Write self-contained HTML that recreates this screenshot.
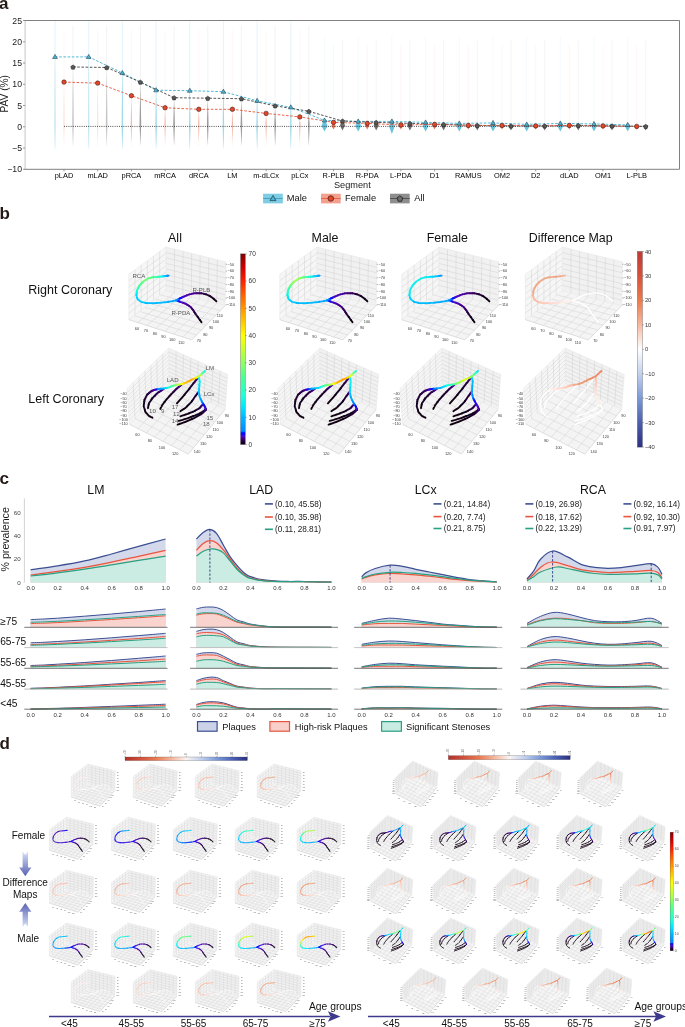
<!DOCTYPE html>
<html><head><meta charset="utf-8"><style>
html,body{margin:0;padding:0;background:#fff;}
svg{display:block;font-family:"Liberation Sans",sans-serif;-webkit-font-smoothing:antialiased;}
body{will-change:transform;}
</style></head><body>
<svg width="685" height="1027" viewBox="0 0 685 1027" fill="#222" font-family="Liberation Sans, sans-serif">
<defs><linearGradient id="gjet" x1="0" y1="0" x2="0" y2="1"><stop offset="0.0000" stop-color="#800000"/><stop offset="0.0714" stop-color="#d00000"/><stop offset="0.1429" stop-color="#ff2000"/><stop offset="0.2143" stop-color="#ff6000"/><stop offset="0.2857" stop-color="#ff9600"/><stop offset="0.3571" stop-color="#ffc800"/><stop offset="0.4286" stop-color="#ffff00"/><stop offset="0.5000" stop-color="#c8ff30"/><stop offset="0.5714" stop-color="#90ff60"/><stop offset="0.6429" stop-color="#50ff90"/><stop offset="0.7429" stop-color="#20ffd8"/><stop offset="0.8000" stop-color="#00e8ff"/><stop offset="0.8571" stop-color="#00b8ff"/><stop offset="0.9300" stop-color="#0088ff"/><stop offset="0.9386" stop-color="#0010ff"/><stop offset="0.9471" stop-color="#1400ff"/><stop offset="0.9543" stop-color="#3c10d8"/><stop offset="0.9629" stop-color="#5000a8"/><stop offset="0.9829" stop-color="#24003a"/><stop offset="1.0000" stop-color="#0a000c"/></linearGradient><linearGradient id="grdbu" x1="0" y1="0" x2="0" y2="1"><stop offset="0.0000" stop-color="#c03a36"/><stop offset="0.1250" stop-color="#d9503a"/><stop offset="0.2500" stop-color="#ee7a4a"/><stop offset="0.3750" stop-color="#f7b8a0"/><stop offset="0.5000" stop-color="#ffffff"/><stop offset="0.6250" stop-color="#c3d1ee"/><stop offset="0.7500" stop-color="#7b9ad8"/><stop offset="0.8750" stop-color="#4a5fb0"/><stop offset="1.0000" stop-color="#2e2f84"/></linearGradient><linearGradient id="grdbuh" x1="0" y1="0" x2="1" y2="0"><stop offset="0.0000" stop-color="#b2302a"/><stop offset="0.1250" stop-color="#d0503a"/><stop offset="0.2500" stop-color="#e8784f"/><stop offset="0.3750" stop-color="#f5b49a"/><stop offset="0.5000" stop-color="#fbf4f2"/><stop offset="0.6250" stop-color="#c0cfee"/><stop offset="0.7500" stop-color="#7d9bd8"/><stop offset="0.8750" stop-color="#4b62b8"/><stop offset="1.0000" stop-color="#2b2f80"/></linearGradient><linearGradient id="garrd" x1="0" y1="0" x2="0" y2="1"><stop offset="0" stop-color="#d7e1f6"/><stop offset="1" stop-color="#5a61b4"/></linearGradient><linearGradient id="garru" x1="0" y1="1" x2="0" y2="0"><stop offset="0" stop-color="#d7e1f6"/><stop offset="1" stop-color="#5a61b4"/></linearGradient><g id="rcbox" font-family="Liberation Sans, sans-serif"><path d="M128.8,274.2L165.9,247.0L165.9,290.8L128.8,319.7Z" fill="#f6f6f6"/><path d="M165.9,247.0L226.0,261.9L225.1,305.7L165.9,290.8Z" fill="#f1f1f1"/><path d="M128.8,319.7L165.9,290.8L225.1,305.7L191.8,339.9Z" fill="#f4f4f4"/><path d="M135.0,269.7L135.0,314.9M141.2,265.1L141.2,310.1M147.4,260.6L147.4,305.2M153.5,256.1L153.5,300.4M159.7,251.5L159.7,295.6M128.8,280.7L165.9,253.3M128.8,287.2L165.9,259.5M128.8,293.7L165.9,265.8M128.8,300.2L165.9,272.0M128.8,306.7L165.9,278.3M128.8,313.2L165.9,284.5M174.5,249.1L174.4,292.9M183.1,251.3L182.8,295.1M191.7,253.4L191.3,297.2M200.2,255.5L199.7,299.3M208.8,257.6L208.2,301.4M217.4,259.8L216.6,303.6M165.9,252.5L225.9,267.4M165.9,257.9L225.8,272.8M165.9,263.4L225.7,278.3M165.9,268.9L225.6,283.8M165.9,274.4L225.4,289.3M165.9,279.9L225.3,294.8M165.9,285.3L225.2,300.2M134.1,315.6L196.6,335.0M139.4,311.4L201.3,330.1M144.7,307.3L206.1,325.2M150.0,303.2L210.8,320.4M155.3,299.1L215.6,315.5M160.6,294.9L220.3,310.6M137.8,322.6L174.4,292.9M146.8,325.5L182.8,295.1M155.8,328.4L191.3,297.2M164.8,331.2L199.7,299.3M173.8,334.1L208.2,301.4M182.8,337.0L216.6,303.6" stroke="#cecece" stroke-width="0.45" fill="none"/><path d="M128.8,319.7L128.8,274.2L165.9,247.0L226.0,261.9L225.1,305.7M165.9,247.0L165.9,290.8L128.8,319.7M165.9,290.8L225.1,305.7" stroke="#e2e2e2" stroke-width="0.45" fill="none"/><path d="M128.8,319.7L191.8,339.9L225.1,305.7" stroke="#c8c8c8" stroke-width="0.54" fill="none"/><path d="M225.6,264.3h1.4M225.6,271.1h1.4M225.6,277.8h1.4M225.6,284.6h1.4M225.6,291.3h1.4M225.6,298.1h1.4M225.6,304.8h1.4" stroke="#555" stroke-width="0.4"/><text x="230.9" y="265.6" font-size="3.9" text-anchor="middle" fill="#3a3a3a">−50</text><text x="230.9" y="272.4" font-size="3.9" text-anchor="middle" fill="#3a3a3a">−60</text><text x="230.9" y="279.1" font-size="3.9" text-anchor="middle" fill="#3a3a3a">−70</text><text x="230.9" y="285.9" font-size="3.9" text-anchor="middle" fill="#3a3a3a">−80</text><text x="230.9" y="292.6" font-size="3.9" text-anchor="middle" fill="#3a3a3a">−90</text><text x="230.9" y="299.4" font-size="3.9" text-anchor="middle" fill="#3a3a3a">−100</text><text x="230.9" y="306.1" font-size="3.9" text-anchor="middle" fill="#3a3a3a">−110</text><text x="137.0" y="329.7" font-size="3.9" text-anchor="middle" fill="#3a3a3a">60</text><text x="146.0" y="332.3" font-size="3.9" text-anchor="middle" fill="#3a3a3a">70</text><text x="155.0" y="334.9" font-size="3.9" text-anchor="middle" fill="#3a3a3a">80</text><text x="163.4" y="337.6" font-size="3.9" text-anchor="middle" fill="#3a3a3a">90</text><text x="172.2" y="341.1" font-size="3.9" text-anchor="middle" fill="#3a3a3a">100</text><text x="181.3" y="343.7" font-size="3.9" text-anchor="middle" fill="#3a3a3a">110</text><text x="198.8" y="341.9" font-size="3.9" text-anchor="middle" fill="#3a3a3a">70</text><text x="205.3" y="335.8" font-size="3.9" text-anchor="middle" fill="#3a3a3a">80</text><text x="211.1" y="328.8" font-size="3.9" text-anchor="middle" fill="#3a3a3a">90</text><text x="216.0" y="322.7" font-size="3.9" text-anchor="middle" fill="#3a3a3a">100</text><text x="219.9" y="316.5" font-size="3.9" text-anchor="middle" fill="#3a3a3a">110</text></g><g id="lcbox" font-family="Liberation Sans, sans-serif"><path d="M127.0,388.4L168.7,348.1L168.7,383.5L129.5,424.3Z" fill="#f6f6f6"/><path d="M168.7,348.1L227.7,374.4L225.1,409.4L168.7,383.5Z" fill="#f1f1f1"/><path d="M129.5,424.3L168.7,383.5L225.1,409.4L188.3,454.1Z" fill="#f4f4f4"/><path d="M133.0,382.6L135.1,418.5M138.9,376.9L140.7,412.6M144.9,371.1L146.3,406.8M150.8,365.4L151.9,401.0M156.8,359.6L157.5,395.2M162.7,353.9L163.1,389.3M127.3,392.4L168.7,352.0M127.6,396.4L168.7,356.0M127.8,400.4L168.7,359.9M128.1,404.4L168.7,363.8M128.4,408.3L168.7,367.8M128.7,412.3L168.7,371.7M128.9,416.3L168.7,375.6M129.2,420.3L168.7,379.6M176.1,351.4L175.8,386.7M183.4,354.7L182.8,390.0M190.8,358.0L189.8,393.2M198.2,361.2L196.9,396.4M205.6,364.5L203.9,399.7M212.9,367.8L211.0,402.9M220.3,371.1L218.1,406.2M168.7,352.0L227.4,378.3M168.7,356.0L227.1,382.2M168.7,359.9L226.8,386.1M168.7,363.8L226.5,390.0M168.7,367.8L226.3,393.8M168.7,371.7L226.0,397.7M168.7,375.6L225.7,401.6M168.7,379.6L225.4,405.5M135.1,418.5L193.6,447.7M140.7,412.6L198.8,441.3M146.3,406.8L204.1,434.9M151.9,401.0L209.3,428.6M157.5,395.2L214.6,422.2M163.1,389.3L219.8,415.8M137.9,428.6L176.8,387.2M146.3,432.8L184.8,390.9M154.7,437.1L192.9,394.6M163.1,441.3L200.9,398.3M171.5,445.6L209.0,402.0M179.9,449.8L217.0,405.7" stroke="#cecece" stroke-width="0.45" fill="none"/><path d="M129.5,424.3L127.0,388.4L168.7,348.1L227.7,374.4L225.1,409.4M168.7,348.1L168.7,383.5L129.5,424.3M168.7,383.5L225.1,409.4" stroke="#e2e2e2" stroke-width="0.45" fill="none"/><path d="M129.5,424.3L188.3,454.1L225.1,409.4" stroke="#c8c8c8" stroke-width="0.54" fill="none"/><text x="123.5" y="395.2" font-size="3.9" text-anchor="middle" fill="#3a3a3a">−40</text><text x="123.5" y="399.5" font-size="3.9" text-anchor="middle" fill="#3a3a3a">−50</text><text x="123.5" y="403.8" font-size="3.9" text-anchor="middle" fill="#3a3a3a">−60</text><text x="123.5" y="408.1" font-size="3.9" text-anchor="middle" fill="#3a3a3a">−70</text><text x="123.5" y="412.4" font-size="3.9" text-anchor="middle" fill="#3a3a3a">−80</text><text x="123.5" y="416.7" font-size="3.9" text-anchor="middle" fill="#3a3a3a">−90</text><text x="123.5" y="421.0" font-size="3.9" text-anchor="middle" fill="#3a3a3a">−100</text><text x="123.5" y="425.3" font-size="3.9" text-anchor="middle" fill="#3a3a3a">−110</text><text x="137.5" y="436.1" font-size="3.9" text-anchor="middle" fill="#3a3a3a">60</text><text x="149.8" y="442.2" font-size="3.9" text-anchor="middle" fill="#3a3a3a">80</text><text x="162.0" y="448.7" font-size="3.9" text-anchor="middle" fill="#3a3a3a">100</text><text x="175.2" y="454.8" font-size="3.9" text-anchor="middle" fill="#3a3a3a">120</text><text x="226.9" y="416.8" font-size="3.9" text-anchor="middle" fill="#3a3a3a">90</text><text x="219.9" y="424.2" font-size="3.9" text-anchor="middle" fill="#3a3a3a">100</text><text x="215.5" y="430.8" font-size="3.9" text-anchor="middle" fill="#3a3a3a">110</text><text x="209.3" y="437.8" font-size="3.9" text-anchor="middle" fill="#3a3a3a">120</text><text x="203.2" y="444.8" font-size="3.9" text-anchor="middle" fill="#3a3a3a">130</text><text x="197.1" y="452.7" font-size="3.9" text-anchor="middle" fill="#3a3a3a">140</text></g><g id="rcbox_s" font-family="Liberation Sans, sans-serif"><path d="M128.8,274.2L165.9,247.0L165.9,290.8L128.8,319.7Z" fill="#f6f6f6"/><path d="M165.9,247.0L226.0,261.9L225.1,305.7L165.9,290.8Z" fill="#f1f1f1"/><path d="M128.8,319.7L165.9,290.8L225.1,305.7L191.8,339.9Z" fill="#f4f4f4"/><path d="M135.0,269.7L135.0,314.9M141.2,265.1L141.2,310.1M147.4,260.6L147.4,305.2M153.5,256.1L153.5,300.4M159.7,251.5L159.7,295.6M128.8,280.7L165.9,253.3M128.8,287.2L165.9,259.5M128.8,293.7L165.9,265.8M128.8,300.2L165.9,272.0M128.8,306.7L165.9,278.3M128.8,313.2L165.9,284.5M174.5,249.1L174.4,292.9M183.1,251.3L182.8,295.1M191.7,253.4L191.3,297.2M200.2,255.5L199.7,299.3M208.8,257.6L208.2,301.4M217.4,259.8L216.6,303.6M165.9,252.5L225.9,267.4M165.9,257.9L225.8,272.8M165.9,263.4L225.7,278.3M165.9,268.9L225.6,283.8M165.9,274.4L225.4,289.3M165.9,279.9L225.3,294.8M165.9,285.3L225.2,300.2M134.1,315.6L196.6,335.0M139.4,311.4L201.3,330.1M144.7,307.3L206.1,325.2M150.0,303.2L210.8,320.4M155.3,299.1L215.6,315.5M160.6,294.9L220.3,310.6M137.8,322.6L174.4,292.9M146.8,325.5L182.8,295.1M155.8,328.4L191.3,297.2M164.8,331.2L199.7,299.3M173.8,334.1L208.2,301.4M182.8,337.0L216.6,303.6" stroke="#d4d4d4" stroke-width="1.0" fill="none"/><path d="M128.8,319.7L128.8,274.2L165.9,247.0L226.0,261.9L225.1,305.7M165.9,247.0L165.9,290.8L128.8,319.7M165.9,290.8L225.1,305.7" stroke="#e2e2e2" stroke-width="1.0" fill="none"/><path d="M128.8,319.7L191.8,339.9L225.1,305.7" stroke="#c8c8c8" stroke-width="1.2" fill="none"/><text x="230.9" y="265.6" font-size="3.6" text-anchor="middle" fill="#555">−50</text><text x="230.9" y="272.4" font-size="3.6" text-anchor="middle" fill="#555">−60</text><text x="230.9" y="279.1" font-size="3.6" text-anchor="middle" fill="#555">−70</text><text x="230.9" y="285.9" font-size="3.6" text-anchor="middle" fill="#555">−80</text><text x="230.9" y="292.6" font-size="3.6" text-anchor="middle" fill="#555">−90</text><text x="230.9" y="299.4" font-size="3.6" text-anchor="middle" fill="#555">−100</text><text x="230.9" y="306.1" font-size="3.6" text-anchor="middle" fill="#555">−110</text><text x="137.0" y="329.7" font-size="3.6" text-anchor="middle" fill="#555">60</text><text x="146.0" y="332.3" font-size="3.6" text-anchor="middle" fill="#555">70</text><text x="155.0" y="334.9" font-size="3.6" text-anchor="middle" fill="#555">80</text><text x="163.4" y="337.6" font-size="3.6" text-anchor="middle" fill="#555">90</text><text x="172.2" y="341.1" font-size="3.6" text-anchor="middle" fill="#555">100</text><text x="181.3" y="343.7" font-size="3.6" text-anchor="middle" fill="#555">110</text><text x="198.8" y="341.9" font-size="3.6" text-anchor="middle" fill="#555">70</text><text x="205.3" y="335.8" font-size="3.6" text-anchor="middle" fill="#555">80</text><text x="211.1" y="328.8" font-size="3.6" text-anchor="middle" fill="#555">90</text><text x="216.0" y="322.7" font-size="3.6" text-anchor="middle" fill="#555">100</text><text x="219.9" y="316.5" font-size="3.6" text-anchor="middle" fill="#555">110</text></g><g id="lcbox_s" font-family="Liberation Sans, sans-serif"><path d="M127.0,388.4L168.7,348.1L168.7,383.5L129.5,424.3Z" fill="#f6f6f6"/><path d="M168.7,348.1L227.7,374.4L225.1,409.4L168.7,383.5Z" fill="#f1f1f1"/><path d="M129.5,424.3L168.7,383.5L225.1,409.4L188.3,454.1Z" fill="#f4f4f4"/><path d="M130.8,384.7L133.1,420.6M134.6,381.1L136.6,416.9M138.4,377.4L140.2,413.2M142.2,373.7L143.8,409.5M146.0,370.1L147.3,405.8M149.7,366.4L150.9,402.0M153.5,362.8L154.4,398.3M157.3,359.1L158.0,394.6M161.1,355.4L161.6,390.9M164.9,351.8L165.1,387.2M127.3,392.4L168.7,352.0M127.6,396.4L168.7,356.0M127.8,400.4L168.7,359.9M128.1,404.4L168.7,363.8M128.4,408.3L168.7,367.8M128.7,412.3L168.7,371.7M128.9,416.3L168.7,375.6M129.2,420.3L168.7,379.6M177.1,351.9L176.8,387.2M185.6,355.6L184.8,390.9M194.0,359.4L192.9,394.6M202.4,363.1L200.9,398.3M210.8,366.9L209.0,402.0M219.3,370.6L217.0,405.7M168.7,352.0L227.4,378.3M168.7,356.0L227.1,382.2M168.7,359.9L226.8,386.1M168.7,363.8L226.5,390.0M168.7,367.8L226.3,393.8M168.7,371.7L226.0,397.7M168.7,375.6L225.7,401.6M168.7,379.6L225.4,405.5M135.1,418.5L193.6,447.7M140.7,412.6L198.8,441.3M146.3,406.8L204.1,434.9M151.9,401.0L209.3,428.6M157.5,395.2L214.6,422.2M163.1,389.3L219.8,415.8M137.9,428.6L176.8,387.2M146.3,432.8L184.8,390.9M154.7,437.1L192.9,394.6M163.1,441.3L200.9,398.3M171.5,445.6L209.0,402.0M179.9,449.8L217.0,405.7" stroke="#d6d6d6" stroke-width="1.0" fill="none"/><path d="M129.5,424.3L127.0,388.4L168.7,348.1L227.7,374.4L225.1,409.4M168.7,348.1L168.7,383.5L129.5,424.3M168.7,383.5L225.1,409.4" stroke="#e2e2e2" stroke-width="1.0" fill="none"/><path d="M129.5,424.3L188.3,454.1L225.1,409.4" stroke="#c8c8c8" stroke-width="1.2" fill="none"/><text x="123.5" y="395.2" font-size="3.6" text-anchor="middle" fill="#555">−40</text><text x="123.5" y="399.5" font-size="3.6" text-anchor="middle" fill="#555">−50</text><text x="123.5" y="403.8" font-size="3.6" text-anchor="middle" fill="#555">−60</text><text x="123.5" y="408.1" font-size="3.6" text-anchor="middle" fill="#555">−70</text><text x="123.5" y="412.4" font-size="3.6" text-anchor="middle" fill="#555">−80</text><text x="123.5" y="416.7" font-size="3.6" text-anchor="middle" fill="#555">−90</text><text x="123.5" y="421.0" font-size="3.6" text-anchor="middle" fill="#555">−100</text><text x="123.5" y="425.3" font-size="3.6" text-anchor="middle" fill="#555">−110</text><text x="137.5" y="436.1" font-size="3.6" text-anchor="middle" fill="#555">60</text><text x="149.8" y="442.2" font-size="3.6" text-anchor="middle" fill="#555">80</text><text x="162.0" y="448.7" font-size="3.6" text-anchor="middle" fill="#555">100</text><text x="175.2" y="454.8" font-size="3.6" text-anchor="middle" fill="#555">120</text><text x="226.9" y="416.8" font-size="3.6" text-anchor="middle" fill="#555">90</text><text x="219.9" y="424.2" font-size="3.6" text-anchor="middle" fill="#555">100</text><text x="215.5" y="430.8" font-size="3.6" text-anchor="middle" fill="#555">110</text><text x="209.3" y="437.8" font-size="3.6" text-anchor="middle" fill="#555">120</text><text x="203.2" y="444.8" font-size="3.6" text-anchor="middle" fill="#555">130</text><text x="197.1" y="452.7" font-size="3.6" text-anchor="middle" fill="#555">140</text></g></defs>
<rect width="685" height="1027" fill="#fff"/>
<text x="-1.0" y="8.7" font-size="17" font-weight="bold" fill="#231815">a</text>
<line x1="55.0" y1="20.5" x2="55.0" y2="148.5" stroke="#4db8d6" stroke-opacity="0.15" stroke-width="1"/><line x1="64.0" y1="30.5" x2="64.0" y2="146" stroke="#e8603f" stroke-opacity="0.06" stroke-width="1"/><line x1="73.0" y1="25.5" x2="73.0" y2="145.5" stroke="#555555" stroke-opacity="0.07" stroke-width="1"/><line x1="88.7" y1="20.5" x2="88.7" y2="148.5" stroke="#4db8d6" stroke-opacity="0.15" stroke-width="1"/><line x1="97.7" y1="30.5" x2="97.7" y2="146" stroke="#e8603f" stroke-opacity="0.06" stroke-width="1"/><line x1="106.7" y1="25.5" x2="106.7" y2="145.5" stroke="#555555" stroke-opacity="0.07" stroke-width="1"/><line x1="122.4" y1="20.5" x2="122.4" y2="148.5" stroke="#4db8d6" stroke-opacity="0.15" stroke-width="1"/><line x1="131.4" y1="30.5" x2="131.4" y2="146" stroke="#e8603f" stroke-opacity="0.06" stroke-width="1"/><line x1="140.4" y1="25.5" x2="140.4" y2="145.5" stroke="#555555" stroke-opacity="0.07" stroke-width="1"/><line x1="156.1" y1="20.5" x2="156.1" y2="148.5" stroke="#4db8d6" stroke-opacity="0.15" stroke-width="1"/><line x1="165.1" y1="30.5" x2="165.1" y2="146" stroke="#e8603f" stroke-opacity="0.06" stroke-width="1"/><line x1="174.1" y1="25.5" x2="174.1" y2="145.5" stroke="#555555" stroke-opacity="0.07" stroke-width="1"/><line x1="189.8" y1="20.5" x2="189.8" y2="148.5" stroke="#4db8d6" stroke-opacity="0.15" stroke-width="1"/><line x1="198.8" y1="30.5" x2="198.8" y2="146" stroke="#e8603f" stroke-opacity="0.06" stroke-width="1"/><line x1="207.8" y1="25.5" x2="207.8" y2="145.5" stroke="#555555" stroke-opacity="0.07" stroke-width="1"/><line x1="223.4" y1="20.5" x2="223.4" y2="148.5" stroke="#4db8d6" stroke-opacity="0.15" stroke-width="1"/><line x1="232.4" y1="30.5" x2="232.4" y2="146" stroke="#e8603f" stroke-opacity="0.06" stroke-width="1"/><line x1="241.4" y1="25.5" x2="241.4" y2="145.5" stroke="#555555" stroke-opacity="0.07" stroke-width="1"/><line x1="257.1" y1="20.5" x2="257.1" y2="148.5" stroke="#4db8d6" stroke-opacity="0.15" stroke-width="1"/><line x1="266.1" y1="30.5" x2="266.1" y2="146" stroke="#e8603f" stroke-opacity="0.06" stroke-width="1"/><line x1="275.1" y1="25.5" x2="275.1" y2="145.5" stroke="#555555" stroke-opacity="0.07" stroke-width="1"/><line x1="290.8" y1="20.5" x2="290.8" y2="148.5" stroke="#4db8d6" stroke-opacity="0.15" stroke-width="1"/><line x1="299.8" y1="30.5" x2="299.8" y2="146" stroke="#e8603f" stroke-opacity="0.06" stroke-width="1"/><line x1="308.8" y1="25.5" x2="308.8" y2="145.5" stroke="#555555" stroke-opacity="0.07" stroke-width="1"/><line x1="324.5" y1="35.5" x2="324.5" y2="125" stroke="#4db8d6" stroke-opacity="0.08" stroke-width="0.8"/><line x1="333.5" y1="45.5" x2="333.5" y2="125" stroke="#e8603f" stroke-opacity="0.08" stroke-width="0.8"/><line x1="342.5" y1="40.5" x2="342.5" y2="125" stroke="#555555" stroke-opacity="0.08" stroke-width="0.8"/><line x1="358.2" y1="35.5" x2="358.2" y2="125" stroke="#4db8d6" stroke-opacity="0.08" stroke-width="0.8"/><line x1="367.2" y1="45.5" x2="367.2" y2="125" stroke="#e8603f" stroke-opacity="0.08" stroke-width="0.8"/><line x1="376.2" y1="40.5" x2="376.2" y2="125" stroke="#555555" stroke-opacity="0.08" stroke-width="0.8"/><line x1="391.9" y1="35.5" x2="391.9" y2="125" stroke="#4db8d6" stroke-opacity="0.08" stroke-width="0.8"/><line x1="400.9" y1="45.5" x2="400.9" y2="125" stroke="#e8603f" stroke-opacity="0.08" stroke-width="0.8"/><line x1="409.9" y1="40.5" x2="409.9" y2="125" stroke="#555555" stroke-opacity="0.08" stroke-width="0.8"/><line x1="425.6" y1="35.5" x2="425.6" y2="125" stroke="#4db8d6" stroke-opacity="0.08" stroke-width="0.8"/><line x1="434.6" y1="45.5" x2="434.6" y2="125" stroke="#e8603f" stroke-opacity="0.08" stroke-width="0.8"/><line x1="443.6" y1="40.5" x2="443.6" y2="125" stroke="#555555" stroke-opacity="0.08" stroke-width="0.8"/><line x1="459.3" y1="35.5" x2="459.3" y2="125" stroke="#4db8d6" stroke-opacity="0.08" stroke-width="0.8"/><line x1="468.3" y1="45.5" x2="468.3" y2="125" stroke="#e8603f" stroke-opacity="0.08" stroke-width="0.8"/><line x1="477.3" y1="40.5" x2="477.3" y2="125" stroke="#555555" stroke-opacity="0.08" stroke-width="0.8"/><line x1="493.0" y1="35.5" x2="493.0" y2="125" stroke="#4db8d6" stroke-opacity="0.08" stroke-width="0.8"/><line x1="502.0" y1="45.5" x2="502.0" y2="125" stroke="#e8603f" stroke-opacity="0.08" stroke-width="0.8"/><line x1="511.0" y1="40.5" x2="511.0" y2="125" stroke="#555555" stroke-opacity="0.08" stroke-width="0.8"/><line x1="526.7" y1="35.5" x2="526.7" y2="125" stroke="#4db8d6" stroke-opacity="0.08" stroke-width="0.8"/><line x1="535.7" y1="45.5" x2="535.7" y2="125" stroke="#e8603f" stroke-opacity="0.08" stroke-width="0.8"/><line x1="544.7" y1="40.5" x2="544.7" y2="125" stroke="#555555" stroke-opacity="0.08" stroke-width="0.8"/><line x1="560.3" y1="35.5" x2="560.3" y2="125" stroke="#4db8d6" stroke-opacity="0.08" stroke-width="0.8"/><line x1="569.3" y1="45.5" x2="569.3" y2="125" stroke="#e8603f" stroke-opacity="0.08" stroke-width="0.8"/><line x1="578.3" y1="40.5" x2="578.3" y2="125" stroke="#555555" stroke-opacity="0.08" stroke-width="0.8"/><line x1="594.0" y1="35.5" x2="594.0" y2="125" stroke="#4db8d6" stroke-opacity="0.08" stroke-width="0.8"/><line x1="603.0" y1="45.5" x2="603.0" y2="125" stroke="#e8603f" stroke-opacity="0.08" stroke-width="0.8"/><line x1="612.0" y1="40.5" x2="612.0" y2="125" stroke="#555555" stroke-opacity="0.08" stroke-width="0.8"/><line x1="627.7" y1="35.5" x2="627.7" y2="125" stroke="#4db8d6" stroke-opacity="0.08" stroke-width="0.8"/><line x1="636.7" y1="45.5" x2="636.7" y2="125" stroke="#e8603f" stroke-opacity="0.08" stroke-width="0.8"/><line x1="645.7" y1="40.5" x2="645.7" y2="125" stroke="#555555" stroke-opacity="0.08" stroke-width="0.8"/>
<path d="M55.0,48.9 Q55.5,88.0 55.8,127.0 Q55.4,137.5 55.0,148.0 Q54.6,137.5 54.2,127.0 Q54.5,88.0 55.0,48.9Z" fill="#4db8d6" fill-opacity="0.22"/><path d="M64.0,84.1 Q64.4,104.0 64.7,124.0 Q64.3,133.0 64.0,142.0 Q63.6,133.0 63.3,124.0 Q63.6,104.0 64.0,84.1Z" fill="#e8603f" fill-opacity="0.15"/><path d="M73.0,69.0 Q73.5,96.5 73.8,124.0 Q73.4,134.5 73.0,145.0 Q72.6,134.5 72.2,124.0 Q72.5,96.5 73.0,69.0Z" fill="#555555" fill-opacity="0.3"/><path d="M88.7,48.9 Q89.2,88.0 89.5,127.0 Q89.1,137.5 88.7,148.0 Q88.3,137.5 87.9,127.0 Q88.2,88.0 88.7,48.9Z" fill="#4db8d6" fill-opacity="0.22"/><path d="M97.7,85.1 Q98.1,104.5 98.4,124.0 Q98.0,133.0 97.7,142.0 Q97.3,133.0 97.0,124.0 Q97.3,104.5 97.7,85.1Z" fill="#e8603f" fill-opacity="0.15"/><path d="M106.7,69.5 Q107.2,96.8 107.5,124.0 Q107.1,134.5 106.7,145.0 Q106.3,134.5 105.8,124.0 Q106.2,96.8 106.7,69.5Z" fill="#555555" fill-opacity="0.3"/><path d="M122.4,65.0 Q122.9,96.0 123.2,127.0 Q122.8,137.5 122.4,148.0 Q122.0,137.5 121.6,127.0 Q121.9,96.0 122.4,65.0Z" fill="#4db8d6" fill-opacity="0.45"/><path d="M131.4,97.7 Q131.8,110.8 132.1,124.0 Q131.7,133.0 131.4,142.0 Q131.0,133.0 130.7,124.0 Q131.0,110.8 131.4,97.7Z" fill="#e8603f" fill-opacity="0.4"/><path d="M140.4,84.1 Q140.9,104.0 141.2,124.0 Q140.8,134.5 140.4,145.0 Q140.0,134.5 139.5,124.0 Q139.9,104.0 140.4,84.1Z" fill="#555555" fill-opacity="0.55"/><path d="M156.1,82.2 Q156.5,104.6 156.9,127.0 Q156.5,137.5 156.1,148.0 Q155.7,137.5 155.3,127.0 Q155.6,104.6 156.1,82.2Z" fill="#4db8d6" fill-opacity="0.45"/><path d="M165.1,109.8 Q165.5,116.9 165.8,124.0 Q165.4,133.0 165.1,142.0 Q164.7,133.0 164.4,124.0 Q164.7,116.9 165.1,109.8Z" fill="#e8603f" fill-opacity="0.4"/><path d="M174.1,99.7 Q174.6,111.8 174.9,124.0 Q174.5,134.5 174.1,145.0 Q173.6,134.5 173.2,124.0 Q173.6,111.8 174.1,99.7Z" fill="#555555" fill-opacity="0.55"/><path d="M189.8,82.7 Q190.2,104.8 190.6,127.0 Q190.2,137.5 189.8,148.0 Q189.4,137.5 189.0,127.0 Q189.3,104.8 189.8,82.7Z" fill="#4db8d6" fill-opacity="0.45"/><path d="M198.8,111.3 Q199.2,117.7 199.5,124.0 Q199.1,133.0 198.8,142.0 Q198.4,133.0 198.1,124.0 Q198.3,117.7 198.8,111.3Z" fill="#e8603f" fill-opacity="0.4"/><path d="M207.8,100.2 Q208.3,112.1 208.6,124.0 Q208.2,134.5 207.8,145.0 Q207.3,134.5 206.9,124.0 Q207.2,112.1 207.8,100.2Z" fill="#555555" fill-opacity="0.55"/><path d="M223.4,83.7 Q223.9,105.3 224.2,127.0 Q223.8,137.5 223.4,148.0 Q223.0,137.5 222.6,127.0 Q223.0,105.3 223.4,83.7Z" fill="#4db8d6" fill-opacity="0.45"/><path d="M232.4,111.3 Q232.9,117.7 233.1,124.0 Q232.8,133.0 232.4,142.0 Q232.1,133.0 231.8,124.0 Q232.0,117.7 232.4,111.3Z" fill="#e8603f" fill-opacity="0.4"/><path d="M241.4,100.7 Q242.0,112.3 242.3,124.0 Q241.9,134.5 241.4,145.0 Q241.0,134.5 240.6,124.0 Q240.9,112.3 241.4,100.7Z" fill="#555555" fill-opacity="0.55"/><path d="M257.1,92.8 Q257.6,109.9 257.9,127.0 Q257.5,137.5 257.1,148.0 Q256.7,137.5 256.3,127.0 Q256.7,109.9 257.1,92.8Z" fill="#4db8d6" fill-opacity="0.45"/><path d="M266.1,115.4 Q266.6,119.7 266.8,124.0 Q266.5,133.0 266.1,142.0 Q265.8,133.0 265.4,124.0 Q265.7,119.7 266.1,115.4Z" fill="#e8603f" fill-opacity="0.4"/><path d="M275.1,107.8 Q275.6,115.9 276.0,124.0 Q275.6,134.5 275.1,145.0 Q274.7,134.5 274.3,124.0 Q274.6,115.9 275.1,107.8Z" fill="#555555" fill-opacity="0.55"/><path d="M290.8,99.3 Q291.3,113.2 291.6,127.0 Q291.2,137.5 290.8,148.0 Q290.4,137.5 290.0,127.0 Q290.3,113.2 290.8,99.3Z" fill="#4db8d6" fill-opacity="0.45"/><path d="M299.8,118.9 Q300.2,121.5 300.5,124.0 Q300.2,133.0 299.8,142.0 Q299.5,133.0 299.1,124.0 Q299.4,121.5 299.8,118.9Z" fill="#e8603f" fill-opacity="0.4"/><path d="M308.8,113.3 Q309.3,118.7 309.7,124.0 Q309.3,134.5 308.8,145.0 Q308.4,134.5 308.0,124.0 Q308.3,118.7 308.8,113.3Z" fill="#555555" fill-opacity="0.55"/><path d="M324.5,118.9 Q326.3,122.5 327.5,126.0 Q326.0,128.8 324.5,131.5 Q323.0,128.8 321.5,126.0 Q322.7,122.5 324.5,118.9Z" fill="#4db8d6" fill-opacity="0.85"/><path d="M333.5,121.4 Q334.7,123.7 335.5,126.0 Q334.5,127.8 333.5,129.5 Q332.5,127.8 331.5,126.0 Q332.3,123.7 333.5,121.4Z" fill="#e8603f" fill-opacity="0.85"/><path d="M342.5,119.5 Q344.1,122.5 345.1,125.5 Q343.8,128.0 342.5,130.5 Q341.2,128.0 339.9,125.5 Q341.0,122.5 342.5,119.5Z" fill="#555555" fill-opacity="0.85"/><path d="M358.2,119.9 Q360.0,123.0 361.2,126.0 Q359.7,128.8 358.2,131.5 Q356.7,128.8 355.2,126.0 Q356.4,123.0 358.2,119.9Z" fill="#4db8d6" fill-opacity="0.85"/><path d="M367.2,122.4 Q368.4,124.2 369.2,126.0 Q368.2,127.8 367.2,129.5 Q366.2,127.8 365.2,126.0 Q366.0,124.2 367.2,122.4Z" fill="#e8603f" fill-opacity="0.85"/><path d="M376.2,120.9 Q377.8,123.2 378.8,125.5 Q377.5,128.0 376.2,130.5 Q374.9,128.0 373.6,125.5 Q374.6,123.2 376.2,120.9Z" fill="#555555" fill-opacity="0.85"/><path d="M391.9,119.9 Q393.7,123.0 394.9,126.0 Q393.4,130.0 391.9,134.0 Q390.4,130.0 388.9,126.0 Q390.1,123.0 391.9,119.9Z" fill="#4db8d6" fill-opacity="0.85"/><path d="M400.9,124.0 Q402.1,125.0 402.9,126.0 Q401.9,127.8 400.9,129.5 Q399.9,127.8 398.9,126.0 Q399.7,125.0 400.9,124.0Z" fill="#e8603f" fill-opacity="0.85"/><path d="M409.9,121.9 Q411.5,123.7 412.5,125.5 Q411.2,128.0 409.9,130.5 Q408.6,128.0 407.3,125.5 Q408.3,123.7 409.9,121.9Z" fill="#555555" fill-opacity="0.85"/><path d="M425.6,120.9 Q427.4,123.5 428.6,126.0 Q427.1,128.8 425.6,131.5 Q424.1,128.8 422.6,126.0 Q423.8,123.5 425.6,120.9Z" fill="#4db8d6" fill-opacity="0.85"/><path d="M434.6,123.4 Q435.8,124.7 436.6,126.0 Q435.6,127.8 434.6,129.5 Q433.6,127.8 432.6,126.0 Q433.4,124.7 434.6,123.4Z" fill="#e8603f" fill-opacity="0.85"/><path d="M443.6,122.9 Q445.1,124.2 446.2,125.5 Q444.9,128.0 443.6,130.5 Q442.3,128.0 441.0,125.5 Q442.0,124.2 443.6,122.9Z" fill="#555555" fill-opacity="0.85"/><path d="M459.3,121.9 Q461.1,124.0 462.3,126.0 Q460.8,128.8 459.3,131.5 Q457.8,128.8 456.3,126.0 Q457.5,124.0 459.3,121.9Z" fill="#4db8d6" fill-opacity="0.85"/><path d="M468.3,124.4 Q469.5,125.2 470.3,126.0 Q469.3,127.8 468.3,129.5 Q467.3,127.8 466.3,126.0 Q467.1,125.2 468.3,124.4Z" fill="#e8603f" fill-opacity="0.85"/><path d="M477.3,123.9 Q478.8,124.7 479.9,125.5 Q478.6,128.0 477.3,130.5 Q476.0,128.0 474.7,125.5 Q475.7,124.7 477.3,123.9Z" fill="#555555" fill-opacity="0.85"/><path d="M493.0,121.4 Q494.8,123.7 496.0,126.0 Q494.5,128.8 493.0,131.5 Q491.5,128.8 490.0,126.0 Q491.2,123.7 493.0,121.4Z" fill="#4db8d6" fill-opacity="0.85"/><path d="M502.0,124.4 Q503.2,125.2 504.0,126.0 Q503.0,127.8 502.0,129.5 Q501.0,127.8 500.0,126.0 Q500.8,125.2 502.0,124.4Z" fill="#e8603f" fill-opacity="0.85"/><path d="M511.0,124.4 Q512.5,125.0 513.6,125.5 Q512.3,128.0 511.0,130.5 Q509.7,128.0 508.4,125.5 Q509.4,125.0 511.0,124.4Z" fill="#555555" fill-opacity="0.85"/><path d="M526.7,122.9 Q528.5,124.5 529.7,126.0 Q528.2,128.8 526.7,131.5 Q525.2,128.8 523.7,126.0 Q524.9,124.5 526.7,122.9Z" fill="#4db8d6" fill-opacity="0.85"/><path d="M535.7,124.9 Q536.9,125.5 537.7,126.0 Q536.7,127.8 535.7,129.5 Q534.7,127.8 533.7,126.0 Q534.5,125.5 535.7,124.9Z" fill="#e8603f" fill-opacity="0.85"/><path d="M544.7,124.4 Q546.2,125.0 547.3,125.5 Q546.0,128.0 544.7,130.5 Q543.4,128.0 542.1,125.5 Q543.1,125.0 544.7,124.4Z" fill="#555555" fill-opacity="0.85"/><path d="M560.3,121.9 Q562.1,124.0 563.3,126.0 Q561.8,128.8 560.3,131.5 Q558.8,128.8 557.3,126.0 Q558.5,124.0 560.3,121.9Z" fill="#4db8d6" fill-opacity="0.85"/><path d="M569.3,124.4 Q570.5,125.2 571.3,126.0 Q570.3,127.8 569.3,129.5 Q568.3,127.8 567.3,126.0 Q568.1,125.2 569.3,124.4Z" fill="#e8603f" fill-opacity="0.85"/><path d="M578.3,123.9 Q579.9,124.7 580.9,125.5 Q579.6,128.0 578.3,130.5 Q577.0,128.0 575.7,125.5 Q576.8,124.7 578.3,123.9Z" fill="#555555" fill-opacity="0.85"/><path d="M594.0,122.4 Q595.8,124.2 597.0,126.0 Q595.5,128.8 594.0,131.5 Q592.5,128.8 591.0,126.0 Q592.2,124.2 594.0,122.4Z" fill="#4db8d6" fill-opacity="0.85"/><path d="M603.0,124.9 Q604.2,125.5 605.0,126.0 Q604.0,127.8 603.0,129.5 Q602.0,127.8 601.0,126.0 Q601.8,125.5 603.0,124.9Z" fill="#e8603f" fill-opacity="0.85"/><path d="M612.0,124.4 Q613.6,125.0 614.6,125.5 Q613.3,128.0 612.0,130.5 Q610.7,128.0 609.4,125.5 Q610.5,125.0 612.0,124.4Z" fill="#555555" fill-opacity="0.85"/><path d="M627.7,123.4 Q629.5,124.7 630.7,126.0 Q629.2,128.8 627.7,131.5 Q626.2,128.8 624.7,126.0 Q625.9,124.7 627.7,123.4Z" fill="#4db8d6" fill-opacity="0.85"/><path d="M636.7,125.4 Q637.9,125.7 638.7,126.0 Q637.7,127.8 636.7,129.5 Q635.7,127.8 634.7,126.0 Q635.5,125.7 636.7,125.4Z" fill="#e8603f" fill-opacity="0.85"/><path d="M645.7,124.9 Q647.3,125.2 648.3,125.5 Q647.0,128.0 645.7,130.5 Q644.4,128.0 643.1,125.5 Q644.2,125.2 645.7,124.9Z" fill="#555555" fill-opacity="0.85"/>
<line x1="64" y1="126.4" x2="646" y2="126.4" stroke="#222" stroke-width="0.8" stroke-dasharray="1,1.2"/>
<polyline points="55.0,56.9 88.7,56.9 122.4,73.0 156.1,90.2 189.8,90.7 223.4,91.7 257.1,100.8 290.8,107.3 324.5,120.4 358.2,121.4 391.9,121.4 425.6,122.4 459.3,123.4 493.0,122.9 526.7,124.4 560.3,123.4 594.0,123.9 627.7,124.9" fill="none" stroke="#3fb0d4" stroke-width="0.9" stroke-dasharray="2.6,1.6"/>
<polyline points="73.0,67.0 106.7,67.5 140.4,82.1 174.1,97.7 207.8,98.2 241.4,98.7 275.1,105.8 308.8,111.3 342.5,121.0 376.2,122.4 409.9,123.4 443.6,124.4 477.3,125.4 511.0,125.9 544.7,125.9 578.3,125.4 612.0,125.9 645.7,126.4" fill="none" stroke="#444444" stroke-width="0.9" stroke-dasharray="2.6,1.6"/>
<polyline points="64.0,82.1 97.7,83.1 131.4,95.7 165.1,107.8 198.8,109.3 232.4,109.3 266.1,113.4 299.8,116.9 333.5,122.4 367.2,123.4 400.9,125.0 434.6,124.4 468.3,125.4 502.0,125.4 535.7,125.9 569.3,125.4 603.0,125.9 636.7,126.4" fill="none" stroke="#e8553a" stroke-width="0.9" stroke-dasharray="2.6,1.6"/>
<path d="M55.0,54.4 L57.4,58.5 L52.6,58.5Z" fill="#4cb3d3" stroke="#1d3b4a" stroke-width="0.55"/><circle cx="64.0" cy="82.1" r="2.25" fill="#e2462b" stroke="#3a1a12" stroke-width="0.55"/><polygon points="73.00,64.95 75.23,66.57 74.38,69.20 71.62,69.20 70.77,66.57" fill="#575757" stroke="#222" stroke-width="0.55"/><path d="M88.7,54.4 L91.0,58.5 L86.3,58.5Z" fill="#4cb3d3" stroke="#1d3b4a" stroke-width="0.55"/><circle cx="97.7" cy="83.1" r="2.25" fill="#e2462b" stroke="#3a1a12" stroke-width="0.55"/><polygon points="106.69,65.45 108.92,67.07 108.07,69.70 105.31,69.70 104.46,67.07" fill="#575757" stroke="#222" stroke-width="0.55"/><path d="M122.4,70.5 L124.7,74.6 L120.0,74.6Z" fill="#4cb3d3" stroke="#1d3b4a" stroke-width="0.55"/><circle cx="131.4" cy="95.7" r="2.25" fill="#e2462b" stroke="#3a1a12" stroke-width="0.55"/><polygon points="140.38,80.05 142.61,81.67 141.76,84.30 139.00,84.30 138.15,81.67" fill="#575757" stroke="#222" stroke-width="0.55"/><path d="M156.1,87.7 L158.4,91.8 L153.7,91.8Z" fill="#4cb3d3" stroke="#1d3b4a" stroke-width="0.55"/><circle cx="165.1" cy="107.8" r="2.25" fill="#e2462b" stroke="#3a1a12" stroke-width="0.55"/><polygon points="174.07,95.65 176.30,97.27 175.45,99.90 172.69,99.90 171.84,97.27" fill="#575757" stroke="#222" stroke-width="0.55"/><path d="M189.8,88.2 L192.1,92.3 L187.4,92.3Z" fill="#4cb3d3" stroke="#1d3b4a" stroke-width="0.55"/><circle cx="198.8" cy="109.3" r="2.25" fill="#e2462b" stroke="#3a1a12" stroke-width="0.55"/><polygon points="207.76,96.15 209.99,97.77 209.14,100.40 206.38,100.40 205.53,97.77" fill="#575757" stroke="#222" stroke-width="0.55"/><path d="M223.4,89.2 L225.8,93.3 L221.1,93.3Z" fill="#4cb3d3" stroke="#1d3b4a" stroke-width="0.55"/><circle cx="232.4" cy="109.3" r="2.25" fill="#e2462b" stroke="#3a1a12" stroke-width="0.55"/><polygon points="241.45,96.65 243.68,98.27 242.83,100.90 240.07,100.90 239.22,98.27" fill="#575757" stroke="#222" stroke-width="0.55"/><path d="M257.1,98.3 L259.5,102.4 L254.8,102.4Z" fill="#4cb3d3" stroke="#1d3b4a" stroke-width="0.55"/><circle cx="266.1" cy="113.4" r="2.25" fill="#e2462b" stroke="#3a1a12" stroke-width="0.55"/><polygon points="275.14,103.75 277.37,105.37 276.52,108.00 273.76,108.00 272.91,105.37" fill="#575757" stroke="#222" stroke-width="0.55"/><path d="M290.8,104.8 L293.2,108.9 L288.5,108.9Z" fill="#4cb3d3" stroke="#1d3b4a" stroke-width="0.55"/><circle cx="299.8" cy="116.9" r="2.25" fill="#e2462b" stroke="#3a1a12" stroke-width="0.55"/><polygon points="308.83,109.25 311.06,110.87 310.21,113.50 307.45,113.50 306.60,110.87" fill="#575757" stroke="#222" stroke-width="0.55"/><path d="M324.5,117.9 L326.9,122.0 L322.2,122.0Z" fill="#4cb3d3" stroke="#1d3b4a" stroke-width="0.55"/><circle cx="333.5" cy="122.4" r="2.25" fill="#e2462b" stroke="#3a1a12" stroke-width="0.55"/><polygon points="342.52,118.95 344.75,120.57 343.90,123.20 341.14,123.20 340.29,120.57" fill="#575757" stroke="#222" stroke-width="0.55"/><path d="M358.2,118.9 L360.6,123.0 L355.9,123.0Z" fill="#4cb3d3" stroke="#1d3b4a" stroke-width="0.55"/><circle cx="367.2" cy="123.4" r="2.25" fill="#e2462b" stroke="#3a1a12" stroke-width="0.55"/><polygon points="376.21,120.35 378.44,121.97 377.59,124.60 374.83,124.60 373.98,121.97" fill="#575757" stroke="#222" stroke-width="0.55"/><path d="M391.9,118.9 L394.2,123.0 L389.5,123.0Z" fill="#4cb3d3" stroke="#1d3b4a" stroke-width="0.55"/><circle cx="400.9" cy="125.0" r="2.25" fill="#e2462b" stroke="#3a1a12" stroke-width="0.55"/><polygon points="409.90,121.35 412.13,122.97 411.28,125.60 408.52,125.60 407.67,122.97" fill="#575757" stroke="#222" stroke-width="0.55"/><path d="M425.6,119.9 L427.9,124.0 L423.2,124.0Z" fill="#4cb3d3" stroke="#1d3b4a" stroke-width="0.55"/><circle cx="434.6" cy="124.4" r="2.25" fill="#e2462b" stroke="#3a1a12" stroke-width="0.55"/><polygon points="443.59,122.35 445.82,123.97 444.97,126.60 442.21,126.60 441.36,123.97" fill="#575757" stroke="#222" stroke-width="0.55"/><path d="M459.3,120.9 L461.6,125.0 L456.9,125.0Z" fill="#4cb3d3" stroke="#1d3b4a" stroke-width="0.55"/><circle cx="468.3" cy="125.4" r="2.25" fill="#e2462b" stroke="#3a1a12" stroke-width="0.55"/><polygon points="477.28,123.35 479.51,124.97 478.66,127.60 475.90,127.60 475.05,124.97" fill="#575757" stroke="#222" stroke-width="0.55"/><path d="M493.0,120.4 L495.3,124.5 L490.6,124.5Z" fill="#4cb3d3" stroke="#1d3b4a" stroke-width="0.55"/><circle cx="502.0" cy="125.4" r="2.25" fill="#e2462b" stroke="#3a1a12" stroke-width="0.55"/><polygon points="510.97,123.85 513.20,125.47 512.35,128.10 509.59,128.10 508.74,125.47" fill="#575757" stroke="#222" stroke-width="0.55"/><path d="M526.7,121.9 L529.0,126.0 L524.3,126.0Z" fill="#4cb3d3" stroke="#1d3b4a" stroke-width="0.55"/><circle cx="535.7" cy="125.9" r="2.25" fill="#e2462b" stroke="#3a1a12" stroke-width="0.55"/><polygon points="544.66,123.85 546.89,125.47 546.04,128.10 543.28,128.10 542.43,125.47" fill="#575757" stroke="#222" stroke-width="0.55"/><path d="M560.3,120.9 L562.7,125.0 L558.0,125.0Z" fill="#4cb3d3" stroke="#1d3b4a" stroke-width="0.55"/><circle cx="569.3" cy="125.4" r="2.25" fill="#e2462b" stroke="#3a1a12" stroke-width="0.55"/><polygon points="578.35,123.35 580.58,124.97 579.73,127.60 576.97,127.60 576.12,124.97" fill="#575757" stroke="#222" stroke-width="0.55"/><path d="M594.0,121.4 L596.4,125.5 L591.7,125.5Z" fill="#4cb3d3" stroke="#1d3b4a" stroke-width="0.55"/><circle cx="603.0" cy="125.9" r="2.25" fill="#e2462b" stroke="#3a1a12" stroke-width="0.55"/><polygon points="612.04,123.85 614.27,125.47 613.42,128.10 610.66,128.10 609.81,125.47" fill="#575757" stroke="#222" stroke-width="0.55"/><path d="M627.7,122.4 L630.1,126.5 L625.4,126.5Z" fill="#4cb3d3" stroke="#1d3b4a" stroke-width="0.55"/><circle cx="636.7" cy="126.4" r="2.25" fill="#e2462b" stroke="#3a1a12" stroke-width="0.55"/><polygon points="645.73,124.35 647.96,125.97 647.11,128.60 644.35,128.60 643.50,125.97" fill="#575757" stroke="#222" stroke-width="0.55"/>
<line x1="25.1" y1="20.5" x2="25.1" y2="169.3" stroke="#c6c6c6" stroke-width="1"/>
<path d="M24.6,20.5H679.5V169.3H24.6" fill="none" stroke="#808080" stroke-width="1"/>
<line x1="23" y1="20.5" x2="25.1" y2="20.5" stroke="#808080" stroke-width="0.8"/><text x="22.0" y="23.6" font-size="8.7" text-anchor="end">25</text><line x1="23" y1="41.8" x2="25.1" y2="41.8" stroke="#808080" stroke-width="0.8"/><text x="22.0" y="44.9" font-size="8.7" text-anchor="end">20</text><line x1="23" y1="63.0" x2="25.1" y2="63.0" stroke="#808080" stroke-width="0.8"/><text x="22.0" y="66.1" font-size="8.7" text-anchor="end">15</text><line x1="23" y1="84.3" x2="25.1" y2="84.3" stroke="#808080" stroke-width="0.8"/><text x="22.0" y="87.4" font-size="8.7" text-anchor="end">10</text><line x1="23" y1="105.5" x2="25.1" y2="105.5" stroke="#808080" stroke-width="0.8"/><text x="22.0" y="108.6" font-size="8.7" text-anchor="end">5</text><line x1="23" y1="126.8" x2="25.1" y2="126.8" stroke="#808080" stroke-width="0.8"/><text x="22.0" y="129.9" font-size="8.7" text-anchor="end">0</text><line x1="23" y1="148.0" x2="25.1" y2="148.0" stroke="#808080" stroke-width="0.8"/><text x="22.0" y="151.1" font-size="8.7" text-anchor="end">−5</text><line x1="23" y1="169.3" x2="25.1" y2="169.3" stroke="#808080" stroke-width="0.8"/><text x="22.0" y="172.4" font-size="8.7" text-anchor="end">−10</text>
<text transform="translate(7.8,93.8) rotate(-90)" text-anchor="middle" font-size="10.2" fill="#1a1a1a">PAV (%)</text>
<text x="64.0" y="178.2" font-size="7.4" text-anchor="middle" fill="#000">pLAD</text><line x1="64.0" y1="169.3" x2="64.0" y2="171.3" stroke="#808080" stroke-width="0.8"/><text x="97.7" y="178.2" font-size="7.4" text-anchor="middle" fill="#000">mLAD</text><line x1="97.7" y1="169.3" x2="97.7" y2="171.3" stroke="#808080" stroke-width="0.8"/><text x="131.4" y="178.2" font-size="7.4" text-anchor="middle" fill="#000">pRCA</text><line x1="131.4" y1="169.3" x2="131.4" y2="171.3" stroke="#808080" stroke-width="0.8"/><text x="165.1" y="178.2" font-size="7.4" text-anchor="middle" fill="#000">mRCA</text><line x1="165.1" y1="169.3" x2="165.1" y2="171.3" stroke="#808080" stroke-width="0.8"/><text x="198.8" y="178.2" font-size="7.4" text-anchor="middle" fill="#000">dRCA</text><line x1="198.8" y1="169.3" x2="198.8" y2="171.3" stroke="#808080" stroke-width="0.8"/><text x="232.4" y="178.2" font-size="7.4" text-anchor="middle" fill="#000">LM</text><line x1="232.4" y1="169.3" x2="232.4" y2="171.3" stroke="#808080" stroke-width="0.8"/><text x="266.1" y="178.2" font-size="7.4" text-anchor="middle" fill="#000">m-dLCx</text><line x1="266.1" y1="169.3" x2="266.1" y2="171.3" stroke="#808080" stroke-width="0.8"/><text x="299.8" y="178.2" font-size="7.4" text-anchor="middle" fill="#000">pLCx</text><line x1="299.8" y1="169.3" x2="299.8" y2="171.3" stroke="#808080" stroke-width="0.8"/><text x="333.5" y="178.2" font-size="7.4" text-anchor="middle" fill="#000">R-PLB</text><line x1="333.5" y1="169.3" x2="333.5" y2="171.3" stroke="#808080" stroke-width="0.8"/><text x="367.2" y="178.2" font-size="7.4" text-anchor="middle" fill="#000">R-PDA</text><line x1="367.2" y1="169.3" x2="367.2" y2="171.3" stroke="#808080" stroke-width="0.8"/><text x="400.9" y="178.2" font-size="7.4" text-anchor="middle" fill="#000">L-PDA</text><line x1="400.9" y1="169.3" x2="400.9" y2="171.3" stroke="#808080" stroke-width="0.8"/><text x="434.6" y="178.2" font-size="7.4" text-anchor="middle" fill="#000">D1</text><line x1="434.6" y1="169.3" x2="434.6" y2="171.3" stroke="#808080" stroke-width="0.8"/><text x="468.3" y="178.2" font-size="7.4" text-anchor="middle" fill="#000">RAMUS</text><line x1="468.3" y1="169.3" x2="468.3" y2="171.3" stroke="#808080" stroke-width="0.8"/><text x="502.0" y="178.2" font-size="7.4" text-anchor="middle" fill="#000">OM2</text><line x1="502.0" y1="169.3" x2="502.0" y2="171.3" stroke="#808080" stroke-width="0.8"/><text x="535.7" y="178.2" font-size="7.4" text-anchor="middle" fill="#000">D2</text><line x1="535.7" y1="169.3" x2="535.7" y2="171.3" stroke="#808080" stroke-width="0.8"/><text x="569.3" y="178.2" font-size="7.4" text-anchor="middle" fill="#000">dLAD</text><line x1="569.3" y1="169.3" x2="569.3" y2="171.3" stroke="#808080" stroke-width="0.8"/><text x="603.0" y="178.2" font-size="7.4" text-anchor="middle" fill="#000">OM1</text><line x1="603.0" y1="169.3" x2="603.0" y2="171.3" stroke="#808080" stroke-width="0.8"/><text x="636.7" y="178.2" font-size="7.4" text-anchor="middle" fill="#000">L-PLB</text><line x1="636.7" y1="169.3" x2="636.7" y2="171.3" stroke="#808080" stroke-width="0.8"/>
<text x="352.3" y="187.8" font-size="9.2" text-anchor="middle">Segment</text>
<rect x="263.1" y="193.7" width="19.7" height="9.7" fill="#7fcde4"/><line x1="263.1" y1="198.5" x2="282.8" y2="198.5" stroke="#3a9cbc" stroke-width="0.8"/><path d="M273,195.4 L276,200.6 L270,200.6Z" fill="#4cb3d3" stroke="#1d3b4a" stroke-width="0.7"/><text x="286.8" y="200.5" font-size="9.3" fill="#111">Male</text><rect x="321" y="193.7" width="19.7" height="9.7" fill="#f3a08f"/><line x1="321" y1="198.5" x2="340.7" y2="198.5" stroke="#e0553a" stroke-width="0.8"/><circle cx="330.8" cy="198.5" r="2.8" fill="#e2462b" stroke="#3a1a12" stroke-width="0.7"/><text x="345.1" y="200.5" font-size="9.3" fill="#111">Female</text><rect x="390" y="193.7" width="19.7" height="9.7" fill="#8e8e8e"/><line x1="390" y1="198.5" x2="409.7" y2="198.5" stroke="#444" stroke-width="0.8"/><polygon points="399.90,195.80 402.75,197.87 401.66,201.23 398.14,201.23 397.05,197.87" fill="#6e6e6e" stroke="#1a1a1a" stroke-width="0.75"/><text x="414.2" y="200.5" font-size="9.3" fill="#111">All</text>
<text x="-0.4" y="218.7" font-size="17" font-weight="bold" fill="#231815">b</text>
<text x="175.0" y="241.9" font-size="12.4" text-anchor="middle" fill="#111">All</text>
<text x="325.0" y="241.9" font-size="12.4" text-anchor="middle" fill="#111">Male</text>
<text x="447.3" y="241.9" font-size="12.4" text-anchor="middle" fill="#111">Female</text>
<text x="570.7" y="241.9" font-size="12.4" text-anchor="middle" fill="#111">Difference Map</text>
<text x="28.3" y="294.3" font-size="12.5" fill="#111">Right Coronary</text>
<text x="28.3" y="402.5" font-size="12.5" fill="#111">Left Coronary</text>
<use href="#rcbox" x="0"/>
<use href="#lcbox" x="0"/>
<use href="#rcbox" x="151"/>
<use href="#lcbox" x="151"/>
<use href="#rcbox" x="273"/>
<use href="#lcbox" x="273"/>
<use href="#rcbox" x="396.5"/>
<use href="#lcbox" x="396.5"/>
<g transform="translate(0,0)"><g stroke-width="1.9" stroke-linecap="round" stroke-linejoin="round" fill="none"><path d="M168.6,275.6l-1.2,.2" stroke="#08f"/><path d="M167.4,275.8l-1.1,.2" stroke="#09f"/><path d="M166.3,276l-1.1,.1" stroke="#0af"/><path d="M165.2,276.1l-1.2,.2" stroke="#0bf"/><path d="M164,276.3l-1.5,.1" stroke="#0cf"/><path d="M162.5,276.4l-1.5,.2" stroke="#0ef"/><path d="M161,276.6l-1.5,.1" stroke="#1fd"/><path d="M159.5,276.7l-1.5,.1" stroke="#2fc"/><path d="M158,276.8l-1.4,.1" stroke="#3fb"/><path d="M156.6,276.9l-1.4,.2" stroke="#3fa"/><path d="M155.2,277.1l-1.3,.1" stroke="#4fa"/><path d="M153.9,277.2l-1.4,.1" stroke="#4f9"/><path d="M152.5,277.3l-1.1,.3l-1.2,.3" stroke="#5f8"/><path d="M150.2,277.9l-1.1,.3" stroke="#6f8"/><path d="M149.1,278.2l-1.1,.3l-1.2,.7l-1.2,.8l-1.2,.8l-1.2,.7l-.9,1" stroke="#6f7"/><path d="M142.3,282.5l-1,1" stroke="#6f8"/><path d="M141.3,283.5l-.9,1l-.9,1" stroke="#5f8"/><path d="M139.5,285.5l-.6,1.3" stroke="#4f9"/><path d="M138.9,286.8l-.7,1.2" stroke="#4fa"/><path d="M138.2,288l-.6,1.2" stroke="#3fb"/><path d="M137.6,289.2l-.6,1.3" stroke="#3fc"/><path d="M137,290.5l-.2,1.1" stroke="#2fc"/><path d="M136.8,291.6l-.1,1.2" stroke="#1fd"/><path d="M136.7,292.8l-.1,1.1" stroke="#1ee"/><path d="M136.6,293.9l-.2,1.1" stroke="#0ef"/><path d="M136.4,295l.3,1l.2,1l.3,1" stroke="#0df"/><path d="M137.2,298l.3,1l.9,.7l.8,.7l.9,.7l.9,.7l1.2,.3l1.3,.3l1.3,.3l1.2,.3" stroke="#0cf"/><path d="M146,303l1.8,.1l1.7,0l1.7,0l1.8,.1l1.8-.1l1.7-.1l1.7-.1l1.8-.1l1.8-.2l1.7-.2l1.7-.2l1.8-.2l1.2-.2" stroke="#0bf"/><path d="M168.2,301.8l1.3-.2l1.3-.2l1.2-.2l1-.2l1-.2l1-.2l1-.2" stroke="#0af"/><path d="M176,300.4l.9-.5l.9-.4" stroke="#09f"/><path d="M177.8,299.5l.8-.4" stroke="#08f"/><path d="M178.6,299.1l.9-.5" stroke="#07f"/><path d="M179.5,298.6l.9-.4" stroke="#01f"/><path d="M180.4,298.2l.9-.4" stroke="#10f"/><path d="M181.3,297.8l.9-.5" stroke="#20e"/><path d="M182.2,297.3l.9-.4" stroke="#41d"/><path d="M183.1,296.9l1.2-.5" stroke="#41c"/><path d="M184.3,296.4l1.3-.5l1.2-.6" stroke="#40b"/><path d="M186.8,295.3l1.2-.5l1.4-.4" stroke="#50a"/><path d="M189.4,294.4l1.4-.3l1.4-.3l1.4-.4" stroke="#409"/><path d="M193.6,293.4l1.1-.1l1.1-.1l1.1,0" stroke="#408"/><path d="M196.9,293.2l1.1-.1l1.1,.1" stroke="#407"/><path d="M199.1,293.2l1.1,0l1,.1" stroke="#306"/><path d="M201.2,293.3l1.1,.1l.9,.2l1,.3" stroke="#305"/><path d="M204.2,293.9l.9,.2l.9,.2" stroke="#204"/><path d="M206,294.3l.8,.3l.9,.4l.8,.4l.8,.3" stroke="#203"/><path d="M209.3,295.7l.9,.6" stroke="#202"/><path d="M210.2,296.3l1,.6l.9,.7l.9,.6l.8,.8" stroke="#102"/><path d="M213.8,299l.9,.8l.9,.7l.8,.8" stroke="#101"/><path d="M176,300.4l1.1,.4l1.1,.3" stroke="#08f"/><path d="M178.2,301.1l1.2,.4" stroke="#01f"/><path d="M179.4,301.5l1.1,.4" stroke="#20e"/><path d="M180.5,301.9l1.1,.4l1.1,.3" stroke="#41c"/><path d="M182.7,302.6l1,.4l1.1,.4" stroke="#40b"/><path d="M184.8,303.4l.9,.4l.8,.5" stroke="#50a"/><path d="M186.5,304.3l.8,.5" stroke="#509"/><path d="M187.3,304.8l.9,.4l.7,.6" stroke="#409"/><path d="M188.9,305.8l.7,.5l.7,.5l.7,.6" stroke="#408"/><path d="M191,307.4l.6,.7l.6,.8" stroke="#407"/><path d="M192.2,308.9l.5,.7l.6,.7" stroke="#306"/><path d="M193.3,310.3l.5,.8l.5,.9" stroke="#305"/><path d="M194.3,312l.5,.8l.5,.8" stroke="#204"/><path d="M195.3,313.6l.8,1.1l.8,1.1l.8,1.1" stroke="#203"/><path d="M197.7,316.9l.8,1.1l.7,1.1l.8,1" stroke="#102"/><path d="M200,320.1l.8,1.1l.7,1.1" stroke="#101"/></g></g>
<g transform="translate(151,0)"><g stroke-width="1.9" stroke-linecap="round" stroke-linejoin="round" fill="none"><path d="M168.6,275.6l-1.2,.2" stroke="#09f"/><path d="M167.4,275.8l-1.1,.2" stroke="#0af"/><path d="M166.3,276l-1.1,.1l-1.2,.2" stroke="#0bf"/><path d="M164,276.3l-1.5,.1" stroke="#0cf"/><path d="M162.5,276.4l-1.5,.2" stroke="#0df"/><path d="M161,276.6l-1.5,.1" stroke="#1ee"/><path d="M159.5,276.7l-1.5,.1" stroke="#1fd"/><path d="M158,276.8l-1.4,.1" stroke="#2fc"/><path d="M156.6,276.9l-1.4,.2" stroke="#3fb"/><path d="M155.2,277.1l-1.3,.1" stroke="#4fa"/><path d="M153.9,277.2l-1.4,.1" stroke="#5f8"/><path d="M152.5,277.3l-1.1,.3" stroke="#6f8"/><path d="M151.4,277.6l-1.2,.3" stroke="#7f7"/><path d="M150.2,277.9l-1.1,.3" stroke="#7f6"/><path d="M149.1,278.2l-1.1,.3" stroke="#8f6"/><path d="M148,278.5l-1.2,.7" stroke="#9f6"/><path d="M146.8,279.2l-1.2,.8l-1.2,.8l-1.2,.7l-.9,1" stroke="#9f5"/><path d="M142.3,282.5l-1,1l-.9,1" stroke="#8f6"/><path d="M140.4,284.5l-.9,1" stroke="#7f7"/><path d="M139.5,285.5l-.6,1.3" stroke="#6f7"/><path d="M138.9,286.8l-.7,1.2" stroke="#5f8"/><path d="M138.2,288l-.6,1.2" stroke="#4f9"/><path d="M137.6,289.2l-.6,1.3" stroke="#3fa"/><path d="M137,290.5l-.2,1.1" stroke="#3fb"/><path d="M136.8,291.6l-.1,1.2" stroke="#2fc"/><path d="M136.7,292.8l-.1,1.1" stroke="#2fd"/><path d="M136.6,293.9l-.2,1.1" stroke="#1fd"/><path d="M136.4,295l.3,1" stroke="#1ee"/><path d="M136.7,296l.2,1" stroke="#0ee"/><path d="M136.9,297l.3,1" stroke="#0ef"/><path d="M137.2,298l.3,1l.9,.7l.8,.7" stroke="#0df"/><path d="M139.2,300.4l.9,.7l.9,.7l1.2,.3l1.3,.3l1.3,.3l1.2,.3" stroke="#0cf"/><path d="M146,303l1.8,.1l1.7,0l1.7,0l1.8,.1l1.8-.1l1.7-.1l1.7-.1l1.8-.1l1.8-.2l1.7-.2l1.7-.2l1.8-.2l1.2-.2" stroke="#0bf"/><path d="M168.2,301.8l1.3-.2l1.3-.2l1.2-.2l1-.2l1-.2l1-.2l1-.2" stroke="#0af"/><path d="M176,300.4l.9-.5l.9-.4" stroke="#09f"/><path d="M177.8,299.5l.8-.4" stroke="#08f"/><path d="M178.6,299.1l.9-.5" stroke="#07f"/><path d="M179.5,298.6l.9-.4" stroke="#01f"/><path d="M180.4,298.2l.9-.4" stroke="#10f"/><path d="M181.3,297.8l.9-.5" stroke="#20e"/><path d="M182.2,297.3l.9-.4" stroke="#41d"/><path d="M183.1,296.9l1.2-.5" stroke="#41c"/><path d="M184.3,296.4l1.3-.5l1.2-.6" stroke="#40b"/><path d="M186.8,295.3l1.2-.5l1.4-.4" stroke="#50a"/><path d="M189.4,294.4l1.4-.3l1.4-.3l1.4-.4" stroke="#409"/><path d="M193.6,293.4l1.1-.1l1.1-.1l1.1,0" stroke="#408"/><path d="M196.9,293.2l1.1-.1l1.1,.1" stroke="#407"/><path d="M199.1,293.2l1.1,0l1,.1" stroke="#306"/><path d="M201.2,293.3l1.1,.1l.9,.2l1,.3" stroke="#305"/><path d="M204.2,293.9l.9,.2l.9,.2" stroke="#204"/><path d="M206,294.3l.8,.3l.9,.4l.8,.4l.8,.3" stroke="#203"/><path d="M209.3,295.7l.9,.6" stroke="#202"/><path d="M210.2,296.3l1,.6l.9,.7l.9,.6l.8,.8" stroke="#102"/><path d="M213.8,299l.9,.8l.9,.7l.8,.8" stroke="#101"/><path d="M176,300.4l1.1,.4l1.1,.3" stroke="#08f"/><path d="M178.2,301.1l1.2,.4" stroke="#01f"/><path d="M179.4,301.5l1.1,.4" stroke="#20e"/><path d="M180.5,301.9l1.1,.4l1.1,.3" stroke="#41c"/><path d="M182.7,302.6l1,.4l1.1,.4" stroke="#40b"/><path d="M184.8,303.4l.9,.4l.8,.5" stroke="#50a"/><path d="M186.5,304.3l.8,.5" stroke="#509"/><path d="M187.3,304.8l.9,.4l.7,.6" stroke="#409"/><path d="M188.9,305.8l.7,.5l.7,.5l.7,.6" stroke="#408"/><path d="M191,307.4l.6,.7l.6,.8" stroke="#407"/><path d="M192.2,308.9l.5,.7l.6,.7" stroke="#306"/><path d="M193.3,310.3l.5,.8l.5,.9" stroke="#305"/><path d="M194.3,312l.5,.8l.5,.8" stroke="#204"/><path d="M195.3,313.6l.8,1.1l.8,1.1l.8,1.1" stroke="#203"/><path d="M197.7,316.9l.8,1.1l.7,1.1l.8,1" stroke="#102"/><path d="M200,320.1l.8,1.1l.7,1.1" stroke="#101"/></g></g>
<g transform="translate(273,0)"><g stroke-width="1.9" stroke-linecap="round" stroke-linejoin="round" fill="none"><path d="M168.6,275.6l-1.2,.2l-1.1,.2" stroke="#09f"/><path d="M166.3,276l-1.1,.1" stroke="#0af"/><path d="M165.2,276.1l-1.2,.2l-1.5,.1" stroke="#0bf"/><path d="M162.5,276.4l-1.5,.2l-1.5,.1" stroke="#0cf"/><path d="M159.5,276.7l-1.5,.1l-1.4,.1l-1.4,.2" stroke="#0df"/><path d="M155.2,277.1l-1.3,.1l-1.4,.1" stroke="#0ef"/><path d="M152.5,277.3l-1.1,.3l-1.2,.3l-1.1,.3l-1.1,.3l-1.2,.7l-1.2,.8l-1.2,.8l-1.2,.7l-.9,1l-1,1l-.9,1l-.9,1l-.6,1.3l-.7,1.2l-.6,1.2l-.6,1.3l-.2,1.1l-.1,1.2" stroke="#1ee"/><path d="M136.7,292.8l-.1,1.1l-.2,1.1" stroke="#0ef"/><path d="M136.4,295l.3,1l.2,1l.3,1" stroke="#0df"/><path d="M137.2,298l.3,1l.9,.7l.8,.7l.9,.7l.9,.7" stroke="#0cf"/><path d="M141,301.8l1.2,.3l1.3,.3l1.3,.3l1.2,.3l1.8,.1l1.7,0l1.7,0l1.8,.1l1.8-.1l1.7-.1l1.7-.1l1.8-.1l1.8-.2" stroke="#0bf"/><path d="M161.8,302.6l1.7-.2l1.7-.2l1.8-.2l1.2-.2l1.3-.2l1.3-.2l1.2-.2l1-.2l1-.2l1-.2l1-.2" stroke="#0af"/><path d="M176,300.4l.9-.5l.9-.4" stroke="#09f"/><path d="M177.8,299.5l.8-.4" stroke="#08f"/><path d="M178.6,299.1l.9-.5" stroke="#07f"/><path d="M179.5,298.6l.9-.4" stroke="#01f"/><path d="M180.4,298.2l.9-.4" stroke="#10f"/><path d="M181.3,297.8l.9-.5" stroke="#20e"/><path d="M182.2,297.3l.9-.4" stroke="#41d"/><path d="M183.1,296.9l1.2-.5" stroke="#41c"/><path d="M184.3,296.4l1.3-.5l1.2-.6" stroke="#40b"/><path d="M186.8,295.3l1.2-.5l1.4-.4" stroke="#50a"/><path d="M189.4,294.4l1.4-.3l1.4-.3l1.4-.4" stroke="#409"/><path d="M193.6,293.4l1.1-.1l1.1-.1l1.1,0" stroke="#408"/><path d="M196.9,293.2l1.1-.1l1.1,.1" stroke="#407"/><path d="M199.1,293.2l1.1,0l1,.1" stroke="#306"/><path d="M201.2,293.3l1.1,.1l.9,.2l1,.3" stroke="#305"/><path d="M204.2,293.9l.9,.2l.9,.2" stroke="#204"/><path d="M206,294.3l.8,.3l.9,.4l.8,.4l.8,.3" stroke="#203"/><path d="M209.3,295.7l.9,.6" stroke="#202"/><path d="M210.2,296.3l1,.6l.9,.7l.9,.6l.8,.8" stroke="#102"/><path d="M213.8,299l.9,.8l.9,.7l.8,.8" stroke="#101"/><path d="M176,300.4l1.1,.4l1.1,.3" stroke="#08f"/><path d="M178.2,301.1l1.2,.4" stroke="#01f"/><path d="M179.4,301.5l1.1,.4" stroke="#20e"/><path d="M180.5,301.9l1.1,.4l1.1,.3" stroke="#41c"/><path d="M182.7,302.6l1,.4l1.1,.4" stroke="#40b"/><path d="M184.8,303.4l.9,.4l.8,.5" stroke="#50a"/><path d="M186.5,304.3l.8,.5" stroke="#509"/><path d="M187.3,304.8l.9,.4l.7,.6" stroke="#409"/><path d="M188.9,305.8l.7,.5l.7,.5l.7,.6" stroke="#408"/><path d="M191,307.4l.6,.7l.6,.8" stroke="#407"/><path d="M192.2,308.9l.5,.7l.6,.7" stroke="#306"/><path d="M193.3,310.3l.5,.8l.5,.9" stroke="#305"/><path d="M194.3,312l.5,.8l.5,.8" stroke="#204"/><path d="M195.3,313.6l.8,1.1l.8,1.1l.8,1.1" stroke="#203"/><path d="M197.7,316.9l.8,1.1l.7,1.1l.8,1" stroke="#102"/><path d="M200,320.1l.8,1.1l.7,1.1" stroke="#101"/></g></g>
<g transform="translate(396.5,0)"><g stroke-width="1.9" stroke-linecap="round" stroke-linejoin="round" fill="none"><path d="M168.6,275.6l-1.2,.2l-1.1,.2" stroke="#fb9"/><path d="M166.3,276l-1.1,.1l-1.2,.2" stroke="#eb9"/><path d="M164,276.3l-1.5,.1l-1.5,.2l-1.5,.1" stroke="#ea9"/><path d="M159.5,276.7l-1.5,.1l-1.4,.1l-1.4,.2l-1.3,.1l-1.4,.1l-1.1,.3l-1.2,.3l-1.1,.3l-1.1,.3l-1.2,.7l-1.2,.8l-1.2,.8l-1.2,.7l-.9,1l-1,1l-.9,1l-.9,1l-.6,1.3l-.7,1.2l-.6,1.2l-.6,1.3l-.2,1.1" stroke="#ea8"/><path d="M136.8,291.6l-.1,1.2l-.1,1.1l-.2,1.1" stroke="#ea9"/><path d="M136.4,295l.3,1l.2,1" stroke="#eb9"/><path d="M136.9,297l.3,1l.3,1l.9,.7" stroke="#fb9"/><path d="M138.4,299.7l.8,.7l.9,.7l.9,.7l1.2,.3l1.3,.3" stroke="#fba"/><path d="M143.5,302.4l1.3,.3l1.2,.3" stroke="#fca"/><path d="M146,303l1.8,.1l1.7,0l1.7,0" stroke="#fcb"/><path d="M151.2,303.1l1.8,.1" stroke="#fcc"/><path d="M153,303.2l1.8-.1l1.7-.1l1.7-.1" stroke="#fdc"/><path d="M158.2,302.9l1.8-.1l1.8-.2l1.7-.2" stroke="#fdd"/><path d="M163.5,302.4l1.7-.2l1.8-.2l1.2-.2" stroke="#fed"/><path d="M168.2,301.8l1.3-.2l1.3-.2l1.2-.2l1-.2l1-.2l1-.2l1-.2" stroke="#fee"/><path d="M176,300.4l.9-.5" stroke="#ffe" stroke-width="1.3"/><path d="M176.9,299.9l.9-.4l.8-.4l.9-.5l.9-.4l.9-.4l.9-.5l.9-.4l1.2-.5l1.3-.5l1.2-.6l1.2-.5l1.4-.4l1.4-.3l1.4-.3l1.4-.4l1.1-.1l1.1-.1l1.1,0l1.1-.1l1.1,.1l1.1,0l1,.1l1.1,.1l.9,.2l1,.3l.9,.2l.9,.2l.8,.3l.9,.4l.8,.4l.8,.3l.9,.6l1,.6l.9,.7l.9,.6l.8,.8l.9,.8l.9,.7l.8,.8" stroke="#fff" stroke-width="1.3"/><path d="M176,300.4l1.1,.4" stroke="#ffe" stroke-width="1.3"/><path d="M177.1,300.8l1.1,.3l1.2,.4l1.1,.4l1.1,.4l1.1,.3l1,.4l1.1,.4l.9,.4l.8,.5l.8,.5l.9,.4l.7,.6l.7,.5l.7,.5l.7,.6l.6,.7l.6,.8l.5,.7l.6,.7l.5,.8l.5,.9l.5,.8l.5,.8l.8,1.1l.8,1.1l.8,1.1l.8,1.1l.7,1.1l.8,1l.8,1.1l.7,1.1" stroke="#fff" stroke-width="1.3"/></g></g>
<g transform="translate(0,0)"><g stroke-width="1.9" stroke-linecap="round" stroke-linejoin="round" fill="none"><path d="M205.8,409.4l-.9,.7" stroke="#306"/><path d="M204.9,410.1l-.8,.7" stroke="#305"/><path d="M204.1,410.8l-.9,.6" stroke="#204"/><path d="M203.2,411.4l-.9,.7" stroke="#203"/><path d="M202.3,412.1l-1.7,.8" stroke="#202"/><path d="M200.6,412.9l-1.8,.9l-1.7,.8l-1.8,.8l-2.2,.8" stroke="#102"/><path d="M193.1,416.2l-2.2,.8l-2.1,.8l-2.2,.8l-2,.6l-2,.6l-1.9,.5l-2,.6" stroke="#101"/><path d="M205.6,410.2l-1.2,1" stroke="#306"/><path d="M204.4,411.2l-1.1,1" stroke="#305"/><path d="M203.3,412.2l-1.1,1" stroke="#204"/><path d="M202.2,413.2l-1.2,1" stroke="#203"/><path d="M201,414.2l-1.8,1" stroke="#202"/><path d="M199.2,415.2l-1.7,1l-1.7,1l-1.8,1l-2.2,.9" stroke="#102"/><path d="M191.8,419.1l-2.3,1l-2.3,1l-2.2,.9l-1.8,.6l-1.9,.7l-1.9,.7l-1.8,.6" stroke="#101"/><path d="M205.8,409.4l0,0" stroke="#306"/><path d="M205.8,409.4l0,0" stroke="#305"/><path d="M205.8,409.4l0,0" stroke="#204"/><path d="M205.8,409.4l0,0" stroke="#203"/><path d="M205.8,409.4l0,0" stroke="#202"/><path d="M205.8,409.4l0,0l0,0l0,0l0,0" stroke="#102"/><path d="M205.8,409.4l0,0l0,0l0,0l0,0l0,0l0,0l0,0" stroke="#101"/><path d="M203.2,404.2l-1,1" stroke="#409"/><path d="M202.2,405.2l-1,1" stroke="#407"/><path d="M201.2,406.2l-.9,1.1" stroke="#306"/><path d="M200.3,407.3l-1,1" stroke="#204"/><path d="M199.3,408.3l-1.4,.8l-1.5,.8l-1.4,.8" stroke="#203"/><path d="M195,410.7l-1.4,.8l-1.5,.6l-1.5,.6l-1.6,.6" stroke="#102"/><path d="M189,413.3l-1.5,.6l-1.8,.6l-1.8,.6l-1.7,.6l-1.8,.6" stroke="#101"/><path d="M198.5,391.9l-.8,1.1" stroke="#409"/><path d="M197.7,393l-.8,1.1" stroke="#407"/><path d="M196.9,394.1l-.8,1.1" stroke="#306"/><path d="M196.1,395.2l-.8,1.1" stroke="#204"/><path d="M195.3,396.3l-1.1,1.5l-1,1.6l-1.1,1.5" stroke="#203"/><path d="M192.1,400.9l-1.1,1.5l-1.3,1.3l-1.4,1.3l-1.3,1.4" stroke="#102"/><path d="M187,406.4l-1.3,1.3l-1.3,.9l-1.3,.8l-1.4,.9l-1.3,.9" stroke="#101"/><path d="M198.8,376.7l-1.3,1.6" stroke="#40b"/><path d="M197.5,378.3l-1.3,1.6" stroke="#409"/><path d="M196.2,379.9l-1.3,1.7" stroke="#307"/><path d="M194.9,381.6l-1.3,1.6" stroke="#304"/><path d="M193.6,383.2l-1.3,1.7l-1.4,1.8l-1.3,1.7" stroke="#203"/><path d="M189.6,388.4l-1.3,1.8l-1.3,1.5l-1.3,1.5l-1.3,1.6" stroke="#102"/><path d="M184.4,394.8l-1.3,1.5l-1.5,1.8l-1.6,1.7l-1.6,1.8l-1.5,1.7" stroke="#101"/><path d="M181.3,384.9l-1.3,1.1" stroke="#40b"/><path d="M180,386l-1.3,1.1" stroke="#409"/><path d="M178.7,387.1l-1.4,1.1" stroke="#407"/><path d="M177.3,388.2l-1.3,1.1" stroke="#306"/><path d="M176,389.3l-1.3,1.3" stroke="#304"/><path d="M174.7,390.6l-1.3,1.4" stroke="#204"/><path d="M173.4,392l-1.3,1.3l-1.3,1.3" stroke="#203"/><path d="M170.8,394.6l-1.3,1.5" stroke="#202"/><path d="M169.5,396.1l-1.3,1.5l-1.4,1.6l-1.3,1.5l-.9,1.2" stroke="#102"/><path d="M164.6,401.9l-.8,1.1l-.9,1.2l-.9,1.2l-.4,.9l-.4,.8l-.5,.9l-.4,.9" stroke="#101"/><path d="M163.8,389l-1.5,.9" stroke="#409"/><path d="M162.3,389.9l-1.5,1" stroke="#408"/><path d="M160.8,390.9l-1.6,1" stroke="#307"/><path d="M159.2,391.9l-1.5,.9" stroke="#305"/><path d="M157.7,392.8l-1.3,1.3" stroke="#304"/><path d="M156.4,394.1l-1.3,1.4" stroke="#204"/><path d="M155.1,395.5l-1.4,1.3l-1.3,1.3" stroke="#203"/><path d="M152.4,398.1l-.9,1.3" stroke="#202"/><path d="M151.5,399.4l-.8,1.3l-.9,1.3l-.9,1.3l-.2,1.2" stroke="#102"/><path d="M148.7,404.5l-.3,1.3l-.2,1.2l-.2,1.2" stroke="#101"/><path d="M198.8,376.7l-1.7,.7" stroke="#df1"/><path d="M197.1,377.4l-1.8,.8" stroke="#ff0"/><path d="M195.3,378.2l-1.7,.7" stroke="#fd0"/><path d="M193.6,378.9l-1.8,.8" stroke="#fb0"/><path d="M191.8,379.7l-1.7,.9l-1.8,.8" stroke="#fa0"/><path d="M188.3,381.4l-1.7,.9l-1.8,.9" stroke="#fb0"/><path d="M184.8,383.2l-1.1,.3" stroke="#fc0"/><path d="M183.7,383.5l-1.1,.3" stroke="#fd0"/><path d="M182.6,383.8l-1.1,.3" stroke="#fe0"/><path d="M181.5,384.1l-1.1,.3" stroke="#ef1"/><path d="M180.4,384.4l-1.5,.2" stroke="#df2"/><path d="M178.9,384.6l-1.5,.3" stroke="#bf3"/><path d="M177.4,384.9l-1.6,.2" stroke="#af5"/><path d="M175.8,385.1l-1.5,.3" stroke="#8f6"/><path d="M174.3,385.4l-1.7,.6" stroke="#6f8"/><path d="M172.6,386l-1.8,.6" stroke="#4f9"/><path d="M170.8,386.6l-1.7,.7" stroke="#3fb"/><path d="M169.1,387.3l-1.8,.6" stroke="#2fd"/><path d="M167.3,387.9l-1.7,.2" stroke="#0ee"/><path d="M165.6,388.1l-1.8,.3" stroke="#0df"/><path d="M163.8,388.4l-1.7,.2" stroke="#0cf"/><path d="M162.1,388.6l-1.8,.2" stroke="#0af"/><path d="M160.3,388.8l-1.3,.2l-1.3,.2" stroke="#09f"/><path d="M157.7,389.2l-1.4,.3" stroke="#08f"/><path d="M156.3,389.5l-1.3,.2" stroke="#20f"/><path d="M155,389.7l-.9,.3" stroke="#40b"/><path d="M154.1,390l-.9,.4" stroke="#50a"/><path d="M153.2,390.4l-.8,.3" stroke="#408"/><path d="M152.4,390.7l-.9,.3" stroke="#407"/><path d="M151.5,391l-1.1,.9" stroke="#306"/><path d="M150.4,391.9l-1.1,.9" stroke="#305"/><path d="M149.3,392.8l-1,.9" stroke="#304"/><path d="M148.3,393.7l-1.1,.9" stroke="#204"/><path d="M147.2,394.6l-.7,1.3l-.7,1.3l-.6,1.3l-.7,1.3" stroke="#203"/><path d="M144.5,399.8l-.2,1.6" stroke="#202"/><path d="M144.3,401.4l-.2,1.5l-.2,1.5l-.2,1.6l.4,1.5l.5,1.5l.4,1.5" stroke="#102"/><path d="M145,410.5l.4,1.5l.9,1l.9,.9l.8,1l.9,1l.9,.4l.9,.5l.8,.4l.9,.5" stroke="#101"/><path d="M198.8,376.7l.2,1.2l.2,1.1l.3,1.2l.2,1.2" stroke="#1ee"/><path d="M199.7,381.4l-.1,1.5l-.2,1.6" stroke="#0ef"/><path d="M199.4,384.5l-.1,1.6l-.1,1.5l-.1,1.3" stroke="#0df"/><path d="M199.1,388.9l-.1,1.3l-.1,1.3l-.1,1.3" stroke="#0cf"/><path d="M198.8,392.8l.4,1.3l.3,1.4" stroke="#0bf"/><path d="M199.5,395.5l.3,1.3l.4,1.3l.5,1.1" stroke="#0af"/><path d="M200.7,399.2l.5,1l.6,1.1" stroke="#09f"/><path d="M201.8,401.3l.5,1.1" stroke="#08f"/><path d="M202.3,402.4l.7,1.1" stroke="#07f"/><path d="M203,403.5l.7,1.1" stroke="#04f"/><path d="M203.7,404.6l.6,1.1" stroke="#01f"/><path d="M204.3,405.7l.7,1.1l.2,.6" stroke="#10f"/><path d="M205.2,407.4l.2,.7" stroke="#20e"/><path d="M205.4,408.1l.2,.7" stroke="#31d"/><path d="M205.6,408.8l.2,.6" stroke="#41c"/><path d="M205,370.9l-.8,.7" stroke="#1ee"/><path d="M204.2,371.6l-.7,.6" stroke="#2fd"/><path d="M203.5,372.2l-.7,.7" stroke="#3fb"/><path d="M202.8,372.9l-.8,.7" stroke="#4f9"/><path d="M202,373.6l-.8,.8" stroke="#6f8"/><path d="M201.2,374.4l-.8,.7" stroke="#8f6"/><path d="M200.4,375.1l-.8,.8" stroke="#af5"/><path d="M199.6,375.9l-.8,.8" stroke="#cf3"/></g></g>
<g transform="translate(151,0)"><g stroke-width="1.9" stroke-linecap="round" stroke-linejoin="round" fill="none"><path d="M205.8,409.4l-.9,.7" stroke="#306"/><path d="M204.9,410.1l-.8,.7" stroke="#305"/><path d="M204.1,410.8l-.9,.6" stroke="#204"/><path d="M203.2,411.4l-.9,.7" stroke="#203"/><path d="M202.3,412.1l-1.7,.8" stroke="#202"/><path d="M200.6,412.9l-1.8,.9l-1.7,.8l-1.8,.8l-2.2,.8" stroke="#102"/><path d="M193.1,416.2l-2.2,.8l-2.1,.8l-2.2,.8l-2,.6l-2,.6l-1.9,.5l-2,.6" stroke="#101"/><path d="M205.6,410.2l-1.2,1" stroke="#306"/><path d="M204.4,411.2l-1.1,1" stroke="#305"/><path d="M203.3,412.2l-1.1,1" stroke="#204"/><path d="M202.2,413.2l-1.2,1" stroke="#203"/><path d="M201,414.2l-1.8,1" stroke="#202"/><path d="M199.2,415.2l-1.7,1l-1.7,1l-1.8,1l-2.2,.9" stroke="#102"/><path d="M191.8,419.1l-2.3,1l-2.3,1l-2.2,.9l-1.8,.6l-1.9,.7l-1.9,.7l-1.8,.6" stroke="#101"/><path d="M205.8,409.4l0,0" stroke="#306"/><path d="M205.8,409.4l0,0" stroke="#305"/><path d="M205.8,409.4l0,0" stroke="#204"/><path d="M205.8,409.4l0,0" stroke="#203"/><path d="M205.8,409.4l0,0" stroke="#202"/><path d="M205.8,409.4l0,0l0,0l0,0l0,0" stroke="#102"/><path d="M205.8,409.4l0,0l0,0l0,0l0,0l0,0l0,0l0,0" stroke="#101"/><path d="M203.2,404.2l-1,1" stroke="#409"/><path d="M202.2,405.2l-1,1" stroke="#407"/><path d="M201.2,406.2l-.9,1.1" stroke="#306"/><path d="M200.3,407.3l-1,1" stroke="#204"/><path d="M199.3,408.3l-1.4,.8l-1.5,.8l-1.4,.8" stroke="#203"/><path d="M195,410.7l-1.4,.8l-1.5,.6l-1.5,.6l-1.6,.6" stroke="#102"/><path d="M189,413.3l-1.5,.6l-1.8,.6l-1.8,.6l-1.7,.6l-1.8,.6" stroke="#101"/><path d="M198.5,391.9l-.8,1.1" stroke="#409"/><path d="M197.7,393l-.8,1.1" stroke="#407"/><path d="M196.9,394.1l-.8,1.1" stroke="#306"/><path d="M196.1,395.2l-.8,1.1" stroke="#204"/><path d="M195.3,396.3l-1.1,1.5l-1,1.6l-1.1,1.5" stroke="#203"/><path d="M192.1,400.9l-1.1,1.5l-1.3,1.3l-1.4,1.3l-1.3,1.4" stroke="#102"/><path d="M187,406.4l-1.3,1.3l-1.3,.9l-1.3,.8l-1.4,.9l-1.3,.9" stroke="#101"/><path d="M198.8,376.7l-1.3,1.6" stroke="#40b"/><path d="M197.5,378.3l-1.3,1.6" stroke="#409"/><path d="M196.2,379.9l-1.3,1.7" stroke="#307"/><path d="M194.9,381.6l-1.3,1.6" stroke="#304"/><path d="M193.6,383.2l-1.3,1.7l-1.4,1.8l-1.3,1.7" stroke="#203"/><path d="M189.6,388.4l-1.3,1.8l-1.3,1.5l-1.3,1.5l-1.3,1.6" stroke="#102"/><path d="M184.4,394.8l-1.3,1.5l-1.5,1.8l-1.6,1.7l-1.6,1.8l-1.5,1.7" stroke="#101"/><path d="M181.3,384.9l-1.3,1.1" stroke="#40b"/><path d="M180,386l-1.3,1.1" stroke="#409"/><path d="M178.7,387.1l-1.4,1.1" stroke="#407"/><path d="M177.3,388.2l-1.3,1.1" stroke="#306"/><path d="M176,389.3l-1.3,1.3" stroke="#304"/><path d="M174.7,390.6l-1.3,1.4" stroke="#204"/><path d="M173.4,392l-1.3,1.3l-1.3,1.3" stroke="#203"/><path d="M170.8,394.6l-1.3,1.5" stroke="#202"/><path d="M169.5,396.1l-1.3,1.5l-1.4,1.6l-1.3,1.5l-.9,1.2" stroke="#102"/><path d="M164.6,401.9l-.8,1.1l-.9,1.2l-.9,1.2l-.4,.9l-.4,.8l-.5,.9l-.4,.9" stroke="#101"/><path d="M163.8,389l-1.5,.9" stroke="#409"/><path d="M162.3,389.9l-1.5,1" stroke="#408"/><path d="M160.8,390.9l-1.6,1" stroke="#307"/><path d="M159.2,391.9l-1.5,.9" stroke="#305"/><path d="M157.7,392.8l-1.3,1.3" stroke="#304"/><path d="M156.4,394.1l-1.3,1.4" stroke="#204"/><path d="M155.1,395.5l-1.4,1.3l-1.3,1.3" stroke="#203"/><path d="M152.4,398.1l-.9,1.3" stroke="#202"/><path d="M151.5,399.4l-.8,1.3l-.9,1.3l-.9,1.3l-.2,1.2" stroke="#102"/><path d="M148.7,404.5l-.3,1.3l-.2,1.2l-.2,1.2" stroke="#101"/><path d="M198.8,376.7l-1.7,.7" stroke="#fe0"/><path d="M197.1,377.4l-1.8,.8" stroke="#fd0"/><path d="M195.3,378.2l-1.7,.7" stroke="#fb0"/><path d="M193.6,378.9l-1.8,.8" stroke="#fa0"/><path d="M191.8,379.7l-1.7,.9" stroke="#f90"/><path d="M190.1,380.6l-1.8,.8l-1.7,.9" stroke="#fa0"/><path d="M186.6,382.3l-1.8,.9" stroke="#fb0"/><path d="M184.8,383.2l-1.1,.3" stroke="#fc0"/><path d="M183.7,383.5l-1.1,.3" stroke="#fe0"/><path d="M182.6,383.8l-1.1,.3" stroke="#ff0"/><path d="M181.5,384.1l-1.1,.3" stroke="#df2"/><path d="M180.4,384.4l-1.5,.2" stroke="#cf3"/><path d="M178.9,384.6l-1.5,.3" stroke="#af4"/><path d="M177.4,384.9l-1.6,.2" stroke="#8f6"/><path d="M175.8,385.1l-1.5,.3" stroke="#6f7"/><path d="M174.3,385.4l-1.7,.6" stroke="#5f9"/><path d="M172.6,386l-1.8,.6" stroke="#3fb"/><path d="M170.8,386.6l-1.7,.7" stroke="#2fc"/><path d="M169.1,387.3l-1.8,.6" stroke="#1ee"/><path d="M167.3,387.9l-1.7,.2" stroke="#0df"/><path d="M165.6,388.1l-1.8,.3" stroke="#0cf"/><path d="M163.8,388.4l-1.7,.2" stroke="#0bf"/><path d="M162.1,388.6l-1.8,.2" stroke="#0af"/><path d="M160.3,388.8l-1.3,.2" stroke="#09f"/><path d="M159,389l-1.3,.2" stroke="#08f"/><path d="M157.7,389.2l-1.4,.3" stroke="#03f"/><path d="M156.3,389.5l-1.3,.2" stroke="#20e"/><path d="M155,389.7l-.9,.3" stroke="#40b"/><path d="M154.1,390l-.9,.4" stroke="#50a"/><path d="M153.2,390.4l-.8,.3" stroke="#408"/><path d="M152.4,390.7l-.9,.3" stroke="#407"/><path d="M151.5,391l-1.1,.9" stroke="#306"/><path d="M150.4,391.9l-1.1,.9" stroke="#305"/><path d="M149.3,392.8l-1,.9" stroke="#304"/><path d="M148.3,393.7l-1.1,.9" stroke="#204"/><path d="M147.2,394.6l-.7,1.3l-.7,1.3l-.6,1.3l-.7,1.3" stroke="#203"/><path d="M144.5,399.8l-.2,1.6" stroke="#202"/><path d="M144.3,401.4l-.2,1.5l-.2,1.5l-.2,1.6l.4,1.5l.5,1.5l.4,1.5" stroke="#102"/><path d="M145,410.5l.4,1.5l.9,1l.9,.9l.8,1l.9,1l.9,.4l.9,.5l.8,.4l.9,.5" stroke="#101"/><path d="M198.8,376.7l.2,1.2l.2,1.1" stroke="#1fd"/><path d="M199.2,379l.3,1.2l.2,1.2l-.1,1.5l-.2,1.6" stroke="#1ee"/><path d="M199.4,384.5l-.1,1.6l-.1,1.5" stroke="#0ef"/><path d="M199.2,387.6l-.1,1.3l-.1,1.3l-.1,1.3" stroke="#0df"/><path d="M198.9,391.5l-.1,1.3l.4,1.3" stroke="#0cf"/><path d="M199.2,394.1l.3,1.4l.3,1.3" stroke="#0bf"/><path d="M199.8,396.8l.4,1.3l.5,1.1l.5,1" stroke="#0af"/><path d="M201.2,400.2l.6,1.1l.5,1.1" stroke="#09f"/><path d="M202.3,402.4l.7,1.1l.7,1.1" stroke="#08f"/><path d="M203.7,404.6l.6,1.1" stroke="#06f"/><path d="M204.3,405.7l.7,1.1" stroke="#01f"/><path d="M205,406.8l.2,.6" stroke="#10f"/><path d="M205.2,407.4l.2,.7" stroke="#20f"/><path d="M205.4,408.1l.2,.7" stroke="#31e"/><path d="M205.6,408.8l.2,.6" stroke="#41c"/><path d="M205,370.9l-.8,.7" stroke="#1fd"/><path d="M204.2,371.6l-.7,.6" stroke="#3fc"/><path d="M203.5,372.2l-.7,.7" stroke="#4fa"/><path d="M202.8,372.9l-.8,.7" stroke="#6f8"/><path d="M202,373.6l-.8,.8" stroke="#8f6"/><path d="M201.2,374.4l-.8,.7" stroke="#af4"/><path d="M200.4,375.1l-.8,.8" stroke="#cf3"/><path d="M199.6,375.9l-.8,.8" stroke="#ef1"/></g></g>
<g transform="translate(273,0)"><g stroke-width="1.9" stroke-linecap="round" stroke-linejoin="round" fill="none"><path d="M205.8,409.4l-.9,.7" stroke="#306"/><path d="M204.9,410.1l-.8,.7" stroke="#305"/><path d="M204.1,410.8l-.9,.6" stroke="#204"/><path d="M203.2,411.4l-.9,.7" stroke="#203"/><path d="M202.3,412.1l-1.7,.8" stroke="#202"/><path d="M200.6,412.9l-1.8,.9l-1.7,.8l-1.8,.8l-2.2,.8" stroke="#102"/><path d="M193.1,416.2l-2.2,.8l-2.1,.8l-2.2,.8l-2,.6l-2,.6l-1.9,.5l-2,.6" stroke="#101"/><path d="M205.6,410.2l-1.2,1" stroke="#306"/><path d="M204.4,411.2l-1.1,1" stroke="#305"/><path d="M203.3,412.2l-1.1,1" stroke="#204"/><path d="M202.2,413.2l-1.2,1" stroke="#203"/><path d="M201,414.2l-1.8,1" stroke="#202"/><path d="M199.2,415.2l-1.7,1l-1.7,1l-1.8,1l-2.2,.9" stroke="#102"/><path d="M191.8,419.1l-2.3,1l-2.3,1l-2.2,.9l-1.8,.6l-1.9,.7l-1.9,.7l-1.8,.6" stroke="#101"/><path d="M205.8,409.4l0,0" stroke="#306"/><path d="M205.8,409.4l0,0" stroke="#305"/><path d="M205.8,409.4l0,0" stroke="#204"/><path d="M205.8,409.4l0,0" stroke="#203"/><path d="M205.8,409.4l0,0" stroke="#202"/><path d="M205.8,409.4l0,0l0,0l0,0l0,0" stroke="#102"/><path d="M205.8,409.4l0,0l0,0l0,0l0,0l0,0l0,0l0,0" stroke="#101"/><path d="M203.2,404.2l-1,1" stroke="#409"/><path d="M202.2,405.2l-1,1" stroke="#407"/><path d="M201.2,406.2l-.9,1.1" stroke="#306"/><path d="M200.3,407.3l-1,1" stroke="#204"/><path d="M199.3,408.3l-1.4,.8l-1.5,.8l-1.4,.8" stroke="#203"/><path d="M195,410.7l-1.4,.8l-1.5,.6l-1.5,.6l-1.6,.6" stroke="#102"/><path d="M189,413.3l-1.5,.6l-1.8,.6l-1.8,.6l-1.7,.6l-1.8,.6" stroke="#101"/><path d="M198.5,391.9l-.8,1.1" stroke="#409"/><path d="M197.7,393l-.8,1.1" stroke="#407"/><path d="M196.9,394.1l-.8,1.1" stroke="#306"/><path d="M196.1,395.2l-.8,1.1" stroke="#204"/><path d="M195.3,396.3l-1.1,1.5l-1,1.6l-1.1,1.5" stroke="#203"/><path d="M192.1,400.9l-1.1,1.5l-1.3,1.3l-1.4,1.3l-1.3,1.4" stroke="#102"/><path d="M187,406.4l-1.3,1.3l-1.3,.9l-1.3,.8l-1.4,.9l-1.3,.9" stroke="#101"/><path d="M198.8,376.7l-1.3,1.6" stroke="#40b"/><path d="M197.5,378.3l-1.3,1.6" stroke="#409"/><path d="M196.2,379.9l-1.3,1.7" stroke="#307"/><path d="M194.9,381.6l-1.3,1.6" stroke="#304"/><path d="M193.6,383.2l-1.3,1.7l-1.4,1.8l-1.3,1.7" stroke="#203"/><path d="M189.6,388.4l-1.3,1.8l-1.3,1.5l-1.3,1.5l-1.3,1.6" stroke="#102"/><path d="M184.4,394.8l-1.3,1.5l-1.5,1.8l-1.6,1.7l-1.6,1.8l-1.5,1.7" stroke="#101"/><path d="M181.3,384.9l-1.3,1.1" stroke="#40b"/><path d="M180,386l-1.3,1.1" stroke="#409"/><path d="M178.7,387.1l-1.4,1.1" stroke="#407"/><path d="M177.3,388.2l-1.3,1.1" stroke="#306"/><path d="M176,389.3l-1.3,1.3" stroke="#304"/><path d="M174.7,390.6l-1.3,1.4" stroke="#204"/><path d="M173.4,392l-1.3,1.3l-1.3,1.3" stroke="#203"/><path d="M170.8,394.6l-1.3,1.5" stroke="#202"/><path d="M169.5,396.1l-1.3,1.5l-1.4,1.6l-1.3,1.5l-.9,1.2" stroke="#102"/><path d="M164.6,401.9l-.8,1.1l-.9,1.2l-.9,1.2l-.4,.9l-.4,.8l-.5,.9l-.4,.9" stroke="#101"/><path d="M163.8,389l-1.5,.9" stroke="#409"/><path d="M162.3,389.9l-1.5,1" stroke="#408"/><path d="M160.8,390.9l-1.6,1" stroke="#307"/><path d="M159.2,391.9l-1.5,.9" stroke="#305"/><path d="M157.7,392.8l-1.3,1.3" stroke="#304"/><path d="M156.4,394.1l-1.3,1.4" stroke="#204"/><path d="M155.1,395.5l-1.4,1.3l-1.3,1.3" stroke="#203"/><path d="M152.4,398.1l-.9,1.3" stroke="#202"/><path d="M151.5,399.4l-.8,1.3l-.9,1.3l-.9,1.3l-.2,1.2" stroke="#102"/><path d="M148.7,404.5l-.3,1.3l-.2,1.2l-.2,1.2" stroke="#101"/><path d="M198.8,376.7l-1.7,.7" stroke="#9f5"/><path d="M197.1,377.4l-1.8,.8" stroke="#af4"/><path d="M195.3,378.2l-1.7,.7" stroke="#cf3"/><path d="M193.6,378.9l-1.8,.8l-1.7,.9" stroke="#df2"/><path d="M190.1,380.6l-1.8,.8" stroke="#cf3"/><path d="M188.3,381.4l-1.7,.9" stroke="#af4"/><path d="M186.6,382.3l-1.8,.9" stroke="#9f5"/><path d="M184.8,383.2l-1.1,.3" stroke="#8f6"/><path d="M183.7,383.5l-1.1,.3" stroke="#7f7"/><path d="M182.6,383.8l-1.1,.3" stroke="#6f8"/><path d="M181.5,384.1l-1.1,.3" stroke="#5f9"/><path d="M180.4,384.4l-1.5,.2" stroke="#4fa"/><path d="M178.9,384.6l-1.5,.3" stroke="#3fa"/><path d="M177.4,384.9l-1.6,.2" stroke="#3fb"/><path d="M175.8,385.1l-1.5,.3" stroke="#2fc"/><path d="M174.3,385.4l-1.7,.6" stroke="#1fd"/><path d="M172.6,386l-1.8,.6" stroke="#0ee"/><path d="M170.8,386.6l-1.7,.7" stroke="#0df"/><path d="M169.1,387.3l-1.8,.6" stroke="#0cf"/><path d="M167.3,387.9l-1.7,.2l-1.8,.3" stroke="#0af"/><path d="M163.8,388.4l-1.7,.2" stroke="#09f"/><path d="M162.1,388.6l-1.8,.2" stroke="#08f"/><path d="M160.3,388.8l-1.3,.2" stroke="#05f"/><path d="M159,389l-1.3,.2" stroke="#01f"/><path d="M157.7,389.2l-1.4,.3" stroke="#20e"/><path d="M156.3,389.5l-1.3,.2" stroke="#40b"/><path d="M155,389.7l-.9,.3" stroke="#409"/><path d="M154.1,390l-.9,.4" stroke="#408"/><path d="M153.2,390.4l-.8,.3" stroke="#407"/><path d="M152.4,390.7l-.9,.3" stroke="#307"/><path d="M151.5,391l-1.1,.9" stroke="#306"/><path d="M150.4,391.9l-1.1,.9" stroke="#305"/><path d="M149.3,392.8l-1,.9" stroke="#304"/><path d="M148.3,393.7l-1.1,.9" stroke="#204"/><path d="M147.2,394.6l-.7,1.3l-.7,1.3l-.6,1.3l-.7,1.3" stroke="#203"/><path d="M144.5,399.8l-.2,1.6" stroke="#202"/><path d="M144.3,401.4l-.2,1.5l-.2,1.5l-.2,1.6l.4,1.5l.5,1.5l.4,1.5" stroke="#102"/><path d="M145,410.5l.4,1.5l.9,1l.9,.9l.8,1l.9,1l.9,.4l.9,.5l.8,.4l.9,.5" stroke="#101"/><path d="M198.8,376.7l.2,1.2l.2,1.1l.3,1.2l.2,1.2" stroke="#0cf"/><path d="M199.7,381.4l-.1,1.5l-.2,1.6l-.1,1.6" stroke="#0bf"/><path d="M199.3,386.1l-.1,1.5l-.1,1.3l-.1,1.3l-.1,1.3" stroke="#0af"/><path d="M198.9,391.5l-.1,1.3l.4,1.3l.3,1.4" stroke="#09f"/><path d="M199.5,395.5l.3,1.3l.4,1.3" stroke="#08f"/><path d="M200.2,398.1l.5,1.1" stroke="#07f"/><path d="M200.7,399.2l.5,1" stroke="#04f"/><path d="M201.2,400.2l.6,1.1" stroke="#01f"/><path d="M201.8,401.3l.5,1.1l.7,1.1" stroke="#10f"/><path d="M203,403.5l.7,1.1" stroke="#20e"/><path d="M203.7,404.6l.6,1.1" stroke="#31d"/><path d="M204.3,405.7l.7,1.1" stroke="#41c"/><path d="M205,406.8l.2,.6" stroke="#41b"/><path d="M205.2,407.4l.2,.7" stroke="#40b"/><path d="M205.4,408.1l.2,.7l.2,.6" stroke="#50a"/><path d="M205,370.9l-.8,.7" stroke="#0df"/><path d="M204.2,371.6l-.7,.6" stroke="#0ee"/><path d="M203.5,372.2l-.7,.7" stroke="#1fd"/><path d="M202.8,372.9l-.8,.7" stroke="#2fc"/><path d="M202,373.6l-.8,.8" stroke="#3fb"/><path d="M201.2,374.4l-.8,.7" stroke="#4f9"/><path d="M200.4,375.1l-.8,.8" stroke="#6f8"/><path d="M199.6,375.9l-.8,.8" stroke="#8f6"/></g></g>
<g transform="translate(396.5,0)"><g stroke-width="1.9" stroke-linecap="round" stroke-linejoin="round" fill="none"><path d="M205.8,409.4l-.9,.7l-.8,.7l-.9,.6l-.9,.7l-1.7,.8l-1.8,.9l-1.7,.8l-1.8,.8l-2.2,.8l-2.2,.8l-2.1,.8l-2.2,.8l-2,.6l-2,.6l-1.9,.5l-2,.6" stroke="#fff" stroke-width="1.25"/><path d="M205.6,410.2l-1.2,1l-1.1,1l-1.1,1l-1.2,1l-1.8,1l-1.7,1l-1.7,1l-1.8,1l-2.2,.9l-2.3,1l-2.3,1l-2.2,.9l-1.8,.6l-1.9,.7l-1.9,.7l-1.8,.6" stroke="#fff" stroke-width="1.25"/><path d="M205.8,409.4l0,0l0,0l0,0l0,0l0,0l0,0l0,0l0,0l0,0l0,0l0,0l0,0l0,0l0,0l0,0l0,0" stroke="#fff" stroke-width="1.25"/><path d="M203.2,404.2l-1,1l-1,1l-.9,1.1l-1,1l-1.4,.8l-1.5,.8l-1.4,.8l-1.4,.8l-1.5,.6l-1.5,.6l-1.6,.6l-1.5,.6l-1.8,.6l-1.8,.6l-1.7,.6l-1.8,.6" stroke="#fff" stroke-width="1.25"/><path d="M198.5,391.9l-.8,1.1l-.8,1.1l-.8,1.1l-.8,1.1l-1.1,1.5l-1,1.6l-1.1,1.5l-1.1,1.5l-1.3,1.3l-1.4,1.3l-1.3,1.4l-1.3,1.3l-1.3,.9l-1.3,.8l-1.4,.9l-1.3,.9" stroke="#fff" stroke-width="1.25"/><path d="M198.8,376.7l-1.3,1.6l-1.3,1.6l-1.3,1.7l-1.3,1.6l-1.3,1.7l-1.4,1.8l-1.3,1.7l-1.3,1.8l-1.3,1.5l-1.3,1.5l-1.3,1.6l-1.3,1.5l-1.5,1.8l-1.6,1.7l-1.6,1.8l-1.5,1.7" stroke="#fff" stroke-width="1.25"/><path d="M181.3,384.9l-1.3,1.1l-1.3,1.1l-1.4,1.1l-1.3,1.1l-1.3,1.3l-1.3,1.4l-1.3,1.3l-1.3,1.3l-1.3,1.5l-1.3,1.5l-1.4,1.6l-1.3,1.5l-.9,1.2l-.8,1.1l-.9,1.2l-.9,1.2l-.4,.9l-.4,.8l-.5,.9l-.4,.9" stroke="#fff" stroke-width="1.25"/><path d="M163.8,389l-1.5,.9l-1.5,1l-1.6,1l-1.5,.9l-1.3,1.3l-1.3,1.4l-1.4,1.3l-1.3,1.3l-.9,1.3l-.8,1.3l-.9,1.3l-.9,1.3l-.2,1.2l-.3,1.3l-.2,1.2l-.2,1.2" stroke="#fff" stroke-width="1.25"/><path d="M198.8,376.7l-1.7,.7l-1.8,.8l-1.7,.7" stroke="#e86"/><path d="M193.6,378.9l-1.8,.8l-1.7,.9" stroke="#e96"/><path d="M190.1,380.6l-1.8,.8l-1.7,.9l-1.8,.9l-1.1,.3l-1.1,.3" stroke="#e97"/><path d="M182.6,383.8l-1.1,.3" stroke="#e98"/><path d="M181.5,384.1l-1.1,.3l-1.5,.2l-1.5,.3" stroke="#ea8"/><path d="M177.4,384.9l-1.6,.2" stroke="#ea9"/><path d="M175.8,385.1l-1.5,.3" stroke="#fb9"/><path d="M174.3,385.4l-1.7,.6l-1.8,.6" stroke="#fba"/><path d="M170.8,386.6l-1.7,.7" stroke="#fca"/><path d="M169.1,387.3l-1.8,.6l-1.7,.2" stroke="#fcb"/><path d="M165.6,388.1l-1.8,.3l-1.7,.2" stroke="#fdc"/><path d="M162.1,388.6l-1.8,.2l-1.3,.2" stroke="#fdd"/><path d="M159,389l-1.3,.2l-1.4,.3" stroke="#fed"/><path d="M156.3,389.5l-1.3,.2l-.9,.3l-.9,.4" stroke="#fee"/><path d="M153.2,390.4l-.8,.3" stroke="#ffe"/><path d="M152.4,390.7l-.9,.3l-1.1,.9l-1.1,.9l-1,.9l-1.1,.9l-.7,1.3l-.7,1.3l-.6,1.3l-.7,1.3l-.2,1.6l-.2,1.5l-.2,1.5l-.2,1.6l.4,1.5l.5,1.5l.4,1.5l.4,1.5l.9,1l.9,.9l.8,1l.9,1l.9,.4l.9,.5l.8,.4l.9,.5" stroke="#fff" stroke-width="1.25"/><path d="M198.8,376.7l.2,1.2l.2,1.1l.3,1.2" stroke="#fba"/><path d="M199.5,380.2l.2,1.2" stroke="#fca"/><path d="M199.7,381.4l-.1,1.5l-.2,1.6l-.1,1.6" stroke="#fcb"/><path d="M199.3,386.1l-.1,1.5" stroke="#fcc"/><path d="M199.2,387.6l-.1,1.3l-.1,1.3l-.1,1.3" stroke="#fdc"/><path d="M198.9,391.5l-.1,1.3l.4,1.3l.3,1.4" stroke="#fdd"/><path d="M199.5,395.5l.3,1.3l.4,1.3l.5,1.1" stroke="#fed"/><path d="M200.7,399.2l.5,1l.6,1.1l.5,1.1l.7,1.1l.7,1.1l.6,1.1" stroke="#fee"/><path d="M204.3,405.7l.7,1.1" stroke="#ffe"/><path d="M205,406.8l.2,.6" stroke="#ffe" stroke-width="1.25"/><path d="M205.2,407.4l.2,.7l.2,.7l.2,.6" stroke="#fff" stroke-width="1.25"/><path d="M205,370.9l-.8,.7" stroke="#e85"/><path d="M204.2,371.6l-.7,.6l-.7,.7l-.8,.7l-.8,.8l-.8,.7l-.8,.8l-.8,.8" stroke="#e86"/></g></g>
<text x="132.4" y="277.6" font-size="6.1" fill="#5a5a5a">RCA</text><text x="192.4" y="291.8" font-size="6.1" fill="#5a5a5a">R-PLB</text><text x="171.4" y="314.6" font-size="6.1" fill="#5a5a5a">R-PDA</text>
<text x="205.5" y="370.2" font-size="6.1" fill="#5a5a5a">LM</text><text x="166.7" y="381.5" font-size="6.1" fill="#5a5a5a">LAD</text><text x="203.7" y="396.2" font-size="6.1" fill="#5a5a5a">LCx</text><text x="171.7" y="409.4" font-size="6.1" fill="#5a5a5a">17</text><text x="173.1" y="416.0" font-size="6.1" fill="#5a5a5a">12</text><text x="171.7" y="423.0" font-size="6.1" fill="#5a5a5a">14</text><text x="149.1" y="413.4" font-size="6.1" fill="#5a5a5a">10</text><text x="160.9" y="412.5" font-size="6.1" fill="#5a5a5a">9</text><text x="206.4" y="419.5" font-size="6.1" fill="#5a5a5a">15</text><text x="202.9" y="425.7" font-size="6.1" fill="#5a5a5a">18</text>
<rect x="240.6" y="253.9" width="4.7" height="190.6" fill="url(#gjet)" stroke="#333" stroke-width="0.3"/>
<path d="M245.3,444.5h1.5" stroke="#333" stroke-width="0.4"/><text x="248.6" y="446.8" font-size="6.5" fill="#333">0</text><path d="M245.3,417.3h1.5" stroke="#333" stroke-width="0.4"/><text x="248.6" y="419.6" font-size="6.5" fill="#333">10</text><path d="M245.3,390.0h1.5" stroke="#333" stroke-width="0.4"/><text x="248.6" y="392.3" font-size="6.5" fill="#333">20</text><path d="M245.3,362.8h1.5" stroke="#333" stroke-width="0.4"/><text x="248.6" y="365.1" font-size="6.5" fill="#333">30</text><path d="M245.3,335.6h1.5" stroke="#333" stroke-width="0.4"/><text x="248.6" y="337.9" font-size="6.5" fill="#333">40</text><path d="M245.3,308.4h1.5" stroke="#333" stroke-width="0.4"/><text x="248.6" y="310.7" font-size="6.5" fill="#333">50</text><path d="M245.3,281.1h1.5" stroke="#333" stroke-width="0.4"/><text x="248.6" y="283.4" font-size="6.5" fill="#333">60</text><path d="M245.3,253.9h1.5" stroke="#333" stroke-width="0.4"/><text x="248.6" y="256.2" font-size="6.5" fill="#333">70</text>
<rect x="637.4" y="251.5" width="5" height="195.6" fill="url(#grdbu)" stroke="#333" stroke-width="0.3"/>
<path d="M642.4,251.5h1.5" stroke="#333" stroke-width="0.4"/><text x="644.9" y="253.5" font-size="5.8" fill="#333">40</text><path d="M642.4,275.9h1.5" stroke="#333" stroke-width="0.4"/><text x="644.9" y="277.9" font-size="5.8" fill="#333">30</text><path d="M642.4,300.4h1.5" stroke="#333" stroke-width="0.4"/><text x="644.9" y="302.4" font-size="5.8" fill="#333">20</text><path d="M642.4,324.9h1.5" stroke="#333" stroke-width="0.4"/><text x="644.9" y="326.9" font-size="5.8" fill="#333">10</text><path d="M642.4,349.3h1.5" stroke="#333" stroke-width="0.4"/><text x="644.9" y="351.3" font-size="5.8" fill="#333">0</text><path d="M642.4,373.8h1.5" stroke="#333" stroke-width="0.4"/><text x="644.9" y="375.8" font-size="5.8" fill="#333">−10</text><path d="M642.4,398.2h1.5" stroke="#333" stroke-width="0.4"/><text x="644.9" y="400.2" font-size="5.8" fill="#333">−20</text><path d="M642.4,422.6h1.5" stroke="#333" stroke-width="0.4"/><text x="644.9" y="424.6" font-size="5.8" fill="#333">−30</text><path d="M642.4,447.1h1.5" stroke="#333" stroke-width="0.4"/><text x="644.9" y="449.1" font-size="5.8" fill="#333">−40</text>
<text x="-0.6" y="484.3" font-size="17.2" font-weight="bold" fill="#231815">c</text>
<text x="95.9" y="494.4" font-size="12.3" text-anchor="middle" fill="#111">LM</text>
<text x="261.1" y="494.4" font-size="12.3" text-anchor="middle" fill="#111">LAD</text>
<text x="425.6" y="494.4" font-size="12.3" text-anchor="middle" fill="#111">LCx</text>
<text x="592.9" y="494.4" font-size="12.3" text-anchor="middle" fill="#111">RCA</text>
<path d="M30.6,569.7C35.1,569.0 48.6,567.3 57.6,565.8C66.6,564.4 75.6,562.9 84.6,560.9C93.6,559.0 102.6,556.4 111.6,554.0C120.6,551.5 129.6,548.9 138.6,546.4C147.6,543.9 161.1,540.3 165.6,539.0L165.6,582.5L30.6,582.5Z" fill="#d3d8ea"/><path d="M30.6,575.0C35.1,574.4 48.6,572.7 57.6,571.4C66.6,570.2 75.6,568.9 84.6,567.4C93.6,565.8 102.6,564.0 111.6,562.1C120.6,560.3 129.6,558.2 138.6,556.3C147.6,554.3 161.1,551.3 165.6,550.3L165.6,582.5L30.6,582.5Z" fill="#f9d3ce"/><path d="M30.6,576.0C35.1,575.5 48.6,574.0 57.6,572.8C66.6,571.7 75.6,570.4 84.6,569.1C93.6,567.8 102.6,566.2 111.6,564.8C120.6,563.3 129.6,561.8 138.6,560.4C147.6,558.9 161.1,556.8 165.6,556.1L165.6,582.5L30.6,582.5Z" fill="#cbece3"/><path d="M30.6,569.7C35.1,569.0 48.6,567.3 57.6,565.8C66.6,564.4 75.6,562.9 84.6,560.9C93.6,559.0 102.6,556.4 111.6,554.0C120.6,551.5 129.6,548.9 138.6,546.4C147.6,543.9 161.1,540.3 165.6,539.0" fill="none" stroke="#3c4f93" stroke-width="1.25"/><path d="M30.6,575.0C35.1,574.4 48.6,572.7 57.6,571.4C66.6,570.2 75.6,568.9 84.6,567.4C93.6,565.8 102.6,564.0 111.6,562.1C120.6,560.3 129.6,558.2 138.6,556.3C147.6,554.3 161.1,551.3 165.6,550.3" fill="none" stroke="#e8553e" stroke-width="1.25"/><path d="M30.6,576.0C35.1,575.5 48.6,574.0 57.6,572.8C66.6,571.7 75.6,570.4 84.6,569.1C93.6,567.8 102.6,566.2 111.6,564.8C120.6,563.3 129.6,561.8 138.6,560.4C147.6,558.9 161.1,556.8 165.6,556.1" fill="none" stroke="#27a083" stroke-width="1.25"/>
<path d="M196.4,539.0C197.5,537.9 200.9,534.0 203.2,532.4C205.4,530.8 207.7,529.2 209.9,529.4C212.2,529.6 214.4,530.9 216.7,533.6C218.9,536.2 221.2,541.3 223.4,545.2C225.7,549.1 227.9,553.5 230.2,556.9C232.4,560.2 234.7,562.8 236.9,565.4C239.2,568.0 241.4,570.7 243.7,572.6C245.9,574.5 247.0,575.5 250.4,576.7C253.8,577.9 259.4,579.2 263.9,579.9C268.4,580.7 272.9,580.8 277.4,581.1C281.9,581.4 286.4,581.4 290.9,581.5C295.4,581.5 299.9,581.4 304.4,581.5C308.9,581.5 313.4,581.7 317.9,581.8C322.4,581.9 329.1,582.0 331.4,582.0L331.4,582.5L196.4,582.5Z" fill="#d3d8ea"/><path d="M196.4,550.3C197.5,549.2 200.9,545.1 203.2,543.5C205.4,541.8 207.7,540.7 209.9,540.6C212.2,540.5 214.4,541.3 216.7,542.9C218.9,544.4 221.2,547.2 223.4,549.9C225.7,552.6 227.9,556.2 230.2,559.2C232.4,562.2 234.7,565.4 236.9,567.9C239.2,570.5 241.4,572.7 243.7,574.3C245.9,576.0 247.0,576.9 250.4,578.0C253.8,579.0 259.4,580.1 263.9,580.6C268.4,581.2 272.9,581.3 277.4,581.5C281.9,581.6 286.4,581.6 290.9,581.7C295.4,581.7 299.9,581.6 304.4,581.7C308.9,581.7 313.4,581.8 317.9,581.9C322.4,582.0 329.1,582.1 331.4,582.2L331.4,582.5L196.4,582.5Z" fill="#f9d3ce"/><path d="M196.4,556.1C197.5,555.3 200.7,552.5 203.2,551.3C205.6,550.1 208.8,549.2 211.2,548.9C213.7,548.7 216.0,549.2 218.0,549.9C220.0,550.5 221.4,551.1 223.4,552.9C225.4,554.8 227.9,558.2 230.2,560.9C232.4,563.7 234.7,566.9 236.9,569.2C239.2,571.5 241.4,573.4 243.7,574.9C245.9,576.5 247.0,577.6 250.4,578.5C253.8,579.5 259.4,580.2 263.9,580.8C268.4,581.3 272.9,581.4 277.4,581.6C281.9,581.7 286.4,581.7 290.9,581.7C295.4,581.7 299.9,581.6 304.4,581.7C308.9,581.7 313.4,581.8 317.9,581.9C322.4,582.0 329.1,582.1 331.4,582.2L331.4,582.5L196.4,582.5Z" fill="#cbece3"/><path d="M196.4,539.0C197.5,537.9 200.9,534.0 203.2,532.4C205.4,530.8 207.7,529.2 209.9,529.4C212.2,529.6 214.4,530.9 216.7,533.6C218.9,536.2 221.2,541.3 223.4,545.2C225.7,549.1 227.9,553.5 230.2,556.9C232.4,560.2 234.7,562.8 236.9,565.4C239.2,568.0 241.4,570.7 243.7,572.6C245.9,574.5 247.0,575.5 250.4,576.7C253.8,577.9 259.4,579.2 263.9,579.9C268.4,580.7 272.9,580.8 277.4,581.1C281.9,581.4 286.4,581.4 290.9,581.5C295.4,581.5 299.9,581.4 304.4,581.5C308.9,581.5 313.4,581.7 317.9,581.8C322.4,581.9 329.1,582.0 331.4,582.0" fill="none" stroke="#3c4f93" stroke-width="1.25"/><path d="M196.4,550.3C197.5,549.2 200.9,545.1 203.2,543.5C205.4,541.8 207.7,540.7 209.9,540.6C212.2,540.5 214.4,541.3 216.7,542.9C218.9,544.4 221.2,547.2 223.4,549.9C225.7,552.6 227.9,556.2 230.2,559.2C232.4,562.2 234.7,565.4 236.9,567.9C239.2,570.5 241.4,572.7 243.7,574.3C245.9,576.0 247.0,576.9 250.4,578.0C253.8,579.0 259.4,580.1 263.9,580.6C268.4,581.2 272.9,581.3 277.4,581.5C281.9,581.6 286.4,581.6 290.9,581.7C295.4,581.7 299.9,581.6 304.4,581.7C308.9,581.7 313.4,581.8 317.9,581.9C322.4,582.0 329.1,582.1 331.4,582.2" fill="none" stroke="#e8553e" stroke-width="1.25"/><path d="M196.4,556.1C197.5,555.3 200.7,552.5 203.2,551.3C205.6,550.1 208.8,549.2 211.2,548.9C213.7,548.7 216.0,549.2 218.0,549.9C220.0,550.5 221.4,551.1 223.4,552.9C225.4,554.8 227.9,558.2 230.2,560.9C232.4,563.7 234.7,566.9 236.9,569.2C239.2,571.5 241.4,573.4 243.7,574.9C245.9,576.5 247.0,577.6 250.4,578.5C253.8,579.5 259.4,580.2 263.9,580.8C268.4,581.3 272.9,581.4 277.4,581.6C281.9,581.7 286.4,581.7 290.9,581.7C295.4,581.7 299.9,581.6 304.4,581.7C308.9,581.7 313.4,581.8 317.9,581.9C322.4,582.0 329.1,582.1 331.4,582.2" fill="none" stroke="#27a083" stroke-width="1.25"/>
<path d="M361.7,576.9C362.4,576.2 363.5,574.3 365.8,572.9C368.0,571.5 371.1,569.8 375.2,568.5C379.2,567.2 385.6,565.6 390.1,565.2C394.6,564.8 397.9,565.6 402.2,566.3C406.5,567.0 411.2,568.4 415.7,569.3C420.2,570.3 424.7,571.1 429.2,572.0C433.7,572.9 438.2,573.7 442.7,574.6C447.2,575.5 451.7,576.4 456.2,577.3C460.7,578.1 465.2,579.0 469.7,579.6C474.2,580.2 478.7,580.5 483.2,580.9C487.7,581.2 494.4,581.5 496.7,581.7L496.7,582.5L361.7,582.5Z" fill="#d3d8ea"/><path d="M361.7,578.4C362.4,578.1 363.5,577.4 365.8,576.7C368.0,575.9 371.1,574.7 375.2,574.0C379.2,573.3 385.6,572.6 390.1,572.3C394.6,572.1 397.9,572.3 402.2,572.5C406.5,572.7 411.2,573.0 415.7,573.4C420.2,573.8 424.7,574.4 429.2,574.9C433.7,575.5 438.2,576.1 442.7,576.7C447.2,577.3 451.7,578.0 456.2,578.5C460.7,579.1 465.2,579.7 469.7,580.2C474.2,580.6 478.7,580.9 483.2,581.2C487.7,581.5 494.4,581.8 496.7,581.9L496.7,582.5L361.7,582.5Z" fill="#cbece3"/><path d="M361.7,579.0C362.4,578.7 363.5,577.9 365.8,577.3C368.0,576.6 371.4,575.6 375.2,574.9C379.0,574.3 384.2,573.7 388.7,573.5C393.2,573.3 397.7,573.5 402.2,573.8C406.7,574.0 411.2,574.4 415.7,574.8C420.2,575.2 424.7,575.7 429.2,576.2C433.7,576.7 438.2,577.3 442.7,577.8C447.2,578.4 451.7,578.9 456.2,579.4C460.7,579.8 465.2,580.3 469.7,580.6C474.2,581.0 478.7,581.2 483.2,581.5C487.7,581.7 494.4,581.9 496.7,582.0L496.7,582.5L361.7,582.5Z" fill="#f9d3ce"/><path d="M361.7,576.9C362.4,576.2 363.5,574.3 365.8,572.9C368.0,571.5 371.1,569.8 375.2,568.5C379.2,567.2 385.6,565.6 390.1,565.2C394.6,564.8 397.9,565.6 402.2,566.3C406.5,567.0 411.2,568.4 415.7,569.3C420.2,570.3 424.7,571.1 429.2,572.0C433.7,572.9 438.2,573.7 442.7,574.6C447.2,575.5 451.7,576.4 456.2,577.3C460.7,578.1 465.2,579.0 469.7,579.6C474.2,580.2 478.7,580.5 483.2,580.9C487.7,581.2 494.4,581.5 496.7,581.7" fill="none" stroke="#3c4f93" stroke-width="1.25"/><path d="M361.7,579.0C362.4,578.7 363.5,577.9 365.8,577.3C368.0,576.6 371.4,575.6 375.2,574.9C379.0,574.3 384.2,573.7 388.7,573.5C393.2,573.3 397.7,573.5 402.2,573.8C406.7,574.0 411.2,574.4 415.7,574.8C420.2,575.2 424.7,575.7 429.2,576.2C433.7,576.7 438.2,577.3 442.7,577.8C447.2,578.4 451.7,578.9 456.2,579.4C460.7,579.8 465.2,580.3 469.7,580.6C474.2,581.0 478.7,581.2 483.2,581.5C487.7,581.7 494.4,581.9 496.7,582.0" fill="none" stroke="#e8553e" stroke-width="1.25"/><path d="M361.7,578.4C362.4,578.1 363.5,577.4 365.8,576.7C368.0,575.9 371.1,574.7 375.2,574.0C379.2,573.3 385.6,572.6 390.1,572.3C394.6,572.1 397.9,572.3 402.2,572.5C406.5,572.7 411.2,573.0 415.7,573.4C420.2,573.8 424.7,574.4 429.2,574.9C433.7,575.5 438.2,576.1 442.7,576.7C447.2,577.3 451.7,578.0 456.2,578.5C460.7,579.1 465.2,579.7 469.7,580.2C474.2,580.6 478.7,580.9 483.2,581.2C487.7,581.5 494.4,581.8 496.7,581.9" fill="none" stroke="#27a083" stroke-width="1.25"/>
<path d="M527.0,579.0C528.1,577.6 531.5,574.2 533.8,570.9C536.0,567.5 537.4,562.5 540.5,559.2C543.6,555.9 548.1,551.4 552.6,551.0C557.1,550.7 562.8,554.7 567.5,556.9C572.2,559.1 576.5,562.6 581.0,564.3C585.5,566.1 590.0,566.7 594.5,567.4C599.0,568.0 603.5,568.2 608.0,568.3C612.5,568.3 617.0,568.0 621.5,567.6C626.0,567.1 630.0,566.2 635.0,565.6C640.0,565.0 647.4,563.5 651.2,563.7C655.0,564.0 656.2,565.6 658.0,567.4C659.8,569.1 661.3,573.2 662.0,574.3L662.0,582.5L527.0,582.5Z" fill="#d3d8ea"/><path d="M527.0,580.2C528.1,579.2 531.5,576.5 533.8,574.3C536.0,572.2 537.6,569.4 540.5,567.4C543.4,565.3 546.8,562.3 551.3,562.0C555.8,561.7 562.5,564.3 567.5,565.6C572.5,566.9 576.5,568.7 581.0,569.7C585.5,570.7 590.0,571.0 594.5,571.4C599.0,571.9 603.5,572.3 608.0,572.5C612.5,572.6 617.0,572.4 621.5,572.2C626.0,572.1 630.0,571.6 635.0,571.3C640.0,571.0 647.4,570.3 651.2,570.5C655.0,570.7 656.2,571.4 658.0,572.6C659.8,573.8 661.3,577.0 662.0,577.8L662.0,582.5L527.0,582.5Z" fill="#f9d3ce"/><path d="M527.0,580.8C528.1,580.1 531.5,578.1 533.8,576.7C536.0,575.2 536.7,573.6 540.5,572.0C544.3,570.4 552.2,567.6 556.7,567.0C561.2,566.4 563.5,567.8 567.5,568.5C571.5,569.3 576.5,570.6 581.0,571.4C585.5,572.3 590.0,573.0 594.5,573.5C599.0,574.0 603.5,574.2 608.0,574.3C612.5,574.5 617.0,574.3 621.5,574.2C626.0,574.1 630.3,573.9 635.0,573.8C639.7,573.6 646.0,573.0 649.9,573.2C653.7,573.4 655.9,574.0 658.0,574.9C660.0,575.9 661.3,578.3 662.0,579.0L662.0,582.5L527.0,582.5Z" fill="#cbece3"/><path d="M527.0,579.0C528.1,577.6 531.5,574.2 533.8,570.9C536.0,567.5 537.4,562.5 540.5,559.2C543.6,555.9 548.1,551.4 552.6,551.0C557.1,550.7 562.8,554.7 567.5,556.9C572.2,559.1 576.5,562.6 581.0,564.3C585.5,566.1 590.0,566.7 594.5,567.4C599.0,568.0 603.5,568.2 608.0,568.3C612.5,568.3 617.0,568.0 621.5,567.6C626.0,567.1 630.0,566.2 635.0,565.6C640.0,565.0 647.4,563.5 651.2,563.7C655.0,564.0 656.2,565.6 658.0,567.4C659.8,569.1 661.3,573.2 662.0,574.3" fill="none" stroke="#3c4f93" stroke-width="1.25"/><path d="M527.0,580.2C528.1,579.2 531.5,576.5 533.8,574.3C536.0,572.2 537.6,569.4 540.5,567.4C543.4,565.3 546.8,562.3 551.3,562.0C555.8,561.7 562.5,564.3 567.5,565.6C572.5,566.9 576.5,568.7 581.0,569.7C585.5,570.7 590.0,571.0 594.5,571.4C599.0,571.9 603.5,572.3 608.0,572.5C612.5,572.6 617.0,572.4 621.5,572.2C626.0,572.1 630.0,571.6 635.0,571.3C640.0,571.0 647.4,570.3 651.2,570.5C655.0,570.7 656.2,571.4 658.0,572.6C659.8,573.8 661.3,577.0 662.0,577.8" fill="none" stroke="#e8553e" stroke-width="1.25"/><path d="M527.0,580.8C528.1,580.1 531.5,578.1 533.8,576.7C536.0,575.2 536.7,573.6 540.5,572.0C544.3,570.4 552.2,567.6 556.7,567.0C561.2,566.4 563.5,567.8 567.5,568.5C571.5,569.3 576.5,570.6 581.0,571.4C585.5,572.3 590.0,573.0 594.5,573.5C599.0,574.0 603.5,574.2 608.0,574.3C612.5,574.5 617.0,574.3 621.5,574.2C626.0,574.1 630.3,573.9 635.0,573.8C639.7,573.6 646.0,573.0 649.9,573.2C653.7,573.4 655.9,574.0 658.0,574.9C660.0,575.9 661.3,578.3 662.0,579.0" fill="none" stroke="#27a083" stroke-width="1.25"/>
<line x1="209.9" y1="529.4" x2="209.9" y2="582.5" stroke="#2c3a80" stroke-width="0.9" stroke-dasharray="2.4,1.6"/>
<line x1="390.1" y1="565.2" x2="390.1" y2="582.5" stroke="#2c3a80" stroke-width="0.9" stroke-dasharray="2.4,1.6"/>
<line x1="552.6" y1="551.1" x2="552.6" y2="582.5" stroke="#2c3a80" stroke-width="0.9" stroke-dasharray="2.4,1.6"/>
<line x1="651.2" y1="563.7" x2="651.2" y2="582.5" stroke="#2c3a80" stroke-width="0.9" stroke-dasharray="2.4,1.6"/>
<line x1="24.4" y1="498.4" x2="24.4" y2="582.5" stroke="#c8c8c8" stroke-width="0.8"/>
<text x="20.7" y="584.6" font-size="6.2" text-anchor="end" fill="#444">0</text>
<text x="20.7" y="561.3" font-size="6.2" text-anchor="end" fill="#444">20</text>
<text x="20.7" y="538.0" font-size="6.2" text-anchor="end" fill="#444">40</text>
<text x="20.7" y="514.7" font-size="6.2" text-anchor="end" fill="#444">60</text>
<text transform="translate(9.2,539.3) rotate(-90)" text-anchor="middle" font-size="10.6" fill="#1a1a1a">% prevalence</text>
<text x="30.6" y="590.2" font-size="6.0" text-anchor="middle" fill="#333">0.0</text><text x="57.6" y="590.2" font-size="6.0" text-anchor="middle" fill="#333">0.2</text><text x="84.6" y="590.2" font-size="6.0" text-anchor="middle" fill="#333">0.4</text><text x="111.6" y="590.2" font-size="6.0" text-anchor="middle" fill="#333">0.6</text><text x="138.6" y="590.2" font-size="6.0" text-anchor="middle" fill="#333">0.8</text><text x="165.6" y="590.2" font-size="6.0" text-anchor="middle" fill="#333">1.0</text><text x="196.4" y="590.2" font-size="6.0" text-anchor="middle" fill="#333">0.0</text><text x="223.4" y="590.2" font-size="6.0" text-anchor="middle" fill="#333">0.2</text><text x="250.4" y="590.2" font-size="6.0" text-anchor="middle" fill="#333">0.4</text><text x="277.4" y="590.2" font-size="6.0" text-anchor="middle" fill="#333">0.6</text><text x="304.4" y="590.2" font-size="6.0" text-anchor="middle" fill="#333">0.8</text><text x="331.4" y="590.2" font-size="6.0" text-anchor="middle" fill="#333">1.0</text><text x="361.7" y="590.2" font-size="6.0" text-anchor="middle" fill="#333">0.0</text><text x="388.7" y="590.2" font-size="6.0" text-anchor="middle" fill="#333">0.2</text><text x="415.7" y="590.2" font-size="6.0" text-anchor="middle" fill="#333">0.4</text><text x="442.7" y="590.2" font-size="6.0" text-anchor="middle" fill="#333">0.6</text><text x="469.7" y="590.2" font-size="6.0" text-anchor="middle" fill="#333">0.8</text><text x="496.7" y="590.2" font-size="6.0" text-anchor="middle" fill="#333">1.0</text><text x="527.0" y="590.2" font-size="6.0" text-anchor="middle" fill="#333">0.0</text><text x="554.0" y="590.2" font-size="6.0" text-anchor="middle" fill="#333">0.2</text><text x="581.0" y="590.2" font-size="6.0" text-anchor="middle" fill="#333">0.4</text><text x="608.0" y="590.2" font-size="6.0" text-anchor="middle" fill="#333">0.6</text><text x="635.0" y="590.2" font-size="6.0" text-anchor="middle" fill="#333">0.8</text><text x="662.0" y="590.2" font-size="6.0" text-anchor="middle" fill="#333">1.0</text>
<line x1="264.9" y1="503.9" x2="272.9" y2="503.9" stroke="#3c4f93" stroke-width="1.6"/><text x="275.1" y="506.8" font-size="8.2" fill="#1a1a1a">(0.10, 45.58)</text>
<line x1="264.9" y1="517.0" x2="272.9" y2="517.0" stroke="#e8553e" stroke-width="1.6"/><text x="275.1" y="519.9" font-size="8.2" fill="#1a1a1a">(0.10, 35.98)</text>
<line x1="264.9" y1="529.3" x2="272.9" y2="529.3" stroke="#27a083" stroke-width="1.6"/><text x="275.1" y="532.2" font-size="8.2" fill="#1a1a1a">(0.11, 28.81)</text>
<line x1="433.5" y1="503.9" x2="441.5" y2="503.9" stroke="#3c4f93" stroke-width="1.6"/><text x="443.7" y="506.8" font-size="8.2" fill="#1a1a1a">(0.21, 14.84)</text>
<line x1="433.5" y1="516.6" x2="441.5" y2="516.6" stroke="#e8553e" stroke-width="1.6"/><text x="443.7" y="519.5" font-size="8.2" fill="#1a1a1a">(0.20, 7.74)</text>
<line x1="433.5" y1="528.5" x2="441.5" y2="528.5" stroke="#27a083" stroke-width="1.6"/><text x="443.7" y="531.4" font-size="8.2" fill="#1a1a1a">(0.21, 8.75)</text>
<line x1="525.3" y1="503.9" x2="533.3" y2="503.9" stroke="#3c4f93" stroke-width="1.6"/><text x="535.5" y="506.8" font-size="8.2" fill="#1a1a1a">(0.19, 26.98)</text>
<line x1="525.3" y1="516.6" x2="533.3" y2="516.6" stroke="#e8553e" stroke-width="1.6"/><text x="535.5" y="519.5" font-size="8.2" fill="#1a1a1a">(0.18, 17.62)</text>
<line x1="525.3" y1="528.5" x2="533.3" y2="528.5" stroke="#27a083" stroke-width="1.6"/><text x="535.5" y="531.4" font-size="8.2" fill="#1a1a1a">(0.22, 13.29)</text>
<line x1="623.4" y1="503.9" x2="631.4" y2="503.9" stroke="#3c4f93" stroke-width="1.6"/><text x="633.6" y="506.8" font-size="8.2" fill="#1a1a1a">(0.92, 16.14)</text>
<line x1="623.4" y1="516.6" x2="631.4" y2="516.6" stroke="#e8553e" stroke-width="1.6"/><text x="633.6" y="519.5" font-size="8.2" fill="#1a1a1a">(0.92, 10.30)</text>
<line x1="623.4" y1="528.5" x2="631.4" y2="528.5" stroke="#27a083" stroke-width="1.6"/><text x="633.6" y="531.4" font-size="8.2" fill="#1a1a1a">(0.91, 7.97)</text>
<path d="M30.6,619.6C32.9,619.5 39.6,619.2 44.1,619.0C48.6,618.8 53.1,618.5 57.6,618.2C62.1,617.9 66.6,617.6 71.1,617.2C75.6,616.9 80.1,616.6 84.6,616.2C89.1,615.9 93.6,615.5 98.1,615.1C102.6,614.8 107.1,614.4 111.6,614.0C116.1,613.6 120.6,613.2 125.1,612.8C129.6,612.4 134.1,612.0 138.6,611.6C143.1,611.2 147.6,610.7 152.1,610.3C156.6,609.9 163.3,609.2 165.6,609.0L165.6,627.3L30.6,627.3Z" fill="#d3d8ea"/><path d="M30.6,622.3C32.9,622.2 39.6,622.0 44.1,621.9C48.6,621.7 53.1,621.5 57.6,621.3C62.1,621.0 66.6,620.8 71.1,620.6C75.6,620.3 80.1,620.1 84.6,619.8C89.1,619.6 93.6,619.3 98.1,619.0C102.6,618.7 107.1,618.5 111.6,618.2C116.1,617.9 120.6,617.6 125.1,617.3C129.6,617.0 134.1,616.7 138.6,616.4C143.1,616.1 147.6,615.8 152.1,615.5C156.6,615.1 163.3,614.7 165.6,614.5L165.6,627.3L30.6,627.3Z" fill="#cbece3"/><path d="M30.6,623.6C32.9,623.5 39.6,623.3 44.1,623.2C48.6,623.0 53.1,622.8 57.6,622.6C62.1,622.3 66.6,622.1 71.1,621.9C75.6,621.6 80.1,621.4 84.6,621.1C89.1,620.9 93.6,620.6 98.1,620.3C102.6,620.0 107.1,619.8 111.6,619.5C116.1,619.2 120.6,618.9 125.1,618.6C129.6,618.3 134.1,618.0 138.6,617.7C143.1,617.4 147.6,617.1 152.1,616.8C156.6,616.4 163.3,616.0 165.6,615.8L165.6,627.3L30.6,627.3Z" fill="#f9d3ce"/><path d="M30.6,619.6C32.9,619.5 39.6,619.2 44.1,619.0C48.6,618.8 53.1,618.5 57.6,618.2C62.1,617.9 66.6,617.6 71.1,617.2C75.6,616.9 80.1,616.6 84.6,616.2C89.1,615.9 93.6,615.5 98.1,615.1C102.6,614.8 107.1,614.4 111.6,614.0C116.1,613.6 120.6,613.2 125.1,612.8C129.6,612.4 134.1,612.0 138.6,611.6C143.1,611.2 147.6,610.7 152.1,610.3C156.6,609.9 163.3,609.2 165.6,609.0" fill="none" stroke="#3c4f93" stroke-width="1.0"/><path d="M30.6,623.6C32.9,623.5 39.6,623.3 44.1,623.2C48.6,623.0 53.1,622.8 57.6,622.6C62.1,622.3 66.6,622.1 71.1,621.9C75.6,621.6 80.1,621.4 84.6,621.1C89.1,620.9 93.6,620.6 98.1,620.3C102.6,620.0 107.1,619.8 111.6,619.5C116.1,619.2 120.6,618.9 125.1,618.6C129.6,618.3 134.1,618.0 138.6,617.7C143.1,617.4 147.6,617.1 152.1,616.8C156.6,616.4 163.3,616.0 165.6,615.8" fill="none" stroke="#e8553e" stroke-width="1.0"/><path d="M30.6,622.3C32.9,622.2 39.6,622.0 44.1,621.9C48.6,621.7 53.1,621.5 57.6,621.3C62.1,621.0 66.6,620.8 71.1,620.6C75.6,620.3 80.1,620.1 84.6,619.8C89.1,619.6 93.6,619.3 98.1,619.0C102.6,618.7 107.1,618.5 111.6,618.2C116.1,617.9 120.6,617.6 125.1,617.3C129.6,617.0 134.1,616.7 138.6,616.4C143.1,616.1 147.6,615.8 152.1,615.5C156.6,615.1 163.3,614.7 165.6,614.5" fill="none" stroke="#27a083" stroke-width="1.0"/><line x1="24.3" y1="627.3" x2="167.5" y2="627.3" stroke="#555" stroke-width="0.8"/><path d="M196.4,608.9C197.5,608.6 200.9,607.7 203.2,607.3C205.4,607.0 207.7,607.0 209.9,607.0C212.2,607.0 214.4,607.0 216.7,607.6C218.9,608.2 221.2,609.2 223.4,610.5C225.7,611.8 227.9,613.6 230.2,615.2C232.4,616.8 234.7,618.8 236.9,619.9C239.2,621.0 241.4,621.3 243.7,621.9C245.9,622.6 247.0,623.3 250.4,624.0C253.8,624.7 259.4,625.5 263.9,626.0C268.4,626.5 270.6,626.7 277.4,626.9C284.1,627.1 295.4,627.0 304.4,627.0C313.4,627.0 326.9,627.1 331.4,627.1L331.4,627.3L196.4,627.3Z" fill="#d3d8ea"/><path d="M196.4,614.0C197.5,613.8 200.9,613.0 203.2,612.8C205.4,612.7 207.7,612.8 209.9,612.9C212.2,613.0 214.4,612.9 216.7,613.3C218.9,613.7 221.2,614.4 223.4,615.2C225.7,616.0 227.9,617.3 230.2,618.3C232.4,619.4 234.7,620.7 236.9,621.5C239.2,622.3 241.4,622.5 243.7,623.0C245.9,623.5 247.0,624.0 250.4,624.5C253.8,625.0 259.4,625.8 263.9,626.2C268.4,626.6 270.6,626.8 277.4,626.9C284.1,627.0 295.4,627.0 304.4,627.0C313.4,627.0 326.9,627.1 331.4,627.1L331.4,627.3L196.4,627.3Z" fill="#cbece3"/><path d="M196.4,615.2C197.5,615.0 200.9,614.1 203.2,613.8C205.4,613.5 207.7,613.6 209.9,613.6C212.2,613.6 214.4,613.5 216.7,614.0C218.9,614.5 221.2,615.5 223.4,616.4C225.7,617.3 227.9,618.3 230.2,619.3C232.4,620.3 234.7,621.5 236.9,622.2C239.2,622.9 241.4,623.1 243.7,623.6C245.9,624.1 247.0,624.5 250.4,625.0C253.8,625.5 259.4,626.1 263.9,626.4C268.4,626.7 270.6,626.8 277.4,626.9C284.1,627.0 295.4,627.0 304.4,627.0C313.4,627.0 326.9,627.1 331.4,627.1L331.4,627.3L196.4,627.3Z" fill="#f9d3ce"/><path d="M196.4,608.9C197.5,608.6 200.9,607.7 203.2,607.3C205.4,607.0 207.7,607.0 209.9,607.0C212.2,607.0 214.4,607.0 216.7,607.6C218.9,608.2 221.2,609.2 223.4,610.5C225.7,611.8 227.9,613.6 230.2,615.2C232.4,616.8 234.7,618.8 236.9,619.9C239.2,621.0 241.4,621.3 243.7,621.9C245.9,622.6 247.0,623.3 250.4,624.0C253.8,624.7 259.4,625.5 263.9,626.0C268.4,626.5 270.6,626.7 277.4,626.9C284.1,627.1 295.4,627.0 304.4,627.0C313.4,627.0 326.9,627.1 331.4,627.1" fill="none" stroke="#3c4f93" stroke-width="1.0"/><path d="M196.4,615.2C197.5,615.0 200.9,614.1 203.2,613.8C205.4,613.5 207.7,613.6 209.9,613.6C212.2,613.6 214.4,613.5 216.7,614.0C218.9,614.5 221.2,615.5 223.4,616.4C225.7,617.3 227.9,618.3 230.2,619.3C232.4,620.3 234.7,621.5 236.9,622.2C239.2,622.9 241.4,623.1 243.7,623.6C245.9,624.1 247.0,624.5 250.4,625.0C253.8,625.5 259.4,626.1 263.9,626.4C268.4,626.7 270.6,626.8 277.4,626.9C284.1,627.0 295.4,627.0 304.4,627.0C313.4,627.0 326.9,627.1 331.4,627.1" fill="none" stroke="#e8553e" stroke-width="1.0"/><path d="M196.4,614.0C197.5,613.8 200.9,613.0 203.2,612.8C205.4,612.7 207.7,612.8 209.9,612.9C212.2,613.0 214.4,612.9 216.7,613.3C218.9,613.7 221.2,614.4 223.4,615.2C225.7,616.0 227.9,617.3 230.2,618.3C232.4,619.4 234.7,620.7 236.9,621.5C239.2,622.3 241.4,622.5 243.7,623.0C245.9,623.5 247.0,624.0 250.4,624.5C253.8,625.0 259.4,625.8 263.9,626.2C268.4,626.6 270.6,626.8 277.4,626.9C284.1,627.0 295.4,627.0 304.4,627.0C313.4,627.0 326.9,627.1 331.4,627.1" fill="none" stroke="#27a083" stroke-width="1.0"/><line x1="190.1" y1="627.3" x2="338" y2="627.3" stroke="#555" stroke-width="0.8"/><path d="M361.7,623.4C363.9,622.9 370.7,621.2 375.2,620.3C379.7,619.4 384.2,618.4 388.7,618.2C393.2,618.0 397.7,618.7 402.2,619.1C406.7,619.5 411.2,620.1 415.7,620.6C420.2,621.1 424.7,621.8 429.2,622.3C433.7,622.9 438.2,623.6 442.7,624.1C447.2,624.6 451.7,624.8 456.2,625.1C460.7,625.5 465.2,625.9 469.7,626.2C474.2,626.5 478.7,626.7 483.2,626.9C487.7,627.0 494.4,627.1 496.7,627.1L496.7,627.3L361.7,627.3Z" fill="#d3d8ea"/><path d="M361.7,624.3C363.9,623.9 370.7,622.7 375.2,622.1C379.7,621.6 384.2,621.1 388.7,621.0C393.2,620.9 397.7,621.1 402.2,621.3C406.7,621.5 411.2,621.8 415.7,622.2C420.2,622.6 424.7,623.0 429.2,623.4C433.7,623.9 438.2,624.4 442.7,624.7C447.2,625.0 451.7,625.2 456.2,625.5C460.7,625.8 465.2,626.1 469.7,626.3C474.2,626.5 478.7,626.8 483.2,626.9C487.7,627.0 494.4,627.1 496.7,627.1L496.7,627.3L361.7,627.3Z" fill="#cbece3"/><path d="M361.7,625.0C363.9,624.8 370.7,624.0 375.2,623.7C379.7,623.4 384.2,623.4 388.7,623.4C393.2,623.4 397.7,623.3 402.2,623.4C406.7,623.6 411.2,623.9 415.7,624.1C420.2,624.3 424.7,624.5 429.2,624.8C433.7,625.0 438.2,625.2 442.7,625.4C447.2,625.6 451.7,625.9 456.2,626.1C460.7,626.3 465.2,626.6 469.7,626.8C474.2,627.0 478.7,627.0 483.2,627.1C487.7,627.2 494.4,627.1 496.7,627.1L496.7,627.3L361.7,627.3Z" fill="#f9d3ce"/><path d="M361.7,623.4C363.9,622.9 370.7,621.2 375.2,620.3C379.7,619.4 384.2,618.4 388.7,618.2C393.2,618.0 397.7,618.7 402.2,619.1C406.7,619.5 411.2,620.1 415.7,620.6C420.2,621.1 424.7,621.8 429.2,622.3C433.7,622.9 438.2,623.6 442.7,624.1C447.2,624.6 451.7,624.8 456.2,625.1C460.7,625.5 465.2,625.9 469.7,626.2C474.2,626.5 478.7,626.7 483.2,626.9C487.7,627.0 494.4,627.1 496.7,627.1" fill="none" stroke="#3c4f93" stroke-width="1.0"/><path d="M361.7,625.0C363.9,624.8 370.7,624.0 375.2,623.7C379.7,623.4 384.2,623.4 388.7,623.4C393.2,623.4 397.7,623.3 402.2,623.4C406.7,623.6 411.2,623.9 415.7,624.1C420.2,624.3 424.7,624.5 429.2,624.8C433.7,625.0 438.2,625.2 442.7,625.4C447.2,625.6 451.7,625.9 456.2,626.1C460.7,626.3 465.2,626.6 469.7,626.8C474.2,627.0 478.7,627.0 483.2,627.1C487.7,627.2 494.4,627.1 496.7,627.1" fill="none" stroke="#e8553e" stroke-width="1.0"/><path d="M361.7,624.3C363.9,623.9 370.7,622.7 375.2,622.1C379.7,621.6 384.2,621.1 388.7,621.0C393.2,620.9 397.7,621.1 402.2,621.3C406.7,621.5 411.2,621.8 415.7,622.2C420.2,622.6 424.7,623.0 429.2,623.4C433.7,623.9 438.2,624.4 442.7,624.7C447.2,625.0 451.7,625.2 456.2,625.5C460.7,625.8 465.2,626.1 469.7,626.3C474.2,626.5 478.7,626.8 483.2,626.9C487.7,627.0 494.4,627.1 496.7,627.1" fill="none" stroke="#27a083" stroke-width="1.0"/><line x1="354.2" y1="627.3" x2="502.3" y2="627.3" stroke="#555" stroke-width="0.8"/><path d="M527.0,623.4C529.2,622.2 536.0,618.2 540.5,616.4C545.0,614.6 549.5,612.8 554.0,612.4C558.5,612.0 563.0,613.1 567.5,614.0C572.0,614.9 576.5,616.4 581.0,617.5C585.5,618.6 590.0,619.9 594.5,620.6C599.0,621.3 603.5,621.5 608.0,621.7C612.5,621.9 617.0,621.9 621.5,621.7C626.0,621.5 630.0,621.2 635.0,620.6C640.0,620.0 646.7,617.7 651.2,618.2C655.7,618.7 660.2,622.5 662.0,623.4L662.0,627.3L527.0,627.3Z" fill="#d3d8ea"/><path d="M527.0,624.5C529.2,623.8 536.0,621.3 540.5,620.3C545.0,619.2 549.5,618.5 554.0,618.2C558.5,617.9 563.0,618.3 567.5,618.7C572.0,619.1 576.5,619.9 581.0,620.6C585.5,621.3 590.0,622.2 594.5,622.7C599.0,623.2 603.5,623.3 608.0,623.4C612.5,623.5 617.0,623.5 621.5,623.4C626.0,623.3 630.0,623.0 635.0,622.7C640.0,622.4 646.7,621.3 651.2,621.5C655.7,621.7 660.2,623.6 662.0,624.0L662.0,627.3L527.0,627.3Z" fill="#f9d3ce"/><path d="M527.0,625.2C529.2,624.5 536.0,621.9 540.5,620.8C545.0,619.7 549.5,618.9 554.0,618.7C558.5,618.5 563.0,619.1 567.5,619.4C572.0,619.7 576.5,620.1 581.0,620.6C585.5,621.1 590.0,621.8 594.5,622.2C599.0,622.5 603.5,622.6 608.0,622.7C612.5,622.8 617.0,622.8 621.5,622.7C626.0,622.6 630.0,622.4 635.0,622.2C640.0,622.0 646.7,621.2 651.2,621.5C655.7,621.8 660.2,623.6 662.0,624.0L662.0,627.3L527.0,627.3Z" fill="#cbece3"/><path d="M527.0,623.4C529.2,622.2 536.0,618.2 540.5,616.4C545.0,614.6 549.5,612.8 554.0,612.4C558.5,612.0 563.0,613.1 567.5,614.0C572.0,614.9 576.5,616.4 581.0,617.5C585.5,618.6 590.0,619.9 594.5,620.6C599.0,621.3 603.5,621.5 608.0,621.7C612.5,621.9 617.0,621.9 621.5,621.7C626.0,621.5 630.0,621.2 635.0,620.6C640.0,620.0 646.7,617.7 651.2,618.2C655.7,618.7 660.2,622.5 662.0,623.4" fill="none" stroke="#3c4f93" stroke-width="1.0"/><path d="M527.0,624.5C529.2,623.8 536.0,621.3 540.5,620.3C545.0,619.2 549.5,618.5 554.0,618.2C558.5,617.9 563.0,618.3 567.5,618.7C572.0,619.1 576.5,619.9 581.0,620.6C585.5,621.3 590.0,622.2 594.5,622.7C599.0,623.2 603.5,623.3 608.0,623.4C612.5,623.5 617.0,623.5 621.5,623.4C626.0,623.3 630.0,623.0 635.0,622.7C640.0,622.4 646.7,621.3 651.2,621.5C655.7,621.7 660.2,623.6 662.0,624.0" fill="none" stroke="#e8553e" stroke-width="1.0"/><path d="M527.0,625.2C529.2,624.5 536.0,621.9 540.5,620.8C545.0,619.7 549.5,618.9 554.0,618.7C558.5,618.5 563.0,619.1 567.5,619.4C572.0,619.7 576.5,620.1 581.0,620.6C585.5,621.1 590.0,621.8 594.5,622.2C599.0,622.5 603.5,622.6 608.0,622.7C612.5,622.8 617.0,622.8 621.5,622.7C626.0,622.6 630.0,622.4 635.0,622.2C640.0,622.0 646.7,621.2 651.2,621.5C655.7,621.8 660.2,623.6 662.0,624.0" fill="none" stroke="#27a083" stroke-width="1.0"/><line x1="520.5" y1="627.3" x2="668.7" y2="627.3" stroke="#555" stroke-width="0.8"/>
<path d="M30.6,642.8C32.9,642.7 39.6,642.5 44.1,642.3C48.6,642.1 53.1,641.8 57.6,641.5C62.1,641.3 66.6,641.0 71.1,640.7C75.6,640.4 80.1,640.1 84.6,639.8C89.1,639.5 93.6,639.1 98.1,638.8C102.6,638.5 107.1,638.1 111.6,637.8C116.1,637.4 120.6,637.1 125.1,636.7C129.6,636.4 134.1,636.0 138.6,635.6C143.1,635.2 147.6,634.9 152.1,634.5C156.6,634.1 163.3,633.5 165.6,633.3L165.6,647.6L30.6,647.6Z" fill="#d3d8ea"/><path d="M30.6,644.6C32.9,644.5 39.6,644.3 44.1,644.1C48.6,644.0 53.1,643.7 57.6,643.5C62.1,643.3 66.6,643.1 71.1,642.8C75.6,642.6 80.1,642.3 84.6,642.0C89.1,641.8 93.6,641.5 98.1,641.2C102.6,640.9 107.1,640.6 111.6,640.3C116.1,640.0 120.6,639.7 125.1,639.4C129.6,639.1 134.1,638.8 138.6,638.5C143.1,638.2 147.6,637.8 152.1,637.5C156.6,637.2 163.3,636.7 165.6,636.5L165.6,647.6L30.6,647.6Z" fill="#f9d3ce"/><path d="M30.6,645.3C32.9,645.2 39.6,645.1 44.1,644.9C48.6,644.8 53.1,644.6 57.6,644.4C62.1,644.2 66.6,644.0 71.1,643.7C75.6,643.5 80.1,643.3 84.6,643.1C89.1,642.8 93.6,642.6 98.1,642.4C102.6,642.1 107.1,641.9 111.6,641.6C116.1,641.3 120.6,641.1 125.1,640.8C129.6,640.6 134.1,640.3 138.6,640.0C143.1,639.7 147.6,639.4 152.1,639.2C156.6,638.9 163.3,638.4 165.6,638.3L165.6,647.6L30.6,647.6Z" fill="#cbece3"/><path d="M30.6,642.8C32.9,642.7 39.6,642.5 44.1,642.3C48.6,642.1 53.1,641.8 57.6,641.5C62.1,641.3 66.6,641.0 71.1,640.7C75.6,640.4 80.1,640.1 84.6,639.8C89.1,639.5 93.6,639.1 98.1,638.8C102.6,638.5 107.1,638.1 111.6,637.8C116.1,637.4 120.6,637.1 125.1,636.7C129.6,636.4 134.1,636.0 138.6,635.6C143.1,635.2 147.6,634.9 152.1,634.5C156.6,634.1 163.3,633.5 165.6,633.3" fill="none" stroke="#3c4f93" stroke-width="1.0"/><path d="M30.6,644.6C32.9,644.5 39.6,644.3 44.1,644.1C48.6,644.0 53.1,643.7 57.6,643.5C62.1,643.3 66.6,643.1 71.1,642.8C75.6,642.6 80.1,642.3 84.6,642.0C89.1,641.8 93.6,641.5 98.1,641.2C102.6,640.9 107.1,640.6 111.6,640.3C116.1,640.0 120.6,639.7 125.1,639.4C129.6,639.1 134.1,638.8 138.6,638.5C143.1,638.2 147.6,637.8 152.1,637.5C156.6,637.2 163.3,636.7 165.6,636.5" fill="none" stroke="#e8553e" stroke-width="1.0"/><path d="M30.6,645.3C32.9,645.2 39.6,645.1 44.1,644.9C48.6,644.8 53.1,644.6 57.6,644.4C62.1,644.2 66.6,644.0 71.1,643.7C75.6,643.5 80.1,643.3 84.6,643.1C89.1,642.8 93.6,642.6 98.1,642.4C102.6,642.1 107.1,641.9 111.6,641.6C116.1,641.3 120.6,641.1 125.1,640.8C129.6,640.6 134.1,640.3 138.6,640.0C143.1,639.7 147.6,639.4 152.1,639.2C156.6,638.9 163.3,638.4 165.6,638.3" fill="none" stroke="#27a083" stroke-width="1.0"/><line x1="24.3" y1="647.6" x2="167.5" y2="647.6" stroke="#b5b5b5" stroke-width="0.8"/><path d="M196.4,631.4C197.5,631.1 200.9,630.0 203.2,629.6C205.4,629.3 207.7,629.1 209.9,629.1C212.2,629.1 214.4,629.1 216.7,629.7C218.9,630.2 221.2,631.3 223.4,632.6C225.7,633.9 227.9,635.7 230.2,637.2C232.4,638.8 234.7,640.8 236.9,641.9C239.2,643.0 241.4,643.1 243.7,643.7C245.9,644.3 247.0,645.0 250.4,645.5C253.8,646.0 259.4,646.5 263.9,646.8C268.4,647.0 270.6,647.1 277.4,647.2C284.1,647.3 295.4,647.3 304.4,647.3C313.4,647.3 326.9,647.4 331.4,647.4L331.4,647.6L196.4,647.6Z" fill="#d3d8ea"/><path d="M196.4,633.8C197.5,633.6 200.9,632.8 203.2,632.6C205.4,632.4 207.7,632.5 209.9,632.6C212.2,632.7 214.4,632.7 216.7,633.1C218.9,633.4 221.2,633.9 223.4,634.9C225.7,635.9 227.9,637.6 230.2,639.0C232.4,640.4 234.7,642.2 236.9,643.1C239.2,644.0 241.4,644.0 243.7,644.5C245.9,644.9 247.0,645.4 250.4,645.8C253.8,646.2 259.4,646.6 263.9,646.9C268.4,647.1 270.6,647.1 277.4,647.2C284.1,647.3 295.4,647.3 304.4,647.3C313.4,647.3 326.9,647.4 331.4,647.4L331.4,647.6L196.4,647.6Z" fill="#f9d3ce"/><path d="M196.4,636.8C197.5,636.6 200.9,635.7 203.2,635.5C205.4,635.3 207.7,635.4 209.9,635.4C212.2,635.4 214.4,635.5 216.7,635.8C218.9,636.0 221.2,636.0 223.4,636.8C225.7,637.6 227.9,639.1 230.2,640.3C232.4,641.5 234.7,643.0 236.9,643.8C239.2,644.6 241.4,644.6 243.7,645.0C245.9,645.3 247.0,645.8 250.4,646.1C253.8,646.4 259.4,646.8 263.9,647.0C268.4,647.2 270.6,647.2 277.4,647.2C284.1,647.2 295.4,647.3 304.4,647.3C313.4,647.3 326.9,647.4 331.4,647.4L331.4,647.6L196.4,647.6Z" fill="#cbece3"/><path d="M196.4,631.4C197.5,631.1 200.9,630.0 203.2,629.6C205.4,629.3 207.7,629.1 209.9,629.1C212.2,629.1 214.4,629.1 216.7,629.7C218.9,630.2 221.2,631.3 223.4,632.6C225.7,633.9 227.9,635.7 230.2,637.2C232.4,638.8 234.7,640.8 236.9,641.9C239.2,643.0 241.4,643.1 243.7,643.7C245.9,644.3 247.0,645.0 250.4,645.5C253.8,646.0 259.4,646.5 263.9,646.8C268.4,647.0 270.6,647.1 277.4,647.2C284.1,647.3 295.4,647.3 304.4,647.3C313.4,647.3 326.9,647.4 331.4,647.4" fill="none" stroke="#3c4f93" stroke-width="1.0"/><path d="M196.4,633.8C197.5,633.6 200.9,632.8 203.2,632.6C205.4,632.4 207.7,632.5 209.9,632.6C212.2,632.7 214.4,632.7 216.7,633.1C218.9,633.4 221.2,633.9 223.4,634.9C225.7,635.9 227.9,637.6 230.2,639.0C232.4,640.4 234.7,642.2 236.9,643.1C239.2,644.0 241.4,644.0 243.7,644.5C245.9,644.9 247.0,645.4 250.4,645.8C253.8,646.2 259.4,646.6 263.9,646.9C268.4,647.1 270.6,647.1 277.4,647.2C284.1,647.3 295.4,647.3 304.4,647.3C313.4,647.3 326.9,647.4 331.4,647.4" fill="none" stroke="#e8553e" stroke-width="1.0"/><path d="M196.4,636.8C197.5,636.6 200.9,635.7 203.2,635.5C205.4,635.3 207.7,635.4 209.9,635.4C212.2,635.4 214.4,635.5 216.7,635.8C218.9,636.0 221.2,636.0 223.4,636.8C225.7,637.6 227.9,639.1 230.2,640.3C232.4,641.5 234.7,643.0 236.9,643.8C239.2,644.6 241.4,644.6 243.7,645.0C245.9,645.3 247.0,645.8 250.4,646.1C253.8,646.4 259.4,646.8 263.9,647.0C268.4,647.2 270.6,647.2 277.4,647.2C284.1,647.2 295.4,647.3 304.4,647.3C313.4,647.3 326.9,647.4 331.4,647.4" fill="none" stroke="#27a083" stroke-width="1.0"/><line x1="190.1" y1="647.6" x2="338" y2="647.6" stroke="#b5b5b5" stroke-width="0.8"/><path d="M361.7,644.3C363.9,643.9 370.7,642.7 375.2,642.1C379.7,641.6 384.2,641.1 388.7,641.0C393.2,640.9 397.7,641.2 402.2,641.5C406.7,641.8 411.2,642.2 415.7,642.6C420.2,643.0 424.7,643.3 429.2,643.7C433.7,644.1 438.2,644.5 442.7,644.8C447.2,645.1 451.7,645.4 456.2,645.7C460.7,646.0 465.2,646.4 469.7,646.6C474.2,646.9 478.7,647.1 483.2,647.2C487.7,647.3 494.4,647.4 496.7,647.5L496.7,647.6L361.7,647.6Z" fill="#d3d8ea"/><path d="M361.7,645.3C363.9,645.1 370.7,644.2 375.2,643.9C379.7,643.5 384.2,643.5 388.7,643.4C393.2,643.3 397.7,643.3 402.2,643.5C406.7,643.6 411.2,643.9 415.7,644.1C420.2,644.3 424.7,644.6 429.2,644.8C433.7,645.0 438.2,645.3 442.7,645.5C447.2,645.7 451.7,645.9 456.2,646.1C460.7,646.4 465.2,646.6 469.7,646.8C474.2,647.0 478.7,647.2 483.2,647.3C487.7,647.4 494.4,647.4 496.7,647.5L496.7,647.6L361.7,647.6Z" fill="#cbece3"/><path d="M361.7,646.0C363.9,645.8 370.7,645.2 375.2,645.0C379.7,644.8 384.2,645.0 388.7,645.0C393.2,645.0 397.7,644.9 402.2,645.0C406.7,645.0 411.2,645.4 415.7,645.5C420.2,645.6 424.7,645.7 429.2,645.9C433.7,646.0 438.2,646.1 442.7,646.2C447.2,646.3 451.7,646.5 456.2,646.7C460.7,646.9 465.2,647.1 469.7,647.2C474.2,647.3 478.7,647.4 483.2,647.4C487.7,647.5 494.4,647.4 496.7,647.5L496.7,647.6L361.7,647.6Z" fill="#f9d3ce"/><path d="M361.7,644.3C363.9,643.9 370.7,642.7 375.2,642.1C379.7,641.6 384.2,641.1 388.7,641.0C393.2,640.9 397.7,641.2 402.2,641.5C406.7,641.8 411.2,642.2 415.7,642.6C420.2,643.0 424.7,643.3 429.2,643.7C433.7,644.1 438.2,644.5 442.7,644.8C447.2,645.1 451.7,645.4 456.2,645.7C460.7,646.0 465.2,646.4 469.7,646.6C474.2,646.9 478.7,647.1 483.2,647.2C487.7,647.3 494.4,647.4 496.7,647.5" fill="none" stroke="#3c4f93" stroke-width="1.0"/><path d="M361.7,646.0C363.9,645.8 370.7,645.2 375.2,645.0C379.7,644.8 384.2,645.0 388.7,645.0C393.2,645.0 397.7,644.9 402.2,645.0C406.7,645.0 411.2,645.4 415.7,645.5C420.2,645.6 424.7,645.7 429.2,645.9C433.7,646.0 438.2,646.1 442.7,646.2C447.2,646.3 451.7,646.5 456.2,646.7C460.7,646.9 465.2,647.1 469.7,647.2C474.2,647.3 478.7,647.4 483.2,647.4C487.7,647.5 494.4,647.4 496.7,647.5" fill="none" stroke="#e8553e" stroke-width="1.0"/><path d="M361.7,645.3C363.9,645.1 370.7,644.2 375.2,643.9C379.7,643.5 384.2,643.5 388.7,643.4C393.2,643.3 397.7,643.3 402.2,643.5C406.7,643.6 411.2,643.9 415.7,644.1C420.2,644.3 424.7,644.6 429.2,644.8C433.7,645.0 438.2,645.3 442.7,645.5C447.2,645.7 451.7,645.9 456.2,646.1C460.7,646.4 465.2,646.6 469.7,646.8C474.2,647.0 478.7,647.2 483.2,647.3C487.7,647.4 494.4,647.4 496.7,647.5" fill="none" stroke="#27a083" stroke-width="1.0"/><line x1="354.2" y1="647.6" x2="502.3" y2="647.6" stroke="#b5b5b5" stroke-width="0.8"/><path d="M527.0,646.6C529.2,645.4 536.0,641.3 540.5,639.6C545.0,637.9 549.5,636.9 554.0,636.6C558.5,636.3 563.0,637.3 567.5,638.0C572.0,638.7 576.5,639.9 581.0,640.8C585.5,641.7 590.0,642.6 594.5,643.2C599.0,643.8 603.5,644.2 608.0,644.3C612.5,644.4 617.0,644.2 621.5,643.9C626.0,643.6 630.0,643.1 635.0,642.7C640.0,642.3 646.7,640.8 651.2,641.3C655.7,641.8 660.2,644.8 662.0,645.5L662.0,647.6L527.0,647.6Z" fill="#d3d8ea"/><path d="M527.0,646.8C529.2,646.0 536.0,643.2 540.5,642.1C545.0,641.0 549.5,640.3 554.0,640.1C558.5,639.9 563.0,640.6 567.5,641.1C572.0,641.6 576.5,642.3 581.0,642.8C585.5,643.3 590.0,643.9 594.5,644.3C599.0,644.7 603.5,644.9 608.0,645.0C612.5,645.1 617.0,644.9 621.5,644.7C626.0,644.5 630.0,644.2 635.0,644.0C640.0,643.8 646.7,642.9 651.2,643.2C655.7,643.6 660.2,645.6 662.0,646.1L662.0,647.6L527.0,647.6Z" fill="#f9d3ce"/><path d="M527.0,647.0C529.2,646.4 536.0,644.4 540.5,643.6C545.0,642.8 549.5,642.2 554.0,642.0C558.5,641.8 563.0,642.3 567.5,642.6C572.0,642.9 576.5,643.4 581.0,643.8C585.5,644.2 590.0,644.6 594.5,644.8C599.0,645.1 603.5,645.2 608.0,645.3C612.5,645.4 617.0,645.3 621.5,645.2C626.0,645.1 630.0,645.0 635.0,644.8C640.0,644.7 646.7,644.0 651.2,644.3C655.7,644.6 660.2,646.0 662.0,646.4L662.0,647.6L527.0,647.6Z" fill="#cbece3"/><path d="M527.0,646.6C529.2,645.4 536.0,641.3 540.5,639.6C545.0,637.9 549.5,636.9 554.0,636.6C558.5,636.3 563.0,637.3 567.5,638.0C572.0,638.7 576.5,639.9 581.0,640.8C585.5,641.7 590.0,642.6 594.5,643.2C599.0,643.8 603.5,644.2 608.0,644.3C612.5,644.4 617.0,644.2 621.5,643.9C626.0,643.6 630.0,643.1 635.0,642.7C640.0,642.3 646.7,640.8 651.2,641.3C655.7,641.8 660.2,644.8 662.0,645.5" fill="none" stroke="#3c4f93" stroke-width="1.0"/><path d="M527.0,646.8C529.2,646.0 536.0,643.2 540.5,642.1C545.0,641.0 549.5,640.3 554.0,640.1C558.5,639.9 563.0,640.6 567.5,641.1C572.0,641.6 576.5,642.3 581.0,642.8C585.5,643.3 590.0,643.9 594.5,644.3C599.0,644.7 603.5,644.9 608.0,645.0C612.5,645.1 617.0,644.9 621.5,644.7C626.0,644.5 630.0,644.2 635.0,644.0C640.0,643.8 646.7,642.9 651.2,643.2C655.7,643.6 660.2,645.6 662.0,646.1" fill="none" stroke="#e8553e" stroke-width="1.0"/><path d="M527.0,647.0C529.2,646.4 536.0,644.4 540.5,643.6C545.0,642.8 549.5,642.2 554.0,642.0C558.5,641.8 563.0,642.3 567.5,642.6C572.0,642.9 576.5,643.4 581.0,643.8C585.5,644.2 590.0,644.6 594.5,644.8C599.0,645.1 603.5,645.2 608.0,645.3C612.5,645.4 617.0,645.3 621.5,645.2C626.0,645.1 630.0,645.0 635.0,644.8C640.0,644.7 646.7,644.0 651.2,644.3C655.7,644.6 660.2,646.0 662.0,646.4" fill="none" stroke="#27a083" stroke-width="1.0"/><line x1="520.5" y1="647.6" x2="668.7" y2="647.6" stroke="#b5b5b5" stroke-width="0.8"/>
<path d="M30.6,665.5C32.9,665.4 39.6,665.2 44.1,665.0C48.6,664.8 53.1,664.5 57.6,664.2C62.1,664.0 66.6,663.7 71.1,663.4C75.6,663.1 80.1,662.8 84.6,662.5C89.1,662.2 93.6,661.8 98.1,661.5C102.6,661.2 107.1,660.8 111.6,660.5C116.1,660.1 120.6,659.8 125.1,659.4C129.6,659.1 134.1,658.7 138.6,658.3C143.1,657.9 147.6,657.6 152.1,657.2C156.6,656.8 163.3,656.2 165.6,656.0L165.6,668.3L30.6,668.3Z" fill="#d3d8ea"/><path d="M30.6,666.3C32.9,666.2 39.6,666.1 44.1,665.9C48.6,665.7 53.1,665.5 57.6,665.3C62.1,665.1 66.6,664.9 71.1,664.7C75.6,664.5 80.1,664.2 84.6,664.0C89.1,663.7 93.6,663.5 98.1,663.2C102.6,663.0 107.1,662.7 111.6,662.4C116.1,662.2 120.6,661.9 125.1,661.6C129.6,661.3 134.1,661.1 138.6,660.8C143.1,660.5 147.6,660.2 152.1,659.9C156.6,659.6 163.3,659.2 165.6,659.0L165.6,668.3L30.6,668.3Z" fill="#f9d3ce"/><path d="M30.6,666.8C32.9,666.7 39.6,666.6 44.1,666.5C48.6,666.4 53.1,666.2 57.6,666.1C62.1,665.9 66.6,665.7 71.1,665.6C75.6,665.4 80.1,665.2 84.6,665.1C89.1,664.9 93.6,664.7 98.1,664.5C102.6,664.3 107.1,664.1 111.6,663.9C116.1,663.7 120.6,663.5 125.1,663.3C129.6,663.1 134.1,662.9 138.6,662.6C143.1,662.4 147.6,662.2 152.1,662.0C156.6,661.8 163.3,661.4 165.6,661.3L165.6,668.3L30.6,668.3Z" fill="#cbece3"/><path d="M30.6,665.5C32.9,665.4 39.6,665.2 44.1,665.0C48.6,664.8 53.1,664.5 57.6,664.2C62.1,664.0 66.6,663.7 71.1,663.4C75.6,663.1 80.1,662.8 84.6,662.5C89.1,662.2 93.6,661.8 98.1,661.5C102.6,661.2 107.1,660.8 111.6,660.5C116.1,660.1 120.6,659.8 125.1,659.4C129.6,659.1 134.1,658.7 138.6,658.3C143.1,657.9 147.6,657.6 152.1,657.2C156.6,656.8 163.3,656.2 165.6,656.0" fill="none" stroke="#3c4f93" stroke-width="1.0"/><path d="M30.6,666.3C32.9,666.2 39.6,666.1 44.1,665.9C48.6,665.7 53.1,665.5 57.6,665.3C62.1,665.1 66.6,664.9 71.1,664.7C75.6,664.5 80.1,664.2 84.6,664.0C89.1,663.7 93.6,663.5 98.1,663.2C102.6,663.0 107.1,662.7 111.6,662.4C116.1,662.2 120.6,661.9 125.1,661.6C129.6,661.3 134.1,661.1 138.6,660.8C143.1,660.5 147.6,660.2 152.1,659.9C156.6,659.6 163.3,659.2 165.6,659.0" fill="none" stroke="#e8553e" stroke-width="1.0"/><path d="M30.6,666.8C32.9,666.7 39.6,666.6 44.1,666.5C48.6,666.4 53.1,666.2 57.6,666.1C62.1,665.9 66.6,665.7 71.1,665.6C75.6,665.4 80.1,665.2 84.6,665.1C89.1,664.9 93.6,664.7 98.1,664.5C102.6,664.3 107.1,664.1 111.6,663.9C116.1,663.7 120.6,663.5 125.1,663.3C129.6,663.1 134.1,662.9 138.6,662.6C143.1,662.4 147.6,662.2 152.1,662.0C156.6,661.8 163.3,661.4 165.6,661.3" fill="none" stroke="#27a083" stroke-width="1.0"/><line x1="24.3" y1="668.3" x2="167.5" y2="668.3" stroke="#555" stroke-width="0.8"/><path d="M196.4,654.3C197.5,654.1 200.9,653.2 203.2,652.9C205.4,652.6 207.7,652.7 209.9,652.7C212.2,652.7 214.4,652.6 216.7,653.2C218.9,653.8 221.2,655.1 223.4,656.2C225.7,657.3 227.9,658.5 230.2,659.7C232.4,660.9 234.7,662.3 236.9,663.2C239.2,664.1 241.4,664.3 243.7,664.8C245.9,665.4 247.0,666.0 250.4,666.5C253.8,667.0 259.4,667.3 263.9,667.6C268.4,667.8 270.6,667.8 277.4,667.9C284.1,668.0 295.4,668.0 304.4,668.0C313.4,668.0 326.9,668.1 331.4,668.1L331.4,668.3L196.4,668.3Z" fill="#d3d8ea"/><path d="M196.4,656.2C197.5,656.0 200.9,655.2 203.2,655.0C205.4,654.8 207.7,654.9 209.9,655.0C212.2,655.1 214.4,654.9 216.7,655.4C218.9,655.9 221.2,657.1 223.4,658.1C225.7,659.1 227.9,660.2 230.2,661.2C232.4,662.3 234.7,663.7 236.9,664.4C239.2,665.1 241.4,665.2 243.7,665.6C245.9,666.0 247.0,666.4 250.4,666.8C253.8,667.1 259.4,667.5 263.9,667.7C268.4,667.9 270.6,667.8 277.4,667.9C284.1,668.0 295.4,668.0 304.4,668.0C313.4,668.0 326.9,668.1 331.4,668.1L331.4,668.3L196.4,668.3Z" fill="#f9d3ce"/><path d="M196.4,661.3C197.5,661.1 200.9,660.2 203.2,659.9C205.4,659.6 207.7,659.7 209.9,659.7C212.2,659.7 214.4,659.7 216.7,660.0C218.9,660.2 221.2,660.7 223.4,661.3C225.7,661.9 227.9,662.7 230.2,663.4C232.4,664.1 234.7,665.0 236.9,665.5C239.2,666.0 241.4,666.0 243.7,666.3C245.9,666.6 247.0,666.8 250.4,667.1C253.8,667.4 259.4,667.7 263.9,667.8C268.4,668.0 270.6,667.9 277.4,667.9C284.1,667.9 295.4,668.0 304.4,668.0C313.4,668.0 326.9,668.1 331.4,668.1L331.4,668.3L196.4,668.3Z" fill="#cbece3"/><path d="M196.4,654.3C197.5,654.1 200.9,653.2 203.2,652.9C205.4,652.6 207.7,652.7 209.9,652.7C212.2,652.7 214.4,652.6 216.7,653.2C218.9,653.8 221.2,655.1 223.4,656.2C225.7,657.3 227.9,658.5 230.2,659.7C232.4,660.9 234.7,662.3 236.9,663.2C239.2,664.1 241.4,664.3 243.7,664.8C245.9,665.4 247.0,666.0 250.4,666.5C253.8,667.0 259.4,667.3 263.9,667.6C268.4,667.8 270.6,667.8 277.4,667.9C284.1,668.0 295.4,668.0 304.4,668.0C313.4,668.0 326.9,668.1 331.4,668.1" fill="none" stroke="#3c4f93" stroke-width="1.0"/><path d="M196.4,656.2C197.5,656.0 200.9,655.2 203.2,655.0C205.4,654.8 207.7,654.9 209.9,655.0C212.2,655.1 214.4,654.9 216.7,655.4C218.9,655.9 221.2,657.1 223.4,658.1C225.7,659.1 227.9,660.2 230.2,661.2C232.4,662.3 234.7,663.7 236.9,664.4C239.2,665.1 241.4,665.2 243.7,665.6C245.9,666.0 247.0,666.4 250.4,666.8C253.8,667.1 259.4,667.5 263.9,667.7C268.4,667.9 270.6,667.8 277.4,667.9C284.1,668.0 295.4,668.0 304.4,668.0C313.4,668.0 326.9,668.1 331.4,668.1" fill="none" stroke="#e8553e" stroke-width="1.0"/><path d="M196.4,661.3C197.5,661.1 200.9,660.2 203.2,659.9C205.4,659.6 207.7,659.7 209.9,659.7C212.2,659.7 214.4,659.7 216.7,660.0C218.9,660.2 221.2,660.7 223.4,661.3C225.7,661.9 227.9,662.7 230.2,663.4C232.4,664.1 234.7,665.0 236.9,665.5C239.2,666.0 241.4,666.0 243.7,666.3C245.9,666.6 247.0,666.8 250.4,667.1C253.8,667.4 259.4,667.7 263.9,667.8C268.4,668.0 270.6,667.9 277.4,667.9C284.1,667.9 295.4,668.0 304.4,668.0C313.4,668.0 326.9,668.1 331.4,668.1" fill="none" stroke="#27a083" stroke-width="1.0"/><line x1="190.1" y1="668.3" x2="338" y2="668.3" stroke="#555" stroke-width="0.8"/><path d="M361.7,666.7C363.9,666.3 370.7,665.0 375.2,664.4C379.7,663.9 384.2,663.3 388.7,663.2C393.2,663.1 397.7,663.4 402.2,663.7C406.7,664.0 411.2,664.5 415.7,664.8C420.2,665.1 424.7,665.3 429.2,665.5C433.7,665.7 438.2,666.0 442.7,666.2C447.2,666.4 451.7,666.6 456.2,666.8C460.7,667.1 465.2,667.3 469.7,667.5C474.2,667.7 478.7,667.9 483.2,668.0C487.7,668.1 494.4,668.1 496.7,668.1L496.7,668.3L361.7,668.3Z" fill="#d3d8ea"/><path d="M361.7,667.1C363.9,666.8 370.7,665.8 375.2,665.4C379.7,665.1 384.2,664.9 388.7,664.8C393.2,664.7 397.7,664.8 402.2,664.9C406.7,665.1 411.2,665.5 415.7,665.7C420.2,665.9 424.7,666.1 429.2,666.2C433.7,666.4 438.2,666.6 442.7,666.8C447.2,667.0 451.7,667.1 456.2,667.3C460.7,667.5 465.2,667.7 469.7,667.8C474.2,667.9 478.7,668.0 483.2,668.1C487.7,668.2 494.4,668.1 496.7,668.1L496.7,668.3L361.7,668.3Z" fill="#cbece3"/><path d="M361.7,667.3C363.9,667.1 370.7,666.5 375.2,666.3C379.7,666.1 384.2,666.3 388.7,666.3C393.2,666.3 397.7,666.1 402.2,666.2C406.7,666.3 411.2,666.6 415.7,666.7C420.2,666.8 424.7,666.9 429.2,667.0C433.7,667.1 438.2,667.2 442.7,667.3C447.2,667.4 451.7,667.5 456.2,667.6C460.7,667.8 465.2,667.9 469.7,668.0C474.2,668.1 478.7,668.2 483.2,668.2C487.7,668.2 494.4,668.2 496.7,668.1L496.7,668.3L361.7,668.3Z" fill="#f9d3ce"/><path d="M361.7,666.7C363.9,666.3 370.7,665.0 375.2,664.4C379.7,663.9 384.2,663.3 388.7,663.2C393.2,663.1 397.7,663.4 402.2,663.7C406.7,664.0 411.2,664.5 415.7,664.8C420.2,665.1 424.7,665.3 429.2,665.5C433.7,665.7 438.2,666.0 442.7,666.2C447.2,666.4 451.7,666.6 456.2,666.8C460.7,667.1 465.2,667.3 469.7,667.5C474.2,667.7 478.7,667.9 483.2,668.0C487.7,668.1 494.4,668.1 496.7,668.1" fill="none" stroke="#3c4f93" stroke-width="1.0"/><path d="M361.7,667.3C363.9,667.1 370.7,666.5 375.2,666.3C379.7,666.1 384.2,666.3 388.7,666.3C393.2,666.3 397.7,666.1 402.2,666.2C406.7,666.3 411.2,666.6 415.7,666.7C420.2,666.8 424.7,666.9 429.2,667.0C433.7,667.1 438.2,667.2 442.7,667.3C447.2,667.4 451.7,667.5 456.2,667.6C460.7,667.8 465.2,667.9 469.7,668.0C474.2,668.1 478.7,668.2 483.2,668.2C487.7,668.2 494.4,668.2 496.7,668.1" fill="none" stroke="#e8553e" stroke-width="1.0"/><path d="M361.7,667.1C363.9,666.8 370.7,665.8 375.2,665.4C379.7,665.1 384.2,664.9 388.7,664.8C393.2,664.7 397.7,664.8 402.2,664.9C406.7,665.1 411.2,665.5 415.7,665.7C420.2,665.9 424.7,666.1 429.2,666.2C433.7,666.4 438.2,666.6 442.7,666.8C447.2,667.0 451.7,667.1 456.2,667.3C460.7,667.5 465.2,667.7 469.7,667.8C474.2,667.9 478.7,668.0 483.2,668.1C487.7,668.2 494.4,668.1 496.7,668.1" fill="none" stroke="#27a083" stroke-width="1.0"/><line x1="354.2" y1="668.3" x2="502.3" y2="668.3" stroke="#555" stroke-width="0.8"/><path d="M527.0,667.5C529.2,666.6 536.0,663.3 540.5,662.0C545.0,660.7 549.5,659.9 554.0,659.7C558.5,659.5 563.0,660.4 567.5,661.0C572.0,661.6 576.5,662.5 581.0,663.1C585.5,663.7 590.0,664.1 594.5,664.4C599.0,664.7 603.5,665.0 608.0,665.1C612.5,665.2 617.0,665.0 621.5,664.8C626.0,664.6 630.0,664.3 635.0,664.0C640.0,663.7 646.7,662.2 651.2,662.8C655.7,663.3 660.2,666.5 662.0,667.3L662.0,668.3L527.0,668.3Z" fill="#d3d8ea"/><path d="M527.0,667.7C529.2,667.0 536.0,664.6 540.5,663.7C545.0,662.8 549.5,662.1 554.0,662.0C558.5,661.9 563.0,662.6 567.5,663.0C572.0,663.4 576.5,664.1 581.0,664.5C585.5,664.9 590.0,665.3 594.5,665.5C599.0,665.7 603.5,665.9 608.0,665.9C612.5,665.9 617.0,665.7 621.5,665.5C626.0,665.3 630.0,665.1 635.0,664.8C640.0,664.5 646.7,663.4 651.2,663.9C655.7,664.4 660.2,666.9 662.0,667.5L662.0,668.3L527.0,668.3Z" fill="#f9d3ce"/><path d="M527.0,667.9C529.2,667.5 536.0,666.1 540.5,665.5C545.0,664.9 549.5,664.5 554.0,664.4C558.5,664.3 563.0,664.6 567.5,664.8C572.0,665.0 576.5,665.2 581.0,665.4C585.5,665.6 590.0,665.9 594.5,666.0C599.0,666.1 603.5,666.2 608.0,666.2C612.5,666.2 617.0,666.2 621.5,666.1C626.0,666.0 630.0,665.9 635.0,665.8C640.0,665.7 646.7,665.2 651.2,665.5C655.7,665.8 660.2,667.3 662.0,667.7L662.0,668.3L527.0,668.3Z" fill="#cbece3"/><path d="M527.0,667.5C529.2,666.6 536.0,663.3 540.5,662.0C545.0,660.7 549.5,659.9 554.0,659.7C558.5,659.5 563.0,660.4 567.5,661.0C572.0,661.6 576.5,662.5 581.0,663.1C585.5,663.7 590.0,664.1 594.5,664.4C599.0,664.7 603.5,665.0 608.0,665.1C612.5,665.2 617.0,665.0 621.5,664.8C626.0,664.6 630.0,664.3 635.0,664.0C640.0,663.7 646.7,662.2 651.2,662.8C655.7,663.3 660.2,666.5 662.0,667.3" fill="none" stroke="#3c4f93" stroke-width="1.0"/><path d="M527.0,667.7C529.2,667.0 536.0,664.6 540.5,663.7C545.0,662.8 549.5,662.1 554.0,662.0C558.5,661.9 563.0,662.6 567.5,663.0C572.0,663.4 576.5,664.1 581.0,664.5C585.5,664.9 590.0,665.3 594.5,665.5C599.0,665.7 603.5,665.9 608.0,665.9C612.5,665.9 617.0,665.7 621.5,665.5C626.0,665.3 630.0,665.1 635.0,664.8C640.0,664.5 646.7,663.4 651.2,663.9C655.7,664.4 660.2,666.9 662.0,667.5" fill="none" stroke="#e8553e" stroke-width="1.0"/><path d="M527.0,667.9C529.2,667.5 536.0,666.1 540.5,665.5C545.0,664.9 549.5,664.5 554.0,664.4C558.5,664.3 563.0,664.6 567.5,664.8C572.0,665.0 576.5,665.2 581.0,665.4C585.5,665.6 590.0,665.9 594.5,666.0C599.0,666.1 603.5,666.2 608.0,666.2C612.5,666.2 617.0,666.2 621.5,666.1C626.0,666.0 630.0,665.9 635.0,665.8C640.0,665.7 646.7,665.2 651.2,665.5C655.7,665.8 660.2,667.3 662.0,667.7" fill="none" stroke="#27a083" stroke-width="1.0"/><line x1="520.5" y1="668.3" x2="668.7" y2="668.3" stroke="#555" stroke-width="0.8"/>
<path d="M30.6,688.3C32.9,688.2 39.6,688.0 44.1,687.9C48.6,687.7 53.1,687.5 57.6,687.3C62.1,687.1 66.6,686.8 71.1,686.6C75.6,686.4 80.1,686.1 84.6,685.9C89.1,685.6 93.6,685.3 98.1,685.1C102.6,684.8 107.1,684.5 111.6,684.2C116.1,684.0 120.6,683.7 125.1,683.4C129.6,683.1 134.1,682.8 138.6,682.5C143.1,682.2 147.6,681.9 152.1,681.6C156.6,681.2 163.3,680.8 165.6,680.6L165.6,689.1L30.6,689.1Z" fill="#d3d8ea"/><path d="M30.6,688.6C32.9,688.5 39.6,688.4 44.1,688.2C48.6,688.1 53.1,687.9 57.6,687.7C62.1,687.5 66.6,687.3 71.1,687.1C75.6,686.9 80.1,686.7 84.6,686.4C89.1,686.2 93.6,686.0 98.1,685.7C102.6,685.5 107.1,685.3 111.6,685.0C116.1,684.8 120.6,684.5 125.1,684.2C129.6,684.0 134.1,683.7 138.6,683.5C143.1,683.2 147.6,682.9 152.1,682.6C156.6,682.4 163.3,681.9 165.6,681.8L165.6,689.1L30.6,689.1Z" fill="#f9d3ce"/><path d="M30.6,688.8C32.9,688.8 39.6,688.6 44.1,688.5C48.6,688.4 53.1,688.3 57.6,688.2C62.1,688.1 66.6,687.9 71.1,687.8C75.6,687.7 80.1,687.5 84.6,687.4C89.1,687.2 93.6,687.1 98.1,686.9C102.6,686.8 107.1,686.6 111.6,686.4C116.1,686.3 120.6,686.1 125.1,685.9C129.6,685.7 134.1,685.6 138.6,685.4C143.1,685.2 147.6,685.0 152.1,684.9C156.6,684.7 163.3,684.4 165.6,684.3L165.6,689.1L30.6,689.1Z" fill="#cbece3"/><path d="M30.6,688.3C32.9,688.2 39.6,688.0 44.1,687.9C48.6,687.7 53.1,687.5 57.6,687.3C62.1,687.1 66.6,686.8 71.1,686.6C75.6,686.4 80.1,686.1 84.6,685.9C89.1,685.6 93.6,685.3 98.1,685.1C102.6,684.8 107.1,684.5 111.6,684.2C116.1,684.0 120.6,683.7 125.1,683.4C129.6,683.1 134.1,682.8 138.6,682.5C143.1,682.2 147.6,681.9 152.1,681.6C156.6,681.2 163.3,680.8 165.6,680.6" fill="none" stroke="#3c4f93" stroke-width="1.0"/><path d="M30.6,688.6C32.9,688.5 39.6,688.4 44.1,688.2C48.6,688.1 53.1,687.9 57.6,687.7C62.1,687.5 66.6,687.3 71.1,687.1C75.6,686.9 80.1,686.7 84.6,686.4C89.1,686.2 93.6,686.0 98.1,685.7C102.6,685.5 107.1,685.3 111.6,685.0C116.1,684.8 120.6,684.5 125.1,684.2C129.6,684.0 134.1,683.7 138.6,683.5C143.1,683.2 147.6,682.9 152.1,682.6C156.6,682.4 163.3,681.9 165.6,681.8" fill="none" stroke="#e8553e" stroke-width="1.0"/><path d="M30.6,688.8C32.9,688.8 39.6,688.6 44.1,688.5C48.6,688.4 53.1,688.3 57.6,688.2C62.1,688.1 66.6,687.9 71.1,687.8C75.6,687.7 80.1,687.5 84.6,687.4C89.1,687.2 93.6,687.1 98.1,686.9C102.6,686.8 107.1,686.6 111.6,686.4C116.1,686.3 120.6,686.1 125.1,685.9C129.6,685.7 134.1,685.6 138.6,685.4C143.1,685.2 147.6,685.0 152.1,684.9C156.6,684.7 163.3,684.4 165.6,684.3" fill="none" stroke="#27a083" stroke-width="1.0"/><line x1="24.3" y1="689.1" x2="167.5" y2="689.1" stroke="#aaa" stroke-width="0.8"/><path d="M196.4,680.7C197.5,680.3 200.9,678.9 203.2,678.4C205.4,677.8 207.7,677.3 209.9,677.2C212.2,677.1 214.4,677.0 216.7,677.6C218.9,678.1 221.2,679.7 223.4,680.7C225.7,681.7 227.9,682.5 230.2,683.4C232.4,684.3 234.7,685.5 236.9,686.1C239.2,686.7 241.4,686.8 243.7,687.1C245.9,687.4 247.0,687.8 250.4,688.1C253.8,688.4 259.4,688.6 263.9,688.7C268.4,688.8 270.6,688.7 277.4,688.7C284.1,688.7 295.4,688.8 304.4,688.8C313.4,688.8 326.9,688.9 331.4,688.9L331.4,689.1L196.4,689.1Z" fill="#d3d8ea"/><path d="M196.4,681.9C197.5,681.6 200.9,680.4 203.2,679.9C205.4,679.4 207.7,679.2 209.9,679.1C212.2,679.0 214.4,678.9 216.7,679.4C218.9,679.9 221.2,681.1 223.4,681.9C225.7,682.7 227.9,683.5 230.2,684.2C232.4,685.0 234.7,686.1 236.9,686.6C239.2,687.1 241.4,687.1 243.7,687.4C245.9,687.7 247.0,688.0 250.4,688.2C253.8,688.4 259.4,688.7 263.9,688.7C268.4,688.8 270.6,688.7 277.4,688.7C284.1,688.7 295.4,688.8 304.4,688.8C313.4,688.8 326.9,688.9 331.4,688.9L331.4,689.1L196.4,689.1Z" fill="#f9d3ce"/><path d="M196.4,684.2C197.5,683.9 200.9,683.0 203.2,682.6C205.4,682.3 207.7,682.3 209.9,682.3C212.2,682.3 214.4,682.3 216.7,682.5C218.9,682.7 221.2,683.2 223.4,683.7C225.7,684.2 227.9,684.8 230.2,685.4C232.4,686.0 234.7,686.7 236.9,687.1C239.2,687.5 241.4,687.5 243.7,687.8C245.9,688.0 247.0,688.2 250.4,688.4C253.8,688.6 259.4,688.8 263.9,688.8C268.4,688.9 270.6,688.7 277.4,688.7C284.1,688.7 295.4,688.8 304.4,688.8C313.4,688.8 326.9,688.9 331.4,688.9L331.4,689.1L196.4,689.1Z" fill="#cbece3"/><path d="M196.4,680.7C197.5,680.3 200.9,678.9 203.2,678.4C205.4,677.8 207.7,677.3 209.9,677.2C212.2,677.1 214.4,677.0 216.7,677.6C218.9,678.1 221.2,679.7 223.4,680.7C225.7,681.7 227.9,682.5 230.2,683.4C232.4,684.3 234.7,685.5 236.9,686.1C239.2,686.7 241.4,686.8 243.7,687.1C245.9,687.4 247.0,687.8 250.4,688.1C253.8,688.4 259.4,688.6 263.9,688.7C268.4,688.8 270.6,688.7 277.4,688.7C284.1,688.7 295.4,688.8 304.4,688.8C313.4,688.8 326.9,688.9 331.4,688.9" fill="none" stroke="#3c4f93" stroke-width="1.0"/><path d="M196.4,681.9C197.5,681.6 200.9,680.4 203.2,679.9C205.4,679.4 207.7,679.2 209.9,679.1C212.2,679.0 214.4,678.9 216.7,679.4C218.9,679.9 221.2,681.1 223.4,681.9C225.7,682.7 227.9,683.5 230.2,684.2C232.4,685.0 234.7,686.1 236.9,686.6C239.2,687.1 241.4,687.1 243.7,687.4C245.9,687.7 247.0,688.0 250.4,688.2C253.8,688.4 259.4,688.7 263.9,688.7C268.4,688.8 270.6,688.7 277.4,688.7C284.1,688.7 295.4,688.8 304.4,688.8C313.4,688.8 326.9,688.9 331.4,688.9" fill="none" stroke="#e8553e" stroke-width="1.0"/><path d="M196.4,684.2C197.5,683.9 200.9,683.0 203.2,682.6C205.4,682.3 207.7,682.3 209.9,682.3C212.2,682.3 214.4,682.3 216.7,682.5C218.9,682.7 221.2,683.2 223.4,683.7C225.7,684.2 227.9,684.8 230.2,685.4C232.4,686.0 234.7,686.7 236.9,687.1C239.2,687.5 241.4,687.5 243.7,687.8C245.9,688.0 247.0,688.2 250.4,688.4C253.8,688.6 259.4,688.8 263.9,688.8C268.4,688.9 270.6,688.7 277.4,688.7C284.1,688.7 295.4,688.8 304.4,688.8C313.4,688.8 326.9,688.9 331.4,688.9" fill="none" stroke="#27a083" stroke-width="1.0"/><line x1="190.1" y1="689.1" x2="338" y2="689.1" stroke="#aaa" stroke-width="0.8"/><path d="M361.7,688.1C363.9,687.9 370.7,687.0 375.2,686.7C379.7,686.4 384.2,686.4 388.7,686.3C393.2,686.2 397.7,686.2 402.2,686.3C406.7,686.4 411.2,686.7 415.7,686.9C420.2,687.1 424.7,687.2 429.2,687.3C433.7,687.4 438.2,687.6 442.7,687.7C447.2,687.8 451.7,688.0 456.2,688.1C460.7,688.2 465.2,688.4 469.7,688.5C474.2,688.6 478.7,688.8 483.2,688.9C487.7,688.9 494.4,688.9 496.7,689.0L496.7,689.1L361.7,689.1Z" fill="#d3d8ea"/><path d="M361.7,688.3C363.9,688.1 370.7,687.3 375.2,687.1C379.7,686.9 384.2,686.9 388.7,686.9C393.2,686.9 397.7,686.7 402.2,686.8C406.7,686.9 411.2,687.2 415.7,687.3C420.2,687.4 424.7,687.5 429.2,687.6C433.7,687.8 438.2,687.9 442.7,688.0C447.2,688.1 451.7,688.2 456.2,688.3C460.7,688.4 465.2,688.5 469.7,688.6C474.2,688.7 478.7,688.8 483.2,688.9C487.7,689.0 494.4,688.9 496.7,689.0L496.7,689.1L361.7,689.1Z" fill="#cbece3"/><path d="M361.7,688.5C363.9,688.3 370.7,687.7 375.2,687.5C379.7,687.3 384.2,687.5 388.7,687.5C393.2,687.5 397.7,687.3 402.2,687.4C406.7,687.4 411.2,687.7 415.7,687.8C420.2,687.9 424.7,688.0 429.2,688.1C433.7,688.1 438.2,688.2 442.7,688.3C447.2,688.4 451.7,688.5 456.2,688.6C460.7,688.6 465.2,688.7 469.7,688.8C474.2,688.9 478.7,689.0 483.2,689.0C487.7,689.0 494.4,689.0 496.7,689.0L496.7,689.1L361.7,689.1Z" fill="#f9d3ce"/><path d="M361.7,688.1C363.9,687.9 370.7,687.0 375.2,686.7C379.7,686.4 384.2,686.4 388.7,686.3C393.2,686.2 397.7,686.2 402.2,686.3C406.7,686.4 411.2,686.7 415.7,686.9C420.2,687.1 424.7,687.2 429.2,687.3C433.7,687.4 438.2,687.6 442.7,687.7C447.2,687.8 451.7,688.0 456.2,688.1C460.7,688.2 465.2,688.4 469.7,688.5C474.2,688.6 478.7,688.8 483.2,688.9C487.7,688.9 494.4,688.9 496.7,689.0" fill="none" stroke="#3c4f93" stroke-width="1.0"/><path d="M361.7,688.5C363.9,688.3 370.7,687.7 375.2,687.5C379.7,687.3 384.2,687.5 388.7,687.5C393.2,687.5 397.7,687.3 402.2,687.4C406.7,687.4 411.2,687.7 415.7,687.8C420.2,687.9 424.7,688.0 429.2,688.1C433.7,688.1 438.2,688.2 442.7,688.3C447.2,688.4 451.7,688.5 456.2,688.6C460.7,688.6 465.2,688.7 469.7,688.8C474.2,688.9 478.7,689.0 483.2,689.0C487.7,689.0 494.4,689.0 496.7,689.0" fill="none" stroke="#e8553e" stroke-width="1.0"/><path d="M361.7,688.3C363.9,688.1 370.7,687.3 375.2,687.1C379.7,686.9 384.2,686.9 388.7,686.9C393.2,686.9 397.7,686.7 402.2,686.8C406.7,686.9 411.2,687.2 415.7,687.3C420.2,687.4 424.7,687.5 429.2,687.6C433.7,687.8 438.2,687.9 442.7,688.0C447.2,688.1 451.7,688.2 456.2,688.3C460.7,688.4 465.2,688.5 469.7,688.6C474.2,688.7 478.7,688.8 483.2,688.9C487.7,689.0 494.4,688.9 496.7,689.0" fill="none" stroke="#27a083" stroke-width="1.0"/><line x1="354.2" y1="689.1" x2="502.3" y2="689.1" stroke="#aaa" stroke-width="0.8"/><path d="M527.0,688.5C529.2,687.8 536.0,685.1 540.5,684.1C545.0,683.1 549.5,682.4 554.0,682.3C558.5,682.2 563.0,682.8 567.5,683.3C572.0,683.8 576.5,684.6 581.0,685.1C585.5,685.6 590.0,685.9 594.5,686.1C599.0,686.3 603.5,686.4 608.0,686.5C612.5,686.6 617.0,686.5 621.5,686.5C626.0,686.5 630.0,686.4 635.0,686.3C640.0,686.2 646.7,685.7 651.2,686.1C655.7,686.5 660.2,688.1 662.0,688.5L662.0,689.1L527.0,689.1Z" fill="#d3d8ea"/><path d="M527.0,688.6C529.2,688.0 536.0,685.9 540.5,685.1C545.0,684.3 549.5,683.8 554.0,683.7C558.5,683.6 563.0,684.2 567.5,684.6C572.0,685.0 576.5,685.5 581.0,685.9C585.5,686.2 590.0,686.5 594.5,686.7C599.0,686.9 603.5,687.0 608.0,687.0C612.5,687.0 617.0,687.0 621.5,687.0C626.0,687.0 630.0,686.9 635.0,686.8C640.0,686.7 646.7,686.2 651.2,686.5C655.7,686.8 660.2,688.2 662.0,688.6L662.0,689.1L527.0,689.1Z" fill="#f9d3ce"/><path d="M527.0,688.8C529.2,688.5 536.0,687.4 540.5,686.9C545.0,686.4 549.5,686.2 554.0,686.1C558.5,686.0 563.0,686.3 567.5,686.4C572.0,686.5 576.5,686.8 581.0,686.9C585.5,687.0 590.0,687.2 594.5,687.3C599.0,687.4 603.5,687.5 608.0,687.5C612.5,687.5 617.0,687.4 621.5,687.4C626.0,687.4 630.0,687.2 635.0,687.2C640.0,687.2 646.7,686.9 651.2,687.1C655.7,687.4 660.2,688.4 662.0,688.7L662.0,689.1L527.0,689.1Z" fill="#cbece3"/><path d="M527.0,688.5C529.2,687.8 536.0,685.1 540.5,684.1C545.0,683.1 549.5,682.4 554.0,682.3C558.5,682.2 563.0,682.8 567.5,683.3C572.0,683.8 576.5,684.6 581.0,685.1C585.5,685.6 590.0,685.9 594.5,686.1C599.0,686.3 603.5,686.4 608.0,686.5C612.5,686.6 617.0,686.5 621.5,686.5C626.0,686.5 630.0,686.4 635.0,686.3C640.0,686.2 646.7,685.7 651.2,686.1C655.7,686.5 660.2,688.1 662.0,688.5" fill="none" stroke="#3c4f93" stroke-width="1.0"/><path d="M527.0,688.6C529.2,688.0 536.0,685.9 540.5,685.1C545.0,684.3 549.5,683.8 554.0,683.7C558.5,683.6 563.0,684.2 567.5,684.6C572.0,685.0 576.5,685.5 581.0,685.9C585.5,686.2 590.0,686.5 594.5,686.7C599.0,686.9 603.5,687.0 608.0,687.0C612.5,687.0 617.0,687.0 621.5,687.0C626.0,687.0 630.0,686.9 635.0,686.8C640.0,686.7 646.7,686.2 651.2,686.5C655.7,686.8 660.2,688.2 662.0,688.6" fill="none" stroke="#e8553e" stroke-width="1.0"/><path d="M527.0,688.8C529.2,688.5 536.0,687.4 540.5,686.9C545.0,686.4 549.5,686.2 554.0,686.1C558.5,686.0 563.0,686.3 567.5,686.4C572.0,686.5 576.5,686.8 581.0,686.9C585.5,687.0 590.0,687.2 594.5,687.3C599.0,687.4 603.5,687.5 608.0,687.5C612.5,687.5 617.0,687.4 621.5,687.4C626.0,687.4 630.0,687.2 635.0,687.2C640.0,687.2 646.7,686.9 651.2,687.1C655.7,687.4 660.2,688.4 662.0,688.7" fill="none" stroke="#27a083" stroke-width="1.0"/><line x1="520.5" y1="689.1" x2="668.7" y2="689.1" stroke="#aaa" stroke-width="0.8"/>
<path d="M30.6,708.9C32.9,708.9 39.6,708.7 44.1,708.6C48.6,708.5 53.1,708.4 57.6,708.3C62.1,708.1 66.6,708.0 71.1,707.9C75.6,707.7 80.1,707.6 84.6,707.4C89.1,707.2 93.6,707.1 98.1,706.9C102.6,706.8 107.1,706.6 111.6,706.4C116.1,706.2 120.6,706.1 125.1,705.9C129.6,705.7 134.1,705.5 138.6,705.3C143.1,705.2 147.6,705.0 152.1,704.8C156.6,704.6 163.3,704.3 165.6,704.2L165.6,709.2L30.6,709.2Z" fill="#d3d8ea"/><path d="M30.6,709.0C32.9,709.0 39.6,708.9 44.1,708.8C48.6,708.7 53.1,708.6 57.6,708.5C62.1,708.4 66.6,708.3 71.1,708.2C75.6,708.1 80.1,708.0 84.6,707.9C89.1,707.8 93.6,707.7 98.1,707.5C102.6,707.4 107.1,707.3 111.6,707.2C116.1,707.0 120.6,706.9 125.1,706.8C129.6,706.6 134.1,706.5 138.6,706.4C143.1,706.2 147.6,706.1 152.1,705.9C156.6,705.8 163.3,705.6 165.6,705.5L165.6,709.2L30.6,709.2Z" fill="#f9d3ce"/><path d="M30.6,709.1C32.9,709.1 39.6,709.0 44.1,709.0C48.6,708.9 53.1,708.9 57.6,708.8C62.1,708.8 66.6,708.7 71.1,708.6C75.6,708.6 80.1,708.5 84.6,708.4C89.1,708.4 93.6,708.3 98.1,708.2C102.6,708.1 107.1,708.1 111.6,708.0C116.1,707.9 120.6,707.8 125.1,707.8C129.6,707.7 134.1,707.6 138.6,707.5C143.1,707.4 147.6,707.3 152.1,707.3C156.6,707.2 163.3,707.0 165.6,707.0L165.6,709.2L30.6,709.2Z" fill="#cbece3"/><path d="M30.6,708.9C32.9,708.9 39.6,708.7 44.1,708.6C48.6,708.5 53.1,708.4 57.6,708.3C62.1,708.1 66.6,708.0 71.1,707.9C75.6,707.7 80.1,707.6 84.6,707.4C89.1,707.2 93.6,707.1 98.1,706.9C102.6,706.8 107.1,706.6 111.6,706.4C116.1,706.2 120.6,706.1 125.1,705.9C129.6,705.7 134.1,705.5 138.6,705.3C143.1,705.2 147.6,705.0 152.1,704.8C156.6,704.6 163.3,704.3 165.6,704.2" fill="none" stroke="#3c4f93" stroke-width="1.0"/><path d="M30.6,709.0C32.9,709.0 39.6,708.9 44.1,708.8C48.6,708.7 53.1,708.6 57.6,708.5C62.1,708.4 66.6,708.3 71.1,708.2C75.6,708.1 80.1,708.0 84.6,707.9C89.1,707.8 93.6,707.7 98.1,707.5C102.6,707.4 107.1,707.3 111.6,707.2C116.1,707.0 120.6,706.9 125.1,706.8C129.6,706.6 134.1,706.5 138.6,706.4C143.1,706.2 147.6,706.1 152.1,705.9C156.6,705.8 163.3,705.6 165.6,705.5" fill="none" stroke="#e8553e" stroke-width="1.0"/><path d="M30.6,709.1C32.9,709.1 39.6,709.0 44.1,709.0C48.6,708.9 53.1,708.9 57.6,708.8C62.1,708.8 66.6,708.7 71.1,708.6C75.6,708.6 80.1,708.5 84.6,708.4C89.1,708.4 93.6,708.3 98.1,708.2C102.6,708.1 107.1,708.1 111.6,708.0C116.1,707.9 120.6,707.8 125.1,707.8C129.6,707.7 134.1,707.6 138.6,707.5C143.1,707.4 147.6,707.3 152.1,707.3C156.6,707.2 163.3,707.0 165.6,707.0" fill="none" stroke="#27a083" stroke-width="1.0"/><line x1="24.3" y1="709.2" x2="167.5" y2="709.2" stroke="#555" stroke-width="0.8"/><path d="M196.4,704.5C197.5,704.2 200.9,703.0 203.2,702.5C205.4,702.0 207.7,701.8 209.9,701.7C212.2,701.6 214.4,701.7 216.7,701.9C218.9,702.1 221.2,702.4 223.4,702.9C225.7,703.4 227.9,704.3 230.2,705.1C232.4,705.8 234.7,706.7 236.9,707.2C239.2,707.7 241.4,707.7 243.7,708.0C245.9,708.2 247.0,708.5 250.4,708.7C253.8,708.9 259.4,709.0 263.9,709.0C268.4,709.0 270.6,708.8 277.4,708.8C284.1,708.8 295.4,708.9 304.4,708.9C313.4,708.9 326.9,709.0 331.4,709.0L331.4,709.2L196.4,709.2Z" fill="#d3d8ea"/><path d="M196.4,705.2C197.5,704.9 200.9,703.8 203.2,703.5C205.4,703.1 207.7,703.0 209.9,702.9C212.2,702.8 214.4,702.9 216.7,703.1C218.9,703.3 221.2,703.5 223.4,703.9C225.7,704.3 227.9,705.1 230.2,705.8C232.4,706.4 234.7,707.2 236.9,707.6C239.2,708.0 241.4,708.0 243.7,708.2C245.9,708.4 247.0,708.7 250.4,708.8C253.8,708.9 259.4,709.0 263.9,709.0C268.4,709.0 270.6,708.8 277.4,708.8C284.1,708.8 295.4,708.9 304.4,708.9C313.4,708.9 326.9,709.0 331.4,709.0L331.4,709.2L196.4,709.2Z" fill="#f9d3ce"/><path d="M196.4,706.9C197.5,706.7 200.9,705.9 203.2,705.7C205.4,705.5 207.7,705.7 209.9,705.7C212.2,705.7 214.4,705.7 216.7,705.8C218.9,705.9 221.2,706.0 223.4,706.2C225.7,706.4 227.9,706.9 230.2,707.2C232.4,707.5 234.7,708.0 236.9,708.2C239.2,708.4 241.4,708.4 243.7,708.6C245.9,708.7 247.0,708.8 250.4,708.9C253.8,709.0 259.4,709.1 263.9,709.1C268.4,709.1 270.6,708.8 277.4,708.8C284.1,708.8 295.4,708.9 304.4,708.9C313.4,708.9 326.9,709.0 331.4,709.0L331.4,709.2L196.4,709.2Z" fill="#cbece3"/><path d="M196.4,704.5C197.5,704.2 200.9,703.0 203.2,702.5C205.4,702.0 207.7,701.8 209.9,701.7C212.2,701.6 214.4,701.7 216.7,701.9C218.9,702.1 221.2,702.4 223.4,702.9C225.7,703.4 227.9,704.3 230.2,705.1C232.4,705.8 234.7,706.7 236.9,707.2C239.2,707.7 241.4,707.7 243.7,708.0C245.9,708.2 247.0,708.5 250.4,708.7C253.8,708.9 259.4,709.0 263.9,709.0C268.4,709.0 270.6,708.8 277.4,708.8C284.1,708.8 295.4,708.9 304.4,708.9C313.4,708.9 326.9,709.0 331.4,709.0" fill="none" stroke="#3c4f93" stroke-width="1.0"/><path d="M196.4,705.2C197.5,704.9 200.9,703.8 203.2,703.5C205.4,703.1 207.7,703.0 209.9,702.9C212.2,702.8 214.4,702.9 216.7,703.1C218.9,703.3 221.2,703.5 223.4,703.9C225.7,704.3 227.9,705.1 230.2,705.8C232.4,706.4 234.7,707.2 236.9,707.6C239.2,708.0 241.4,708.0 243.7,708.2C245.9,708.4 247.0,708.7 250.4,708.8C253.8,708.9 259.4,709.0 263.9,709.0C268.4,709.0 270.6,708.8 277.4,708.8C284.1,708.8 295.4,708.9 304.4,708.9C313.4,708.9 326.9,709.0 331.4,709.0" fill="none" stroke="#e8553e" stroke-width="1.0"/><path d="M196.4,706.9C197.5,706.7 200.9,705.9 203.2,705.7C205.4,705.5 207.7,705.7 209.9,705.7C212.2,705.7 214.4,705.7 216.7,705.8C218.9,705.9 221.2,706.0 223.4,706.2C225.7,706.4 227.9,706.9 230.2,707.2C232.4,707.5 234.7,708.0 236.9,708.2C239.2,708.4 241.4,708.4 243.7,708.6C245.9,708.7 247.0,708.8 250.4,708.9C253.8,709.0 259.4,709.1 263.9,709.1C268.4,709.1 270.6,708.8 277.4,708.8C284.1,708.8 295.4,708.9 304.4,708.9C313.4,708.9 326.9,709.0 331.4,709.0" fill="none" stroke="#27a083" stroke-width="1.0"/><line x1="190.1" y1="709.2" x2="338" y2="709.2" stroke="#555" stroke-width="0.8"/><path d="M361.7,708.8C363.9,708.6 370.7,708.0 375.2,707.8C379.7,707.6 384.2,707.8 388.7,707.8C393.2,707.8 397.7,707.6 402.2,707.6C406.7,707.6 411.2,707.9 415.7,708.0C420.2,708.1 424.7,708.1 429.2,708.2C433.7,708.2 438.2,708.2 442.7,708.3C447.2,708.4 451.7,708.5 456.2,708.6C460.7,708.7 465.2,708.8 469.7,708.9C474.2,709.0 478.7,709.1 483.2,709.1C487.7,709.1 494.4,709.1 496.7,709.1L496.7,709.2L361.7,709.2Z" fill="#d3d8ea"/><path d="M361.7,708.9C363.9,708.7 370.7,708.1 375.2,708.0C379.7,707.8 384.2,708.0 388.7,708.0C393.2,708.0 397.7,707.8 402.2,707.8C406.7,707.8 411.2,708.1 415.7,708.2C420.2,708.3 424.7,708.3 429.2,708.4C433.7,708.4 438.2,708.4 442.7,708.5C447.2,708.6 451.7,708.7 456.2,708.8C460.7,708.8 465.2,708.9 469.7,709.0C474.2,709.1 478.7,709.1 483.2,709.1C487.7,709.1 494.4,709.1 496.7,709.1L496.7,709.2L361.7,709.2Z" fill="#cbece3"/><path d="M361.7,708.9C363.9,708.8 370.7,708.2 375.2,708.1C379.7,707.9 384.2,708.2 388.7,708.2C393.2,708.2 397.7,707.9 402.2,708.0C406.7,708.0 411.2,708.2 415.7,708.3C420.2,708.4 424.7,708.4 429.2,708.5C433.7,708.5 438.2,708.5 442.7,708.6C447.2,708.7 451.7,708.7 456.2,708.8C460.7,708.9 465.2,708.9 469.7,709.0C474.2,709.1 478.7,709.1 483.2,709.1C487.7,709.1 494.4,709.1 496.7,709.1L496.7,709.2L361.7,709.2Z" fill="#f9d3ce"/><path d="M361.7,708.8C363.9,708.6 370.7,708.0 375.2,707.8C379.7,707.6 384.2,707.8 388.7,707.8C393.2,707.8 397.7,707.6 402.2,707.6C406.7,707.6 411.2,707.9 415.7,708.0C420.2,708.1 424.7,708.1 429.2,708.2C433.7,708.2 438.2,708.2 442.7,708.3C447.2,708.4 451.7,708.5 456.2,708.6C460.7,708.7 465.2,708.8 469.7,708.9C474.2,709.0 478.7,709.1 483.2,709.1C487.7,709.1 494.4,709.1 496.7,709.1" fill="none" stroke="#3c4f93" stroke-width="1.0"/><path d="M361.7,708.9C363.9,708.8 370.7,708.2 375.2,708.1C379.7,707.9 384.2,708.2 388.7,708.2C393.2,708.2 397.7,707.9 402.2,708.0C406.7,708.0 411.2,708.2 415.7,708.3C420.2,708.4 424.7,708.4 429.2,708.5C433.7,708.5 438.2,708.5 442.7,708.6C447.2,708.7 451.7,708.7 456.2,708.8C460.7,708.9 465.2,708.9 469.7,709.0C474.2,709.1 478.7,709.1 483.2,709.1C487.7,709.1 494.4,709.1 496.7,709.1" fill="none" stroke="#e8553e" stroke-width="1.0"/><path d="M361.7,708.9C363.9,708.7 370.7,708.1 375.2,708.0C379.7,707.8 384.2,708.0 388.7,708.0C393.2,708.0 397.7,707.8 402.2,707.8C406.7,707.8 411.2,708.1 415.7,708.2C420.2,708.3 424.7,708.3 429.2,708.4C433.7,708.4 438.2,708.4 442.7,708.5C447.2,708.6 451.7,708.7 456.2,708.8C460.7,708.8 465.2,708.9 469.7,709.0C474.2,709.1 478.7,709.1 483.2,709.1C487.7,709.1 494.4,709.1 496.7,709.1" fill="none" stroke="#27a083" stroke-width="1.0"/><line x1="354.2" y1="709.2" x2="502.3" y2="709.2" stroke="#555" stroke-width="0.8"/><path d="M527.0,708.9C529.2,708.5 536.0,706.8 540.5,706.2C545.0,705.6 549.5,705.2 554.0,705.2C558.5,705.2 563.0,705.7 567.5,706.0C572.0,706.3 576.5,706.7 581.0,707.0C585.5,707.3 590.0,707.5 594.5,707.6C599.0,707.7 603.5,707.7 608.0,707.7C612.5,707.7 617.0,707.6 621.5,707.6C626.0,707.6 630.0,707.5 635.0,707.4C640.0,707.3 646.7,706.9 651.2,707.1C655.7,707.3 660.2,708.5 662.0,708.8L662.0,709.2L527.0,709.2Z" fill="#d3d8ea"/><path d="M527.0,709.0C529.2,708.6 536.0,707.3 540.5,706.8C545.0,706.3 549.5,705.9 554.0,705.9C558.5,705.9 563.0,706.4 567.5,706.6C572.0,706.9 576.5,707.2 581.0,707.4C585.5,707.6 590.0,707.8 594.5,707.9C599.0,708.0 603.5,708.0 608.0,708.0C612.5,708.0 617.0,708.0 621.5,707.9C626.0,707.9 630.0,707.8 635.0,707.7C640.0,707.6 646.7,707.3 651.2,707.5C655.7,707.7 660.2,708.7 662.0,708.9L662.0,709.2L527.0,709.2Z" fill="#f9d3ce"/><path d="M527.0,709.0C529.2,708.9 536.0,708.4 540.5,708.2C545.0,708.0 549.5,707.9 554.0,707.8C558.5,707.8 563.0,707.9 567.5,707.9C572.0,708.0 576.5,708.1 581.0,708.1C585.5,708.1 590.0,708.2 594.5,708.2C599.0,708.2 603.5,708.3 608.0,708.3C612.5,708.3 617.0,708.3 621.5,708.3C626.0,708.3 630.0,708.2 635.0,708.2C640.0,708.2 646.7,708.0 651.2,708.1C655.7,708.2 660.2,708.9 662.0,709.0L662.0,709.2L527.0,709.2Z" fill="#cbece3"/><path d="M527.0,708.9C529.2,708.5 536.0,706.8 540.5,706.2C545.0,705.6 549.5,705.2 554.0,705.2C558.5,705.2 563.0,705.7 567.5,706.0C572.0,706.3 576.5,706.7 581.0,707.0C585.5,707.3 590.0,707.5 594.5,707.6C599.0,707.7 603.5,707.7 608.0,707.7C612.5,707.7 617.0,707.6 621.5,707.6C626.0,707.6 630.0,707.5 635.0,707.4C640.0,707.3 646.7,706.9 651.2,707.1C655.7,707.3 660.2,708.5 662.0,708.8" fill="none" stroke="#3c4f93" stroke-width="1.0"/><path d="M527.0,709.0C529.2,708.6 536.0,707.3 540.5,706.8C545.0,706.3 549.5,705.9 554.0,705.9C558.5,705.9 563.0,706.4 567.5,706.6C572.0,706.9 576.5,707.2 581.0,707.4C585.5,707.6 590.0,707.8 594.5,707.9C599.0,708.0 603.5,708.0 608.0,708.0C612.5,708.0 617.0,708.0 621.5,707.9C626.0,707.9 630.0,707.8 635.0,707.7C640.0,707.6 646.7,707.3 651.2,707.5C655.7,707.7 660.2,708.7 662.0,708.9" fill="none" stroke="#e8553e" stroke-width="1.0"/><path d="M527.0,709.0C529.2,708.9 536.0,708.4 540.5,708.2C545.0,708.0 549.5,707.9 554.0,707.8C558.5,707.8 563.0,707.9 567.5,707.9C572.0,708.0 576.5,708.1 581.0,708.1C585.5,708.1 590.0,708.2 594.5,708.2C599.0,708.2 603.5,708.3 608.0,708.3C612.5,708.3 617.0,708.3 621.5,708.3C626.0,708.3 630.0,708.2 635.0,708.2C640.0,708.2 646.7,708.0 651.2,708.1C655.7,708.2 660.2,708.9 662.0,709.0" fill="none" stroke="#27a083" stroke-width="1.0"/><line x1="520.5" y1="709.2" x2="668.7" y2="709.2" stroke="#555" stroke-width="0.8"/>
<text x="0.2" y="625.0" font-size="10.2" fill="#111">≥75</text>
<text x="0.2" y="645.4" font-size="10.2" fill="#111">65-75</text>
<text x="0.2" y="666.1" font-size="10.2" fill="#111">55-65</text>
<text x="0.2" y="686.7" font-size="10.2" fill="#111">45-55</text>
<text x="0.2" y="706.7" font-size="10.2" fill="#111">&lt;45</text>
<text x="30.6" y="717.0" font-size="6.0" text-anchor="middle" fill="#333">0.0</text><text x="57.6" y="717.0" font-size="6.0" text-anchor="middle" fill="#333">0.2</text><text x="84.6" y="717.0" font-size="6.0" text-anchor="middle" fill="#333">0.4</text><text x="111.6" y="717.0" font-size="6.0" text-anchor="middle" fill="#333">0.6</text><text x="138.6" y="717.0" font-size="6.0" text-anchor="middle" fill="#333">0.8</text><text x="165.6" y="717.0" font-size="6.0" text-anchor="middle" fill="#333">1.0</text><text x="196.4" y="717.0" font-size="6.0" text-anchor="middle" fill="#333">0.0</text><text x="223.4" y="717.0" font-size="6.0" text-anchor="middle" fill="#333">0.2</text><text x="250.4" y="717.0" font-size="6.0" text-anchor="middle" fill="#333">0.4</text><text x="277.4" y="717.0" font-size="6.0" text-anchor="middle" fill="#333">0.6</text><text x="304.4" y="717.0" font-size="6.0" text-anchor="middle" fill="#333">0.8</text><text x="331.4" y="717.0" font-size="6.0" text-anchor="middle" fill="#333">1.0</text><text x="361.7" y="717.0" font-size="6.0" text-anchor="middle" fill="#333">0.0</text><text x="388.7" y="717.0" font-size="6.0" text-anchor="middle" fill="#333">0.2</text><text x="415.7" y="717.0" font-size="6.0" text-anchor="middle" fill="#333">0.4</text><text x="442.7" y="717.0" font-size="6.0" text-anchor="middle" fill="#333">0.6</text><text x="469.7" y="717.0" font-size="6.0" text-anchor="middle" fill="#333">0.8</text><text x="496.7" y="717.0" font-size="6.0" text-anchor="middle" fill="#333">1.0</text><text x="527.0" y="717.0" font-size="6.0" text-anchor="middle" fill="#333">0.0</text><text x="554.0" y="717.0" font-size="6.0" text-anchor="middle" fill="#333">0.2</text><text x="581.0" y="717.0" font-size="6.0" text-anchor="middle" fill="#333">0.4</text><text x="608.0" y="717.0" font-size="6.0" text-anchor="middle" fill="#333">0.6</text><text x="635.0" y="717.0" font-size="6.0" text-anchor="middle" fill="#333">0.8</text><text x="662.0" y="717.0" font-size="6.0" text-anchor="middle" fill="#333">1.0</text>
<rect x="197.5" y="721.6" width="19.6" height="9.6" fill="#ccd3e8" stroke="#3c4f93" stroke-width="1.2"/>
<text x="222.2" y="729.9" font-size="9.3" fill="#111">Plaques</text>
<rect x="269.9" y="721.6" width="19.6" height="9.6" fill="#f9cfc9" stroke="#e8553e" stroke-width="1.2"/>
<text x="294.7" y="729.9" font-size="9.3" fill="#111">High-risk Plaques</text>
<rect x="381.6" y="721.6" width="19.8" height="9.6" fill="#c8ece2" stroke="#27a083" stroke-width="1.2"/>
<text x="406.0" y="729.9" font-size="9.3" fill="#111">Significant Stenoses</text>
<text x="-0.5" y="748.6" font-size="17" font-weight="bold" fill="#231815">d</text>
<rect x="125" y="757" width="122.4" height="3.6" fill="url(#grdbuh)" stroke="#444" stroke-width="0.25"/>
<path d="M125.0,757v-1.4" stroke="#444" stroke-width="0.35"/><text transform="translate(125.9,755.0) rotate(-90)" font-size="2.6" fill="#555">−40</text><path d="M140.3,757v-1.4" stroke="#444" stroke-width="0.35"/><text transform="translate(141.2,755.0) rotate(-90)" font-size="2.6" fill="#555">−30</text><path d="M155.6,757v-1.4" stroke="#444" stroke-width="0.35"/><text transform="translate(156.5,755.0) rotate(-90)" font-size="2.6" fill="#555">−20</text><path d="M170.9,757v-1.4" stroke="#444" stroke-width="0.35"/><text transform="translate(171.8,755.0) rotate(-90)" font-size="2.6" fill="#555">−10</text><path d="M186.2,757v-1.4" stroke="#444" stroke-width="0.35"/><text transform="translate(187.1,755.0) rotate(-90)" font-size="2.6" fill="#555">0</text><path d="M201.5,757v-1.4" stroke="#444" stroke-width="0.35"/><text transform="translate(202.4,755.0) rotate(-90)" font-size="2.6" fill="#555">10</text><path d="M216.8,757v-1.4" stroke="#444" stroke-width="0.35"/><text transform="translate(217.7,755.0) rotate(-90)" font-size="2.6" fill="#555">20</text><path d="M232.1,757v-1.4" stroke="#444" stroke-width="0.35"/><text transform="translate(233.0,755.0) rotate(-90)" font-size="2.6" fill="#555">30</text><path d="M247.4,757v-1.4" stroke="#444" stroke-width="0.35"/><text transform="translate(248.3,755.0) rotate(-90)" font-size="2.6" fill="#555">40</text>
<rect x="448.3" y="755.7" width="121.9" height="4.0" fill="url(#grdbuh)" stroke="#444" stroke-width="0.25"/>
<path d="M448.3,755.7v-1.4" stroke="#444" stroke-width="0.35"/><text transform="translate(449.2,753.7) rotate(-90)" font-size="2.6" fill="#555">−40</text><path d="M463.5,755.7v-1.4" stroke="#444" stroke-width="0.35"/><text transform="translate(464.4,753.7) rotate(-90)" font-size="2.6" fill="#555">−30</text><path d="M478.8,755.7v-1.4" stroke="#444" stroke-width="0.35"/><text transform="translate(479.7,753.7) rotate(-90)" font-size="2.6" fill="#555">−20</text><path d="M494.0,755.7v-1.4" stroke="#444" stroke-width="0.35"/><text transform="translate(494.9,753.7) rotate(-90)" font-size="2.6" fill="#555">−10</text><path d="M509.2,755.7v-1.4" stroke="#444" stroke-width="0.35"/><text transform="translate(510.1,753.7) rotate(-90)" font-size="2.6" fill="#555">0</text><path d="M524.5,755.7v-1.4" stroke="#444" stroke-width="0.35"/><text transform="translate(525.4,753.7) rotate(-90)" font-size="2.6" fill="#555">10</text><path d="M539.7,755.7v-1.4" stroke="#444" stroke-width="0.35"/><text transform="translate(540.6,753.7) rotate(-90)" font-size="2.6" fill="#555">20</text><path d="M555.0,755.7v-1.4" stroke="#444" stroke-width="0.35"/><text transform="translate(555.9,753.7) rotate(-90)" font-size="2.6" fill="#555">30</text><path d="M570.2,755.7v-1.4" stroke="#444" stroke-width="0.35"/><text transform="translate(571.1,753.7) rotate(-90)" font-size="2.6" fill="#555">40</text>
<use href="#rcbox_s" transform="translate(13.01,652.46) scale(0.452)"/>
<g transform="translate(13.01,652.46) scale(0.452)"><g stroke-width="2.4" stroke-linecap="round" stroke-linejoin="round" fill="none" stroke-opacity="0.85"><path d="M168.6,275.6l-2.3,.4l-2.3,.3l-3,.3l-3,.2l-2.8,.3l-2.7,.2l-2.3,.6l-2.2,.6l-2.4,1.5l-2.4,1.5l-1.9,2l-1.8,2l-1.3,2.5l-1.2,2.5l-.3,2.3l-.3,2.2l.5,2l.6,2l1.7,1.4l1.8,1.4l2.5,.6l2.5,.6l3.5,.1l3.5,.1" stroke="#fee"/><path d="M153,303.2l3.5-.2" stroke="#ffe"/><path d="M156.5,303l3.5-.2" stroke="#ffe" stroke-width="1.6"/><path d="M160,302.8l3.5-.4l3.5-.4l2.5-.4l2.5-.4l2-.4l2-.4" stroke="#fff" stroke-width="1.6"/><path d="M176,300.4l1.8-.9l1.7-.9l1.8-.8l1.8-.9l2.5-1l2.4-1.1l2.8-.7l2.8-.7l2.2-.2l2.2-.1l2.2,.1l2.1,.2l1.9,.5l1.8,.4l1.7,.7l1.6,.7l1.9,1.2l1.8,1.3l1.7,1.6l1.7,1.5" stroke="#fff" stroke-width="1.6"/><path d="M176,300.4l2.2,.7l2.3,.8l2.2,.7l2.1,.8l1.7,.9l1.7,.9l1.4,1.1l1.4,1.1l1.2,1.5l1.1,1.4l1,1.7l1,1.6l1.6,2.2l1.6,2.2l1.5,2.1l1.5,2.2" stroke="#fff" stroke-width="1.6"/></g></g>
<use href="#rcbox_s" transform="translate(75.01,652.46) scale(0.452)"/>
<g transform="translate(75.01,652.46) scale(0.452)"><g stroke-width="2.4" stroke-linecap="round" stroke-linejoin="round" fill="none" stroke-opacity="0.85"><path d="M168.6,275.6l-2.3,.4l-2.3,.3l-3,.3l-3,.2" stroke="#fdc"/><path d="M158,276.8l-2.8,.3" stroke="#fcc"/><path d="M155.2,277.1l-2.7,.2l-2.3,.6l-2.2,.6l-2.4,1.5l-2.4,1.5l-1.9,2l-1.8,2l-1.3,2.5" stroke="#fcb"/><path d="M138.2,288l-1.2,2.5" stroke="#fcc"/><path d="M137,290.5l-.3,2.3l-.3,2.2l.5,2l.6,2l1.7,1.4l1.8,1.4" stroke="#fdc"/><path d="M141,301.8l2.5,.6l2.5,.6l3.5,.1" stroke="#fdd"/><path d="M149.5,303.1l3.5,.1l3.5-.2" stroke="#fed"/><path d="M156.5,303l3.5-.2l3.5-.4l3.5-.4l2.5-.4" stroke="#fee"/><path d="M169.5,301.6l2.5-.4" stroke="#ffe"/><path d="M172,301.2l2-.4" stroke="#ffe" stroke-width="1.6"/><path d="M174,300.8l2-.4" stroke="#fff" stroke-width="1.6"/><path d="M176,300.4l1.8-.9l1.7-.9l1.8-.8l1.8-.9l2.5-1l2.4-1.1l2.8-.7l2.8-.7l2.2-.2l2.2-.1l2.2,.1l2.1,.2l1.9,.5l1.8,.4l1.7,.7l1.6,.7l1.9,1.2l1.8,1.3l1.7,1.6l1.7,1.5" stroke="#fff" stroke-width="1.6"/><path d="M176,300.4l2.2,.7l2.3,.8l2.2,.7l2.1,.8l1.7,.9l1.7,.9l1.4,1.1l1.4,1.1l1.2,1.5l1.1,1.4l1,1.7l1,1.6l1.6,2.2l1.6,2.2l1.5,2.1l1.5,2.2" stroke="#fff" stroke-width="1.6"/></g></g>
<use href="#rcbox_s" transform="translate(137.01,652.46) scale(0.452)"/>
<g transform="translate(137.01,652.46) scale(0.452)"><g stroke-width="2.4" stroke-linecap="round" stroke-linejoin="round" fill="none" stroke-opacity="0.85"><path d="M168.6,275.6l-2.3,.4" stroke="#fca"/><path d="M166.3,276l-2.3,.3l-3,.3l-3,.2l-2.8,.3" stroke="#fba"/><path d="M155.2,277.1l-2.7,.2l-2.3,.6l-2.2,.6l-2.4,1.5l-2.4,1.5l-1.9,2l-1.8,2l-1.3,2.5" stroke="#fb9"/><path d="M138.2,288l-1.2,2.5l-.3,2.3l-.3,2.2l.5,2" stroke="#fba"/><path d="M136.9,297l.6,2" stroke="#fca"/><path d="M137.5,299l1.7,1.4l1.8,1.4l2.5,.6l2.5,.6" stroke="#fcb"/><path d="M146,303l3.5,.1" stroke="#fcc"/><path d="M149.5,303.1l3.5,.1" stroke="#fdc"/><path d="M153,303.2l3.5-.2l3.5-.2" stroke="#fdd"/><path d="M160,302.8l3.5-.4" stroke="#fed"/><path d="M163.5,302.4l3.5-.4l2.5-.4l2.5-.4l2-.4l2-.4" stroke="#fee"/><path d="M176,300.4l1.8-.9l1.7-.9l1.8-.8l1.8-.9l2.5-1l2.4-1.1l2.8-.7l2.8-.7l2.2-.2l2.2-.1l2.2,.1l2.1,.2l1.9,.5l1.8,.4l1.7,.7l1.6,.7l1.9,1.2l1.8,1.3l1.7,1.6l1.7,1.5" stroke="#fff" stroke-width="1.6"/><path d="M176,300.4l2.2,.7l2.3,.8l2.2,.7l2.1,.8l1.7,.9l1.7,.9l1.4,1.1l1.4,1.1l1.2,1.5l1.1,1.4l1,1.7l1,1.6l1.6,2.2l1.6,2.2l1.5,2.1l1.5,2.2" stroke="#fff" stroke-width="1.6"/></g></g>
<use href="#rcbox_s" transform="translate(199.01,652.46) scale(0.452)"/>
<g transform="translate(199.01,652.46) scale(0.452)"><g stroke-width="2.4" stroke-linecap="round" stroke-linejoin="round" fill="none" stroke-opacity="0.85"><path d="M168.6,275.6l-2.3,.4" stroke="#fb9"/><path d="M166.3,276l-2.3,.3" stroke="#eb9"/><path d="M164,276.3l-3,.3l-3,.2" stroke="#ea9"/><path d="M158,276.8l-2.8,.3l-2.7,.2l-2.3,.6l-2.2,.6l-2.4,1.5l-2.4,1.5l-1.9,2l-1.8,2l-1.3,2.5l-1.2,2.5" stroke="#ea8"/><path d="M137,290.5l-.3,2.3l-.3,2.2" stroke="#ea9"/><path d="M136.4,295l.5,2" stroke="#eb9"/><path d="M136.9,297l.6,2" stroke="#fb9"/><path d="M137.5,299l1.7,1.4l1.8,1.4l2.5,.6" stroke="#fba"/><path d="M143.5,302.4l2.5,.6" stroke="#fca"/><path d="M146,303l3.5,.1l3.5,.1" stroke="#fcb"/><path d="M153,303.2l3.5-.2l3.5-.2" stroke="#fdc"/><path d="M160,302.8l3.5-.4" stroke="#fdd"/><path d="M163.5,302.4l3.5-.4l2.5-.4" stroke="#fed"/><path d="M169.5,301.6l2.5-.4l2-.4l2-.4" stroke="#fee"/><path d="M176,300.4l1.8-.9l1.7-.9l1.8-.8l1.8-.9l2.5-1l2.4-1.1l2.8-.7l2.8-.7l2.2-.2l2.2-.1l2.2,.1l2.1,.2l1.9,.5l1.8,.4l1.7,.7l1.6,.7l1.9,1.2l1.8,1.3l1.7,1.6l1.7,1.5" stroke="#fff" stroke-width="1.6"/><path d="M176,300.4l2.2,.7l2.3,.8l2.2,.7l2.1,.8l1.7,.9l1.7,.9l1.4,1.1l1.4,1.1l1.2,1.5l1.1,1.4l1,1.7l1,1.6l1.6,2.2l1.6,2.2l1.5,2.1l1.5,2.2" stroke="#fff" stroke-width="1.6"/></g></g>
<use href="#rcbox_s" transform="translate(-8.69,705.66) scale(0.452)"/>
<g transform="translate(-8.69,705.66) scale(0.452)"><g stroke-width="2.4" stroke-linecap="round" stroke-linejoin="round" fill="none" stroke-opacity="0.85"><path d="M168.6,275.6l-2.3,.4" stroke="#03f"/><path d="M166.3,276l-2.3,.3" stroke="#01f"/><path d="M164,276.3l-3,.3" stroke="#10f"/><path d="M161,276.6l-3,.2" stroke="#31e"/><path d="M158,276.8l-2.8,.3l-2.7,.2l-2.3,.6" stroke="#41c"/><path d="M150.2,277.9l-2.2,.6" stroke="#41b"/><path d="M148,278.5l-2.4,1.5l-2.4,1.5l-1.9,2l-1.8,2l-1.3,2.5l-1.2,2.5" stroke="#40b"/><path d="M137,290.5l-.3,2.3" stroke="#41b"/><path d="M136.7,292.8l-.3,2.2l.5,2l.6,2l1.7,1.4l1.8,1.4l2.5,.6l2.5,.6l3.5,.1l3.5,.1l3.5-.2l3.5-.2l3.5-.4" stroke="#41c"/><path d="M163.5,302.4l3.5-.4" stroke="#41b"/><path d="M167,302l2.5-.4l2.5-.4l2-.4" stroke="#40b"/><path d="M174,300.8l2-.4" stroke="#40a"/><path d="M176,300.4l1.8-.9" stroke="#01f"/><path d="M177.8,299.5l1.7-.9" stroke="#10f"/><path d="M179.5,298.6l1.8-.8" stroke="#31e"/><path d="M181.3,297.8l1.8-.9" stroke="#41c"/><path d="M183.1,296.9l2.5-1" stroke="#40b"/><path d="M185.6,295.9l2.4-1.1" stroke="#50a"/><path d="M188,294.8l2.8-.7" stroke="#409"/><path d="M190.8,294.1l2.8-.7" stroke="#408"/><path d="M193.6,293.4l2.2-.2" stroke="#307"/><path d="M195.8,293.2l2.2-.1" stroke="#306"/><path d="M198,293.1l2.2,.1" stroke="#305"/><path d="M200.2,293.2l2.1,.2" stroke="#204"/><path d="M202.3,293.4l1.9,.5l1.8,.4" stroke="#203"/><path d="M206,294.3l1.7,.7" stroke="#202"/><path d="M207.7,295l1.6,.7l1.9,1.2" stroke="#102"/><path d="M211.2,296.9l1.8,1.3l1.7,1.6l1.7,1.5" stroke="#101"/><path d="M176,300.4l2.2,.7" stroke="#10f"/><path d="M178.2,301.1l2.3,.8" stroke="#31d"/><path d="M180.5,301.9l2.2,.7" stroke="#40b"/><path d="M182.7,302.6l2.1,.8" stroke="#50a"/><path d="M184.8,303.4l1.7,.9" stroke="#409"/><path d="M186.5,304.3l1.7,.9" stroke="#408"/><path d="M188.2,305.2l1.4,1.1" stroke="#307"/><path d="M189.6,306.3l1.4,1.1" stroke="#306"/><path d="M191,307.4l1.2,1.5" stroke="#305"/><path d="M192.2,308.9l1.1,1.4" stroke="#204"/><path d="M193.3,310.3l1,1.7l1,1.6" stroke="#203"/><path d="M195.3,313.6l1.6,2.2l1.6,2.2" stroke="#102"/><path d="M198.5,318l1.5,2.1l1.5,2.2" stroke="#101"/></g></g>
<use href="#rcbox_s" transform="translate(53.21,705.66) scale(0.452)"/>
<g transform="translate(53.21,705.66) scale(0.452)"><g stroke-width="2.4" stroke-linecap="round" stroke-linejoin="round" fill="none" stroke-opacity="0.85"><path d="M168.6,275.6l-2.3,.4" stroke="#0bf"/><path d="M166.3,276l-2.3,.3l-3,.3" stroke="#0af"/><path d="M161,276.6l-3,.2l-2.8,.3l-2.7,.2" stroke="#09f"/><path d="M152.5,277.3l-2.3,.6l-2.2,.6" stroke="#08f"/><path d="M148,278.5l-2.4,1.5" stroke="#05f"/><path d="M145.6,280l-2.4,1.5" stroke="#02f"/><path d="M143.2,281.5l-1.9,2l-1.8,2" stroke="#01f"/><path d="M139.5,285.5l-1.3,2.5l-1.2,2.5l-.3,2.3l-.3,2.2l.5,2" stroke="#10f"/><path d="M136.9,297l.6,2" stroke="#20f"/><path d="M137.5,299l1.7,1.4l1.8,1.4l2.5,.6l2.5,.6l3.5,.1" stroke="#20e"/><path d="M149.5,303.1l3.5,.1" stroke="#21e"/><path d="M153,303.2l3.5-.2" stroke="#31e"/><path d="M156.5,303l3.5-.2l3.5-.4l3.5-.4" stroke="#31d"/><path d="M167,302l2.5-.4" stroke="#41d"/><path d="M169.5,301.6l2.5-.4l2-.4l2-.4" stroke="#41c"/><path d="M176,300.4l1.8-.9" stroke="#01f"/><path d="M177.8,299.5l1.7-.9" stroke="#10f"/><path d="M179.5,298.6l1.8-.8" stroke="#31e"/><path d="M181.3,297.8l1.8-.9" stroke="#41c"/><path d="M183.1,296.9l2.5-1" stroke="#40b"/><path d="M185.6,295.9l2.4-1.1" stroke="#50a"/><path d="M188,294.8l2.8-.7" stroke="#409"/><path d="M190.8,294.1l2.8-.7" stroke="#408"/><path d="M193.6,293.4l2.2-.2" stroke="#307"/><path d="M195.8,293.2l2.2-.1" stroke="#306"/><path d="M198,293.1l2.2,.1" stroke="#305"/><path d="M200.2,293.2l2.1,.2" stroke="#204"/><path d="M202.3,293.4l1.9,.5l1.8,.4" stroke="#203"/><path d="M206,294.3l1.7,.7" stroke="#202"/><path d="M207.7,295l1.6,.7l1.9,1.2" stroke="#102"/><path d="M211.2,296.9l1.8,1.3l1.7,1.6l1.7,1.5" stroke="#101"/><path d="M176,300.4l2.2,.7" stroke="#10f"/><path d="M178.2,301.1l2.3,.8" stroke="#31d"/><path d="M180.5,301.9l2.2,.7" stroke="#40b"/><path d="M182.7,302.6l2.1,.8" stroke="#50a"/><path d="M184.8,303.4l1.7,.9" stroke="#409"/><path d="M186.5,304.3l1.7,.9" stroke="#408"/><path d="M188.2,305.2l1.4,1.1" stroke="#307"/><path d="M189.6,306.3l1.4,1.1" stroke="#306"/><path d="M191,307.4l1.2,1.5" stroke="#305"/><path d="M192.2,308.9l1.1,1.4" stroke="#204"/><path d="M193.3,310.3l1,1.7l1,1.6" stroke="#203"/><path d="M195.3,313.6l1.6,2.2l1.6,2.2" stroke="#102"/><path d="M198.5,318l1.5,2.1l1.5,2.2" stroke="#101"/></g></g>
<use href="#rcbox_s" transform="translate(115.11,705.66) scale(0.452)"/>
<g transform="translate(115.11,705.66) scale(0.452)"><g stroke-width="2.4" stroke-linecap="round" stroke-linejoin="round" fill="none" stroke-opacity="0.85"><path d="M168.6,275.6l-2.3,.4l-2.3,.3l-3,.3" stroke="#0df"/><path d="M161,276.6l-3,.2l-2.8,.3l-2.7,.2" stroke="#0cf"/><path d="M152.5,277.3l-2.3,.6l-2.2,.6l-2.4,1.5" stroke="#0bf"/><path d="M145.6,280l-2.4,1.5l-1.9,2l-1.8,2l-1.3,2.5" stroke="#0af"/><path d="M138.2,288l-1.2,2.5l-.3,2.3l-.3,2.2l.5,2" stroke="#09f"/><path d="M136.9,297l.6,2l1.7,1.4l1.8,1.4l2.5,.6l2.5,.6l3.5,.1" stroke="#08f"/><path d="M149.5,303.1l3.5,.1" stroke="#07f"/><path d="M153,303.2l3.5-.2" stroke="#06f"/><path d="M156.5,303l3.5-.2" stroke="#05f"/><path d="M160,302.8l3.5-.4" stroke="#04f"/><path d="M163.5,302.4l3.5-.4" stroke="#03f"/><path d="M167,302l2.5-.4" stroke="#02f"/><path d="M169.5,301.6l2.5-.4l2-.4l2-.4" stroke="#01f"/><path d="M176,300.4l1.8-.9" stroke="#01f"/><path d="M177.8,299.5l1.7-.9" stroke="#10f"/><path d="M179.5,298.6l1.8-.8" stroke="#31e"/><path d="M181.3,297.8l1.8-.9" stroke="#41c"/><path d="M183.1,296.9l2.5-1" stroke="#40b"/><path d="M185.6,295.9l2.4-1.1" stroke="#50a"/><path d="M188,294.8l2.8-.7" stroke="#409"/><path d="M190.8,294.1l2.8-.7" stroke="#408"/><path d="M193.6,293.4l2.2-.2" stroke="#307"/><path d="M195.8,293.2l2.2-.1" stroke="#306"/><path d="M198,293.1l2.2,.1" stroke="#305"/><path d="M200.2,293.2l2.1,.2" stroke="#204"/><path d="M202.3,293.4l1.9,.5l1.8,.4" stroke="#203"/><path d="M206,294.3l1.7,.7" stroke="#202"/><path d="M207.7,295l1.6,.7l1.9,1.2" stroke="#102"/><path d="M211.2,296.9l1.8,1.3l1.7,1.6l1.7,1.5" stroke="#101"/><path d="M176,300.4l2.2,.7" stroke="#10f"/><path d="M178.2,301.1l2.3,.8" stroke="#31d"/><path d="M180.5,301.9l2.2,.7" stroke="#40b"/><path d="M182.7,302.6l2.1,.8" stroke="#50a"/><path d="M184.8,303.4l1.7,.9" stroke="#409"/><path d="M186.5,304.3l1.7,.9" stroke="#408"/><path d="M188.2,305.2l1.4,1.1" stroke="#307"/><path d="M189.6,306.3l1.4,1.1" stroke="#306"/><path d="M191,307.4l1.2,1.5" stroke="#305"/><path d="M192.2,308.9l1.1,1.4" stroke="#204"/><path d="M193.3,310.3l1,1.7l1,1.6" stroke="#203"/><path d="M195.3,313.6l1.6,2.2l1.6,2.2" stroke="#102"/><path d="M198.5,318l1.5,2.1l1.5,2.2" stroke="#101"/></g></g>
<use href="#rcbox_s" transform="translate(177.01,705.66) scale(0.452)"/>
<g transform="translate(177.01,705.66) scale(0.452)"><g stroke-width="2.4" stroke-linecap="round" stroke-linejoin="round" fill="none" stroke-opacity="0.85"><path d="M168.6,275.6l-2.3,.4" stroke="#2fc"/><path d="M166.3,276l-2.3,.3" stroke="#3fc"/><path d="M164,276.3l-3,.3l-3,.2l-2.8,.3l-2.7,.2" stroke="#3fb"/><path d="M152.5,277.3l-2.3,.6" stroke="#3fc"/><path d="M150.2,277.9l-2.2,.6l-2.4,1.5" stroke="#2fc"/><path d="M145.6,280l-2.4,1.5" stroke="#2fd"/><path d="M143.2,281.5l-1.9,2l-1.8,2" stroke="#1ee"/><path d="M139.5,285.5l-1.3,2.5" stroke="#0ef"/><path d="M138.2,288l-1.2,2.5l-.3,2.3" stroke="#0df"/><path d="M136.7,292.8l-.3,2.2" stroke="#0cf"/><path d="M136.4,295l.5,2l.6,2l1.7,1.4l1.8,1.4" stroke="#0bf"/><path d="M141,301.8l2.5,.6l2.5,.6l3.5,.1l3.5,.1l3.5-.2l3.5-.2l3.5-.4l3.5-.4" stroke="#0af"/><path d="M167,302l2.5-.4l2.5-.4l2-.4l2-.4" stroke="#09f"/><path d="M176,300.4l1.8-.9" stroke="#01f"/><path d="M177.8,299.5l1.7-.9" stroke="#10f"/><path d="M179.5,298.6l1.8-.8" stroke="#31e"/><path d="M181.3,297.8l1.8-.9" stroke="#41c"/><path d="M183.1,296.9l2.5-1" stroke="#40b"/><path d="M185.6,295.9l2.4-1.1" stroke="#50a"/><path d="M188,294.8l2.8-.7" stroke="#409"/><path d="M190.8,294.1l2.8-.7" stroke="#408"/><path d="M193.6,293.4l2.2-.2" stroke="#307"/><path d="M195.8,293.2l2.2-.1" stroke="#306"/><path d="M198,293.1l2.2,.1" stroke="#305"/><path d="M200.2,293.2l2.1,.2" stroke="#204"/><path d="M202.3,293.4l1.9,.5l1.8,.4" stroke="#203"/><path d="M206,294.3l1.7,.7" stroke="#202"/><path d="M207.7,295l1.6,.7l1.9,1.2" stroke="#102"/><path d="M211.2,296.9l1.8,1.3l1.7,1.6l1.7,1.5" stroke="#101"/><path d="M176,300.4l2.2,.7" stroke="#10f"/><path d="M178.2,301.1l2.3,.8" stroke="#31d"/><path d="M180.5,301.9l2.2,.7" stroke="#40b"/><path d="M182.7,302.6l2.1,.8" stroke="#50a"/><path d="M184.8,303.4l1.7,.9" stroke="#409"/><path d="M186.5,304.3l1.7,.9" stroke="#408"/><path d="M188.2,305.2l1.4,1.1" stroke="#307"/><path d="M189.6,306.3l1.4,1.1" stroke="#306"/><path d="M191,307.4l1.2,1.5" stroke="#305"/><path d="M192.2,308.9l1.1,1.4" stroke="#204"/><path d="M193.3,310.3l1,1.7l1,1.6" stroke="#203"/><path d="M195.3,313.6l1.6,2.2l1.6,2.2" stroke="#102"/><path d="M198.5,318l1.5,2.1l1.5,2.2" stroke="#101"/></g></g>
<use href="#rcbox_s" transform="translate(238.91,705.66) scale(0.452)"/>
<g transform="translate(238.91,705.66) scale(0.452)"><g stroke-width="2.4" stroke-linecap="round" stroke-linejoin="round" fill="none" stroke-opacity="0.85"><path d="M168.6,275.6l-2.3,.4l-2.3,.3" stroke="#9f5"/><path d="M164,276.3l-3,.3l-3,.2l-2.8,.3l-2.7,.2" stroke="#af4"/><path d="M152.5,277.3l-2.3,.6l-2.2,.6" stroke="#9f5"/><path d="M148,278.5l-2.4,1.5" stroke="#8f6"/><path d="M145.6,280l-2.4,1.5" stroke="#7f7"/><path d="M143.2,281.5l-1.9,2" stroke="#5f8"/><path d="M141.3,283.5l-1.8,2" stroke="#4f9"/><path d="M139.5,285.5l-1.3,2.5" stroke="#3fa"/><path d="M138.2,288l-1.2,2.5" stroke="#3fb"/><path d="M137,290.5l-.3,2.3" stroke="#2fd"/><path d="M136.7,292.8l-.3,2.2" stroke="#1fd"/><path d="M136.4,295l.5,2" stroke="#1ee"/><path d="M136.9,297l.6,2" stroke="#0ef"/><path d="M137.5,299l1.7,1.4l1.8,1.4" stroke="#0df"/><path d="M141,301.8l2.5,.6l2.5,.6" stroke="#0cf"/><path d="M146,303l3.5,.1l3.5,.1l3.5-.2l3.5-.2" stroke="#0bf"/><path d="M160,302.8l3.5-.4l3.5-.4l2.5-.4l2.5-.4l2-.4" stroke="#0af"/><path d="M174,300.8l2-.4" stroke="#09f"/><path d="M176,300.4l1.8-.9" stroke="#01f"/><path d="M177.8,299.5l1.7-.9" stroke="#10f"/><path d="M179.5,298.6l1.8-.8" stroke="#31e"/><path d="M181.3,297.8l1.8-.9" stroke="#41c"/><path d="M183.1,296.9l2.5-1" stroke="#40b"/><path d="M185.6,295.9l2.4-1.1" stroke="#50a"/><path d="M188,294.8l2.8-.7" stroke="#409"/><path d="M190.8,294.1l2.8-.7" stroke="#408"/><path d="M193.6,293.4l2.2-.2" stroke="#307"/><path d="M195.8,293.2l2.2-.1" stroke="#306"/><path d="M198,293.1l2.2,.1" stroke="#305"/><path d="M200.2,293.2l2.1,.2" stroke="#204"/><path d="M202.3,293.4l1.9,.5l1.8,.4" stroke="#203"/><path d="M206,294.3l1.7,.7" stroke="#202"/><path d="M207.7,295l1.6,.7l1.9,1.2" stroke="#102"/><path d="M211.2,296.9l1.8,1.3l1.7,1.6l1.7,1.5" stroke="#101"/><path d="M176,300.4l2.2,.7" stroke="#10f"/><path d="M178.2,301.1l2.3,.8" stroke="#31d"/><path d="M180.5,301.9l2.2,.7" stroke="#40b"/><path d="M182.7,302.6l2.1,.8" stroke="#50a"/><path d="M184.8,303.4l1.7,.9" stroke="#409"/><path d="M186.5,304.3l1.7,.9" stroke="#408"/><path d="M188.2,305.2l1.4,1.1" stroke="#307"/><path d="M189.6,306.3l1.4,1.1" stroke="#306"/><path d="M191,307.4l1.2,1.5" stroke="#305"/><path d="M192.2,308.9l1.1,1.4" stroke="#204"/><path d="M193.3,310.3l1,1.7l1,1.6" stroke="#203"/><path d="M195.3,313.6l1.6,2.2l1.6,2.2" stroke="#102"/><path d="M198.5,318l1.5,2.1l1.5,2.2" stroke="#101"/></g></g>
<use href="#rcbox_s" transform="translate(-8.69,758.56) scale(0.452)"/>
<g transform="translate(-8.69,758.56) scale(0.452)"><g stroke-width="2.4" stroke-linecap="round" stroke-linejoin="round" fill="none" stroke-opacity="0.85"><path d="M168.6,275.6l-2.3,.4" stroke="#fcb"/><path d="M166.3,276l-2.3,.3" stroke="#fca"/><path d="M164,276.3l-3,.3l-3,.2l-2.8,.3l-2.7,.2l-2.3,.6l-2.2,.6l-2.4,1.5l-2.4,1.5l-1.9,2l-1.8,2l-1.3,2.5l-1.2,2.5l-.3,2.3l-.3,2.2" stroke="#fba"/><path d="M136.4,295l.5,2" stroke="#fca"/><path d="M136.9,297l.6,2l1.7,1.4l1.8,1.4l2.5,.6" stroke="#fcb"/><path d="M143.5,302.4l2.5,.6" stroke="#fcc"/><path d="M146,303l3.5,.1l3.5,.1" stroke="#fdc"/><path d="M153,303.2l3.5-.2" stroke="#fdd"/><path d="M156.5,303l3.5-.2l3.5-.4" stroke="#fed"/><path d="M163.5,302.4l3.5-.4l2.5-.4l2.5-.4l2-.4l2-.4" stroke="#fee"/><path d="M176,300.4l1.8-.9l1.7-.9l1.8-.8l1.8-.9l2.5-1l2.4-1.1l2.8-.7l2.8-.7l2.2-.2l2.2-.1l2.2,.1l2.1,.2l1.9,.5l1.8,.4l1.7,.7l1.6,.7l1.9,1.2l1.8,1.3l1.7,1.6l1.7,1.5" stroke="#fff" stroke-width="1.6"/><path d="M176,300.4l2.2,.7l2.3,.8l2.2,.7l2.1,.8l1.7,.9l1.7,.9l1.4,1.1l1.4,1.1l1.2,1.5l1.1,1.4l1,1.7l1,1.6l1.6,2.2l1.6,2.2l1.5,2.1l1.5,2.2" stroke="#fff" stroke-width="1.6"/></g></g>
<use href="#rcbox_s" transform="translate(53.21,758.56) scale(0.452)"/>
<g transform="translate(53.21,758.56) scale(0.452)"><g stroke-width="2.4" stroke-linecap="round" stroke-linejoin="round" fill="none" stroke-opacity="0.85"><path d="M168.6,275.6l-2.3,.4l-2.3,.3l-3,.3" stroke="#fba"/><path d="M161,276.6l-3,.2" stroke="#fb9"/><path d="M158,276.8l-2.8,.3" stroke="#eb9"/><path d="M155.2,277.1l-2.7,.2l-2.3,.6l-2.2,.6l-2.4,1.5l-2.4,1.5l-1.9,2l-1.8,2l-1.3,2.5" stroke="#ea9"/><path d="M138.2,288l-1.2,2.5" stroke="#eb9"/><path d="M137,290.5l-.3,2.3" stroke="#fb9"/><path d="M136.7,292.8l-.3,2.2l.5,2l.6,2l1.7,1.4" stroke="#fba"/><path d="M139.2,300.4l1.8,1.4l2.5,.6l2.5,.6l3.5,.1" stroke="#fcb"/><path d="M149.5,303.1l3.5,.1l3.5-.2" stroke="#fdc"/><path d="M156.5,303l3.5-.2" stroke="#fdd"/><path d="M160,302.8l3.5-.4l3.5-.4" stroke="#fed"/><path d="M167,302l2.5-.4l2.5-.4l2-.4l2-.4" stroke="#fee"/><path d="M176,300.4l1.8-.9l1.7-.9l1.8-.8l1.8-.9l2.5-1l2.4-1.1l2.8-.7l2.8-.7l2.2-.2l2.2-.1l2.2,.1l2.1,.2l1.9,.5l1.8,.4l1.7,.7l1.6,.7l1.9,1.2l1.8,1.3l1.7,1.6l1.7,1.5" stroke="#fff" stroke-width="1.6"/><path d="M176,300.4l2.2,.7l2.3,.8l2.2,.7l2.1,.8l1.7,.9l1.7,.9l1.4,1.1l1.4,1.1l1.2,1.5l1.1,1.4l1,1.7l1,1.6l1.6,2.2l1.6,2.2l1.5,2.1l1.5,2.2" stroke="#fff" stroke-width="1.6"/></g></g>
<use href="#rcbox_s" transform="translate(115.11,758.56) scale(0.452)"/>
<g transform="translate(115.11,758.56) scale(0.452)"><g stroke-width="2.4" stroke-linecap="round" stroke-linejoin="round" fill="none" stroke-opacity="0.85"><path d="M168.6,275.6l-2.3,.4" stroke="#fb9"/><path d="M166.3,276l-2.3,.3" stroke="#eb9"/><path d="M164,276.3l-3,.3l-3,.2" stroke="#ea9"/><path d="M158,276.8l-2.8,.3l-2.7,.2l-2.3,.6l-2.2,.6l-2.4,1.5l-2.4,1.5l-1.9,2l-1.8,2l-1.3,2.5l-1.2,2.5" stroke="#ea8"/><path d="M137,290.5l-.3,2.3l-.3,2.2" stroke="#ea9"/><path d="M136.4,295l.5,2" stroke="#eb9"/><path d="M136.9,297l.6,2" stroke="#fb9"/><path d="M137.5,299l1.7,1.4l1.8,1.4l2.5,.6" stroke="#fba"/><path d="M143.5,302.4l2.5,.6" stroke="#fca"/><path d="M146,303l3.5,.1l3.5,.1" stroke="#fcb"/><path d="M153,303.2l3.5-.2" stroke="#fdc"/><path d="M156.5,303l3.5-.2l3.5-.4" stroke="#fdd"/><path d="M163.5,302.4l3.5-.4l2.5-.4" stroke="#fed"/><path d="M169.5,301.6l2.5-.4l2-.4l2-.4" stroke="#fee"/><path d="M176,300.4l1.8-.9l1.7-.9l1.8-.8l1.8-.9l2.5-1l2.4-1.1l2.8-.7l2.8-.7l2.2-.2l2.2-.1l2.2,.1l2.1,.2l1.9,.5l1.8,.4l1.7,.7l1.6,.7l1.9,1.2l1.8,1.3l1.7,1.6l1.7,1.5" stroke="#fff" stroke-width="1.6"/><path d="M176,300.4l2.2,.7l2.3,.8l2.2,.7l2.1,.8l1.7,.9l1.7,.9l1.4,1.1l1.4,1.1l1.2,1.5l1.1,1.4l1,1.7l1,1.6l1.6,2.2l1.6,2.2l1.5,2.1l1.5,2.2" stroke="#fff" stroke-width="1.6"/></g></g>
<use href="#rcbox_s" transform="translate(177.01,758.56) scale(0.452)"/>
<g transform="translate(177.01,758.56) scale(0.452)"><g stroke-width="2.4" stroke-linecap="round" stroke-linejoin="round" fill="none" stroke-opacity="0.85"><path d="M168.6,275.6l-2.3,.4" stroke="#ea9"/><path d="M166.3,276l-2.3,.3l-3,.3l-3,.2l-2.8,.3" stroke="#ea8"/><path d="M155.2,277.1l-2.7,.2l-2.3,.6l-2.2,.6l-2.4,1.5l-2.4,1.5l-1.9,2l-1.8,2l-1.3,2.5" stroke="#e97"/><path d="M138.2,288l-1.2,2.5l-.3,2.3l-.3,2.2l.5,2" stroke="#ea8"/><path d="M136.9,297l.6,2" stroke="#ea9"/><path d="M137.5,299l1.7,1.4" stroke="#eb9"/><path d="M139.2,300.4l1.8,1.4" stroke="#fb9"/><path d="M141,301.8l2.5,.6l2.5,.6" stroke="#fba"/><path d="M146,303l3.5,.1" stroke="#fca"/><path d="M149.5,303.1l3.5,.1" stroke="#fcb"/><path d="M153,303.2l3.5-.2" stroke="#fcc"/><path d="M156.5,303l3.5-.2" stroke="#fdc"/><path d="M160,302.8l3.5-.4l3.5-.4" stroke="#fdd"/><path d="M167,302l2.5-.4" stroke="#fed"/><path d="M169.5,301.6l2.5-.4l2-.4l2-.4" stroke="#fee"/><path d="M176,300.4l1.8-.9l1.7-.9l1.8-.8l1.8-.9l2.5-1l2.4-1.1l2.8-.7l2.8-.7l2.2-.2l2.2-.1l2.2,.1l2.1,.2l1.9,.5l1.8,.4l1.7,.7l1.6,.7l1.9,1.2l1.8,1.3l1.7,1.6l1.7,1.5" stroke="#fff" stroke-width="1.6"/><path d="M176,300.4l2.2,.7l2.3,.8l2.2,.7l2.1,.8l1.7,.9l1.7,.9l1.4,1.1l1.4,1.1l1.2,1.5l1.1,1.4l1,1.7l1,1.6l1.6,2.2l1.6,2.2l1.5,2.1l1.5,2.2" stroke="#fff" stroke-width="1.6"/></g></g>
<use href="#rcbox_s" transform="translate(238.91,758.56) scale(0.452)"/>
<g transform="translate(238.91,758.56) scale(0.452)"><g stroke-width="2.4" stroke-linecap="round" stroke-linejoin="round" fill="none" stroke-opacity="0.85"><path d="M168.6,275.6l-2.3,.4l-2.3,.3" stroke="#ea8"/><path d="M164,276.3l-3,.3l-3,.2l-2.8,.3l-2.7,.2" stroke="#e97"/><path d="M152.5,277.3l-2.3,.6l-2.2,.6l-2.4,1.5l-2.4,1.5l-1.9,2l-1.8,2" stroke="#e96"/><path d="M139.5,285.5l-1.3,2.5l-1.2,2.5l-.3,2.3l-.3,2.2" stroke="#e97"/><path d="M136.4,295l.5,2l.6,2l1.7,1.4" stroke="#ea8"/><path d="M139.2,300.4l1.8,1.4" stroke="#ea9"/><path d="M141,301.8l2.5,.6" stroke="#eb9"/><path d="M143.5,302.4l2.5,.6" stroke="#fb9"/><path d="M146,303l3.5,.1" stroke="#fba"/><path d="M149.5,303.1l3.5,.1l3.5-.2" stroke="#fcb"/><path d="M156.5,303l3.5-.2l3.5-.4" stroke="#fdc"/><path d="M163.5,302.4l3.5-.4" stroke="#fdd"/><path d="M167,302l2.5-.4l2.5-.4" stroke="#fed"/><path d="M172,301.2l2-.4l2-.4" stroke="#fee"/><path d="M176,300.4l1.8-.9l1.7-.9l1.8-.8l1.8-.9l2.5-1l2.4-1.1l2.8-.7l2.8-.7l2.2-.2l2.2-.1l2.2,.1l2.1,.2l1.9,.5l1.8,.4l1.7,.7l1.6,.7l1.9,1.2l1.8,1.3l1.7,1.6l1.7,1.5" stroke="#fff" stroke-width="1.6"/><path d="M176,300.4l2.2,.7l2.3,.8l2.2,.7l2.1,.8l1.7,.9l1.7,.9l1.4,1.1l1.4,1.1l1.2,1.5l1.1,1.4l1,1.7l1,1.6l1.6,2.2l1.6,2.2l1.5,2.1l1.5,2.2" stroke="#fff" stroke-width="1.6"/></g></g>
<use href="#rcbox_s" transform="translate(-8.69,811.46) scale(0.452)"/>
<g transform="translate(-8.69,811.46) scale(0.452)"><g stroke-width="2.4" stroke-linecap="round" stroke-linejoin="round" fill="none" stroke-opacity="0.85"><path d="M168.6,275.6l-2.3,.4l-2.3,.3l-3,.3l-3,.2" stroke="#0bf"/><path d="M158,276.8l-2.8,.3l-2.7,.2" stroke="#0cf"/><path d="M152.5,277.3l-2.3,.6l-2.2,.6l-2.4,1.5" stroke="#0bf"/><path d="M145.6,280l-2.4,1.5l-1.9,2l-1.8,2l-1.3,2.5" stroke="#0af"/><path d="M138.2,288l-1.2,2.5l-.3,2.3l-.3,2.2l.5,2l.6,2l1.7,1.4l1.8,1.4l2.5,.6l2.5,.6l3.5,.1" stroke="#09f"/><path d="M149.5,303.1l3.5,.1l3.5-.2l3.5-.2l3.5-.4" stroke="#08f"/><path d="M163.5,302.4l3.5-.4" stroke="#05f"/><path d="M167,302l2.5-.4" stroke="#02f"/><path d="M169.5,301.6l2.5-.4l2-.4l2-.4" stroke="#01f"/><path d="M176,300.4l1.8-.9" stroke="#06f"/><path d="M177.8,299.5l1.7-.9" stroke="#01f"/><path d="M179.5,298.6l1.8-.8" stroke="#10f"/><path d="M181.3,297.8l1.8-.9" stroke="#20e"/><path d="M183.1,296.9l2.5-1" stroke="#31d"/><path d="M185.6,295.9l2.4-1.1l2.8-.7" stroke="#41c"/><path d="M190.8,294.1l2.8-.7l2.2-.2" stroke="#40b"/><path d="M195.8,293.2l2.2-.1l2.2,.1" stroke="#50a"/><path d="M200.2,293.2l2.1,.2" stroke="#409"/><path d="M202.3,293.4l1.9,.5l1.8,.4" stroke="#408"/><path d="M206,294.3l1.7,.7" stroke="#307"/><path d="M207.7,295l1.6,.7" stroke="#305"/><path d="M209.3,295.7l1.9,1.2" stroke="#204"/><path d="M211.2,296.9l1.8,1.3l1.7,1.6" stroke="#203"/><path d="M214.7,299.8l1.7,1.5" stroke="#102"/><path d="M176,300.4l2.2,.7" stroke="#01f"/><path d="M178.2,301.1l2.3,.8" stroke="#10f"/><path d="M180.5,301.9l2.2,.7" stroke="#31e"/><path d="M182.7,302.6l2.1,.8" stroke="#41c"/><path d="M184.8,303.4l1.7,.9" stroke="#41b"/><path d="M186.5,304.3l1.7,.9" stroke="#40b"/><path d="M188.2,305.2l1.4,1.1" stroke="#50a"/><path d="M189.6,306.3l1.4,1.1" stroke="#409"/><path d="M191,307.4l1.2,1.5l1.1,1.4" stroke="#408"/><path d="M193.3,310.3l1,1.7" stroke="#307"/><path d="M194.3,312l1,1.6" stroke="#305"/><path d="M195.3,313.6l1.6,2.2" stroke="#204"/><path d="M196.9,315.8l1.6,2.2" stroke="#203"/><path d="M198.5,318l1.5,2.1l1.5,2.2" stroke="#102"/></g></g>
<use href="#rcbox_s" transform="translate(53.21,811.46) scale(0.452)"/>
<g transform="translate(53.21,811.46) scale(0.452)"><g stroke-width="2.4" stroke-linecap="round" stroke-linejoin="round" fill="none" stroke-opacity="0.85"><path d="M168.6,275.6l-2.3,.4l-2.3,.3" stroke="#0ef"/><path d="M164,276.3l-3,.3l-3,.2" stroke="#1ee"/><path d="M158,276.8l-2.8,.3l-2.7,.2l-2.3,.6l-2.2,.6" stroke="#2fd"/><path d="M148,278.5l-2.4,1.5" stroke="#1fd"/><path d="M145.6,280l-2.4,1.5l-1.9,2l-1.8,2" stroke="#1ee"/><path d="M139.5,285.5l-1.3,2.5" stroke="#0ef"/><path d="M138.2,288l-1.2,2.5l-.3,2.3" stroke="#0df"/><path d="M136.7,292.8l-.3,2.2l.5,2l.6,2" stroke="#0cf"/><path d="M137.5,299l1.7,1.4l1.8,1.4l2.5,.6" stroke="#0bf"/><path d="M143.5,302.4l2.5,.6l3.5,.1l3.5,.1l3.5-.2l3.5-.2l3.5-.4" stroke="#0af"/><path d="M163.5,302.4l3.5-.4l2.5-.4l2.5-.4" stroke="#09f"/><path d="M172,301.2l2-.4l2-.4" stroke="#08f"/><path d="M176,300.4l1.8-.9" stroke="#06f"/><path d="M177.8,299.5l1.7-.9" stroke="#01f"/><path d="M179.5,298.6l1.8-.8" stroke="#10f"/><path d="M181.3,297.8l1.8-.9" stroke="#20e"/><path d="M183.1,296.9l2.5-1" stroke="#31d"/><path d="M185.6,295.9l2.4-1.1l2.8-.7" stroke="#41c"/><path d="M190.8,294.1l2.8-.7l2.2-.2" stroke="#40b"/><path d="M195.8,293.2l2.2-.1l2.2,.1" stroke="#50a"/><path d="M200.2,293.2l2.1,.2" stroke="#409"/><path d="M202.3,293.4l1.9,.5l1.8,.4" stroke="#408"/><path d="M206,294.3l1.7,.7" stroke="#307"/><path d="M207.7,295l1.6,.7" stroke="#305"/><path d="M209.3,295.7l1.9,1.2" stroke="#204"/><path d="M211.2,296.9l1.8,1.3l1.7,1.6" stroke="#203"/><path d="M214.7,299.8l1.7,1.5" stroke="#102"/><path d="M176,300.4l2.2,.7" stroke="#01f"/><path d="M178.2,301.1l2.3,.8" stroke="#10f"/><path d="M180.5,301.9l2.2,.7" stroke="#31e"/><path d="M182.7,302.6l2.1,.8" stroke="#41c"/><path d="M184.8,303.4l1.7,.9" stroke="#41b"/><path d="M186.5,304.3l1.7,.9" stroke="#40b"/><path d="M188.2,305.2l1.4,1.1" stroke="#50a"/><path d="M189.6,306.3l1.4,1.1" stroke="#409"/><path d="M191,307.4l1.2,1.5l1.1,1.4" stroke="#408"/><path d="M193.3,310.3l1,1.7" stroke="#307"/><path d="M194.3,312l1,1.6" stroke="#305"/><path d="M195.3,313.6l1.6,2.2" stroke="#204"/><path d="M196.9,315.8l1.6,2.2" stroke="#203"/><path d="M198.5,318l1.5,2.1l1.5,2.2" stroke="#102"/></g></g>
<use href="#rcbox_s" transform="translate(115.11,811.46) scale(0.452)"/>
<g transform="translate(115.11,811.46) scale(0.452)"><g stroke-width="2.4" stroke-linecap="round" stroke-linejoin="round" fill="none" stroke-opacity="0.85"><path d="M168.6,275.6l-2.3,.4" stroke="#4fa"/><path d="M166.3,276l-2.3,.3" stroke="#4f9"/><path d="M164,276.3l-3,.3" stroke="#5f9"/><path d="M161,276.6l-3,.2" stroke="#6f8"/><path d="M158,276.8l-2.8,.3" stroke="#6f7"/><path d="M155.2,277.1l-2.7,.2l-2.3,.6" stroke="#7f7"/><path d="M150.2,277.9l-2.2,.6" stroke="#6f7"/><path d="M148,278.5l-2.4,1.5" stroke="#6f8"/><path d="M145.6,280l-2.4,1.5" stroke="#5f8"/><path d="M143.2,281.5l-1.9,2" stroke="#4f9"/><path d="M141.3,283.5l-1.8,2" stroke="#4fa"/><path d="M139.5,285.5l-1.3,2.5" stroke="#3fb"/><path d="M138.2,288l-1.2,2.5" stroke="#2fc"/><path d="M137,290.5l-.3,2.3" stroke="#2fd"/><path d="M136.7,292.8l-.3,2.2" stroke="#1ee"/><path d="M136.4,295l.5,2" stroke="#0ef"/><path d="M136.9,297l.6,2l1.7,1.4" stroke="#0df"/><path d="M139.2,300.4l1.8,1.4l2.5,.6l2.5,.6" stroke="#0cf"/><path d="M146,303l3.5,.1l3.5,.1l3.5-.2" stroke="#0bf"/><path d="M156.5,303l3.5-.2l3.5-.4l3.5-.4l2.5-.4" stroke="#0af"/><path d="M169.5,301.6l2.5-.4l2-.4l2-.4" stroke="#09f"/><path d="M176,300.4l1.8-.9" stroke="#06f"/><path d="M177.8,299.5l1.7-.9" stroke="#01f"/><path d="M179.5,298.6l1.8-.8" stroke="#10f"/><path d="M181.3,297.8l1.8-.9" stroke="#20e"/><path d="M183.1,296.9l2.5-1" stroke="#31d"/><path d="M185.6,295.9l2.4-1.1l2.8-.7" stroke="#41c"/><path d="M190.8,294.1l2.8-.7l2.2-.2" stroke="#40b"/><path d="M195.8,293.2l2.2-.1l2.2,.1" stroke="#50a"/><path d="M200.2,293.2l2.1,.2" stroke="#409"/><path d="M202.3,293.4l1.9,.5l1.8,.4" stroke="#408"/><path d="M206,294.3l1.7,.7" stroke="#307"/><path d="M207.7,295l1.6,.7" stroke="#305"/><path d="M209.3,295.7l1.9,1.2" stroke="#204"/><path d="M211.2,296.9l1.8,1.3l1.7,1.6" stroke="#203"/><path d="M214.7,299.8l1.7,1.5" stroke="#102"/><path d="M176,300.4l2.2,.7" stroke="#01f"/><path d="M178.2,301.1l2.3,.8" stroke="#10f"/><path d="M180.5,301.9l2.2,.7" stroke="#31e"/><path d="M182.7,302.6l2.1,.8" stroke="#41c"/><path d="M184.8,303.4l1.7,.9" stroke="#41b"/><path d="M186.5,304.3l1.7,.9" stroke="#40b"/><path d="M188.2,305.2l1.4,1.1" stroke="#50a"/><path d="M189.6,306.3l1.4,1.1" stroke="#409"/><path d="M191,307.4l1.2,1.5l1.1,1.4" stroke="#408"/><path d="M193.3,310.3l1,1.7" stroke="#307"/><path d="M194.3,312l1,1.6" stroke="#305"/><path d="M195.3,313.6l1.6,2.2" stroke="#204"/><path d="M196.9,315.8l1.6,2.2" stroke="#203"/><path d="M198.5,318l1.5,2.1l1.5,2.2" stroke="#102"/></g></g>
<use href="#rcbox_s" transform="translate(177.01,811.46) scale(0.452)"/>
<g transform="translate(177.01,811.46) scale(0.452)"><g stroke-width="2.4" stroke-linecap="round" stroke-linejoin="round" fill="none" stroke-opacity="0.85"><path d="M168.6,275.6l-2.3,.4" stroke="#9f5"/><path d="M166.3,276l-2.3,.3" stroke="#af4"/><path d="M164,276.3l-3,.3" stroke="#bf4"/><path d="M161,276.6l-3,.2" stroke="#cf3"/><path d="M158,276.8l-2.8,.3" stroke="#df2"/><path d="M155.2,277.1l-2.7,.2" stroke="#df1"/><path d="M152.5,277.3l-2.3,.6" stroke="#ef1"/><path d="M150.2,277.9l-2.2,.6l-2.4,1.5" stroke="#df2"/><path d="M145.6,280l-2.4,1.5" stroke="#cf3"/><path d="M143.2,281.5l-1.9,2" stroke="#af4"/><path d="M141.3,283.5l-1.8,2" stroke="#9f5"/><path d="M139.5,285.5l-1.3,2.5" stroke="#8f6"/><path d="M138.2,288l-1.2,2.5" stroke="#6f8"/><path d="M137,290.5l-.3,2.3" stroke="#4f9"/><path d="M136.7,292.8l-.3,2.2" stroke="#3fb"/><path d="M136.4,295l.5,2" stroke="#2fc"/><path d="M136.9,297l.6,2" stroke="#2fd"/><path d="M137.5,299l1.7,1.4l1.8,1.4" stroke="#1ee"/><path d="M141,301.8l2.5,.6" stroke="#0ef"/><path d="M143.5,302.4l2.5,.6l3.5,.1" stroke="#0df"/><path d="M149.5,303.1l3.5,.1l3.5-.2l3.5-.2" stroke="#0cf"/><path d="M160,302.8l3.5-.4l3.5-.4l2.5-.4" stroke="#0bf"/><path d="M169.5,301.6l2.5-.4l2-.4" stroke="#0af"/><path d="M174,300.8l2-.4" stroke="#09f"/><path d="M176,300.4l1.8-.9" stroke="#06f"/><path d="M177.8,299.5l1.7-.9" stroke="#01f"/><path d="M179.5,298.6l1.8-.8" stroke="#10f"/><path d="M181.3,297.8l1.8-.9" stroke="#20e"/><path d="M183.1,296.9l2.5-1" stroke="#31d"/><path d="M185.6,295.9l2.4-1.1l2.8-.7" stroke="#41c"/><path d="M190.8,294.1l2.8-.7l2.2-.2" stroke="#40b"/><path d="M195.8,293.2l2.2-.1l2.2,.1" stroke="#50a"/><path d="M200.2,293.2l2.1,.2" stroke="#409"/><path d="M202.3,293.4l1.9,.5l1.8,.4" stroke="#408"/><path d="M206,294.3l1.7,.7" stroke="#307"/><path d="M207.7,295l1.6,.7" stroke="#305"/><path d="M209.3,295.7l1.9,1.2" stroke="#204"/><path d="M211.2,296.9l1.8,1.3l1.7,1.6" stroke="#203"/><path d="M214.7,299.8l1.7,1.5" stroke="#102"/><path d="M176,300.4l2.2,.7" stroke="#01f"/><path d="M178.2,301.1l2.3,.8" stroke="#10f"/><path d="M180.5,301.9l2.2,.7" stroke="#31e"/><path d="M182.7,302.6l2.1,.8" stroke="#41c"/><path d="M184.8,303.4l1.7,.9" stroke="#41b"/><path d="M186.5,304.3l1.7,.9" stroke="#40b"/><path d="M188.2,305.2l1.4,1.1" stroke="#50a"/><path d="M189.6,306.3l1.4,1.1" stroke="#409"/><path d="M191,307.4l1.2,1.5l1.1,1.4" stroke="#408"/><path d="M193.3,310.3l1,1.7" stroke="#307"/><path d="M194.3,312l1,1.6" stroke="#305"/><path d="M195.3,313.6l1.6,2.2" stroke="#204"/><path d="M196.9,315.8l1.6,2.2" stroke="#203"/><path d="M198.5,318l1.5,2.1l1.5,2.2" stroke="#102"/></g></g>
<use href="#rcbox_s" transform="translate(238.91,811.46) scale(0.452)"/>
<g transform="translate(238.91,811.46) scale(0.452)"><g stroke-width="2.4" stroke-linecap="round" stroke-linejoin="round" fill="none" stroke-opacity="0.85"><path d="M168.6,275.6l-2.3,.4" stroke="#fe0"/><path d="M166.3,276l-2.3,.3" stroke="#fd0"/><path d="M164,276.3l-3,.3" stroke="#fc0"/><path d="M161,276.6l-3,.2" stroke="#fb0"/><path d="M158,276.8l-2.8,.3" stroke="#fa0"/><path d="M155.2,277.1l-2.7,.2l-2.3,.6" stroke="#f90"/><path d="M150.2,277.9l-2.2,.6l-2.4,1.5" stroke="#fa0"/><path d="M145.6,280l-2.4,1.5" stroke="#fb0"/><path d="M143.2,281.5l-1.9,2" stroke="#fd0"/><path d="M141.3,283.5l-1.8,2" stroke="#fe0"/><path d="M139.5,285.5l-1.3,2.5" stroke="#ef1"/><path d="M138.2,288l-1.2,2.5" stroke="#cf3"/><path d="M137,290.5l-.3,2.3" stroke="#9f5"/><path d="M136.7,292.8l-.3,2.2" stroke="#7f7"/><path d="M136.4,295l.5,2" stroke="#5f9"/><path d="M136.9,297l.6,2" stroke="#3fb"/><path d="M137.5,299l1.7,1.4" stroke="#2fc"/><path d="M139.2,300.4l1.8,1.4" stroke="#2fd"/><path d="M141,301.8l2.5,.6l2.5,.6" stroke="#1ee"/><path d="M146,303l3.5,.1" stroke="#0ef"/><path d="M149.5,303.1l3.5,.1l3.5-.2" stroke="#0df"/><path d="M156.5,303l3.5-.2l3.5-.4l3.5-.4" stroke="#0cf"/><path d="M167,302l2.5-.4l2.5-.4" stroke="#0bf"/><path d="M172,301.2l2-.4l2-.4" stroke="#0af"/><path d="M176,300.4l1.8-.9" stroke="#06f"/><path d="M177.8,299.5l1.7-.9" stroke="#01f"/><path d="M179.5,298.6l1.8-.8" stroke="#10f"/><path d="M181.3,297.8l1.8-.9" stroke="#20e"/><path d="M183.1,296.9l2.5-1" stroke="#31d"/><path d="M185.6,295.9l2.4-1.1l2.8-.7" stroke="#41c"/><path d="M190.8,294.1l2.8-.7l2.2-.2" stroke="#40b"/><path d="M195.8,293.2l2.2-.1l2.2,.1" stroke="#50a"/><path d="M200.2,293.2l2.1,.2" stroke="#409"/><path d="M202.3,293.4l1.9,.5l1.8,.4" stroke="#408"/><path d="M206,294.3l1.7,.7" stroke="#307"/><path d="M207.7,295l1.6,.7" stroke="#305"/><path d="M209.3,295.7l1.9,1.2" stroke="#204"/><path d="M211.2,296.9l1.8,1.3l1.7,1.6" stroke="#203"/><path d="M214.7,299.8l1.7,1.5" stroke="#102"/><path d="M176,300.4l2.2,.7" stroke="#01f"/><path d="M178.2,301.1l2.3,.8" stroke="#10f"/><path d="M180.5,301.9l2.2,.7" stroke="#31e"/><path d="M182.7,302.6l2.1,.8" stroke="#41c"/><path d="M184.8,303.4l1.7,.9" stroke="#41b"/><path d="M186.5,304.3l1.7,.9" stroke="#40b"/><path d="M188.2,305.2l1.4,1.1" stroke="#50a"/><path d="M189.6,306.3l1.4,1.1" stroke="#409"/><path d="M191,307.4l1.2,1.5l1.1,1.4" stroke="#408"/><path d="M193.3,310.3l1,1.7" stroke="#307"/><path d="M194.3,312l1,1.6" stroke="#305"/><path d="M195.3,313.6l1.6,2.2" stroke="#204"/><path d="M196.9,315.8l1.6,2.2" stroke="#203"/><path d="M198.5,318l1.5,2.1l1.5,2.2" stroke="#102"/></g></g>
<use href="#rcbox_s" transform="translate(13.01,857.96) scale(0.452)"/>
<g transform="translate(13.01,857.96) scale(0.452)"><g stroke-width="2.4" stroke-linecap="round" stroke-linejoin="round" fill="none" stroke-opacity="0.85"><path d="M168.6,275.6l-2.3,.4l-2.3,.3l-3,.3l-3,.2l-2.8,.3l-2.7,.2l-2.3,.6l-2.2,.6l-2.4,1.5l-2.4,1.5l-1.9,2l-1.8,2l-1.3,2.5l-1.2,2.5l-.3,2.3l-.3,2.2l.5,2l.6,2l1.7,1.4l1.8,1.4l2.5,.6l2.5,.6l3.5,.1l3.5,.1" stroke="#fee"/><path d="M153,303.2l3.5-.2" stroke="#ffe"/><path d="M156.5,303l3.5-.2" stroke="#ffe" stroke-width="1.6"/><path d="M160,302.8l3.5-.4l3.5-.4l2.5-.4l2.5-.4l2-.4l2-.4" stroke="#fff" stroke-width="1.6"/><path d="M176,300.4l1.8-.9l1.7-.9l1.8-.8l1.8-.9l2.5-1l2.4-1.1l2.8-.7l2.8-.7l2.2-.2l2.2-.1l2.2,.1l2.1,.2l1.9,.5l1.8,.4l1.7,.7l1.6,.7l1.9,1.2l1.8,1.3l1.7,1.6l1.7,1.5" stroke="#fff" stroke-width="1.6"/><path d="M176,300.4l2.2,.7l2.3,.8l2.2,.7l2.1,.8l1.7,.9l1.7,.9l1.4,1.1l1.4,1.1l1.2,1.5l1.1,1.4l1,1.7l1,1.6l1.6,2.2l1.6,2.2l1.5,2.1l1.5,2.2" stroke="#fff" stroke-width="1.6"/></g></g>
<use href="#rcbox_s" transform="translate(75.01,857.96) scale(0.452)"/>
<g transform="translate(75.01,857.96) scale(0.452)"><g stroke-width="2.4" stroke-linecap="round" stroke-linejoin="round" fill="none" stroke-opacity="0.85"><path d="M168.6,275.6l-2.3,.4l-2.3,.3l-3,.3l-3,.2" stroke="#fdc"/><path d="M158,276.8l-2.8,.3" stroke="#fcc"/><path d="M155.2,277.1l-2.7,.2l-2.3,.6l-2.2,.6l-2.4,1.5l-2.4,1.5l-1.9,2l-1.8,2l-1.3,2.5" stroke="#fcb"/><path d="M138.2,288l-1.2,2.5" stroke="#fcc"/><path d="M137,290.5l-.3,2.3l-.3,2.2l.5,2l.6,2l1.7,1.4l1.8,1.4" stroke="#fdc"/><path d="M141,301.8l2.5,.6l2.5,.6l3.5,.1" stroke="#fdd"/><path d="M149.5,303.1l3.5,.1l3.5-.2" stroke="#fed"/><path d="M156.5,303l3.5-.2l3.5-.4l3.5-.4l2.5-.4" stroke="#fee"/><path d="M169.5,301.6l2.5-.4" stroke="#ffe"/><path d="M172,301.2l2-.4" stroke="#ffe" stroke-width="1.6"/><path d="M174,300.8l2-.4" stroke="#fff" stroke-width="1.6"/><path d="M176,300.4l1.8-.9l1.7-.9l1.8-.8l1.8-.9l2.5-1l2.4-1.1l2.8-.7l2.8-.7l2.2-.2l2.2-.1l2.2,.1l2.1,.2l1.9,.5l1.8,.4l1.7,.7l1.6,.7l1.9,1.2l1.8,1.3l1.7,1.6l1.7,1.5" stroke="#fff" stroke-width="1.6"/><path d="M176,300.4l2.2,.7l2.3,.8l2.2,.7l2.1,.8l1.7,.9l1.7,.9l1.4,1.1l1.4,1.1l1.2,1.5l1.1,1.4l1,1.7l1,1.6l1.6,2.2l1.6,2.2l1.5,2.1l1.5,2.2" stroke="#fff" stroke-width="1.6"/></g></g>
<use href="#rcbox_s" transform="translate(137.01,857.96) scale(0.452)"/>
<g transform="translate(137.01,857.96) scale(0.452)"><g stroke-width="2.4" stroke-linecap="round" stroke-linejoin="round" fill="none" stroke-opacity="0.85"><path d="M168.6,275.6l-2.3,.4" stroke="#fca"/><path d="M166.3,276l-2.3,.3l-3,.3l-3,.2l-2.8,.3" stroke="#fba"/><path d="M155.2,277.1l-2.7,.2l-2.3,.6l-2.2,.6l-2.4,1.5l-2.4,1.5l-1.9,2l-1.8,2l-1.3,2.5" stroke="#fb9"/><path d="M138.2,288l-1.2,2.5l-.3,2.3l-.3,2.2l.5,2" stroke="#fba"/><path d="M136.9,297l.6,2" stroke="#fca"/><path d="M137.5,299l1.7,1.4l1.8,1.4l2.5,.6l2.5,.6" stroke="#fcb"/><path d="M146,303l3.5,.1" stroke="#fcc"/><path d="M149.5,303.1l3.5,.1" stroke="#fdc"/><path d="M153,303.2l3.5-.2l3.5-.2" stroke="#fdd"/><path d="M160,302.8l3.5-.4" stroke="#fed"/><path d="M163.5,302.4l3.5-.4l2.5-.4l2.5-.4l2-.4l2-.4" stroke="#fee"/><path d="M176,300.4l1.8-.9l1.7-.9l1.8-.8l1.8-.9l2.5-1l2.4-1.1l2.8-.7l2.8-.7l2.2-.2l2.2-.1l2.2,.1l2.1,.2l1.9,.5l1.8,.4l1.7,.7l1.6,.7l1.9,1.2l1.8,1.3l1.7,1.6l1.7,1.5" stroke="#fff" stroke-width="1.6"/><path d="M176,300.4l2.2,.7l2.3,.8l2.2,.7l2.1,.8l1.7,.9l1.7,.9l1.4,1.1l1.4,1.1l1.2,1.5l1.1,1.4l1,1.7l1,1.6l1.6,2.2l1.6,2.2l1.5,2.1l1.5,2.2" stroke="#fff" stroke-width="1.6"/></g></g>
<use href="#rcbox_s" transform="translate(199.01,857.96) scale(0.452)"/>
<g transform="translate(199.01,857.96) scale(0.452)"><g stroke-width="2.4" stroke-linecap="round" stroke-linejoin="round" fill="none" stroke-opacity="0.85"><path d="M168.6,275.6l-2.3,.4" stroke="#fb9"/><path d="M166.3,276l-2.3,.3" stroke="#eb9"/><path d="M164,276.3l-3,.3l-3,.2" stroke="#ea9"/><path d="M158,276.8l-2.8,.3l-2.7,.2l-2.3,.6l-2.2,.6l-2.4,1.5l-2.4,1.5l-1.9,2l-1.8,2l-1.3,2.5l-1.2,2.5" stroke="#ea8"/><path d="M137,290.5l-.3,2.3l-.3,2.2" stroke="#ea9"/><path d="M136.4,295l.5,2" stroke="#eb9"/><path d="M136.9,297l.6,2" stroke="#fb9"/><path d="M137.5,299l1.7,1.4l1.8,1.4l2.5,.6" stroke="#fba"/><path d="M143.5,302.4l2.5,.6" stroke="#fca"/><path d="M146,303l3.5,.1l3.5,.1" stroke="#fcb"/><path d="M153,303.2l3.5-.2l3.5-.2" stroke="#fdc"/><path d="M160,302.8l3.5-.4" stroke="#fdd"/><path d="M163.5,302.4l3.5-.4l2.5-.4" stroke="#fed"/><path d="M169.5,301.6l2.5-.4l2-.4l2-.4" stroke="#fee"/><path d="M176,300.4l1.8-.9l1.7-.9l1.8-.8l1.8-.9l2.5-1l2.4-1.1l2.8-.7l2.8-.7l2.2-.2l2.2-.1l2.2,.1l2.1,.2l1.9,.5l1.8,.4l1.7,.7l1.6,.7l1.9,1.2l1.8,1.3l1.7,1.6l1.7,1.5" stroke="#fff" stroke-width="1.6"/><path d="M176,300.4l2.2,.7l2.3,.8l2.2,.7l2.1,.8l1.7,.9l1.7,.9l1.4,1.1l1.4,1.1l1.2,1.5l1.1,1.4l1,1.7l1,1.6l1.6,2.2l1.6,2.2l1.5,2.1l1.5,2.2" stroke="#fff" stroke-width="1.6"/></g></g>
<use href="#lcbox_s" transform="translate(340.06,611.42) scale(0.43)"/>
<g transform="translate(340.06,611.42) scale(0.43)"><g stroke-width="2.3" stroke-linecap="round" stroke-linejoin="round" fill="none" stroke-opacity="0.9"><path d="M205.8,409.4l-1.7,1.4l-1.8,1.3l-3.5,1.7l-3.5,1.6l-4.4,1.6l-4.3,1.6l-4,1.2l-3.9,1.1" stroke="#fff" stroke-width="1.6"/><path d="M205.6,410.2l-2.3,2l-2.3,2l-3.5,2l-3.5,2l-4.5,1.9l-4.5,1.9l-3.7,1.3l-3.7,1.3" stroke="#fff" stroke-width="1.6"/><path d="M205.8,409.4l0,0l0,0l0,0l0,0l0,0l0,0l0,0l0,0" stroke="#fff" stroke-width="1.6"/><path d="M203.2,404.2l-2,2l-1.9,2.1l-2.9,1.6l-2.8,1.6l-3,1.2l-3.1,1.2l-3.6,1.2l-3.5,1.2" stroke="#fff" stroke-width="1.6"/><path d="M198.5,391.9l-1.6,2.2l-1.6,2.2l-2.1,3.1l-2.2,3l-2.7,2.6l-2.6,2.7l-2.6,1.7l-2.7,1.8" stroke="#fff" stroke-width="1.6"/><path d="M198.8,376.7l-2.6,3.2l-2.6,3.3l-2.7,3.5l-2.6,3.5l-2.6,3l-2.6,3.1l-3.1,3.5l-3.1,3.5" stroke="#fff" stroke-width="1.6"/><path d="M181.3,384.9l-2.6,2.2l-2.7,2.2l-2.6,2.7l-2.6,2.6l-2.6,3l-2.7,3.1l-1.7,2.3l-1.8,2.4l-.8,1.7l-.9,1.8" stroke="#fff" stroke-width="1.6"/><path d="M163.8,389l-3,1.9l-3.1,1.9l-2.6,2.7l-2.7,2.6l-1.7,2.6l-1.8,2.6l-.5,2.5l-.4,2.4" stroke="#fff" stroke-width="1.6"/><path d="M198.8,376.7l-3.5,1.5" stroke="#eb9"/><path d="M195.3,378.2l-3.5,1.5" stroke="#fb9"/><path d="M191.8,379.7l-3.5,1.7l-3.5,1.8l-2.2,.6" stroke="#fba"/><path d="M182.6,383.8l-2.2,.6" stroke="#fca"/><path d="M180.4,384.4l-3,.5l-3.1,.5l-3.5,1.2" stroke="#fcb"/><path d="M170.8,386.6l-3.5,1.3l-3.5,.5" stroke="#fdc"/><path d="M163.8,388.4l-3.5,.4" stroke="#fdd"/><path d="M160.3,388.8l-2.6,.4" stroke="#fed"/><path d="M157.7,389.2l-2.7,.5" stroke="#fee"/><path d="M155,389.7l-1.8,.7" stroke="#ffe"/><path d="M153.2,390.4l-1.7,.6l-2.2,1.8l-2.1,1.8l-1.4,2.6l-1.3,2.6l-.4,3.1l-.4,3.1l.9,3l.8,3l1.8,1.9l1.7,2l1.8,.9l1.7,.9" stroke="#fff" stroke-width="1.6"/><path d="M198.8,376.7l.4,2.3" stroke="#fba"/><path d="M199.2,379l.5,2.4l-.3,3.1" stroke="#fcb"/><path d="M199.4,384.5l-.2,3.1l-.2,2.6" stroke="#fdc"/><path d="M199,390.2l-.2,2.6" stroke="#fdd"/><path d="M198.8,392.8l.7,2.7l.7,2.6" stroke="#fed"/><path d="M200.2,398.1l1,2.1l1.1,2.2l1.4,2.2" stroke="#fee"/><path d="M203.7,404.6l1.3,2.2" stroke="#ffe" stroke-width="1.6"/><path d="M205,406.8l.4,1.3l.4,1.3" stroke="#fff" stroke-width="1.6"/><path d="M205,370.9l-1.5,1.3" stroke="#ea8"/><path d="M203.5,372.2l-1.5,1.4l-1.6,1.5l-1.6,1.6" stroke="#ea9"/></g></g>
<use href="#lcbox_s" transform="translate(401.66,611.42) scale(0.43)"/>
<g transform="translate(401.66,611.42) scale(0.43)"><g stroke-width="2.3" stroke-linecap="round" stroke-linejoin="round" fill="none" stroke-opacity="0.9"><path d="M205.8,409.4l-1.7,1.4l-1.8,1.3l-3.5,1.7l-3.5,1.6l-4.4,1.6l-4.3,1.6l-4,1.2l-3.9,1.1" stroke="#fff" stroke-width="1.6"/><path d="M205.6,410.2l-2.3,2l-2.3,2l-3.5,2l-3.5,2l-4.5,1.9l-4.5,1.9l-3.7,1.3l-3.7,1.3" stroke="#fff" stroke-width="1.6"/><path d="M205.8,409.4l0,0l0,0l0,0l0,0l0,0l0,0l0,0l0,0" stroke="#fff" stroke-width="1.6"/><path d="M203.2,404.2l-2,2l-1.9,2.1l-2.9,1.6l-2.8,1.6l-3,1.2l-3.1,1.2l-3.6,1.2l-3.5,1.2" stroke="#fff" stroke-width="1.6"/><path d="M198.5,391.9l-1.6,2.2l-1.6,2.2l-2.1,3.1l-2.2,3l-2.7,2.6l-2.6,2.7l-2.6,1.7l-2.7,1.8" stroke="#fff" stroke-width="1.6"/><path d="M198.8,376.7l-2.6,3.2l-2.6,3.3l-2.7,3.5l-2.6,3.5l-2.6,3l-2.6,3.1l-3.1,3.5l-3.1,3.5" stroke="#fff" stroke-width="1.6"/><path d="M181.3,384.9l-2.6,2.2l-2.7,2.2l-2.6,2.7l-2.6,2.6l-2.6,3l-2.7,3.1l-1.7,2.3l-1.8,2.4l-.8,1.7l-.9,1.8" stroke="#fff" stroke-width="1.6"/><path d="M163.8,389l-3,1.9l-3.1,1.9l-2.6,2.7l-2.7,2.6l-1.7,2.6l-1.8,2.6l-.5,2.5l-.4,2.4" stroke="#fff" stroke-width="1.6"/><path d="M198.8,376.7l-3.5,1.5l-3.5,1.5" stroke="#e86"/><path d="M191.8,379.7l-3.5,1.7l-3.5,1.8l-2.2,.6" stroke="#e97"/><path d="M182.6,383.8l-2.2,.6l-3,.5" stroke="#ea8"/><path d="M177.4,384.9l-3.1,.5" stroke="#ea9"/><path d="M174.3,385.4l-3.5,1.2" stroke="#eb9"/><path d="M170.8,386.6l-3.5,1.3" stroke="#fba"/><path d="M167.3,387.9l-3.5,.5l-3.5,.4" stroke="#fcb"/><path d="M160.3,388.8l-2.6,.4" stroke="#fdc"/><path d="M157.7,389.2l-2.7,.5" stroke="#fed"/><path d="M155,389.7l-1.8,.7" stroke="#fee"/><path d="M153.2,390.4l-1.7,.6" stroke="#ffe" stroke-width="1.6"/><path d="M151.5,391l-2.2,1.8l-2.1,1.8l-1.4,2.6l-1.3,2.6l-.4,3.1l-.4,3.1l.9,3l.8,3l1.8,1.9l1.7,2l1.8,.9l1.7,.9" stroke="#fff" stroke-width="1.6"/><path d="M198.8,376.7l.4,2.3l.5,2.4" stroke="#ea8"/><path d="M199.7,381.4l-.3,3.1" stroke="#fb9"/><path d="M199.4,384.5l-.2,3.1" stroke="#fba"/><path d="M199.2,387.6l-.2,2.6" stroke="#fcb"/><path d="M199,390.2l-.2,2.6" stroke="#fcc"/><path d="M198.8,392.8l.7,2.7" stroke="#fdc"/><path d="M199.5,395.5l.7,2.6l1,2.1" stroke="#fdd"/><path d="M201.2,400.2l1.1,2.2" stroke="#fed"/><path d="M202.3,402.4l1.4,2.2l1.3,2.2" stroke="#fee"/><path d="M205,406.8l.4,1.3" stroke="#ffe"/><path d="M205.4,408.1l.4,1.3" stroke="#fff" stroke-width="1.6"/><path d="M205,370.9l-1.5,1.3l-1.5,1.4l-1.6,1.5l-1.6,1.6" stroke="#e85"/></g></g>
<use href="#lcbox_s" transform="translate(463.26,611.42) scale(0.43)"/>
<g transform="translate(463.26,611.42) scale(0.43)"><g stroke-width="2.3" stroke-linecap="round" stroke-linejoin="round" fill="none" stroke-opacity="0.9"><path d="M205.8,409.4l-1.7,1.4l-1.8,1.3l-3.5,1.7l-3.5,1.6l-4.4,1.6l-4.3,1.6l-4,1.2l-3.9,1.1" stroke="#fff" stroke-width="1.6"/><path d="M205.6,410.2l-2.3,2l-2.3,2l-3.5,2l-3.5,2l-4.5,1.9l-4.5,1.9l-3.7,1.3l-3.7,1.3" stroke="#fff" stroke-width="1.6"/><path d="M205.8,409.4l0,0l0,0l0,0l0,0l0,0l0,0l0,0l0,0" stroke="#fff" stroke-width="1.6"/><path d="M203.2,404.2l-2,2l-1.9,2.1l-2.9,1.6l-2.8,1.6l-3,1.2l-3.1,1.2l-3.6,1.2l-3.5,1.2" stroke="#fff" stroke-width="1.6"/><path d="M198.5,391.9l-1.6,2.2l-1.6,2.2l-2.1,3.1l-2.2,3l-2.7,2.6l-2.6,2.7l-2.6,1.7l-2.7,1.8" stroke="#fff" stroke-width="1.6"/><path d="M198.8,376.7l-2.6,3.2l-2.6,3.3l-2.7,3.5l-2.6,3.5l-2.6,3l-2.6,3.1l-3.1,3.5l-3.1,3.5" stroke="#fff" stroke-width="1.6"/><path d="M181.3,384.9l-2.6,2.2l-2.7,2.2l-2.6,2.7l-2.6,2.6l-2.6,3l-2.7,3.1l-1.7,2.3l-1.8,2.4l-.8,1.7l-.9,1.8" stroke="#fff" stroke-width="1.6"/><path d="M163.8,389l-3,1.9l-3.1,1.9l-2.6,2.7l-2.7,2.6l-1.7,2.6l-1.8,2.6l-.5,2.5l-.4,2.4" stroke="#fff" stroke-width="1.6"/><path d="M198.8,376.7l-3.5,1.5" stroke="#e75"/><path d="M195.3,378.2l-3.5,1.5" stroke="#e85"/><path d="M191.8,379.7l-3.5,1.7l-3.5,1.8" stroke="#e86"/><path d="M184.8,383.2l-2.2,.6l-2.2,.6l-3,.5" stroke="#e97"/><path d="M177.4,384.9l-3.1,.5l-3.5,1.2" stroke="#ea8"/><path d="M170.8,386.6l-3.5,1.3" stroke="#eb9"/><path d="M167.3,387.9l-3.5,.5" stroke="#fba"/><path d="M163.8,388.4l-3.5,.4" stroke="#fcb"/><path d="M160.3,388.8l-2.6,.4" stroke="#fdc"/><path d="M157.7,389.2l-2.7,.5" stroke="#fdd"/><path d="M155,389.7l-1.8,.7" stroke="#fee"/><path d="M153.2,390.4l-1.7,.6" stroke="#ffe"/><path d="M151.5,391l-2.2,1.8l-2.1,1.8l-1.4,2.6l-1.3,2.6l-.4,3.1l-.4,3.1l.9,3l.8,3l1.8,1.9l1.7,2l1.8,.9l1.7,.9" stroke="#fff" stroke-width="1.6"/><path d="M198.8,376.7l.4,2.3" stroke="#e97"/><path d="M199.2,379l.5,2.4" stroke="#ea8"/><path d="M199.7,381.4l-.3,3.1" stroke="#ea9"/><path d="M199.4,384.5l-.2,3.1" stroke="#fb9"/><path d="M199.2,387.6l-.2,2.6" stroke="#fca"/><path d="M199,390.2l-.2,2.6" stroke="#fcb"/><path d="M198.8,392.8l.7,2.7l.7,2.6" stroke="#fdc"/><path d="M200.2,398.1l1,2.1" stroke="#fdd"/><path d="M201.2,400.2l1.1,2.2" stroke="#fed"/><path d="M202.3,402.4l1.4,2.2l1.3,2.2" stroke="#fee"/><path d="M205,406.8l.4,1.3" stroke="#ffe"/><path d="M205.4,408.1l.4,1.3" stroke="#fff" stroke-width="1.6"/><path d="M205,370.9l-1.5,1.3l-1.5,1.4l-1.6,1.5l-1.6,1.6" stroke="#e74"/></g></g>
<use href="#lcbox_s" transform="translate(524.86,611.42) scale(0.43)"/>
<g transform="translate(524.86,611.42) scale(0.43)"><g stroke-width="2.3" stroke-linecap="round" stroke-linejoin="round" fill="none" stroke-opacity="0.9"><path d="M205.8,409.4l-1.7,1.4l-1.8,1.3l-3.5,1.7l-3.5,1.6l-4.4,1.6l-4.3,1.6l-4,1.2l-3.9,1.1" stroke="#fff" stroke-width="1.6"/><path d="M205.6,410.2l-2.3,2l-2.3,2l-3.5,2l-3.5,2l-4.5,1.9l-4.5,1.9l-3.7,1.3l-3.7,1.3" stroke="#fff" stroke-width="1.6"/><path d="M205.8,409.4l0,0l0,0l0,0l0,0l0,0l0,0l0,0l0,0" stroke="#fff" stroke-width="1.6"/><path d="M203.2,404.2l-2,2l-1.9,2.1l-2.9,1.6l-2.8,1.6l-3,1.2l-3.1,1.2l-3.6,1.2l-3.5,1.2" stroke="#fff" stroke-width="1.6"/><path d="M198.5,391.9l-1.6,2.2l-1.6,2.2l-2.1,3.1l-2.2,3l-2.7,2.6l-2.6,2.7l-2.6,1.7l-2.7,1.8" stroke="#fff" stroke-width="1.6"/><path d="M198.8,376.7l-2.6,3.2l-2.6,3.3l-2.7,3.5l-2.6,3.5l-2.6,3l-2.6,3.1l-3.1,3.5l-3.1,3.5" stroke="#fff" stroke-width="1.6"/><path d="M181.3,384.9l-2.6,2.2l-2.7,2.2l-2.6,2.7l-2.6,2.6l-2.6,3l-2.7,3.1l-1.7,2.3l-1.8,2.4l-.8,1.7l-.9,1.8" stroke="#fff" stroke-width="1.6"/><path d="M163.8,389l-3,1.9l-3.1,1.9l-2.6,2.7l-2.7,2.6l-1.7,2.6l-1.8,2.6l-.5,2.5l-.4,2.4" stroke="#fff" stroke-width="1.6"/><path d="M198.8,376.7l-3.5,1.5l-3.5,1.5" stroke="#e74"/><path d="M191.8,379.7l-3.5,1.7" stroke="#e75"/><path d="M188.3,381.4l-3.5,1.8" stroke="#e85"/><path d="M184.8,383.2l-2.2,.6l-2.2,.6" stroke="#e86"/><path d="M180.4,384.4l-3,.5l-3.1,.5" stroke="#e97"/><path d="M174.3,385.4l-3.5,1.2" stroke="#ea8"/><path d="M170.8,386.6l-3.5,1.3" stroke="#ea9"/><path d="M167.3,387.9l-3.5,.5" stroke="#fb9"/><path d="M163.8,388.4l-3.5,.4" stroke="#fcb"/><path d="M160.3,388.8l-2.6,.4" stroke="#fcc"/><path d="M157.7,389.2l-2.7,.5" stroke="#fdd"/><path d="M155,389.7l-1.8,.7" stroke="#fee"/><path d="M153.2,390.4l-1.7,.6" stroke="#ffe"/><path d="M151.5,391l-2.2,1.8l-2.1,1.8l-1.4,2.6l-1.3,2.6l-.4,3.1l-.4,3.1l.9,3l.8,3l1.8,1.9l1.7,2l1.8,.9l1.7,.9" stroke="#fff" stroke-width="1.6"/><path d="M198.8,376.7l.4,2.3" stroke="#e86"/><path d="M199.2,379l.5,2.4" stroke="#e97"/><path d="M199.7,381.4l-.3,3.1" stroke="#ea8"/><path d="M199.4,384.5l-.2,3.1" stroke="#ea9"/><path d="M199.2,387.6l-.2,2.6" stroke="#fba"/><path d="M199,390.2l-.2,2.6l.7,2.7" stroke="#fcb"/><path d="M199.5,395.5l.7,2.6l1,2.1" stroke="#fdc"/><path d="M201.2,400.2l1.1,2.2" stroke="#fed"/><path d="M202.3,402.4l1.4,2.2l1.3,2.2l.4,1.3" stroke="#fee"/><path d="M205.4,408.1l.4,1.3" stroke="#ffe" stroke-width="1.6"/><path d="M205,370.9l-1.5,1.3l-1.5,1.4l-1.6,1.5" stroke="#e64"/><path d="M200.4,375.1l-1.6,1.6" stroke="#e74"/></g></g>
<use href="#lcbox_s" transform="translate(314.86,665.72) scale(0.43)"/>
<g transform="translate(314.86,665.72) scale(0.43)"><g stroke-width="2.3" stroke-linecap="round" stroke-linejoin="round" fill="none" stroke-opacity="0.9"><path d="M205.8,409.4l-1.7,1.4l-1.8,1.3" stroke="#102"/><path d="M202.3,412.1l-3.5,1.7l-3.5,1.6l-4.4,1.6l-4.3,1.6l-4,1.2l-3.9,1.1" stroke="#101"/><path d="M205.6,410.2l-2.3,2l-2.3,2" stroke="#102"/><path d="M201,414.2l-3.5,2l-3.5,2l-4.5,1.9l-4.5,1.9l-3.7,1.3l-3.7,1.3" stroke="#101"/><path d="M205.8,409.4l0,0l0,0" stroke="#102"/><path d="M205.8,409.4l0,0l0,0l0,0l0,0l0,0l0,0" stroke="#101"/><path d="M203.2,404.2l-2,2" stroke="#202"/><path d="M201.2,406.2l-1.9,2.1l-2.9,1.6" stroke="#102"/><path d="M196.4,409.9l-2.8,1.6l-3,1.2l-3.1,1.2l-3.6,1.2l-3.5,1.2" stroke="#101"/><path d="M198.5,391.9l-1.6,2.2" stroke="#202"/><path d="M196.9,394.1l-1.6,2.2l-2.1,3.1" stroke="#102"/><path d="M193.2,399.4l-2.2,3l-2.7,2.6l-2.6,2.7l-2.6,1.7l-2.7,1.8" stroke="#101"/><path d="M198.8,376.7l-2.6,3.2" stroke="#203"/><path d="M196.2,379.9l-2.6,3.3l-2.7,3.5" stroke="#102"/><path d="M190.9,386.7l-2.6,3.5l-2.6,3l-2.6,3.1l-3.1,3.5l-3.1,3.5" stroke="#101"/><path d="M181.3,384.9l-2.6,2.2" stroke="#203"/><path d="M178.7,387.1l-2.7,2.2l-2.6,2.7" stroke="#102"/><path d="M173.4,392l-2.6,2.6l-2.6,3l-2.7,3.1l-1.7,2.3l-1.8,2.4l-.8,1.7l-.9,1.8" stroke="#101"/><path d="M163.8,389l-3,1.9" stroke="#202"/><path d="M160.8,390.9l-3.1,1.9l-2.6,2.7" stroke="#102"/><path d="M155.1,395.5l-2.7,2.6l-1.7,2.6l-1.8,2.6l-.5,2.5l-.4,2.4" stroke="#101"/><path d="M198.8,376.7l-3.5,1.5" stroke="#08f"/><path d="M195.3,378.2l-3.5,1.5l-3.5,1.7l-3.5,1.8l-2.2,.6" stroke="#09f"/><path d="M182.6,383.8l-2.2,.6l-3,.5" stroke="#08f"/><path d="M177.4,384.9l-3.1,.5" stroke="#01f"/><path d="M174.3,385.4l-3.5,1.2" stroke="#20e"/><path d="M170.8,386.6l-3.5,1.3" stroke="#50a"/><path d="M167.3,387.9l-3.5,.5" stroke="#407"/><path d="M163.8,388.4l-3.5,.4" stroke="#204"/><path d="M160.3,388.8l-2.6,.4" stroke="#203"/><path d="M157.7,389.2l-2.7,.5" stroke="#102"/><path d="M155,389.7l-1.8,.7" stroke="#202"/><path d="M153.2,390.4l-1.7,.6l-2.2,1.8" stroke="#305"/><path d="M149.3,392.8l-2.1,1.8" stroke="#204"/><path d="M147.2,394.6l-1.4,2.6l-1.3,2.6" stroke="#203"/><path d="M144.5,399.8l-.4,3.1" stroke="#202"/><path d="M144.1,402.9l-.4,3.1l.9,3" stroke="#102"/><path d="M144.6,409l.8,3l1.8,1.9l1.7,2l1.8,.9l1.7,.9" stroke="#101"/><path d="M198.8,376.7l.4,2.3l.5,2.4l-.3,3.1" stroke="#0af"/><path d="M199.4,384.5l-.2,3.1l-.2,2.6l-.2,2.6" stroke="#09f"/><path d="M198.8,392.8l.7,2.7" stroke="#08f"/><path d="M199.5,395.5l.7,2.6" stroke="#07f"/><path d="M200.2,398.1l1,2.1" stroke="#10f"/><path d="M201.2,400.2l1.1,2.2" stroke="#41d"/><path d="M202.3,402.4l1.4,2.2" stroke="#50a"/><path d="M203.7,404.6l1.3,2.2" stroke="#408"/><path d="M205,406.8l.4,1.3" stroke="#407"/><path d="M205.4,408.1l.4,1.3" stroke="#306"/><path d="M205,370.9l-1.5,1.3" stroke="#09f"/><path d="M203.5,372.2l-1.5,1.4" stroke="#0af"/><path d="M202,373.6l-1.6,1.5" stroke="#0cf"/><path d="M200.4,375.1l-1.6,1.6" stroke="#0df"/></g></g>
<use href="#lcbox_s" transform="translate(377.96,665.72) scale(0.43)"/>
<g transform="translate(377.96,665.72) scale(0.43)"><g stroke-width="2.3" stroke-linecap="round" stroke-linejoin="round" fill="none" stroke-opacity="0.9"><path d="M205.8,409.4l-1.7,1.4l-1.8,1.3" stroke="#102"/><path d="M202.3,412.1l-3.5,1.7l-3.5,1.6l-4.4,1.6l-4.3,1.6l-4,1.2l-3.9,1.1" stroke="#101"/><path d="M205.6,410.2l-2.3,2l-2.3,2" stroke="#102"/><path d="M201,414.2l-3.5,2l-3.5,2l-4.5,1.9l-4.5,1.9l-3.7,1.3l-3.7,1.3" stroke="#101"/><path d="M205.8,409.4l0,0l0,0" stroke="#102"/><path d="M205.8,409.4l0,0l0,0l0,0l0,0l0,0l0,0" stroke="#101"/><path d="M203.2,404.2l-2,2" stroke="#202"/><path d="M201.2,406.2l-1.9,2.1l-2.9,1.6" stroke="#102"/><path d="M196.4,409.9l-2.8,1.6l-3,1.2l-3.1,1.2l-3.6,1.2l-3.5,1.2" stroke="#101"/><path d="M198.5,391.9l-1.6,2.2" stroke="#202"/><path d="M196.9,394.1l-1.6,2.2l-2.1,3.1" stroke="#102"/><path d="M193.2,399.4l-2.2,3l-2.7,2.6l-2.6,2.7l-2.6,1.7l-2.7,1.8" stroke="#101"/><path d="M198.8,376.7l-2.6,3.2" stroke="#203"/><path d="M196.2,379.9l-2.6,3.3l-2.7,3.5" stroke="#102"/><path d="M190.9,386.7l-2.6,3.5l-2.6,3l-2.6,3.1l-3.1,3.5l-3.1,3.5" stroke="#101"/><path d="M181.3,384.9l-2.6,2.2" stroke="#203"/><path d="M178.7,387.1l-2.7,2.2l-2.6,2.7" stroke="#102"/><path d="M173.4,392l-2.6,2.6l-2.6,3l-2.7,3.1l-1.7,2.3l-1.8,2.4l-.8,1.7l-.9,1.8" stroke="#101"/><path d="M163.8,389l-3,1.9" stroke="#202"/><path d="M160.8,390.9l-3.1,1.9l-2.6,2.7" stroke="#102"/><path d="M155.1,395.5l-2.7,2.6l-1.7,2.6l-1.8,2.6l-.5,2.5l-.4,2.4" stroke="#101"/><path d="M198.8,376.7l-3.5,1.5l-3.5,1.5" stroke="#0af"/><path d="M191.8,379.7l-3.5,1.7" stroke="#0bf"/><path d="M188.3,381.4l-3.5,1.8l-2.2,.6l-2.2,.6" stroke="#0af"/><path d="M180.4,384.4l-3,.5l-3.1,.5" stroke="#09f"/><path d="M174.3,385.4l-3.5,1.2" stroke="#08f"/><path d="M170.8,386.6l-3.5,1.3" stroke="#10f"/><path d="M167.3,387.9l-3.5,.5" stroke="#40b"/><path d="M163.8,388.4l-3.5,.4" stroke="#407"/><path d="M160.3,388.8l-2.6,.4" stroke="#204"/><path d="M157.7,389.2l-2.7,.5l-1.8,.7" stroke="#203"/><path d="M153.2,390.4l-1.7,.6l-2.2,1.8" stroke="#305"/><path d="M149.3,392.8l-2.1,1.8" stroke="#204"/><path d="M147.2,394.6l-1.4,2.6l-1.3,2.6" stroke="#203"/><path d="M144.5,399.8l-.4,3.1" stroke="#202"/><path d="M144.1,402.9l-.4,3.1l.9,3" stroke="#102"/><path d="M144.6,409l.8,3l1.8,1.9l1.7,2l1.8,.9l1.7,.9" stroke="#101"/><path d="M198.8,376.7l.4,2.3l.5,2.4l-.3,3.1" stroke="#0af"/><path d="M199.4,384.5l-.2,3.1l-.2,2.6l-.2,2.6" stroke="#09f"/><path d="M198.8,392.8l.7,2.7" stroke="#08f"/><path d="M199.5,395.5l.7,2.6" stroke="#07f"/><path d="M200.2,398.1l1,2.1" stroke="#10f"/><path d="M201.2,400.2l1.1,2.2" stroke="#41d"/><path d="M202.3,402.4l1.4,2.2" stroke="#50a"/><path d="M203.7,404.6l1.3,2.2" stroke="#408"/><path d="M205,406.8l.4,1.3" stroke="#407"/><path d="M205.4,408.1l.4,1.3" stroke="#306"/><path d="M205,370.9l-1.5,1.3" stroke="#09f"/><path d="M203.5,372.2l-1.5,1.4" stroke="#0af"/><path d="M202,373.6l-1.6,1.5" stroke="#0cf"/><path d="M200.4,375.1l-1.6,1.6" stroke="#0df"/></g></g>
<use href="#lcbox_s" transform="translate(441.06,665.72) scale(0.43)"/>
<g transform="translate(441.06,665.72) scale(0.43)"><g stroke-width="2.3" stroke-linecap="round" stroke-linejoin="round" fill="none" stroke-opacity="0.9"><path d="M205.8,409.4l-1.7,1.4l-1.8,1.3" stroke="#102"/><path d="M202.3,412.1l-3.5,1.7l-3.5,1.6l-4.4,1.6l-4.3,1.6l-4,1.2l-3.9,1.1" stroke="#101"/><path d="M205.6,410.2l-2.3,2l-2.3,2" stroke="#102"/><path d="M201,414.2l-3.5,2l-3.5,2l-4.5,1.9l-4.5,1.9l-3.7,1.3l-3.7,1.3" stroke="#101"/><path d="M205.8,409.4l0,0l0,0" stroke="#102"/><path d="M205.8,409.4l0,0l0,0l0,0l0,0l0,0l0,0" stroke="#101"/><path d="M203.2,404.2l-2,2" stroke="#202"/><path d="M201.2,406.2l-1.9,2.1l-2.9,1.6" stroke="#102"/><path d="M196.4,409.9l-2.8,1.6l-3,1.2l-3.1,1.2l-3.6,1.2l-3.5,1.2" stroke="#101"/><path d="M198.5,391.9l-1.6,2.2" stroke="#202"/><path d="M196.9,394.1l-1.6,2.2l-2.1,3.1" stroke="#102"/><path d="M193.2,399.4l-2.2,3l-2.7,2.6l-2.6,2.7l-2.6,1.7l-2.7,1.8" stroke="#101"/><path d="M198.8,376.7l-2.6,3.2" stroke="#203"/><path d="M196.2,379.9l-2.6,3.3l-2.7,3.5" stroke="#102"/><path d="M190.9,386.7l-2.6,3.5l-2.6,3l-2.6,3.1l-3.1,3.5l-3.1,3.5" stroke="#101"/><path d="M181.3,384.9l-2.6,2.2" stroke="#203"/><path d="M178.7,387.1l-2.7,2.2l-2.6,2.7" stroke="#102"/><path d="M173.4,392l-2.6,2.6l-2.6,3l-2.7,3.1l-1.7,2.3l-1.8,2.4l-.8,1.7l-.9,1.8" stroke="#101"/><path d="M163.8,389l-3,1.9" stroke="#202"/><path d="M160.8,390.9l-3.1,1.9l-2.6,2.7" stroke="#102"/><path d="M155.1,395.5l-2.7,2.6l-1.7,2.6l-1.8,2.6l-.5,2.5l-.4,2.4" stroke="#101"/><path d="M198.8,376.7l-3.5,1.5" stroke="#0df"/><path d="M195.3,378.2l-3.5,1.5" stroke="#0ef"/><path d="M191.8,379.7l-3.5,1.7" stroke="#1ee"/><path d="M188.3,381.4l-3.5,1.8" stroke="#0ee"/><path d="M184.8,383.2l-2.2,.6" stroke="#0ef"/><path d="M182.6,383.8l-2.2,.6" stroke="#0df"/><path d="M180.4,384.4l-3,.5" stroke="#0cf"/><path d="M177.4,384.9l-3.1,.5" stroke="#0bf"/><path d="M174.3,385.4l-3.5,1.2" stroke="#0af"/><path d="M170.8,386.6l-3.5,1.3" stroke="#09f"/><path d="M167.3,387.9l-3.5,.5" stroke="#03f"/><path d="M163.8,388.4l-3.5,.4" stroke="#41d"/><path d="M160.3,388.8l-2.6,.4" stroke="#408"/><path d="M157.7,389.2l-2.7,.5" stroke="#204"/><path d="M155,389.7l-1.8,.7" stroke="#203"/><path d="M153.2,390.4l-1.7,.6l-2.2,1.8" stroke="#305"/><path d="M149.3,392.8l-2.1,1.8" stroke="#204"/><path d="M147.2,394.6l-1.4,2.6l-1.3,2.6" stroke="#203"/><path d="M144.5,399.8l-.4,3.1" stroke="#202"/><path d="M144.1,402.9l-.4,3.1l.9,3" stroke="#102"/><path d="M144.6,409l.8,3l1.8,1.9l1.7,2l1.8,.9l1.7,.9" stroke="#101"/><path d="M198.8,376.7l.4,2.3l.5,2.4l-.3,3.1" stroke="#0af"/><path d="M199.4,384.5l-.2,3.1l-.2,2.6l-.2,2.6" stroke="#09f"/><path d="M198.8,392.8l.7,2.7" stroke="#08f"/><path d="M199.5,395.5l.7,2.6" stroke="#07f"/><path d="M200.2,398.1l1,2.1" stroke="#10f"/><path d="M201.2,400.2l1.1,2.2" stroke="#41d"/><path d="M202.3,402.4l1.4,2.2" stroke="#50a"/><path d="M203.7,404.6l1.3,2.2" stroke="#408"/><path d="M205,406.8l.4,1.3" stroke="#407"/><path d="M205.4,408.1l.4,1.3" stroke="#306"/><path d="M205,370.9l-1.5,1.3" stroke="#09f"/><path d="M203.5,372.2l-1.5,1.4" stroke="#0af"/><path d="M202,373.6l-1.6,1.5" stroke="#0cf"/><path d="M200.4,375.1l-1.6,1.6" stroke="#0ef"/></g></g>
<use href="#lcbox_s" transform="translate(504.16,665.72) scale(0.43)"/>
<g transform="translate(504.16,665.72) scale(0.43)"><g stroke-width="2.3" stroke-linecap="round" stroke-linejoin="round" fill="none" stroke-opacity="0.9"><path d="M205.8,409.4l-1.7,1.4l-1.8,1.3" stroke="#102"/><path d="M202.3,412.1l-3.5,1.7l-3.5,1.6l-4.4,1.6l-4.3,1.6l-4,1.2l-3.9,1.1" stroke="#101"/><path d="M205.6,410.2l-2.3,2l-2.3,2" stroke="#102"/><path d="M201,414.2l-3.5,2l-3.5,2l-4.5,1.9l-4.5,1.9l-3.7,1.3l-3.7,1.3" stroke="#101"/><path d="M205.8,409.4l0,0l0,0" stroke="#102"/><path d="M205.8,409.4l0,0l0,0l0,0l0,0l0,0l0,0" stroke="#101"/><path d="M203.2,404.2l-2,2" stroke="#202"/><path d="M201.2,406.2l-1.9,2.1l-2.9,1.6" stroke="#102"/><path d="M196.4,409.9l-2.8,1.6l-3,1.2l-3.1,1.2l-3.6,1.2l-3.5,1.2" stroke="#101"/><path d="M198.5,391.9l-1.6,2.2" stroke="#202"/><path d="M196.9,394.1l-1.6,2.2l-2.1,3.1" stroke="#102"/><path d="M193.2,399.4l-2.2,3l-2.7,2.6l-2.6,2.7l-2.6,1.7l-2.7,1.8" stroke="#101"/><path d="M198.8,376.7l-2.6,3.2" stroke="#203"/><path d="M196.2,379.9l-2.6,3.3l-2.7,3.5" stroke="#102"/><path d="M190.9,386.7l-2.6,3.5l-2.6,3l-2.6,3.1l-3.1,3.5l-3.1,3.5" stroke="#101"/><path d="M181.3,384.9l-2.6,2.2" stroke="#203"/><path d="M178.7,387.1l-2.7,2.2l-2.6,2.7" stroke="#102"/><path d="M173.4,392l-2.6,2.6l-2.6,3l-2.7,3.1l-1.7,2.3l-1.8,2.4l-.8,1.7l-.9,1.8" stroke="#101"/><path d="M163.8,389l-3,1.9" stroke="#202"/><path d="M160.8,390.9l-3.1,1.9l-2.6,2.7" stroke="#102"/><path d="M155.1,395.5l-2.7,2.6l-1.7,2.6l-1.8,2.6l-.5,2.5l-.4,2.4" stroke="#101"/><path d="M198.8,376.7l-3.5,1.5" stroke="#0ef"/><path d="M195.3,378.2l-3.5,1.5" stroke="#1fd"/><path d="M191.8,379.7l-3.5,1.7l-3.5,1.8" stroke="#2fd"/><path d="M184.8,383.2l-2.2,.6" stroke="#1fd"/><path d="M182.6,383.8l-2.2,.6" stroke="#1ee"/><path d="M180.4,384.4l-3,.5" stroke="#0df"/><path d="M177.4,384.9l-3.1,.5" stroke="#0cf"/><path d="M174.3,385.4l-3.5,1.2" stroke="#0bf"/><path d="M170.8,386.6l-3.5,1.3" stroke="#09f"/><path d="M167.3,387.9l-3.5,.5" stroke="#08f"/><path d="M163.8,388.4l-3.5,.4" stroke="#10f"/><path d="M160.3,388.8l-2.6,.4" stroke="#50a"/><path d="M157.7,389.2l-2.7,.5" stroke="#305"/><path d="M155,389.7l-1.8,.7" stroke="#204"/><path d="M153.2,390.4l-1.7,.6l-2.2,1.8" stroke="#305"/><path d="M149.3,392.8l-2.1,1.8" stroke="#204"/><path d="M147.2,394.6l-1.4,2.6l-1.3,2.6" stroke="#203"/><path d="M144.5,399.8l-.4,3.1" stroke="#202"/><path d="M144.1,402.9l-.4,3.1l.9,3" stroke="#102"/><path d="M144.6,409l.8,3l1.8,1.9l1.7,2l1.8,.9l1.7,.9" stroke="#101"/><path d="M198.8,376.7l.4,2.3l.5,2.4l-.3,3.1" stroke="#0af"/><path d="M199.4,384.5l-.2,3.1l-.2,2.6l-.2,2.6" stroke="#09f"/><path d="M198.8,392.8l.7,2.7" stroke="#08f"/><path d="M199.5,395.5l.7,2.6" stroke="#07f"/><path d="M200.2,398.1l1,2.1" stroke="#10f"/><path d="M201.2,400.2l1.1,2.2" stroke="#41d"/><path d="M202.3,402.4l1.4,2.2" stroke="#50a"/><path d="M203.7,404.6l1.3,2.2" stroke="#408"/><path d="M205,406.8l.4,1.3" stroke="#407"/><path d="M205.4,408.1l.4,1.3" stroke="#306"/><path d="M205,370.9l-1.5,1.3" stroke="#0af"/><path d="M203.5,372.2l-1.5,1.4" stroke="#0cf"/><path d="M202,373.6l-1.6,1.5" stroke="#0df"/><path d="M200.4,375.1l-1.6,1.6" stroke="#1ee"/></g></g>
<use href="#lcbox_s" transform="translate(567.26,665.72) scale(0.43)"/>
<g transform="translate(567.26,665.72) scale(0.43)"><g stroke-width="2.3" stroke-linecap="round" stroke-linejoin="round" fill="none" stroke-opacity="0.9"><path d="M205.8,409.4l-1.7,1.4l-1.8,1.3" stroke="#102"/><path d="M202.3,412.1l-3.5,1.7l-3.5,1.6l-4.4,1.6l-4.3,1.6l-4,1.2l-3.9,1.1" stroke="#101"/><path d="M205.6,410.2l-2.3,2l-2.3,2" stroke="#102"/><path d="M201,414.2l-3.5,2l-3.5,2l-4.5,1.9l-4.5,1.9l-3.7,1.3l-3.7,1.3" stroke="#101"/><path d="M205.8,409.4l0,0l0,0" stroke="#102"/><path d="M205.8,409.4l0,0l0,0l0,0l0,0l0,0l0,0" stroke="#101"/><path d="M203.2,404.2l-2,2" stroke="#202"/><path d="M201.2,406.2l-1.9,2.1l-2.9,1.6" stroke="#102"/><path d="M196.4,409.9l-2.8,1.6l-3,1.2l-3.1,1.2l-3.6,1.2l-3.5,1.2" stroke="#101"/><path d="M198.5,391.9l-1.6,2.2" stroke="#202"/><path d="M196.9,394.1l-1.6,2.2l-2.1,3.1" stroke="#102"/><path d="M193.2,399.4l-2.2,3l-2.7,2.6l-2.6,2.7l-2.6,1.7l-2.7,1.8" stroke="#101"/><path d="M198.8,376.7l-2.6,3.2" stroke="#203"/><path d="M196.2,379.9l-2.6,3.3l-2.7,3.5" stroke="#102"/><path d="M190.9,386.7l-2.6,3.5l-2.6,3l-2.6,3.1l-3.1,3.5l-3.1,3.5" stroke="#101"/><path d="M181.3,384.9l-2.6,2.2" stroke="#203"/><path d="M178.7,387.1l-2.7,2.2l-2.6,2.7" stroke="#102"/><path d="M173.4,392l-2.6,2.6l-2.6,3l-2.7,3.1l-1.7,2.3l-1.8,2.4l-.8,1.7l-.9,1.8" stroke="#101"/><path d="M163.8,389l-3,1.9" stroke="#202"/><path d="M160.8,390.9l-3.1,1.9l-2.6,2.7" stroke="#102"/><path d="M155.1,395.5l-2.7,2.6l-1.7,2.6l-1.8,2.6l-.5,2.5l-.4,2.4" stroke="#101"/><path d="M198.8,376.7l-3.5,1.5" stroke="#3fb"/><path d="M195.3,378.2l-3.5,1.5" stroke="#5f9"/><path d="M191.8,379.7l-3.5,1.7" stroke="#6f8"/><path d="M188.3,381.4l-3.5,1.8" stroke="#5f8"/><path d="M184.8,383.2l-2.2,.6" stroke="#4f9"/><path d="M182.6,383.8l-2.2,.6" stroke="#3fa"/><path d="M180.4,384.4l-3,.5" stroke="#2fc"/><path d="M177.4,384.9l-3.1,.5" stroke="#1fd"/><path d="M174.3,385.4l-3.5,1.2" stroke="#0df"/><path d="M170.8,386.6l-3.5,1.3" stroke="#0bf"/><path d="M167.3,387.9l-3.5,.5" stroke="#0af"/><path d="M163.8,388.4l-3.5,.4" stroke="#08f"/><path d="M160.3,388.8l-2.6,.4" stroke="#10f"/><path d="M157.7,389.2l-2.7,.5" stroke="#409"/><path d="M155,389.7l-1.8,.7l-1.7,.6" stroke="#306"/><path d="M151.5,391l-2.2,1.8" stroke="#305"/><path d="M149.3,392.8l-2.1,1.8" stroke="#204"/><path d="M147.2,394.6l-1.4,2.6l-1.3,2.6" stroke="#203"/><path d="M144.5,399.8l-.4,3.1" stroke="#202"/><path d="M144.1,402.9l-.4,3.1l.9,3" stroke="#102"/><path d="M144.6,409l.8,3l1.8,1.9l1.7,2l1.8,.9l1.7,.9" stroke="#101"/><path d="M198.8,376.7l.4,2.3l.5,2.4l-.3,3.1" stroke="#0af"/><path d="M199.4,384.5l-.2,3.1l-.2,2.6l-.2,2.6" stroke="#09f"/><path d="M198.8,392.8l.7,2.7" stroke="#08f"/><path d="M199.5,395.5l.7,2.6" stroke="#07f"/><path d="M200.2,398.1l1,2.1" stroke="#10f"/><path d="M201.2,400.2l1.1,2.2" stroke="#41d"/><path d="M202.3,402.4l1.4,2.2" stroke="#50a"/><path d="M203.7,404.6l1.3,2.2" stroke="#408"/><path d="M205,406.8l.4,1.3" stroke="#407"/><path d="M205.4,408.1l.4,1.3" stroke="#306"/><path d="M205,370.9l-1.5,1.3" stroke="#0cf"/><path d="M203.5,372.2l-1.5,1.4" stroke="#1ee"/><path d="M202,373.6l-1.6,1.5" stroke="#3fc"/><path d="M200.4,375.1l-1.6,1.6" stroke="#4f9"/></g></g>
<use href="#lcbox_s" transform="translate(314.86,718.52) scale(0.43)"/>
<g transform="translate(314.86,718.52) scale(0.43)"><g stroke-width="2.3" stroke-linecap="round" stroke-linejoin="round" fill="none" stroke-opacity="0.9"><path d="M205.8,409.4l-1.7,1.4l-1.8,1.3l-3.5,1.7l-3.5,1.6l-4.4,1.6l-4.3,1.6l-4,1.2l-3.9,1.1" stroke="#fff" stroke-width="1.6"/><path d="M205.6,410.2l-2.3,2l-2.3,2l-3.5,2l-3.5,2l-4.5,1.9l-4.5,1.9l-3.7,1.3l-3.7,1.3" stroke="#fff" stroke-width="1.6"/><path d="M205.8,409.4l0,0l0,0l0,0l0,0l0,0l0,0l0,0l0,0" stroke="#fff" stroke-width="1.6"/><path d="M203.2,404.2l-2,2l-1.9,2.1l-2.9,1.6l-2.8,1.6l-3,1.2l-3.1,1.2l-3.6,1.2l-3.5,1.2" stroke="#fff" stroke-width="1.6"/><path d="M198.5,391.9l-1.6,2.2l-1.6,2.2l-2.1,3.1l-2.2,3l-2.7,2.6l-2.6,2.7l-2.6,1.7l-2.7,1.8" stroke="#fff" stroke-width="1.6"/><path d="M198.8,376.7l-2.6,3.2l-2.6,3.3l-2.7,3.5l-2.6,3.5l-2.6,3l-2.6,3.1l-3.1,3.5l-3.1,3.5" stroke="#fff" stroke-width="1.6"/><path d="M181.3,384.9l-2.6,2.2l-2.7,2.2l-2.6,2.7l-2.6,2.6l-2.6,3l-2.7,3.1l-1.7,2.3l-1.8,2.4l-.8,1.7l-.9,1.8" stroke="#fff" stroke-width="1.6"/><path d="M163.8,389l-3,1.9l-3.1,1.9l-2.6,2.7l-2.7,2.6l-1.7,2.6l-1.8,2.6l-.5,2.5l-.4,2.4" stroke="#fff" stroke-width="1.6"/><path d="M198.8,376.7l-3.5,1.5l-3.5,1.5" stroke="#ea8"/><path d="M191.8,379.7l-3.5,1.7l-3.5,1.8" stroke="#ea9"/><path d="M184.8,383.2l-2.2,.6l-2.2,.6" stroke="#fb9"/><path d="M180.4,384.4l-3,.5l-3.1,.5" stroke="#fba"/><path d="M174.3,385.4l-3.5,1.2l-3.5,1.3" stroke="#fcb"/><path d="M167.3,387.9l-3.5,.5" stroke="#fcc"/><path d="M163.8,388.4l-3.5,.4" stroke="#fdc"/><path d="M160.3,388.8l-2.6,.4" stroke="#fdd"/><path d="M157.7,389.2l-2.7,.5l-1.8,.7" stroke="#fee"/><path d="M153.2,390.4l-1.7,.6l-2.2,1.8l-2.1,1.8l-1.4,2.6l-1.3,2.6l-.4,3.1l-.4,3.1l.9,3l.8,3l1.8,1.9l1.7,2l1.8,.9l1.7,.9" stroke="#fff" stroke-width="1.6"/><path d="M198.8,376.7l.4,2.3" stroke="#fb9"/><path d="M199.2,379l.5,2.4" stroke="#fba"/><path d="M199.7,381.4l-.3,3.1l-.2,3.1" stroke="#fcb"/><path d="M199.2,387.6l-.2,2.6l-.2,2.6" stroke="#fdc"/><path d="M198.8,392.8l.7,2.7" stroke="#fdd"/><path d="M199.5,395.5l.7,2.6l1,2.1" stroke="#fed"/><path d="M201.2,400.2l1.1,2.2l1.4,2.2" stroke="#fee"/><path d="M203.7,404.6l1.3,2.2" stroke="#ffe"/><path d="M205,406.8l.4,1.3l.4,1.3" stroke="#fff" stroke-width="1.6"/><path d="M205,370.9l-1.5,1.3l-1.5,1.4" stroke="#e97"/><path d="M202,373.6l-1.6,1.5" stroke="#e98"/><path d="M200.4,375.1l-1.6,1.6" stroke="#ea8"/></g></g>
<use href="#lcbox_s" transform="translate(377.96,718.52) scale(0.43)"/>
<g transform="translate(377.96,718.52) scale(0.43)"><g stroke-width="2.3" stroke-linecap="round" stroke-linejoin="round" fill="none" stroke-opacity="0.9"><path d="M205.8,409.4l-1.7,1.4l-1.8,1.3l-3.5,1.7l-3.5,1.6l-4.4,1.6l-4.3,1.6l-4,1.2l-3.9,1.1" stroke="#fff" stroke-width="1.6"/><path d="M205.6,410.2l-2.3,2l-2.3,2l-3.5,2l-3.5,2l-4.5,1.9l-4.5,1.9l-3.7,1.3l-3.7,1.3" stroke="#fff" stroke-width="1.6"/><path d="M205.8,409.4l0,0l0,0l0,0l0,0l0,0l0,0l0,0l0,0" stroke="#fff" stroke-width="1.6"/><path d="M203.2,404.2l-2,2l-1.9,2.1l-2.9,1.6l-2.8,1.6l-3,1.2l-3.1,1.2l-3.6,1.2l-3.5,1.2" stroke="#fff" stroke-width="1.6"/><path d="M198.5,391.9l-1.6,2.2l-1.6,2.2l-2.1,3.1l-2.2,3l-2.7,2.6l-2.6,2.7l-2.6,1.7l-2.7,1.8" stroke="#fff" stroke-width="1.6"/><path d="M198.8,376.7l-2.6,3.2l-2.6,3.3l-2.7,3.5l-2.6,3.5l-2.6,3l-2.6,3.1l-3.1,3.5l-3.1,3.5" stroke="#fff" stroke-width="1.6"/><path d="M181.3,384.9l-2.6,2.2l-2.7,2.2l-2.6,2.7l-2.6,2.6l-2.6,3l-2.7,3.1l-1.7,2.3l-1.8,2.4l-.8,1.7l-.9,1.8" stroke="#fff" stroke-width="1.6"/><path d="M163.8,389l-3,1.9l-3.1,1.9l-2.6,2.7l-2.7,2.6l-1.7,2.6l-1.8,2.6l-.5,2.5l-.4,2.4" stroke="#fff" stroke-width="1.6"/><path d="M198.8,376.7l-3.5,1.5l-3.5,1.5" stroke="#e97"/><path d="M191.8,379.7l-3.5,1.7" stroke="#e98"/><path d="M188.3,381.4l-3.5,1.8l-2.2,.6" stroke="#ea8"/><path d="M182.6,383.8l-2.2,.6" stroke="#ea9"/><path d="M180.4,384.4l-3,.5" stroke="#eb9"/><path d="M177.4,384.9l-3.1,.5" stroke="#fb9"/><path d="M174.3,385.4l-3.5,1.2" stroke="#fba"/><path d="M170.8,386.6l-3.5,1.3" stroke="#fca"/><path d="M167.3,387.9l-3.5,.5" stroke="#fcb"/><path d="M163.8,388.4l-3.5,.4" stroke="#fdc"/><path d="M160.3,388.8l-2.6,.4" stroke="#fdd"/><path d="M157.7,389.2l-2.7,.5" stroke="#fed"/><path d="M155,389.7l-1.8,.7" stroke="#fee"/><path d="M153.2,390.4l-1.7,.6l-2.2,1.8l-2.1,1.8l-1.4,2.6l-1.3,2.6l-.4,3.1l-.4,3.1l.9,3l.8,3l1.8,1.9l1.7,2l1.8,.9l1.7,.9" stroke="#fff" stroke-width="1.6"/><path d="M198.8,376.7l.4,2.3" stroke="#ea8"/><path d="M199.2,379l.5,2.4" stroke="#fb9"/><path d="M199.7,381.4l-.3,3.1" stroke="#fba"/><path d="M199.4,384.5l-.2,3.1l-.2,2.6" stroke="#fcb"/><path d="M199,390.2l-.2,2.6l.7,2.7" stroke="#fdc"/><path d="M199.5,395.5l.7,2.6" stroke="#fdd"/><path d="M200.2,398.1l1,2.1" stroke="#fed"/><path d="M201.2,400.2l1.1,2.2l1.4,2.2l1.3,2.2" stroke="#fee"/><path d="M205,406.8l.4,1.3" stroke="#ffe" stroke-width="1.6"/><path d="M205.4,408.1l.4,1.3" stroke="#fff" stroke-width="1.6"/><path d="M205,370.9l-1.5,1.3" stroke="#e86"/><path d="M203.5,372.2l-1.5,1.4l-1.6,1.5" stroke="#e96"/><path d="M200.4,375.1l-1.6,1.6" stroke="#e97"/></g></g>
<use href="#lcbox_s" transform="translate(441.06,718.52) scale(0.43)"/>
<g transform="translate(441.06,718.52) scale(0.43)"><g stroke-width="2.3" stroke-linecap="round" stroke-linejoin="round" fill="none" stroke-opacity="0.9"><path d="M205.8,409.4l-1.7,1.4l-1.8,1.3l-3.5,1.7l-3.5,1.6l-4.4,1.6l-4.3,1.6l-4,1.2l-3.9,1.1" stroke="#fff" stroke-width="1.6"/><path d="M205.6,410.2l-2.3,2l-2.3,2l-3.5,2l-3.5,2l-4.5,1.9l-4.5,1.9l-3.7,1.3l-3.7,1.3" stroke="#fff" stroke-width="1.6"/><path d="M205.8,409.4l0,0l0,0l0,0l0,0l0,0l0,0l0,0l0,0" stroke="#fff" stroke-width="1.6"/><path d="M203.2,404.2l-2,2l-1.9,2.1l-2.9,1.6l-2.8,1.6l-3,1.2l-3.1,1.2l-3.6,1.2l-3.5,1.2" stroke="#fff" stroke-width="1.6"/><path d="M198.5,391.9l-1.6,2.2l-1.6,2.2l-2.1,3.1l-2.2,3l-2.7,2.6l-2.6,2.7l-2.6,1.7l-2.7,1.8" stroke="#fff" stroke-width="1.6"/><path d="M198.8,376.7l-2.6,3.2l-2.6,3.3l-2.7,3.5l-2.6,3.5l-2.6,3l-2.6,3.1l-3.1,3.5l-3.1,3.5" stroke="#fff" stroke-width="1.6"/><path d="M181.3,384.9l-2.6,2.2l-2.7,2.2l-2.6,2.7l-2.6,2.6l-2.6,3l-2.7,3.1l-1.7,2.3l-1.8,2.4l-.8,1.7l-.9,1.8" stroke="#fff" stroke-width="1.6"/><path d="M163.8,389l-3,1.9l-3.1,1.9l-2.6,2.7l-2.7,2.6l-1.7,2.6l-1.8,2.6l-.5,2.5l-.4,2.4" stroke="#fff" stroke-width="1.6"/><path d="M198.8,376.7l-3.5,1.5l-3.5,1.5" stroke="#e86"/><path d="M191.8,379.7l-3.5,1.7l-3.5,1.8l-2.2,.6" stroke="#e97"/><path d="M182.6,383.8l-2.2,.6l-3,.5" stroke="#ea8"/><path d="M177.4,384.9l-3.1,.5" stroke="#ea9"/><path d="M174.3,385.4l-3.5,1.2" stroke="#eb9"/><path d="M170.8,386.6l-3.5,1.3" stroke="#fba"/><path d="M167.3,387.9l-3.5,.5l-3.5,.4" stroke="#fcb"/><path d="M160.3,388.8l-2.6,.4" stroke="#fdc"/><path d="M157.7,389.2l-2.7,.5" stroke="#fed"/><path d="M155,389.7l-1.8,.7" stroke="#fee"/><path d="M153.2,390.4l-1.7,.6" stroke="#ffe" stroke-width="1.6"/><path d="M151.5,391l-2.2,1.8l-2.1,1.8l-1.4,2.6l-1.3,2.6l-.4,3.1l-.4,3.1l.9,3l.8,3l1.8,1.9l1.7,2l1.8,.9l1.7,.9" stroke="#fff" stroke-width="1.6"/><path d="M198.8,376.7l.4,2.3l.5,2.4" stroke="#ea8"/><path d="M199.7,381.4l-.3,3.1" stroke="#fb9"/><path d="M199.4,384.5l-.2,3.1" stroke="#fba"/><path d="M199.2,387.6l-.2,2.6" stroke="#fcb"/><path d="M199,390.2l-.2,2.6" stroke="#fcc"/><path d="M198.8,392.8l.7,2.7" stroke="#fdc"/><path d="M199.5,395.5l.7,2.6l1,2.1" stroke="#fdd"/><path d="M201.2,400.2l1.1,2.2" stroke="#fed"/><path d="M202.3,402.4l1.4,2.2l1.3,2.2" stroke="#fee"/><path d="M205,406.8l.4,1.3" stroke="#ffe"/><path d="M205.4,408.1l.4,1.3" stroke="#fff" stroke-width="1.6"/><path d="M205,370.9l-1.5,1.3l-1.5,1.4l-1.6,1.5l-1.6,1.6" stroke="#e85"/></g></g>
<use href="#lcbox_s" transform="translate(504.16,718.52) scale(0.43)"/>
<g transform="translate(504.16,718.52) scale(0.43)"><g stroke-width="2.3" stroke-linecap="round" stroke-linejoin="round" fill="none" stroke-opacity="0.9"><path d="M205.8,409.4l-1.7,1.4l-1.8,1.3l-3.5,1.7l-3.5,1.6l-4.4,1.6l-4.3,1.6l-4,1.2l-3.9,1.1" stroke="#fff" stroke-width="1.6"/><path d="M205.6,410.2l-2.3,2l-2.3,2l-3.5,2l-3.5,2l-4.5,1.9l-4.5,1.9l-3.7,1.3l-3.7,1.3" stroke="#fff" stroke-width="1.6"/><path d="M205.8,409.4l0,0l0,0l0,0l0,0l0,0l0,0l0,0l0,0" stroke="#fff" stroke-width="1.6"/><path d="M203.2,404.2l-2,2l-1.9,2.1l-2.9,1.6l-2.8,1.6l-3,1.2l-3.1,1.2l-3.6,1.2l-3.5,1.2" stroke="#fff" stroke-width="1.6"/><path d="M198.5,391.9l-1.6,2.2l-1.6,2.2l-2.1,3.1l-2.2,3l-2.7,2.6l-2.6,2.7l-2.6,1.7l-2.7,1.8" stroke="#fff" stroke-width="1.6"/><path d="M198.8,376.7l-2.6,3.2l-2.6,3.3l-2.7,3.5l-2.6,3.5l-2.6,3l-2.6,3.1l-3.1,3.5l-3.1,3.5" stroke="#fff" stroke-width="1.6"/><path d="M181.3,384.9l-2.6,2.2l-2.7,2.2l-2.6,2.7l-2.6,2.6l-2.6,3l-2.7,3.1l-1.7,2.3l-1.8,2.4l-.8,1.7l-.9,1.8" stroke="#fff" stroke-width="1.6"/><path d="M163.8,389l-3,1.9l-3.1,1.9l-2.6,2.7l-2.7,2.6l-1.7,2.6l-1.8,2.6l-.5,2.5l-.4,2.4" stroke="#fff" stroke-width="1.6"/><path d="M198.8,376.7l-3.5,1.5" stroke="#e75"/><path d="M195.3,378.2l-3.5,1.5" stroke="#e85"/><path d="M191.8,379.7l-3.5,1.7l-3.5,1.8" stroke="#e86"/><path d="M184.8,383.2l-2.2,.6l-2.2,.6l-3,.5" stroke="#e97"/><path d="M177.4,384.9l-3.1,.5l-3.5,1.2" stroke="#ea8"/><path d="M170.8,386.6l-3.5,1.3" stroke="#eb9"/><path d="M167.3,387.9l-3.5,.5" stroke="#fba"/><path d="M163.8,388.4l-3.5,.4" stroke="#fcb"/><path d="M160.3,388.8l-2.6,.4" stroke="#fdc"/><path d="M157.7,389.2l-2.7,.5" stroke="#fdd"/><path d="M155,389.7l-1.8,.7" stroke="#fee"/><path d="M153.2,390.4l-1.7,.6" stroke="#ffe"/><path d="M151.5,391l-2.2,1.8l-2.1,1.8l-1.4,2.6l-1.3,2.6l-.4,3.1l-.4,3.1l.9,3l.8,3l1.8,1.9l1.7,2l1.8,.9l1.7,.9" stroke="#fff" stroke-width="1.6"/><path d="M198.8,376.7l.4,2.3" stroke="#e97"/><path d="M199.2,379l.5,2.4" stroke="#ea8"/><path d="M199.7,381.4l-.3,3.1" stroke="#ea9"/><path d="M199.4,384.5l-.2,3.1" stroke="#fb9"/><path d="M199.2,387.6l-.2,2.6" stroke="#fca"/><path d="M199,390.2l-.2,2.6" stroke="#fcb"/><path d="M198.8,392.8l.7,2.7l.7,2.6" stroke="#fdc"/><path d="M200.2,398.1l1,2.1" stroke="#fdd"/><path d="M201.2,400.2l1.1,2.2" stroke="#fed"/><path d="M202.3,402.4l1.4,2.2l1.3,2.2" stroke="#fee"/><path d="M205,406.8l.4,1.3" stroke="#ffe"/><path d="M205.4,408.1l.4,1.3" stroke="#fff" stroke-width="1.6"/><path d="M205,370.9l-1.5,1.3l-1.5,1.4l-1.6,1.5l-1.6,1.6" stroke="#e74"/></g></g>
<use href="#lcbox_s" transform="translate(567.26,718.52) scale(0.43)"/>
<g transform="translate(567.26,718.52) scale(0.43)"><g stroke-width="2.3" stroke-linecap="round" stroke-linejoin="round" fill="none" stroke-opacity="0.9"><path d="M205.8,409.4l-1.7,1.4l-1.8,1.3l-3.5,1.7l-3.5,1.6l-4.4,1.6l-4.3,1.6l-4,1.2l-3.9,1.1" stroke="#fff" stroke-width="1.6"/><path d="M205.6,410.2l-2.3,2l-2.3,2l-3.5,2l-3.5,2l-4.5,1.9l-4.5,1.9l-3.7,1.3l-3.7,1.3" stroke="#fff" stroke-width="1.6"/><path d="M205.8,409.4l0,0l0,0l0,0l0,0l0,0l0,0l0,0l0,0" stroke="#fff" stroke-width="1.6"/><path d="M203.2,404.2l-2,2l-1.9,2.1l-2.9,1.6l-2.8,1.6l-3,1.2l-3.1,1.2l-3.6,1.2l-3.5,1.2" stroke="#fff" stroke-width="1.6"/><path d="M198.5,391.9l-1.6,2.2l-1.6,2.2l-2.1,3.1l-2.2,3l-2.7,2.6l-2.6,2.7l-2.6,1.7l-2.7,1.8" stroke="#fff" stroke-width="1.6"/><path d="M198.8,376.7l-2.6,3.2l-2.6,3.3l-2.7,3.5l-2.6,3.5l-2.6,3l-2.6,3.1l-3.1,3.5l-3.1,3.5" stroke="#fff" stroke-width="1.6"/><path d="M181.3,384.9l-2.6,2.2l-2.7,2.2l-2.6,2.7l-2.6,2.6l-2.6,3l-2.7,3.1l-1.7,2.3l-1.8,2.4l-.8,1.7l-.9,1.8" stroke="#fff" stroke-width="1.6"/><path d="M163.8,389l-3,1.9l-3.1,1.9l-2.6,2.7l-2.7,2.6l-1.7,2.6l-1.8,2.6l-.5,2.5l-.4,2.4" stroke="#fff" stroke-width="1.6"/><path d="M198.8,376.7l-3.5,1.5l-3.5,1.5" stroke="#e74"/><path d="M191.8,379.7l-3.5,1.7" stroke="#e75"/><path d="M188.3,381.4l-3.5,1.8" stroke="#e85"/><path d="M184.8,383.2l-2.2,.6l-2.2,.6" stroke="#e86"/><path d="M180.4,384.4l-3,.5l-3.1,.5" stroke="#e97"/><path d="M174.3,385.4l-3.5,1.2" stroke="#ea8"/><path d="M170.8,386.6l-3.5,1.3" stroke="#ea9"/><path d="M167.3,387.9l-3.5,.5" stroke="#fb9"/><path d="M163.8,388.4l-3.5,.4" stroke="#fcb"/><path d="M160.3,388.8l-2.6,.4" stroke="#fcc"/><path d="M157.7,389.2l-2.7,.5" stroke="#fdd"/><path d="M155,389.7l-1.8,.7" stroke="#fee"/><path d="M153.2,390.4l-1.7,.6" stroke="#ffe"/><path d="M151.5,391l-2.2,1.8l-2.1,1.8l-1.4,2.6l-1.3,2.6l-.4,3.1l-.4,3.1l.9,3l.8,3l1.8,1.9l1.7,2l1.8,.9l1.7,.9" stroke="#fff" stroke-width="1.6"/><path d="M198.8,376.7l.4,2.3" stroke="#e86"/><path d="M199.2,379l.5,2.4" stroke="#e97"/><path d="M199.7,381.4l-.3,3.1" stroke="#ea8"/><path d="M199.4,384.5l-.2,3.1" stroke="#ea9"/><path d="M199.2,387.6l-.2,2.6" stroke="#fba"/><path d="M199,390.2l-.2,2.6l.7,2.7" stroke="#fcb"/><path d="M199.5,395.5l.7,2.6l1,2.1" stroke="#fdc"/><path d="M201.2,400.2l1.1,2.2" stroke="#fed"/><path d="M202.3,402.4l1.4,2.2l1.3,2.2l.4,1.3" stroke="#fee"/><path d="M205.4,408.1l.4,1.3" stroke="#ffe" stroke-width="1.6"/><path d="M205,370.9l-1.5,1.3l-1.5,1.4l-1.6,1.5" stroke="#e64"/><path d="M200.4,375.1l-1.6,1.6" stroke="#e74"/></g></g>
<use href="#lcbox_s" transform="translate(314.86,768.42) scale(0.43)"/>
<g transform="translate(314.86,768.42) scale(0.43)"><g stroke-width="2.3" stroke-linecap="round" stroke-linejoin="round" fill="none" stroke-opacity="0.9"><path d="M205.8,409.4l-1.7,1.4l-1.8,1.3" stroke="#102"/><path d="M202.3,412.1l-3.5,1.7l-3.5,1.6l-4.4,1.6l-4.3,1.6l-4,1.2l-3.9,1.1" stroke="#101"/><path d="M205.6,410.2l-2.3,2l-2.3,2" stroke="#102"/><path d="M201,414.2l-3.5,2l-3.5,2l-4.5,1.9l-4.5,1.9l-3.7,1.3l-3.7,1.3" stroke="#101"/><path d="M205.8,409.4l0,0l0,0" stroke="#102"/><path d="M205.8,409.4l0,0l0,0l0,0l0,0l0,0l0,0" stroke="#101"/><path d="M203.2,404.2l-2,2" stroke="#202"/><path d="M201.2,406.2l-1.9,2.1l-2.9,1.6" stroke="#102"/><path d="M196.4,409.9l-2.8,1.6l-3,1.2l-3.1,1.2l-3.6,1.2l-3.5,1.2" stroke="#101"/><path d="M198.5,391.9l-1.6,2.2" stroke="#202"/><path d="M196.9,394.1l-1.6,2.2l-2.1,3.1" stroke="#102"/><path d="M193.2,399.4l-2.2,3l-2.7,2.6l-2.6,2.7l-2.6,1.7l-2.7,1.8" stroke="#101"/><path d="M198.8,376.7l-2.6,3.2" stroke="#203"/><path d="M196.2,379.9l-2.6,3.3l-2.7,3.5" stroke="#102"/><path d="M190.9,386.7l-2.6,3.5l-2.6,3l-2.6,3.1l-3.1,3.5l-3.1,3.5" stroke="#101"/><path d="M181.3,384.9l-2.6,2.2" stroke="#203"/><path d="M178.7,387.1l-2.7,2.2l-2.6,2.7" stroke="#102"/><path d="M173.4,392l-2.6,2.6l-2.6,3l-2.7,3.1l-1.7,2.3l-1.8,2.4l-.8,1.7l-.9,1.8" stroke="#101"/><path d="M163.8,389l-3,1.9" stroke="#202"/><path d="M160.8,390.9l-3.1,1.9l-2.6,2.7" stroke="#102"/><path d="M155.1,395.5l-2.7,2.6l-1.7,2.6l-1.8,2.6l-.5,2.5l-.4,2.4" stroke="#101"/><path d="M198.8,376.7l-3.5,1.5" stroke="#4f9"/><path d="M195.3,378.2l-3.5,1.5" stroke="#6f7"/><path d="M191.8,379.7l-3.5,1.7" stroke="#7f6"/><path d="M188.3,381.4l-3.5,1.8" stroke="#7f7"/><path d="M184.8,383.2l-2.2,.6" stroke="#6f8"/><path d="M182.6,383.8l-2.2,.6" stroke="#4f9"/><path d="M180.4,384.4l-3,.5" stroke="#3fb"/><path d="M177.4,384.9l-3.1,.5" stroke="#2fd"/><path d="M174.3,385.4l-3.5,1.2" stroke="#0ee"/><path d="M170.8,386.6l-3.5,1.3" stroke="#0cf"/><path d="M167.3,387.9l-3.5,.5" stroke="#0af"/><path d="M163.8,388.4l-3.5,.4" stroke="#09f"/><path d="M160.3,388.8l-2.6,.4" stroke="#01f"/><path d="M157.7,389.2l-2.7,.5" stroke="#50a"/><path d="M155,389.7l-1.8,.7l-1.7,.6" stroke="#306"/><path d="M151.5,391l-2.2,1.8" stroke="#305"/><path d="M149.3,392.8l-2.1,1.8" stroke="#204"/><path d="M147.2,394.6l-1.4,2.6l-1.3,2.6" stroke="#203"/><path d="M144.5,399.8l-.4,3.1" stroke="#202"/><path d="M144.1,402.9l-.4,3.1l.9,3" stroke="#102"/><path d="M144.6,409l.8,3l1.8,1.9l1.7,2l1.8,.9l1.7,.9" stroke="#101"/><path d="M198.8,376.7l.4,2.3" stroke="#0ef"/><path d="M199.2,379l.5,2.4l-.3,3.1" stroke="#0df"/><path d="M199.4,384.5l-.2,3.1l-.2,2.6" stroke="#0cf"/><path d="M199,390.2l-.2,2.6" stroke="#0bf"/><path d="M198.8,392.8l.7,2.7l.7,2.6" stroke="#0af"/><path d="M200.2,398.1l1,2.1" stroke="#09f"/><path d="M201.2,400.2l1.1,2.2" stroke="#08f"/><path d="M202.3,402.4l1.4,2.2" stroke="#01f"/><path d="M203.7,404.6l1.3,2.2" stroke="#10f"/><path d="M205,406.8l.4,1.3" stroke="#31d"/><path d="M205.4,408.1l.4,1.3" stroke="#40b"/><path d="M205,370.9l-1.5,1.3" stroke="#0bf"/><path d="M203.5,372.2l-1.5,1.4" stroke="#0df"/><path d="M202,373.6l-1.6,1.5" stroke="#1fd"/><path d="M200.4,375.1l-1.6,1.6" stroke="#3fc"/></g></g>
<use href="#lcbox_s" transform="translate(377.96,768.42) scale(0.43)"/>
<g transform="translate(377.96,768.42) scale(0.43)"><g stroke-width="2.3" stroke-linecap="round" stroke-linejoin="round" fill="none" stroke-opacity="0.9"><path d="M205.8,409.4l-1.7,1.4l-1.8,1.3" stroke="#102"/><path d="M202.3,412.1l-3.5,1.7l-3.5,1.6l-4.4,1.6l-4.3,1.6l-4,1.2l-3.9,1.1" stroke="#101"/><path d="M205.6,410.2l-2.3,2l-2.3,2" stroke="#102"/><path d="M201,414.2l-3.5,2l-3.5,2l-4.5,1.9l-4.5,1.9l-3.7,1.3l-3.7,1.3" stroke="#101"/><path d="M205.8,409.4l0,0l0,0" stroke="#102"/><path d="M205.8,409.4l0,0l0,0l0,0l0,0l0,0l0,0" stroke="#101"/><path d="M203.2,404.2l-2,2" stroke="#202"/><path d="M201.2,406.2l-1.9,2.1l-2.9,1.6" stroke="#102"/><path d="M196.4,409.9l-2.8,1.6l-3,1.2l-3.1,1.2l-3.6,1.2l-3.5,1.2" stroke="#101"/><path d="M198.5,391.9l-1.6,2.2" stroke="#202"/><path d="M196.9,394.1l-1.6,2.2l-2.1,3.1" stroke="#102"/><path d="M193.2,399.4l-2.2,3l-2.7,2.6l-2.6,2.7l-2.6,1.7l-2.7,1.8" stroke="#101"/><path d="M198.8,376.7l-2.6,3.2" stroke="#203"/><path d="M196.2,379.9l-2.6,3.3l-2.7,3.5" stroke="#102"/><path d="M190.9,386.7l-2.6,3.5l-2.6,3l-2.6,3.1l-3.1,3.5l-3.1,3.5" stroke="#101"/><path d="M181.3,384.9l-2.6,2.2" stroke="#203"/><path d="M178.7,387.1l-2.7,2.2l-2.6,2.7" stroke="#102"/><path d="M173.4,392l-2.6,2.6l-2.6,3l-2.7,3.1l-1.7,2.3l-1.8,2.4l-.8,1.7l-.9,1.8" stroke="#101"/><path d="M163.8,389l-3,1.9" stroke="#202"/><path d="M160.8,390.9l-3.1,1.9l-2.6,2.7" stroke="#102"/><path d="M155.1,395.5l-2.7,2.6l-1.7,2.6l-1.8,2.6l-.5,2.5l-.4,2.4" stroke="#101"/><path d="M198.8,376.7l-3.5,1.5" stroke="#8f6"/><path d="M195.3,378.2l-3.5,1.5" stroke="#bf4"/><path d="M191.8,379.7l-3.5,1.7" stroke="#cf2"/><path d="M188.3,381.4l-3.5,1.8" stroke="#cf3"/><path d="M184.8,383.2l-2.2,.6" stroke="#af4"/><path d="M182.6,383.8l-2.2,.6" stroke="#8f6"/><path d="M180.4,384.4l-3,.5" stroke="#6f8"/><path d="M177.4,384.9l-3.1,.5" stroke="#4fa"/><path d="M174.3,385.4l-3.5,1.2" stroke="#2fc"/><path d="M170.8,386.6l-3.5,1.3" stroke="#0ef"/><path d="M167.3,387.9l-3.5,.5" stroke="#0bf"/><path d="M163.8,388.4l-3.5,.4" stroke="#09f"/><path d="M160.3,388.8l-2.6,.4" stroke="#08f"/><path d="M157.7,389.2l-2.7,.5" stroke="#41d"/><path d="M155,389.7l-1.8,.7" stroke="#408"/><path d="M153.2,390.4l-1.7,.6" stroke="#307"/><path d="M151.5,391l-2.2,1.8" stroke="#305"/><path d="M149.3,392.8l-2.1,1.8" stroke="#204"/><path d="M147.2,394.6l-1.4,2.6l-1.3,2.6" stroke="#203"/><path d="M144.5,399.8l-.4,3.1" stroke="#202"/><path d="M144.1,402.9l-.4,3.1l.9,3" stroke="#102"/><path d="M144.6,409l.8,3l1.8,1.9l1.7,2l1.8,.9l1.7,.9" stroke="#101"/><path d="M198.8,376.7l.4,2.3" stroke="#0ef"/><path d="M199.2,379l.5,2.4l-.3,3.1" stroke="#0df"/><path d="M199.4,384.5l-.2,3.1l-.2,2.6" stroke="#0cf"/><path d="M199,390.2l-.2,2.6" stroke="#0bf"/><path d="M198.8,392.8l.7,2.7l.7,2.6" stroke="#0af"/><path d="M200.2,398.1l1,2.1" stroke="#09f"/><path d="M201.2,400.2l1.1,2.2" stroke="#08f"/><path d="M202.3,402.4l1.4,2.2" stroke="#01f"/><path d="M203.7,404.6l1.3,2.2" stroke="#10f"/><path d="M205,406.8l.4,1.3" stroke="#31d"/><path d="M205.4,408.1l.4,1.3" stroke="#40b"/><path d="M205,370.9l-1.5,1.3" stroke="#0df"/><path d="M203.5,372.2l-1.5,1.4" stroke="#1fd"/><path d="M202,373.6l-1.6,1.5" stroke="#3fb"/><path d="M200.4,375.1l-1.6,1.6" stroke="#5f9"/></g></g>
<use href="#lcbox_s" transform="translate(441.06,768.42) scale(0.43)"/>
<g transform="translate(441.06,768.42) scale(0.43)"><g stroke-width="2.3" stroke-linecap="round" stroke-linejoin="round" fill="none" stroke-opacity="0.9"><path d="M205.8,409.4l-1.7,1.4l-1.8,1.3" stroke="#102"/><path d="M202.3,412.1l-3.5,1.7l-3.5,1.6l-4.4,1.6l-4.3,1.6l-4,1.2l-3.9,1.1" stroke="#101"/><path d="M205.6,410.2l-2.3,2l-2.3,2" stroke="#102"/><path d="M201,414.2l-3.5,2l-3.5,2l-4.5,1.9l-4.5,1.9l-3.7,1.3l-3.7,1.3" stroke="#101"/><path d="M205.8,409.4l0,0l0,0" stroke="#102"/><path d="M205.8,409.4l0,0l0,0l0,0l0,0l0,0l0,0" stroke="#101"/><path d="M203.2,404.2l-2,2" stroke="#202"/><path d="M201.2,406.2l-1.9,2.1l-2.9,1.6" stroke="#102"/><path d="M196.4,409.9l-2.8,1.6l-3,1.2l-3.1,1.2l-3.6,1.2l-3.5,1.2" stroke="#101"/><path d="M198.5,391.9l-1.6,2.2" stroke="#202"/><path d="M196.9,394.1l-1.6,2.2l-2.1,3.1" stroke="#102"/><path d="M193.2,399.4l-2.2,3l-2.7,2.6l-2.6,2.7l-2.6,1.7l-2.7,1.8" stroke="#101"/><path d="M198.8,376.7l-2.6,3.2" stroke="#203"/><path d="M196.2,379.9l-2.6,3.3l-2.7,3.5" stroke="#102"/><path d="M190.9,386.7l-2.6,3.5l-2.6,3l-2.6,3.1l-3.1,3.5l-3.1,3.5" stroke="#101"/><path d="M181.3,384.9l-2.6,2.2" stroke="#203"/><path d="M178.7,387.1l-2.7,2.2l-2.6,2.7" stroke="#102"/><path d="M173.4,392l-2.6,2.6l-2.6,3l-2.7,3.1l-1.7,2.3l-1.8,2.4l-.8,1.7l-.9,1.8" stroke="#101"/><path d="M163.8,389l-3,1.9" stroke="#202"/><path d="M160.8,390.9l-3.1,1.9l-2.6,2.7" stroke="#102"/><path d="M155.1,395.5l-2.7,2.6l-1.7,2.6l-1.8,2.6l-.5,2.5l-.4,2.4" stroke="#101"/><path d="M198.8,376.7l-3.5,1.5" stroke="#cf3"/><path d="M195.3,378.2l-3.5,1.5" stroke="#ff0"/><path d="M191.8,379.7l-3.5,1.7" stroke="#fd0"/><path d="M188.3,381.4l-3.5,1.8" stroke="#fe0"/><path d="M184.8,383.2l-2.2,.6" stroke="#ff0"/><path d="M182.6,383.8l-2.2,.6" stroke="#cf2"/><path d="M180.4,384.4l-3,.5" stroke="#af5"/><path d="M177.4,384.9l-3.1,.5" stroke="#7f7"/><path d="M174.3,385.4l-3.5,1.2" stroke="#4fa"/><path d="M170.8,386.6l-3.5,1.3" stroke="#1fd"/><path d="M167.3,387.9l-3.5,.5" stroke="#0df"/><path d="M163.8,388.4l-3.5,.4" stroke="#0af"/><path d="M160.3,388.8l-2.6,.4" stroke="#09f"/><path d="M157.7,389.2l-2.7,.5" stroke="#10f"/><path d="M155,389.7l-1.8,.7" stroke="#409"/><path d="M153.2,390.4l-1.7,.6" stroke="#407"/><path d="M151.5,391l-2.2,1.8" stroke="#305"/><path d="M149.3,392.8l-2.1,1.8" stroke="#204"/><path d="M147.2,394.6l-1.4,2.6l-1.3,2.6" stroke="#203"/><path d="M144.5,399.8l-.4,3.1" stroke="#202"/><path d="M144.1,402.9l-.4,3.1l.9,3" stroke="#102"/><path d="M144.6,409l.8,3l1.8,1.9l1.7,2l1.8,.9l1.7,.9" stroke="#101"/><path d="M198.8,376.7l.4,2.3" stroke="#0ef"/><path d="M199.2,379l.5,2.4l-.3,3.1" stroke="#0df"/><path d="M199.4,384.5l-.2,3.1l-.2,2.6" stroke="#0cf"/><path d="M199,390.2l-.2,2.6" stroke="#0bf"/><path d="M198.8,392.8l.7,2.7l.7,2.6" stroke="#0af"/><path d="M200.2,398.1l1,2.1" stroke="#09f"/><path d="M201.2,400.2l1.1,2.2" stroke="#08f"/><path d="M202.3,402.4l1.4,2.2" stroke="#01f"/><path d="M203.7,404.6l1.3,2.2" stroke="#10f"/><path d="M205,406.8l.4,1.3" stroke="#31d"/><path d="M205.4,408.1l.4,1.3" stroke="#40b"/><path d="M205,370.9l-1.5,1.3" stroke="#1ee"/><path d="M203.5,372.2l-1.5,1.4" stroke="#3fb"/><path d="M202,373.6l-1.6,1.5" stroke="#5f8"/><path d="M200.4,375.1l-1.6,1.6" stroke="#8f6"/></g></g>
<use href="#lcbox_s" transform="translate(504.16,768.42) scale(0.43)"/>
<g transform="translate(504.16,768.42) scale(0.43)"><g stroke-width="2.3" stroke-linecap="round" stroke-linejoin="round" fill="none" stroke-opacity="0.9"><path d="M205.8,409.4l-1.7,1.4l-1.8,1.3" stroke="#102"/><path d="M202.3,412.1l-3.5,1.7l-3.5,1.6l-4.4,1.6l-4.3,1.6l-4,1.2l-3.9,1.1" stroke="#101"/><path d="M205.6,410.2l-2.3,2l-2.3,2" stroke="#102"/><path d="M201,414.2l-3.5,2l-3.5,2l-4.5,1.9l-4.5,1.9l-3.7,1.3l-3.7,1.3" stroke="#101"/><path d="M205.8,409.4l0,0l0,0" stroke="#102"/><path d="M205.8,409.4l0,0l0,0l0,0l0,0l0,0l0,0" stroke="#101"/><path d="M203.2,404.2l-2,2" stroke="#202"/><path d="M201.2,406.2l-1.9,2.1l-2.9,1.6" stroke="#102"/><path d="M196.4,409.9l-2.8,1.6l-3,1.2l-3.1,1.2l-3.6,1.2l-3.5,1.2" stroke="#101"/><path d="M198.5,391.9l-1.6,2.2" stroke="#202"/><path d="M196.9,394.1l-1.6,2.2l-2.1,3.1" stroke="#102"/><path d="M193.2,399.4l-2.2,3l-2.7,2.6l-2.6,2.7l-2.6,1.7l-2.7,1.8" stroke="#101"/><path d="M198.8,376.7l-2.6,3.2" stroke="#203"/><path d="M196.2,379.9l-2.6,3.3l-2.7,3.5" stroke="#102"/><path d="M190.9,386.7l-2.6,3.5l-2.6,3l-2.6,3.1l-3.1,3.5l-3.1,3.5" stroke="#101"/><path d="M181.3,384.9l-2.6,2.2" stroke="#203"/><path d="M178.7,387.1l-2.7,2.2l-2.6,2.7" stroke="#102"/><path d="M173.4,392l-2.6,2.6l-2.6,3l-2.7,3.1l-1.7,2.3l-1.8,2.4l-.8,1.7l-.9,1.8" stroke="#101"/><path d="M163.8,389l-3,1.9" stroke="#202"/><path d="M160.8,390.9l-3.1,1.9l-2.6,2.7" stroke="#102"/><path d="M155.1,395.5l-2.7,2.6l-1.7,2.6l-1.8,2.6l-.5,2.5l-.4,2.4" stroke="#101"/><path d="M198.8,376.7l-3.5,1.5" stroke="#ef1"/><path d="M195.3,378.2l-3.5,1.5" stroke="#fc0"/><path d="M191.8,379.7l-3.5,1.7" stroke="#fa0"/><path d="M188.3,381.4l-3.5,1.8" stroke="#fb0"/><path d="M184.8,383.2l-2.2,.6" stroke="#fc0"/><path d="M182.6,383.8l-2.2,.6" stroke="#ff0"/><path d="M180.4,384.4l-3,.5" stroke="#cf3"/><path d="M177.4,384.9l-3.1,.5" stroke="#9f5"/><path d="M174.3,385.4l-3.5,1.2" stroke="#5f8"/><path d="M170.8,386.6l-3.5,1.3" stroke="#2fc"/><path d="M167.3,387.9l-3.5,.5" stroke="#0ef"/><path d="M163.8,388.4l-3.5,.4" stroke="#0bf"/><path d="M160.3,388.8l-2.6,.4" stroke="#09f"/><path d="M157.7,389.2l-2.7,.5" stroke="#01f"/><path d="M155,389.7l-1.8,.7" stroke="#50a"/><path d="M153.2,390.4l-1.7,.6" stroke="#408"/><path d="M151.5,391l-2.2,1.8" stroke="#305"/><path d="M149.3,392.8l-2.1,1.8" stroke="#204"/><path d="M147.2,394.6l-1.4,2.6l-1.3,2.6" stroke="#203"/><path d="M144.5,399.8l-.4,3.1" stroke="#202"/><path d="M144.1,402.9l-.4,3.1l.9,3" stroke="#102"/><path d="M144.6,409l.8,3l1.8,1.9l1.7,2l1.8,.9l1.7,.9" stroke="#101"/><path d="M198.8,376.7l.4,2.3" stroke="#0ef"/><path d="M199.2,379l.5,2.4l-.3,3.1" stroke="#0df"/><path d="M199.4,384.5l-.2,3.1l-.2,2.6" stroke="#0cf"/><path d="M199,390.2l-.2,2.6" stroke="#0bf"/><path d="M198.8,392.8l.7,2.7l.7,2.6" stroke="#0af"/><path d="M200.2,398.1l1,2.1" stroke="#09f"/><path d="M201.2,400.2l1.1,2.2" stroke="#08f"/><path d="M202.3,402.4l1.4,2.2" stroke="#01f"/><path d="M203.7,404.6l1.3,2.2" stroke="#10f"/><path d="M205,406.8l.4,1.3" stroke="#31d"/><path d="M205.4,408.1l.4,1.3" stroke="#40b"/><path d="M205,370.9l-1.5,1.3" stroke="#1fd"/><path d="M203.5,372.2l-1.5,1.4" stroke="#4fa"/><path d="M202,373.6l-1.6,1.5" stroke="#7f7"/><path d="M200.4,375.1l-1.6,1.6" stroke="#bf4"/></g></g>
<use href="#lcbox_s" transform="translate(567.26,768.42) scale(0.43)"/>
<g transform="translate(567.26,768.42) scale(0.43)"><g stroke-width="2.3" stroke-linecap="round" stroke-linejoin="round" fill="none" stroke-opacity="0.9"><path d="M205.8,409.4l-1.7,1.4l-1.8,1.3" stroke="#102"/><path d="M202.3,412.1l-3.5,1.7l-3.5,1.6l-4.4,1.6l-4.3,1.6l-4,1.2l-3.9,1.1" stroke="#101"/><path d="M205.6,410.2l-2.3,2l-2.3,2" stroke="#102"/><path d="M201,414.2l-3.5,2l-3.5,2l-4.5,1.9l-4.5,1.9l-3.7,1.3l-3.7,1.3" stroke="#101"/><path d="M205.8,409.4l0,0l0,0" stroke="#102"/><path d="M205.8,409.4l0,0l0,0l0,0l0,0l0,0l0,0" stroke="#101"/><path d="M203.2,404.2l-2,2" stroke="#202"/><path d="M201.2,406.2l-1.9,2.1l-2.9,1.6" stroke="#102"/><path d="M196.4,409.9l-2.8,1.6l-3,1.2l-3.1,1.2l-3.6,1.2l-3.5,1.2" stroke="#101"/><path d="M198.5,391.9l-1.6,2.2" stroke="#202"/><path d="M196.9,394.1l-1.6,2.2l-2.1,3.1" stroke="#102"/><path d="M193.2,399.4l-2.2,3l-2.7,2.6l-2.6,2.7l-2.6,1.7l-2.7,1.8" stroke="#101"/><path d="M198.8,376.7l-2.6,3.2" stroke="#203"/><path d="M196.2,379.9l-2.6,3.3l-2.7,3.5" stroke="#102"/><path d="M190.9,386.7l-2.6,3.5l-2.6,3l-2.6,3.1l-3.1,3.5l-3.1,3.5" stroke="#101"/><path d="M181.3,384.9l-2.6,2.2" stroke="#203"/><path d="M178.7,387.1l-2.7,2.2l-2.6,2.7" stroke="#102"/><path d="M173.4,392l-2.6,2.6l-2.6,3l-2.7,3.1l-1.7,2.3l-1.8,2.4l-.8,1.7l-.9,1.8" stroke="#101"/><path d="M163.8,389l-3,1.9" stroke="#202"/><path d="M160.8,390.9l-3.1,1.9l-2.6,2.7" stroke="#102"/><path d="M155.1,395.5l-2.7,2.6l-1.7,2.6l-1.8,2.6l-.5,2.5l-.4,2.4" stroke="#101"/><path d="M198.8,376.7l-3.5,1.5" stroke="#fc0"/><path d="M195.3,378.2l-3.5,1.5" stroke="#f80"/><path d="M191.8,379.7l-3.5,1.7" stroke="#f60"/><path d="M188.3,381.4l-3.5,1.8" stroke="#f70"/><path d="M184.8,383.2l-2.2,.6" stroke="#f80"/><path d="M182.6,383.8l-2.2,.6" stroke="#fb0"/><path d="M180.4,384.4l-3,.5" stroke="#fe0"/><path d="M177.4,384.9l-3.1,.5" stroke="#cf3"/><path d="M174.3,385.4l-3.5,1.2" stroke="#8f6"/><path d="M170.8,386.6l-3.5,1.3" stroke="#3fa"/><path d="M167.3,387.9l-3.5,.5" stroke="#1ee"/><path d="M163.8,388.4l-3.5,.4" stroke="#0cf"/><path d="M160.3,388.8l-2.6,.4" stroke="#0af"/><path d="M157.7,389.2l-2.7,.5" stroke="#08f"/><path d="M155,389.7l-1.8,.7" stroke="#41c"/><path d="M153.2,390.4l-1.7,.6" stroke="#408"/><path d="M151.5,391l-2.2,1.8" stroke="#305"/><path d="M149.3,392.8l-2.1,1.8" stroke="#204"/><path d="M147.2,394.6l-1.4,2.6l-1.3,2.6" stroke="#203"/><path d="M144.5,399.8l-.4,3.1" stroke="#202"/><path d="M144.1,402.9l-.4,3.1l.9,3" stroke="#102"/><path d="M144.6,409l.8,3l1.8,1.9l1.7,2l1.8,.9l1.7,.9" stroke="#101"/><path d="M198.8,376.7l.4,2.3" stroke="#0ef"/><path d="M199.2,379l.5,2.4l-.3,3.1" stroke="#0df"/><path d="M199.4,384.5l-.2,3.1l-.2,2.6" stroke="#0cf"/><path d="M199,390.2l-.2,2.6" stroke="#0bf"/><path d="M198.8,392.8l.7,2.7l.7,2.6" stroke="#0af"/><path d="M200.2,398.1l1,2.1" stroke="#09f"/><path d="M201.2,400.2l1.1,2.2" stroke="#08f"/><path d="M202.3,402.4l1.4,2.2" stroke="#01f"/><path d="M203.7,404.6l1.3,2.2" stroke="#10f"/><path d="M205,406.8l.4,1.3" stroke="#31d"/><path d="M205.4,408.1l.4,1.3" stroke="#40b"/><path d="M205,370.9l-1.5,1.3" stroke="#2fc"/><path d="M203.5,372.2l-1.5,1.4" stroke="#5f8"/><path d="M202,373.6l-1.6,1.5" stroke="#af5"/><path d="M200.4,375.1l-1.6,1.6" stroke="#ef1"/></g></g>
<use href="#lcbox_s" transform="translate(347.86,818.42) scale(0.43)"/>
<g transform="translate(347.86,818.42) scale(0.43)"><g stroke-width="2.3" stroke-linecap="round" stroke-linejoin="round" fill="none" stroke-opacity="0.9"><path d="M205.8,409.4l-1.7,1.4l-1.8,1.3l-3.5,1.7l-3.5,1.6l-4.4,1.6l-4.3,1.6l-4,1.2l-3.9,1.1" stroke="#fff" stroke-width="1.6"/><path d="M205.6,410.2l-2.3,2l-2.3,2l-3.5,2l-3.5,2l-4.5,1.9l-4.5,1.9l-3.7,1.3l-3.7,1.3" stroke="#fff" stroke-width="1.6"/><path d="M205.8,409.4l0,0l0,0l0,0l0,0l0,0l0,0l0,0l0,0" stroke="#fff" stroke-width="1.6"/><path d="M203.2,404.2l-2,2l-1.9,2.1l-2.9,1.6l-2.8,1.6l-3,1.2l-3.1,1.2l-3.6,1.2l-3.5,1.2" stroke="#fff" stroke-width="1.6"/><path d="M198.5,391.9l-1.6,2.2l-1.6,2.2l-2.1,3.1l-2.2,3l-2.7,2.6l-2.6,2.7l-2.6,1.7l-2.7,1.8" stroke="#fff" stroke-width="1.6"/><path d="M198.8,376.7l-2.6,3.2l-2.6,3.3l-2.7,3.5l-2.6,3.5l-2.6,3l-2.6,3.1l-3.1,3.5l-3.1,3.5" stroke="#fff" stroke-width="1.6"/><path d="M181.3,384.9l-2.6,2.2l-2.7,2.2l-2.6,2.7l-2.6,2.6l-2.6,3l-2.7,3.1l-1.7,2.3l-1.8,2.4l-.8,1.7l-.9,1.8" stroke="#fff" stroke-width="1.6"/><path d="M163.8,389l-3,1.9l-3.1,1.9l-2.6,2.7l-2.7,2.6l-1.7,2.6l-1.8,2.6l-.5,2.5l-.4,2.4" stroke="#fff" stroke-width="1.6"/><path d="M198.8,376.7l-3.5,1.5" stroke="#eb9"/><path d="M195.3,378.2l-3.5,1.5" stroke="#fb9"/><path d="M191.8,379.7l-3.5,1.7l-3.5,1.8l-2.2,.6" stroke="#fba"/><path d="M182.6,383.8l-2.2,.6" stroke="#fca"/><path d="M180.4,384.4l-3,.5l-3.1,.5l-3.5,1.2" stroke="#fcb"/><path d="M170.8,386.6l-3.5,1.3l-3.5,.5" stroke="#fdc"/><path d="M163.8,388.4l-3.5,.4" stroke="#fdd"/><path d="M160.3,388.8l-2.6,.4" stroke="#fed"/><path d="M157.7,389.2l-2.7,.5" stroke="#fee"/><path d="M155,389.7l-1.8,.7" stroke="#ffe"/><path d="M153.2,390.4l-1.7,.6l-2.2,1.8l-2.1,1.8l-1.4,2.6l-1.3,2.6l-.4,3.1l-.4,3.1l.9,3l.8,3l1.8,1.9l1.7,2l1.8,.9l1.7,.9" stroke="#fff" stroke-width="1.6"/><path d="M198.8,376.7l.4,2.3" stroke="#fba"/><path d="M199.2,379l.5,2.4l-.3,3.1" stroke="#fcb"/><path d="M199.4,384.5l-.2,3.1l-.2,2.6" stroke="#fdc"/><path d="M199,390.2l-.2,2.6" stroke="#fdd"/><path d="M198.8,392.8l.7,2.7l.7,2.6" stroke="#fed"/><path d="M200.2,398.1l1,2.1l1.1,2.2l1.4,2.2" stroke="#fee"/><path d="M203.7,404.6l1.3,2.2" stroke="#ffe" stroke-width="1.6"/><path d="M205,406.8l.4,1.3l.4,1.3" stroke="#fff" stroke-width="1.6"/><path d="M205,370.9l-1.5,1.3" stroke="#ea8"/><path d="M203.5,372.2l-1.5,1.4l-1.6,1.5l-1.6,1.6" stroke="#ea9"/></g></g>
<use href="#lcbox_s" transform="translate(409.86,818.42) scale(0.43)"/>
<g transform="translate(409.86,818.42) scale(0.43)"><g stroke-width="2.3" stroke-linecap="round" stroke-linejoin="round" fill="none" stroke-opacity="0.9"><path d="M205.8,409.4l-1.7,1.4l-1.8,1.3l-3.5,1.7l-3.5,1.6l-4.4,1.6l-4.3,1.6l-4,1.2l-3.9,1.1" stroke="#fff" stroke-width="1.6"/><path d="M205.6,410.2l-2.3,2l-2.3,2l-3.5,2l-3.5,2l-4.5,1.9l-4.5,1.9l-3.7,1.3l-3.7,1.3" stroke="#fff" stroke-width="1.6"/><path d="M205.8,409.4l0,0l0,0l0,0l0,0l0,0l0,0l0,0l0,0" stroke="#fff" stroke-width="1.6"/><path d="M203.2,404.2l-2,2l-1.9,2.1l-2.9,1.6l-2.8,1.6l-3,1.2l-3.1,1.2l-3.6,1.2l-3.5,1.2" stroke="#fff" stroke-width="1.6"/><path d="M198.5,391.9l-1.6,2.2l-1.6,2.2l-2.1,3.1l-2.2,3l-2.7,2.6l-2.6,2.7l-2.6,1.7l-2.7,1.8" stroke="#fff" stroke-width="1.6"/><path d="M198.8,376.7l-2.6,3.2l-2.6,3.3l-2.7,3.5l-2.6,3.5l-2.6,3l-2.6,3.1l-3.1,3.5l-3.1,3.5" stroke="#fff" stroke-width="1.6"/><path d="M181.3,384.9l-2.6,2.2l-2.7,2.2l-2.6,2.7l-2.6,2.6l-2.6,3l-2.7,3.1l-1.7,2.3l-1.8,2.4l-.8,1.7l-.9,1.8" stroke="#fff" stroke-width="1.6"/><path d="M163.8,389l-3,1.9l-3.1,1.9l-2.6,2.7l-2.7,2.6l-1.7,2.6l-1.8,2.6l-.5,2.5l-.4,2.4" stroke="#fff" stroke-width="1.6"/><path d="M198.8,376.7l-3.5,1.5l-3.5,1.5" stroke="#e86"/><path d="M191.8,379.7l-3.5,1.7l-3.5,1.8l-2.2,.6" stroke="#e97"/><path d="M182.6,383.8l-2.2,.6l-3,.5" stroke="#ea8"/><path d="M177.4,384.9l-3.1,.5" stroke="#ea9"/><path d="M174.3,385.4l-3.5,1.2" stroke="#eb9"/><path d="M170.8,386.6l-3.5,1.3" stroke="#fba"/><path d="M167.3,387.9l-3.5,.5l-3.5,.4" stroke="#fcb"/><path d="M160.3,388.8l-2.6,.4" stroke="#fdc"/><path d="M157.7,389.2l-2.7,.5" stroke="#fed"/><path d="M155,389.7l-1.8,.7" stroke="#fee"/><path d="M153.2,390.4l-1.7,.6" stroke="#ffe" stroke-width="1.6"/><path d="M151.5,391l-2.2,1.8l-2.1,1.8l-1.4,2.6l-1.3,2.6l-.4,3.1l-.4,3.1l.9,3l.8,3l1.8,1.9l1.7,2l1.8,.9l1.7,.9" stroke="#fff" stroke-width="1.6"/><path d="M198.8,376.7l.4,2.3l.5,2.4" stroke="#ea8"/><path d="M199.7,381.4l-.3,3.1" stroke="#fb9"/><path d="M199.4,384.5l-.2,3.1" stroke="#fba"/><path d="M199.2,387.6l-.2,2.6" stroke="#fcb"/><path d="M199,390.2l-.2,2.6" stroke="#fcc"/><path d="M198.8,392.8l.7,2.7" stroke="#fdc"/><path d="M199.5,395.5l.7,2.6l1,2.1" stroke="#fdd"/><path d="M201.2,400.2l1.1,2.2" stroke="#fed"/><path d="M202.3,402.4l1.4,2.2l1.3,2.2" stroke="#fee"/><path d="M205,406.8l.4,1.3" stroke="#ffe"/><path d="M205.4,408.1l.4,1.3" stroke="#fff" stroke-width="1.6"/><path d="M205,370.9l-1.5,1.3l-1.5,1.4l-1.6,1.5l-1.6,1.6" stroke="#e85"/></g></g>
<use href="#lcbox_s" transform="translate(471.86,818.42) scale(0.43)"/>
<g transform="translate(471.86,818.42) scale(0.43)"><g stroke-width="2.3" stroke-linecap="round" stroke-linejoin="round" fill="none" stroke-opacity="0.9"><path d="M205.8,409.4l-1.7,1.4l-1.8,1.3l-3.5,1.7l-3.5,1.6l-4.4,1.6l-4.3,1.6l-4,1.2l-3.9,1.1" stroke="#fff" stroke-width="1.6"/><path d="M205.6,410.2l-2.3,2l-2.3,2l-3.5,2l-3.5,2l-4.5,1.9l-4.5,1.9l-3.7,1.3l-3.7,1.3" stroke="#fff" stroke-width="1.6"/><path d="M205.8,409.4l0,0l0,0l0,0l0,0l0,0l0,0l0,0l0,0" stroke="#fff" stroke-width="1.6"/><path d="M203.2,404.2l-2,2l-1.9,2.1l-2.9,1.6l-2.8,1.6l-3,1.2l-3.1,1.2l-3.6,1.2l-3.5,1.2" stroke="#fff" stroke-width="1.6"/><path d="M198.5,391.9l-1.6,2.2l-1.6,2.2l-2.1,3.1l-2.2,3l-2.7,2.6l-2.6,2.7l-2.6,1.7l-2.7,1.8" stroke="#fff" stroke-width="1.6"/><path d="M198.8,376.7l-2.6,3.2l-2.6,3.3l-2.7,3.5l-2.6,3.5l-2.6,3l-2.6,3.1l-3.1,3.5l-3.1,3.5" stroke="#fff" stroke-width="1.6"/><path d="M181.3,384.9l-2.6,2.2l-2.7,2.2l-2.6,2.7l-2.6,2.6l-2.6,3l-2.7,3.1l-1.7,2.3l-1.8,2.4l-.8,1.7l-.9,1.8" stroke="#fff" stroke-width="1.6"/><path d="M163.8,389l-3,1.9l-3.1,1.9l-2.6,2.7l-2.7,2.6l-1.7,2.6l-1.8,2.6l-.5,2.5l-.4,2.4" stroke="#fff" stroke-width="1.6"/><path d="M198.8,376.7l-3.5,1.5" stroke="#e75"/><path d="M195.3,378.2l-3.5,1.5" stroke="#e85"/><path d="M191.8,379.7l-3.5,1.7l-3.5,1.8" stroke="#e86"/><path d="M184.8,383.2l-2.2,.6l-2.2,.6l-3,.5" stroke="#e97"/><path d="M177.4,384.9l-3.1,.5l-3.5,1.2" stroke="#ea8"/><path d="M170.8,386.6l-3.5,1.3" stroke="#eb9"/><path d="M167.3,387.9l-3.5,.5" stroke="#fba"/><path d="M163.8,388.4l-3.5,.4" stroke="#fcb"/><path d="M160.3,388.8l-2.6,.4" stroke="#fdc"/><path d="M157.7,389.2l-2.7,.5" stroke="#fdd"/><path d="M155,389.7l-1.8,.7" stroke="#fee"/><path d="M153.2,390.4l-1.7,.6" stroke="#ffe"/><path d="M151.5,391l-2.2,1.8l-2.1,1.8l-1.4,2.6l-1.3,2.6l-.4,3.1l-.4,3.1l.9,3l.8,3l1.8,1.9l1.7,2l1.8,.9l1.7,.9" stroke="#fff" stroke-width="1.6"/><path d="M198.8,376.7l.4,2.3" stroke="#e97"/><path d="M199.2,379l.5,2.4" stroke="#ea8"/><path d="M199.7,381.4l-.3,3.1" stroke="#ea9"/><path d="M199.4,384.5l-.2,3.1" stroke="#fb9"/><path d="M199.2,387.6l-.2,2.6" stroke="#fca"/><path d="M199,390.2l-.2,2.6" stroke="#fcb"/><path d="M198.8,392.8l.7,2.7l.7,2.6" stroke="#fdc"/><path d="M200.2,398.1l1,2.1" stroke="#fdd"/><path d="M201.2,400.2l1.1,2.2" stroke="#fed"/><path d="M202.3,402.4l1.4,2.2l1.3,2.2" stroke="#fee"/><path d="M205,406.8l.4,1.3" stroke="#ffe"/><path d="M205.4,408.1l.4,1.3" stroke="#fff" stroke-width="1.6"/><path d="M205,370.9l-1.5,1.3l-1.5,1.4l-1.6,1.5l-1.6,1.6" stroke="#e74"/></g></g>
<use href="#lcbox_s" transform="translate(533.86,818.42) scale(0.43)"/>
<g transform="translate(533.86,818.42) scale(0.43)"><g stroke-width="2.3" stroke-linecap="round" stroke-linejoin="round" fill="none" stroke-opacity="0.9"><path d="M205.8,409.4l-1.7,1.4l-1.8,1.3l-3.5,1.7l-3.5,1.6l-4.4,1.6l-4.3,1.6l-4,1.2l-3.9,1.1" stroke="#fff" stroke-width="1.6"/><path d="M205.6,410.2l-2.3,2l-2.3,2l-3.5,2l-3.5,2l-4.5,1.9l-4.5,1.9l-3.7,1.3l-3.7,1.3" stroke="#fff" stroke-width="1.6"/><path d="M205.8,409.4l0,0l0,0l0,0l0,0l0,0l0,0l0,0l0,0" stroke="#fff" stroke-width="1.6"/><path d="M203.2,404.2l-2,2l-1.9,2.1l-2.9,1.6l-2.8,1.6l-3,1.2l-3.1,1.2l-3.6,1.2l-3.5,1.2" stroke="#fff" stroke-width="1.6"/><path d="M198.5,391.9l-1.6,2.2l-1.6,2.2l-2.1,3.1l-2.2,3l-2.7,2.6l-2.6,2.7l-2.6,1.7l-2.7,1.8" stroke="#fff" stroke-width="1.6"/><path d="M198.8,376.7l-2.6,3.2l-2.6,3.3l-2.7,3.5l-2.6,3.5l-2.6,3l-2.6,3.1l-3.1,3.5l-3.1,3.5" stroke="#fff" stroke-width="1.6"/><path d="M181.3,384.9l-2.6,2.2l-2.7,2.2l-2.6,2.7l-2.6,2.6l-2.6,3l-2.7,3.1l-1.7,2.3l-1.8,2.4l-.8,1.7l-.9,1.8" stroke="#fff" stroke-width="1.6"/><path d="M163.8,389l-3,1.9l-3.1,1.9l-2.6,2.7l-2.7,2.6l-1.7,2.6l-1.8,2.6l-.5,2.5l-.4,2.4" stroke="#fff" stroke-width="1.6"/><path d="M198.8,376.7l-3.5,1.5l-3.5,1.5" stroke="#e74"/><path d="M191.8,379.7l-3.5,1.7" stroke="#e75"/><path d="M188.3,381.4l-3.5,1.8" stroke="#e85"/><path d="M184.8,383.2l-2.2,.6l-2.2,.6" stroke="#e86"/><path d="M180.4,384.4l-3,.5l-3.1,.5" stroke="#e97"/><path d="M174.3,385.4l-3.5,1.2" stroke="#ea8"/><path d="M170.8,386.6l-3.5,1.3" stroke="#ea9"/><path d="M167.3,387.9l-3.5,.5" stroke="#fb9"/><path d="M163.8,388.4l-3.5,.4" stroke="#fcb"/><path d="M160.3,388.8l-2.6,.4" stroke="#fcc"/><path d="M157.7,389.2l-2.7,.5" stroke="#fdd"/><path d="M155,389.7l-1.8,.7" stroke="#fee"/><path d="M153.2,390.4l-1.7,.6" stroke="#ffe"/><path d="M151.5,391l-2.2,1.8l-2.1,1.8l-1.4,2.6l-1.3,2.6l-.4,3.1l-.4,3.1l.9,3l.8,3l1.8,1.9l1.7,2l1.8,.9l1.7,.9" stroke="#fff" stroke-width="1.6"/><path d="M198.8,376.7l.4,2.3" stroke="#e86"/><path d="M199.2,379l.5,2.4" stroke="#e97"/><path d="M199.7,381.4l-.3,3.1" stroke="#ea8"/><path d="M199.4,384.5l-.2,3.1" stroke="#ea9"/><path d="M199.2,387.6l-.2,2.6" stroke="#fba"/><path d="M199,390.2l-.2,2.6l.7,2.7" stroke="#fcb"/><path d="M199.5,395.5l.7,2.6l1,2.1" stroke="#fdc"/><path d="M201.2,400.2l1.1,2.2" stroke="#fed"/><path d="M202.3,402.4l1.4,2.2l1.3,2.2l.4,1.3" stroke="#fee"/><path d="M205.4,408.1l.4,1.3" stroke="#ffe" stroke-width="1.6"/><path d="M205,370.9l-1.5,1.3l-1.5,1.4l-1.6,1.5" stroke="#e64"/><path d="M200.4,375.1l-1.6,1.6" stroke="#e74"/></g></g>
<text x="28.4" y="839.3" font-size="10" text-anchor="middle" fill="#111">Female</text>
<text x="25.2" y="886.2" font-size="10" text-anchor="middle" fill="#111">Difference</text>
<text x="25.2" y="898.2" font-size="10" text-anchor="middle" fill="#111">Maps</text>
<text x="28.2" y="941.9" font-size="10" text-anchor="middle" fill="#111">Male</text>
<path d="M22.6,851.6 L25.3,855 L28,851.6 L28,867.5 L31.4,867.5 L25.3,876.3 L19.2,867.5 L22.6,867.5Z" fill="url(#garrd)"/>
<path d="M25.3,902.9 L31.4,911.8 L28,911.8 L28,927 L25.3,923.6 L22.6,927 L22.6,911.8 L19.2,911.8Z" fill="url(#garru)"/>
<rect x="670.1" y="832.2" width="3.1" height="118.6" fill="url(#gjet)" stroke="#333" stroke-width="0.25"/>
<path d="M673.2,950.8h1" stroke="#333" stroke-width="0.3"/><text x="674.8" y="952.0" font-size="3.4" fill="#444">0</text><path d="M673.2,933.9h1" stroke="#333" stroke-width="0.3"/><text x="674.8" y="935.1" font-size="3.4" fill="#444">10</text><path d="M673.2,916.9h1" stroke="#333" stroke-width="0.3"/><text x="674.8" y="918.1" font-size="3.4" fill="#444">20</text><path d="M673.2,900.0h1" stroke="#333" stroke-width="0.3"/><text x="674.8" y="901.2" font-size="3.4" fill="#444">30</text><path d="M673.2,883.0h1" stroke="#333" stroke-width="0.3"/><text x="674.8" y="884.2" font-size="3.4" fill="#444">40</text><path d="M673.2,866.1h1" stroke="#333" stroke-width="0.3"/><text x="674.8" y="867.3" font-size="3.4" fill="#444">50</text><path d="M673.2,849.1h1" stroke="#333" stroke-width="0.3"/><text x="674.8" y="850.3" font-size="3.4" fill="#444">60</text><path d="M673.2,832.2h1" stroke="#333" stroke-width="0.3"/><text x="674.8" y="833.4" font-size="3.4" fill="#444">70</text>
<line x1="49" y1="1016.5" x2="330" y2="1016.5" stroke="#3d3a8e" stroke-width="1.6"/>
<path d="M327.9,1011.3 L340.4,1016.5 L327.9,1021.7 L330.5,1016.5Z" fill="#3d3a8e"/>
<line x1="368" y1="1016.5" x2="656" y2="1016.5" stroke="#3d3a8e" stroke-width="1.6"/>
<path d="M653.4,1011.3 L666,1016.5 L653.4,1021.7 L656,1016.5Z" fill="#3d3a8e"/>
<text x="309.0" y="1009.6" font-size="10.3" fill="#111">Age groups</text>
<text x="634.5" y="1009.9" font-size="10.3" fill="#111">Age groups</text>
<text x="69.4" y="1027.0" font-size="10" text-anchor="middle" fill="#111">&lt;45</text>
<text x="391.3" y="1027.0" font-size="10" text-anchor="middle" fill="#111">&lt;45</text>
<text x="131.4" y="1027.0" font-size="10" text-anchor="middle" fill="#111">45-55</text>
<text x="454.2" y="1027.0" font-size="10" text-anchor="middle" fill="#111">45-55</text>
<text x="193.5" y="1027.0" font-size="10" text-anchor="middle" fill="#111">55-65</text>
<text x="517.1" y="1027.0" font-size="10" text-anchor="middle" fill="#111">55-65</text>
<text x="255.5" y="1027.0" font-size="10" text-anchor="middle" fill="#111">65-75</text>
<text x="580.0" y="1027.0" font-size="10" text-anchor="middle" fill="#111">65-75</text>
<text x="317.6" y="1027.0" font-size="10" text-anchor="middle" fill="#111">≥75</text>
<text x="642.9" y="1027.0" font-size="10" text-anchor="middle" fill="#111">≥75</text>
</svg>
</body></html>
